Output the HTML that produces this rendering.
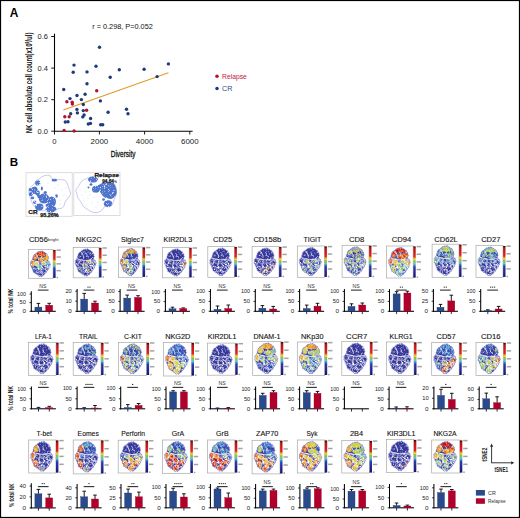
<!DOCTYPE html>
<html><head><meta charset="utf-8"><style>
html,body{margin:0;padding:0;background:#fff;}
svg{display:block;font-family:"Liberation Sans", sans-serif;}
</style></head><body>
<svg width="520" height="518" viewBox="0 0 520 518">
<rect x="0" y="0" width="520" height="518" fill="#fff"/>
<text x="9.7" y="16.7" font-size="11.9" text-anchor="start" fill="#000" font-weight="bold" >A</text>
<text x="92.2" y="29.1" font-size="7.4" text-anchor="start" fill="#111" font-weight="normal" textLength="60.6" lengthAdjust="spacingAndGlyphs" >r = 0.298, P=0.052</text>
<line x1="54.5" y1="33.7" x2="54.5" y2="131.8" stroke="#000" stroke-width="1.1"/>
<line x1="54.0" y1="131.3" x2="192.6" y2="131.3" stroke="#000" stroke-width="1.1"/>
<line x1="51.2" y1="131.2" x2="54.5" y2="131.2" stroke="#000" stroke-width="0.9"/>
<text x="48" y="133.79999999999998" font-size="7.3" text-anchor="end" fill="#222" font-weight="normal" textLength="10.4" lengthAdjust="spacingAndGlyphs" >0.0</text>
<line x1="51.2" y1="99.7" x2="54.5" y2="99.7" stroke="#000" stroke-width="0.9"/>
<text x="48" y="102.3" font-size="7.3" text-anchor="end" fill="#222" font-weight="normal" textLength="10.4" lengthAdjust="spacingAndGlyphs" >0.2</text>
<line x1="51.2" y1="68.1" x2="54.5" y2="68.1" stroke="#000" stroke-width="0.9"/>
<text x="48" y="70.69999999999999" font-size="7.3" text-anchor="end" fill="#222" font-weight="normal" textLength="10.4" lengthAdjust="spacingAndGlyphs" >0.4</text>
<line x1="51.2" y1="36.5" x2="54.5" y2="36.5" stroke="#000" stroke-width="0.9"/>
<text x="48" y="39.1" font-size="7.3" text-anchor="end" fill="#222" font-weight="normal" textLength="10.4" lengthAdjust="spacingAndGlyphs" >0.6</text>
<line x1="54.5" y1="131.3" x2="54.5" y2="134.5" stroke="#000" stroke-width="0.9"/>
<text x="54.5" y="143.8" font-size="6.4" text-anchor="middle" fill="#222" font-weight="normal" textLength="4.3" lengthAdjust="spacingAndGlyphs" >0</text>
<line x1="99.4" y1="131.3" x2="99.4" y2="134.5" stroke="#000" stroke-width="0.9"/>
<text x="99.4" y="143.8" font-size="6.4" text-anchor="middle" fill="#222" font-weight="normal" textLength="17.6" lengthAdjust="spacingAndGlyphs" >2000</text>
<line x1="144.6" y1="131.3" x2="144.6" y2="134.5" stroke="#000" stroke-width="0.9"/>
<text x="144.6" y="143.8" font-size="6.4" text-anchor="middle" fill="#222" font-weight="normal" textLength="17.6" lengthAdjust="spacingAndGlyphs" >4000</text>
<line x1="189.8" y1="131.3" x2="189.8" y2="134.5" stroke="#000" stroke-width="0.9"/>
<text x="189.8" y="143.8" font-size="6.4" text-anchor="middle" fill="#222" font-weight="normal" textLength="17.6" lengthAdjust="spacingAndGlyphs" >6000</text>
<text x="123.1" y="157.0" font-size="8.8" text-anchor="middle" fill="#111" font-weight="normal" textLength="24.6" lengthAdjust="spacingAndGlyphs" stroke="#111" stroke-width="0.3">Diversity</text>
<g transform="translate(31.8,133.3) rotate(-90)">
<text x="0" y="0" font-size="8.6" font-weight="bold" fill="#111" textLength="100.8" lengthAdjust="spacingAndGlyphs">NK cell absolute cell count(x10<tspan font-size="4.5" dy="-2.6">9</tspan><tspan dy="2.6">/ul)</tspan></text>
</g>
<line x1="63.4" y1="110.0" x2="168.4" y2="72.7" stroke="#e39a25" stroke-width="1.05"/>
<circle cx="99.5" cy="47.3" r="1.7" fill="#1d3b7c"/>
<circle cx="74.0" cy="65.1" r="1.7" fill="#1d3b7c"/>
<circle cx="73.2" cy="72.3" r="1.7" fill="#1d3b7c"/>
<circle cx="87.0" cy="71.9" r="1.7" fill="#1d3b7c"/>
<circle cx="96.0" cy="66.2" r="1.7" fill="#1d3b7c"/>
<circle cx="119.3" cy="69.7" r="1.7" fill="#1d3b7c"/>
<circle cx="110.2" cy="77.3" r="1.7" fill="#1d3b7c"/>
<circle cx="87.0" cy="83.8" r="1.7" fill="#1d3b7c"/>
<circle cx="63.7" cy="89.5" r="1.7" fill="#1d3b7c"/>
<circle cx="85.1" cy="94.3" r="1.7" fill="#1d3b7c"/>
<circle cx="77.0" cy="95.5" r="1.7" fill="#1d3b7c"/>
<circle cx="70.0" cy="98.6" r="1.7" fill="#1d3b7c"/>
<circle cx="81.4" cy="99.6" r="1.7" fill="#1d3b7c"/>
<circle cx="100.4" cy="100.9" r="1.7" fill="#1d3b7c"/>
<circle cx="83.3" cy="104.5" r="1.7" fill="#1d3b7c"/>
<circle cx="76.9" cy="109.4" r="1.7" fill="#1d3b7c"/>
<circle cx="83.3" cy="110.6" r="1.7" fill="#1d3b7c"/>
<circle cx="70.7" cy="113.7" r="1.7" fill="#1d3b7c"/>
<circle cx="77.4" cy="112.9" r="1.7" fill="#1d3b7c"/>
<circle cx="108.1" cy="112.3" r="1.7" fill="#1d3b7c"/>
<circle cx="84.1" cy="115.0" r="1.7" fill="#1d3b7c"/>
<circle cx="82.8" cy="116.9" r="1.7" fill="#1d3b7c"/>
<circle cx="90.6" cy="118.5" r="1.7" fill="#1d3b7c"/>
<circle cx="65.3" cy="122.0" r="1.7" fill="#1d3b7c"/>
<circle cx="68.0" cy="121.7" r="1.7" fill="#1d3b7c"/>
<circle cx="88.3" cy="124.0" r="1.7" fill="#1d3b7c"/>
<circle cx="90.5" cy="123.4" r="1.7" fill="#1d3b7c"/>
<circle cx="100.7" cy="124.8" r="1.7" fill="#1d3b7c"/>
<circle cx="102.7" cy="124.7" r="1.7" fill="#1d3b7c"/>
<circle cx="144.1" cy="69.3" r="1.7" fill="#1d3b7c"/>
<circle cx="168.4" cy="63.9" r="1.7" fill="#1d3b7c"/>
<circle cx="157.1" cy="76.6" r="1.7" fill="#1d3b7c"/>
<circle cx="126.5" cy="109.2" r="1.7" fill="#1d3b7c"/>
<circle cx="128.0" cy="113.7" r="1.7" fill="#1d3b7c"/>
<circle cx="96.7" cy="90.7" r="1.7" fill="#b3112e"/>
<circle cx="66.9" cy="101.7" r="1.7" fill="#b3112e"/>
<circle cx="72.2" cy="102.2" r="1.7" fill="#b3112e"/>
<circle cx="72.4" cy="104.1" r="1.7" fill="#b3112e"/>
<circle cx="86.6" cy="110.2" r="1.7" fill="#b3112e"/>
<circle cx="64.8" cy="116.8" r="1.7" fill="#b3112e"/>
<circle cx="69.2" cy="116.8" r="1.7" fill="#b3112e"/>
<circle cx="64.1" cy="130.4" r="1.7" fill="#b3112e"/>
<circle cx="74.1" cy="131.0" r="1.7" fill="#b3112e"/>
<circle cx="217" cy="76.3" r="1.75" fill="#b3112e"/>
<text x="222.1" y="78.6" font-size="7.3" text-anchor="start" fill="#b8203f" font-weight="normal" textLength="24.7" lengthAdjust="spacingAndGlyphs" >Relapse</text>
<circle cx="217" cy="88.4" r="1.75" fill="#1d3b7c"/>
<text x="222.1" y="90.9" font-size="7.3" text-anchor="start" fill="#2f4a86" font-weight="normal" textLength="10.3" lengthAdjust="spacingAndGlyphs" >CR</text>
<defs>
<path id="blob" d="M47.3,3.3 C48.8,3.0 50.3,4.5 51.8,4.3 C53.4,4.2 55.1,1.9 56.6,2.2 C58.1,2.5 59.2,5.4 60.8,6.2 C62.3,7.1 64.4,6.3 65.9,7.2 C67.4,8.0 68.2,10.4 69.7,11.3 C71.2,12.2 73.9,11.6 75.1,12.7 C76.3,13.8 76.1,16.6 77.1,18.0 C78.2,19.4 80.7,19.6 81.4,21.0 C82.0,22.3 80.7,24.6 81.0,26.0 C81.3,27.4 83.4,28.0 83.3,29.2 C83.2,30.5 80.9,32.3 80.4,33.6 C79.9,34.8 80.1,35.6 80.4,36.7 C80.8,37.8 81.3,39.2 82.5,40.2 C83.7,41.3 86.8,41.9 87.7,43.1 C88.6,44.3 87.4,45.9 88.0,47.3 C88.6,48.7 91.4,50.2 91.5,51.5 C91.6,52.8 88.9,54.0 88.4,55.3 C87.9,56.7 89.0,58.5 88.5,59.8 C87.9,61.1 85.6,61.9 84.9,63.3 C84.2,64.7 85.0,67.0 84.3,68.1 C83.5,69.2 81.3,69.0 80.5,70.0 C79.7,70.9 80.3,72.5 79.4,73.6 C78.5,74.8 76.2,75.2 75.1,76.6 C74.1,78.0 74.3,80.6 73.1,81.9 C71.8,83.2 69.2,83.2 67.7,84.6 C66.1,86.0 65.2,88.9 63.7,90.1 C62.2,91.3 60.3,90.7 58.7,91.8 C57.2,92.9 56.0,96.1 54.4,96.6 C52.8,97.1 51.0,94.8 49.2,94.8 C47.5,94.7 45.6,96.6 44.1,96.1 C42.6,95.6 41.7,92.5 40.3,91.6 C38.9,90.6 37.3,91.0 35.9,90.2 C34.5,89.3 33.4,87.2 31.9,86.4 C30.3,85.7 28.0,86.5 26.6,85.7 C25.2,84.9 24.8,82.5 23.4,81.6 C22.0,80.7 19.3,81.3 18.3,80.1 C17.3,78.9 18.1,76.0 17.5,74.5 C16.8,72.9 14.8,72.3 14.2,70.9 C13.5,69.4 14.2,67.4 13.6,66.0 C12.9,64.6 10.9,63.9 10.2,62.6 C9.5,61.2 10.1,59.4 9.3,58.0 C8.5,56.6 5.8,55.8 5.4,54.3 C5.0,52.7 7.0,50.5 7.0,48.6 C7.0,46.8 4.8,44.5 5.4,43.1 C6.0,41.7 9.2,41.3 10.3,40.2 C11.5,39.1 11.4,37.8 12.1,36.7 C12.9,35.6 14.5,34.8 15.0,33.6 C15.5,32.3 14.5,30.5 14.9,29.2 C15.3,28.0 17.1,27.4 17.5,26.0 C17.9,24.6 16.9,22.1 17.4,21.0 C18.0,19.8 20.2,20.2 21.0,19.3 C21.8,18.4 21.2,16.3 22.4,15.4 C23.5,14.5 26.3,14.9 27.9,14.0 C29.4,13.1 30.4,10.7 31.7,9.9 C32.9,9.1 34.3,9.9 35.3,9.2 C36.4,8.5 36.7,6.1 38.0,5.5 C39.2,5.0 41.3,6.4 42.8,6.0 C44.4,5.6 45.8,3.6 47.3,3.3Z"/>
<clipPath id="bc" clipPathUnits="userSpaceOnUse"><use href="#blob"/></clipPath>
<filter id="bl" x="-50%" y="-50%" width="200%" height="200%"><feGaussianBlur stdDeviation="1.2"/></filter>
<filter id="sp" x="0" y="0" width="100%" height="100%" color-interpolation-filters="sRGB"><feTurbulence type="fractalNoise" baseFrequency="0.14 0.12" numOctaves="3" seed="7" result="n"/><feColorMatrix in="n" type="matrix" values="0 0 0 0 0.85  0 0 0 0 0.85  0 0 0 0 0.97  3.0 0 0 0 -1.5"/></filter>
<filter id="gb" x="-10%" y="-10%" width="120%" height="120%"><feGaussianBlur stdDeviation="1.4"/></filter>
<g id="gaps" fill="none" stroke="#fff" stroke-opacity="0.78" filter="url(#gb)">
<path d="M8,36 C20,38 32,41 46,43 C58,44 72,41 86,40" stroke-width="3.2"/>
<path d="M31,14 C35,20 38,26 42,32" stroke-width="3.2"/>
<ellipse cx="14" cy="47" rx="8" ry="10.5" stroke-width="2.4"/>
<ellipse cx="33" cy="48" rx="10" ry="7" stroke-width="2.4"/>
<ellipse cx="46" cy="61" rx="10" ry="7.5" stroke-width="2.4"/>
<ellipse cx="80" cy="54" rx="11" ry="9.5" stroke-width="2.4"/>
<ellipse cx="61" cy="48" rx="8.5" ry="7" stroke-width="2.4"/>
<ellipse cx="24" cy="74" rx="10.5" ry="9.5" stroke-width="2.4"/>
<ellipse cx="48" cy="85" rx="10.5" ry="9" stroke-width="2.4"/>
<ellipse cx="62" cy="75" rx="11" ry="8.5" stroke-width="2.4"/>
<ellipse cx="78" cy="69" rx="6.5" ry="6.5" stroke-width="2.4"/>
</g>
<filter id="sb" x="0" y="0" width="100%" height="100%" color-interpolation-filters="sRGB"><feTurbulence type="fractalNoise" baseFrequency="0.3 0.26" numOctaves="2" seed="21" result="n"/><feColorMatrix in="n" type="matrix" values="0 0 0 0 0.16  0 0 0 0 0.16  0 0 0 0 0.5  4.0 0 0 0 -2.75"/></filter>
<filter id="sp2" x="0" y="0" width="100%" height="100%" color-interpolation-filters="sRGB"><feTurbulence type="fractalNoise" baseFrequency="0.16 0.14" numOctaves="2" seed="11" result="n"/><feColorMatrix in="n" type="matrix" values="0 0 0 0 1  0 0 0 0 1  0 0 0 0 1  6 0 0 0 -3.6"/></filter>
<linearGradient id="jet" x1="0" y1="1" x2="0" y2="0">
<stop offset="0" stop-color="#0e0e48"/>
<stop offset="0.05" stop-color="#1c1c82"/>
<stop offset="0.33" stop-color="#2a3aa2"/>
<stop offset="0.39" stop-color="#3f7fcc"/>
<stop offset="0.43" stop-color="#5cc0e2"/>
<stop offset="0.48" stop-color="#7cc070"/>
<stop offset="0.54" stop-color="#92c23c"/>
<stop offset="0.58" stop-color="#e6dc2c"/>
<stop offset="0.62" stop-color="#f19a22"/>
<stop offset="0.67" stop-color="#dc2420"/>
<stop offset="0.93" stop-color="#bc1212"/>
<stop offset="1" stop-color="#1e0404"/>
</linearGradient>
</defs>
<text x="9.7" y="166.2" font-size="11.6" text-anchor="start" fill="#000" font-weight="bold" >B</text>
<rect x="28.5" y="249.6" width="24.6" height="28.700000000000017" fill="#fff" stroke="#a8a8a8" stroke-width="0.7"/>
<g transform="translate(29.00,250.10) scale(0.2360,0.2770)">
<g clip-path="url(#bc)">
<rect width="100" height="100" fill="#373c9d"/>
<g filter="url(#bl)">
<ellipse cx="52" cy="13" rx="22" ry="8" fill="#f07b22"/>
<circle cx="47.9" cy="15.6" r="2.2" fill="#b10c15"/>
<circle cx="57.1" cy="11.5" r="2.2" fill="#ef7222"/>
<circle cx="49.7" cy="16.9" r="2.4" fill="#ae0b14"/>
<circle cx="68.6" cy="9.7" r="2.9" fill="#c51519"/>
<circle cx="58.8" cy="14.4" r="2.8" fill="#d51d1c"/>
<circle cx="64.3" cy="17.8" r="2.3" fill="#eb5720"/>
<circle cx="64.3" cy="15.2" r="2.1" fill="#e8401e"/>
<circle cx="51.3" cy="6.9" r="3.1" fill="#bb1117"/>
<circle cx="51.0" cy="6.5" r="2.5" fill="#ed6020"/>
<circle cx="34.7" cy="14.0" r="2.3" fill="#de2d1d"/>
<circle cx="63.7" cy="10.6" r="3.2" fill="#d31c1c"/>
<circle cx="62.8" cy="16.6" r="2.8" fill="#e1311d"/>
<circle cx="71.0" cy="11.7" r="2.8" fill="#e73c1e"/>
<circle cx="71.8" cy="11.2" r="2.1" fill="#f28423"/>
<circle cx="69.6" cy="12.1" r="2.7" fill="#ca181a"/>
<circle cx="44.2" cy="15.2" r="3.0" fill="#e63b1e"/>
<circle cx="51.9" cy="6.5" r="2.5" fill="#b30d15"/>
<circle cx="41.5" cy="12.1" r="2.5" fill="#d9241c"/>
<circle cx="32.1" cy="13.4" r="2.9" fill="#ee6721"/>
<circle cx="63.3" cy="16.1" r="2.4" fill="#f07922"/>
<circle cx="36.5" cy="9.0" r="2.7" fill="#e73c1e"/>
<circle cx="56.2" cy="18.4" r="2.0" fill="#e0301d"/>
<circle cx="36.0" cy="15.1" r="2.7" fill="#b50e15"/>
<circle cx="54.5" cy="6.3" r="3.1" fill="#f07a22"/>
<circle cx="56.3" cy="7.5" r="3.2" fill="#b00c14"/>
<circle cx="51.9" cy="17.6" r="2.3" fill="#ee6821"/>
<circle cx="37.3" cy="10.0" r="2.3" fill="#dc2a1d"/>
<circle cx="60.7" cy="18.1" r="2.3" fill="#f18023"/>
<circle cx="35.2" cy="12.1" r="2.2" fill="#d9241c"/>
<circle cx="51.3" cy="15.6" r="2.4" fill="#ec5a20"/>
<circle cx="62.4" cy="12.6" r="2.7" fill="#e9451e"/>
<circle cx="37.9" cy="16.9" r="2.9" fill="#da261d"/>
<circle cx="61.8" cy="7.8" r="2.1" fill="#df2f1d"/>
<circle cx="51.6" cy="14.3" r="2.7" fill="#f17e22"/>
<circle cx="43.1" cy="16.7" r="2.2" fill="#f18223"/>
<ellipse cx="60" cy="33" rx="20" ry="8" fill="#f5b42c"/>
<circle cx="51.5" cy="28.3" r="2.3" fill="#f4ad2b"/>
<circle cx="57.8" cy="27.1" r="2.6" fill="#f17d22"/>
<circle cx="73.2" cy="28.8" r="2.2" fill="#f4a529"/>
<circle cx="72.8" cy="27.3" r="3.0" fill="#f4ae2b"/>
<circle cx="66.7" cy="31.1" r="2.4" fill="#e5391e"/>
<circle cx="60.4" cy="33.9" r="3.1" fill="#f28c24"/>
<circle cx="56.9" cy="25.1" r="2.9" fill="#f39726"/>
<circle cx="61.4" cy="36.7" r="2.1" fill="#f28923"/>
<circle cx="63.4" cy="30.2" r="2.3" fill="#f39c27"/>
<circle cx="71.7" cy="38.0" r="3.0" fill="#f39826"/>
<circle cx="60.2" cy="38.6" r="3.2" fill="#e8401e"/>
<circle cx="69.0" cy="29.9" r="2.0" fill="#f4b02b"/>
<circle cx="43.1" cy="36.6" r="2.9" fill="#f07622"/>
<circle cx="68.8" cy="35.1" r="2.6" fill="#f39125"/>
<circle cx="44.0" cy="29.2" r="2.1" fill="#e73d1e"/>
<circle cx="45.2" cy="31.6" r="2.4" fill="#f28d24"/>
<circle cx="62.6" cy="30.4" r="2.8" fill="#ea4a1f"/>
<circle cx="55.3" cy="32.3" r="2.4" fill="#ea4a1f"/>
<circle cx="54.2" cy="29.2" r="2.3" fill="#ef7021"/>
<circle cx="56.9" cy="33.3" r="2.3" fill="#f28c24"/>
<circle cx="52.9" cy="35.5" r="2.4" fill="#f4a329"/>
<circle cx="62.9" cy="27.0" r="3.1" fill="#f39826"/>
<circle cx="68.1" cy="30.9" r="2.1" fill="#f4aa2a"/>
<circle cx="56.6" cy="25.9" r="2.4" fill="#ee6d21"/>
<circle cx="48.1" cy="31.8" r="3.0" fill="#f4b02b"/>
<circle cx="54.8" cy="36.8" r="2.3" fill="#f5b62c"/>
<circle cx="57.2" cy="34.8" r="2.3" fill="#f07b22"/>
<circle cx="43.2" cy="36.4" r="2.6" fill="#ee6721"/>
<circle cx="71.7" cy="33.1" r="2.8" fill="#e63a1e"/>
<circle cx="57.0" cy="36.6" r="2.7" fill="#f39c27"/>
<circle cx="52.5" cy="29.8" r="2.9" fill="#f5b62c"/>
<circle cx="69.2" cy="36.8" r="2.4" fill="#f39626"/>
<ellipse cx="78" cy="24" rx="8" ry="10" fill="#e7d338"/>
<circle cx="74.8" cy="21.0" r="3.2" fill="#f4b12b"/>
<circle cx="78.6" cy="26.1" r="2.5" fill="#e8d036"/>
<circle cx="80.7" cy="21.0" r="2.8" fill="#e9d036"/>
<circle cx="74.7" cy="21.6" r="2.3" fill="#eec532"/>
<circle cx="74.9" cy="22.2" r="2.2" fill="#f0c331"/>
<circle cx="78.5" cy="22.0" r="3.0" fill="#f39e28"/>
<circle cx="75.3" cy="23.0" r="3.1" fill="#f3bc2e"/>
<circle cx="78.7" cy="19.1" r="2.1" fill="#f4ab2a"/>
<circle cx="72.8" cy="25.0" r="2.3" fill="#f4a128"/>
<circle cx="81.1" cy="28.4" r="2.7" fill="#edc933"/>
<circle cx="79.8" cy="26.8" r="2.2" fill="#f39626"/>
<circle cx="82.8" cy="18.8" r="2.0" fill="#f5b62c"/>
<circle cx="77.8" cy="15.8" r="2.6" fill="#edc833"/>
<circle cx="77.8" cy="21.1" r="2.9" fill="#efc431"/>
<circle cx="83.5" cy="23.7" r="2.6" fill="#e8d137"/>
<circle cx="83.3" cy="27.5" r="2.5" fill="#f4ab2a"/>
<ellipse cx="26" cy="25" rx="9" ry="10" fill="#f4aa2a"/>
<circle cx="22.6" cy="32.1" r="2.4" fill="#f39526"/>
<circle cx="30.6" cy="24.6" r="2.9" fill="#f4ae2b"/>
<circle cx="23.5" cy="33.1" r="3.0" fill="#e9431e"/>
<circle cx="34.0" cy="23.6" r="2.2" fill="#f4ae2b"/>
<circle cx="26.6" cy="20.2" r="3.0" fill="#f39726"/>
<circle cx="19.5" cy="22.5" r="3.1" fill="#f5b22c"/>
<circle cx="25.5" cy="28.8" r="2.8" fill="#f28d24"/>
<circle cx="25.5" cy="23.1" r="2.2" fill="#eb5820"/>
<circle cx="23.0" cy="21.8" r="2.5" fill="#ed6521"/>
<circle cx="25.9" cy="18.1" r="2.6" fill="#ed6621"/>
<circle cx="18.9" cy="26.1" r="2.5" fill="#f4a529"/>
<circle cx="18.6" cy="27.9" r="2.1" fill="#e0301d"/>
<circle cx="19.7" cy="24.2" r="3.2" fill="#f28623"/>
<circle cx="18.5" cy="26.3" r="2.5" fill="#eb511f"/>
<circle cx="34.9" cy="25.5" r="2.9" fill="#eb5720"/>
<circle cx="29.6" cy="21.2" r="3.2" fill="#e0301d"/>
<circle cx="27.4" cy="34.1" r="2.0" fill="#ec5820"/>
<circle cx="25.5" cy="33.1" r="2.1" fill="#f28f25"/>
<ellipse cx="14" cy="47" rx="9" ry="11" fill="#f4aa2a"/>
<circle cx="16.2" cy="43.0" r="2.2" fill="#f4a128"/>
<circle cx="12.8" cy="47.2" r="2.5" fill="#e9481f"/>
<circle cx="16.8" cy="47.1" r="2.6" fill="#f4a629"/>
<circle cx="13.7" cy="46.3" r="2.4" fill="#f28423"/>
<circle cx="11.6" cy="40.7" r="2.9" fill="#e4371e"/>
<circle cx="10.6" cy="44.7" r="2.7" fill="#f4ad2b"/>
<circle cx="12.0" cy="53.3" r="2.1" fill="#f07822"/>
<circle cx="18.0" cy="43.2" r="2.5" fill="#f28923"/>
<circle cx="14.0" cy="56.3" r="2.9" fill="#e3351d"/>
<circle cx="13.7" cy="50.7" r="2.7" fill="#e9451e"/>
<circle cx="19.1" cy="39.7" r="2.6" fill="#e4371e"/>
<circle cx="17.7" cy="53.2" r="2.1" fill="#f39d27"/>
<circle cx="11.7" cy="47.7" r="2.1" fill="#e73d1e"/>
<circle cx="14.5" cy="53.8" r="2.9" fill="#ed6321"/>
<circle cx="15.3" cy="50.7" r="3.1" fill="#f3a028"/>
<circle cx="16.1" cy="48.8" r="2.7" fill="#f4a729"/>
<circle cx="16.8" cy="41.1" r="2.3" fill="#ef7121"/>
<circle cx="13.0" cy="42.2" r="3.0" fill="#e83e1e"/>
<circle cx="8.4" cy="46.6" r="2.3" fill="#f5b22c"/>
<circle cx="11.2" cy="39.5" r="2.3" fill="#f28f25"/>
<ellipse cx="32" cy="50" rx="9" ry="9" fill="#bcd64d"/>
<circle cx="34.4" cy="44.9" r="3.0" fill="#e7d237"/>
<circle cx="37.4" cy="43.7" r="2.0" fill="#e9ce36"/>
<circle cx="32.8" cy="55.0" r="2.9" fill="#d6dc41"/>
<circle cx="37.7" cy="50.8" r="2.8" fill="#e2db3b"/>
<circle cx="29.8" cy="41.3" r="3.0" fill="#edc833"/>
<circle cx="39.7" cy="47.5" r="2.7" fill="#e1de3c"/>
<circle cx="30.8" cy="45.1" r="2.6" fill="#edc833"/>
<circle cx="35.5" cy="43.3" r="3.0" fill="#e6d538"/>
<circle cx="24.7" cy="54.4" r="2.3" fill="#efc431"/>
<circle cx="26.2" cy="46.0" r="2.4" fill="#d3db42"/>
<circle cx="36.6" cy="50.6" r="3.2" fill="#ceda45"/>
<circle cx="32.5" cy="54.5" r="2.2" fill="#b1d352"/>
<circle cx="27.5" cy="51.5" r="2.8" fill="#d6db41"/>
<circle cx="33.2" cy="45.0" r="3.2" fill="#e3db3b"/>
<circle cx="32.3" cy="56.9" r="2.8" fill="#eacd35"/>
<circle cx="23.8" cy="53.8" r="2.1" fill="#bed64c"/>
<ellipse cx="46" cy="60" rx="9" ry="8" fill="#5fb9e1"/>
<circle cx="45.2" cy="66.4" r="2.8" fill="#65bbd3"/>
<circle cx="40.7" cy="54.2" r="2.1" fill="#67bccd"/>
<circle cx="40.3" cy="60.0" r="2.2" fill="#76c1ab"/>
<circle cx="51.5" cy="63.4" r="2.1" fill="#9cce5c"/>
<circle cx="46.6" cy="62.4" r="2.8" fill="#98cd5e"/>
<circle cx="38.6" cy="64.2" r="2.2" fill="#89c87d"/>
<circle cx="46.1" cy="64.9" r="3.0" fill="#91cb6b"/>
<circle cx="51.1" cy="63.8" r="2.1" fill="#68bccd"/>
<circle cx="41.3" cy="60.2" r="2.8" fill="#5eb6e1"/>
<circle cx="54.2" cy="57.2" r="2.9" fill="#7bc39f"/>
<circle cx="38.5" cy="57.4" r="2.6" fill="#8cc978"/>
<circle cx="42.1" cy="64.0" r="2.9" fill="#76c1ab"/>
<circle cx="41.2" cy="57.0" r="2.4" fill="#66bbd1"/>
<circle cx="53.3" cy="60.7" r="3.0" fill="#66bcd0"/>
<ellipse cx="64" cy="48" rx="10" ry="6" fill="#84c68a"/>
<circle cx="55.2" cy="50.3" r="3.0" fill="#e1dd3c"/>
<circle cx="64.3" cy="52.7" r="2.4" fill="#89c87d"/>
<circle cx="63.4" cy="53.6" r="2.1" fill="#96cd5f"/>
<circle cx="71.5" cy="46.9" r="2.7" fill="#9fcf5b"/>
<circle cx="58.4" cy="49.2" r="2.7" fill="#e2dd3b"/>
<circle cx="57.1" cy="47.3" r="2.8" fill="#8bc978"/>
<circle cx="62.7" cy="43.8" r="2.5" fill="#c4d74a"/>
<circle cx="57.0" cy="50.5" r="2.2" fill="#add254"/>
<circle cx="57.2" cy="44.1" r="3.1" fill="#e3da3b"/>
<circle cx="56.7" cy="50.1" r="2.7" fill="#d0da44"/>
<circle cx="68.0" cy="50.9" r="2.3" fill="#80c592"/>
<circle cx="65.6" cy="45.5" r="2.9" fill="#91cb6b"/>
<ellipse cx="83" cy="54" rx="10" ry="9" fill="#4e8cda"/>
<circle cx="78.9" cy="60.9" r="3.1" fill="#5fb8e1"/>
<circle cx="77.5" cy="58.3" r="3.0" fill="#71c0b6"/>
<circle cx="79.3" cy="49.8" r="3.2" fill="#6cbec3"/>
<circle cx="82.4" cy="54.7" r="2.1" fill="#4c88d9"/>
<circle cx="84.7" cy="48.2" r="3.1" fill="#4e8cda"/>
<circle cx="91.1" cy="55.7" r="2.5" fill="#56a2de"/>
<circle cx="82.6" cy="47.5" r="2.0" fill="#4a83d9"/>
<circle cx="79.0" cy="59.7" r="2.1" fill="#72c0b5"/>
<circle cx="74.5" cy="51.5" r="2.3" fill="#7cc39d"/>
<circle cx="80.0" cy="50.0" r="2.1" fill="#7ec498"/>
<circle cx="86.5" cy="57.2" r="2.1" fill="#5eb6e0"/>
<circle cx="76.3" cy="59.5" r="2.9" fill="#6abdc8"/>
<circle cx="82.7" cy="47.9" r="2.9" fill="#71bfb7"/>
<circle cx="90.6" cy="58.5" r="2.9" fill="#72c0b4"/>
<circle cx="82.0" cy="61.2" r="3.2" fill="#5fb8e1"/>
<circle cx="91.9" cy="56.0" r="2.0" fill="#7ec498"/>
<circle cx="92.1" cy="54.7" r="2.6" fill="#5194db"/>
<circle cx="84.2" cy="45.5" r="2.6" fill="#5093db"/>
<ellipse cx="88" cy="46" rx="4" ry="5" fill="#7cc49c"/>
<circle cx="89.2" cy="41.7" r="3.0" fill="#b2d352"/>
<circle cx="86.9" cy="45.3" r="3.2" fill="#8eca73"/>
<circle cx="91.4" cy="48.0" r="3.0" fill="#91cb6b"/>
<circle cx="91.4" cy="44.1" r="3.1" fill="#d6dc41"/>
<ellipse cx="23" cy="71" rx="10" ry="11" fill="#3a47a8"/>
<circle cx="19.4" cy="74.7" r="2.4" fill="#4a82d8"/>
<circle cx="29.9" cy="67.2" r="2.9" fill="#4572d1"/>
<circle cx="27.8" cy="75.3" r="2.5" fill="#4575d4"/>
<circle cx="19.4" cy="67.5" r="2.7" fill="#4f91db"/>
<circle cx="26.3" cy="68.7" r="2.4" fill="#5db3e0"/>
<circle cx="28.9" cy="75.9" r="2.0" fill="#487ed8"/>
<circle cx="16.7" cy="75.9" r="3.1" fill="#436aca"/>
<ellipse cx="53" cy="76" rx="9" ry="9" fill="#3941a3"/>
<circle cx="44.7" cy="79.2" r="2.1" fill="#539adc"/>
<circle cx="58.4" cy="71.3" r="2.3" fill="#5fb9e1"/>
<circle cx="61.0" cy="78.1" r="2.1" fill="#4c88d9"/>
</g>
<rect width="100" height="100" filter="url(#sb)"/>
<use href="#gaps"/>
<rect width="100" height="100" filter="url(#sp)"/>
<rect y="50" width="100" height="50" filter="url(#sp2)"/>
</g>
<use href="#blob" fill="none" stroke="#9090dd" stroke-width="2.4" stroke-opacity="0.85"/>
</g>
<rect x="53.20" y="250.00" width="2.4" height="27.90" fill="url(#jet)"/>
<rect x="56.50" y="249.45" width="4.4" height="1.5" fill="#a4a4a4"/>
<rect x="56.50" y="256.27" width="4.4" height="1.5" fill="#a4a4a4"/>
<rect x="56.50" y="263.10" width="4.4" height="1.5" fill="#a4a4a4"/>
<rect x="56.50" y="269.93" width="4.4" height="1.5" fill="#a4a4a4"/>
<rect x="56.50" y="276.75" width="1.6" height="1.5" fill="#a4a4a4"/>
<text x="29" y="242.3" font-size="7.9" text-anchor="start" fill="#111" font-weight="normal" textLength="18.799999999999997" lengthAdjust="spacingAndGlyphs" stroke="#111" stroke-width="0.12">CD56</text>
<text x="48.099999999999994" y="240.8" font-size="4.0" text-anchor="start" fill="#222" font-weight="normal" textLength="10.4" lengthAdjust="spacingAndGlyphs" >bright</text>
<line x1="31.3" y1="291.3" x2="31.3" y2="311.8" stroke="#000" stroke-width="1.05"/>
<line x1="30.8" y1="311.3" x2="55.8" y2="311.3" stroke="#000" stroke-width="1.05"/>
<line x1="29.5" y1="294" x2="31.3" y2="294" stroke="#000" stroke-width="0.8"/>
<text x="26.0" y="295.8" font-size="5.2" text-anchor="end" fill="#222" font-weight="normal" textLength="8.9" lengthAdjust="spacingAndGlyphs" >100</text>
<line x1="29.5" y1="302.6" x2="31.3" y2="302.6" stroke="#000" stroke-width="0.8"/>
<text x="26.0" y="304.40000000000003" font-size="5.2" text-anchor="end" fill="#222" font-weight="normal" textLength="6.4" lengthAdjust="spacingAndGlyphs" >50</text>
<line x1="29.5" y1="311.3" x2="31.3" y2="311.3" stroke="#000" stroke-width="0.8"/>
<text x="26.0" y="313.1" font-size="5.2" text-anchor="end" fill="#222" font-weight="normal" textLength="3.5" lengthAdjust="spacingAndGlyphs" >0</text>
<line x1="38.4" y1="311.3" x2="38.4" y2="314.1" stroke="#000" stroke-width="0.8"/>
<line x1="49.2" y1="311.3" x2="49.2" y2="314.1" stroke="#000" stroke-width="0.8"/>
<line x1="38.4" y1="303.4" x2="38.4" y2="307.1" stroke="#000" stroke-width="0.9"/>
<line x1="36.6" y1="303.4" x2="40.199999999999996" y2="303.4" stroke="#000" stroke-width="0.9"/>
<rect x="34.90" y="307.10" width="7.00" height="4.20" fill="#2b4a8b" stroke="#1a3570" stroke-width="0.35"/>
<line x1="49.2" y1="303.3" x2="49.2" y2="305.2" stroke="#000" stroke-width="0.9"/>
<line x1="47.400000000000006" y1="303.3" x2="51.0" y2="303.3" stroke="#000" stroke-width="0.9"/>
<rect x="45.70" y="305.20" width="7.00" height="6.10" fill="#b0002c" stroke="#9a0026" stroke-width="0.35"/>
<line x1="37.85" y1="290.1" x2="48.550000000000004" y2="290.1" stroke="#3a3a3a" stroke-width="1.15"/>
<text x="42.900000000000006" y="287.90000000000003" font-size="4.8" text-anchor="middle" fill="#333" font-weight="normal" textLength="7.2" lengthAdjust="spacingAndGlyphs" >NS</text>
<rect x="73.2" y="247.4" width="25.799999999999997" height="30.400000000000006" fill="#fff" stroke="#a8a8a8" stroke-width="0.7"/>
<g transform="translate(73.70,247.90) scale(0.2480,0.2940)">
<g clip-path="url(#bc)">
<rect width="100" height="100" fill="#36399a"/>
<g filter="url(#bl)">
<ellipse cx="52" cy="13" rx="22" ry="8" fill="#383d9f"/>
<circle cx="46.7" cy="16.1" r="2.4" fill="#56a1dd"/>
<circle cx="66.9" cy="18.4" r="3.2" fill="#7cc49c"/>
<circle cx="50.0" cy="19.2" r="2.2" fill="#85c788"/>
<circle cx="46.3" cy="18.8" r="2.0" fill="#64bbd6"/>
<circle cx="38.4" cy="14.1" r="2.8" fill="#8fca70"/>
<ellipse cx="46" cy="60" rx="9" ry="8" fill="#4a84d9"/>
<circle cx="50.1" cy="65.1" r="2.7" fill="#f4a429"/>
<circle cx="53.4" cy="60.7" r="2.3" fill="#e5d739"/>
<circle cx="49.4" cy="66.4" r="3.1" fill="#f3a028"/>
<circle cx="47.9" cy="57.3" r="2.6" fill="#f39626"/>
<circle cx="47.4" cy="58.8" r="2.2" fill="#ebcc35"/>
<circle cx="37.5" cy="57.9" r="2.9" fill="#e6d538"/>
<circle cx="46.6" cy="55.8" r="2.9" fill="#f39826"/>
<ellipse cx="64" cy="48" rx="10" ry="6" fill="#4679d7"/>
<circle cx="65.6" cy="52.5" r="2.8" fill="#f5b62c"/>
<circle cx="58.4" cy="46.6" r="3.2" fill="#f1c130"/>
<circle cx="63.9" cy="42.0" r="2.2" fill="#e2db3b"/>
<circle cx="57.3" cy="45.9" r="2.9" fill="#eec632"/>
<circle cx="67.4" cy="45.3" r="3.2" fill="#e7d338"/>
<circle cx="65.7" cy="47.8" r="2.3" fill="#f3bd2f"/>
<ellipse cx="83" cy="54" rx="10" ry="9" fill="#3e57b8"/>
<circle cx="82.9" cy="49.3" r="2.4" fill="#c0d64c"/>
<circle cx="91.3" cy="54.4" r="2.9" fill="#e9d036"/>
<circle cx="88.2" cy="50.5" r="2.6" fill="#e8d036"/>
<circle cx="77.5" cy="53.7" r="2.0" fill="#e7d338"/>
<circle cx="83.2" cy="61.6" r="3.0" fill="#c6d849"/>
<ellipse cx="88" cy="46" rx="4" ry="5" fill="#5092db"/>
<circle cx="87.6" cy="43.4" r="2.4" fill="#efc432"/>
<circle cx="86.9" cy="46.4" r="2.5" fill="#cbd946"/>
<ellipse cx="23" cy="71" rx="10" ry="11" fill="#3a45a6"/>
<circle cx="27.3" cy="74.7" r="2.6" fill="#82c68e"/>
<circle cx="16.9" cy="71.1" r="2.9" fill="#cfda45"/>
<circle cx="26.5" cy="68.9" r="2.4" fill="#7dc49b"/>
<circle cx="24.1" cy="73.1" r="2.5" fill="#98cd5e"/>
<ellipse cx="53" cy="76" rx="9" ry="9" fill="#3e57b8"/>
<circle cx="60.0" cy="76.2" r="2.7" fill="#a7d157"/>
<circle cx="61.1" cy="74.4" r="3.1" fill="#efc532"/>
<circle cx="52.2" cy="74.2" r="3.2" fill="#9ecf5b"/>
<circle cx="51.2" cy="75.9" r="2.8" fill="#a1d05a"/>
<circle cx="57.8" cy="76.5" r="2.1" fill="#e9ce36"/>
<circle cx="52" cy="44" r="3.5" fill="#ef6f21"/>
<circle cx="44" cy="55" r="2.5" fill="#db271d"/>
<circle cx="66" cy="40" r="2.5" fill="#ebcb34"/>
<circle cx="88" cy="50" r="2.5" fill="#e5d739"/>
<circle cx="75" cy="74" r="2.5" fill="#e5d739"/>
<circle cx="30" cy="56" r="2" fill="#96cd5f"/>
</g>
<rect width="100" height="100" filter="url(#sb)"/>
<use href="#gaps"/>
<rect width="100" height="100" filter="url(#sp)"/>
<rect y="50" width="100" height="50" filter="url(#sp2)"/>
</g>
<use href="#blob" fill="none" stroke="#9090dd" stroke-width="2.4" stroke-opacity="0.85"/>
</g>
<rect x="99.10" y="247.80" width="2.4" height="29.60" fill="url(#jet)"/>
<rect x="102.40" y="247.25" width="4.4" height="1.5" fill="#a4a4a4"/>
<rect x="102.40" y="254.50" width="4.4" height="1.5" fill="#a4a4a4"/>
<rect x="102.40" y="261.75" width="4.4" height="1.5" fill="#a4a4a4"/>
<rect x="102.40" y="269.00" width="4.4" height="1.5" fill="#a4a4a4"/>
<rect x="102.40" y="276.25" width="1.6" height="1.5" fill="#a4a4a4"/>
<text x="75.8" y="242.3" font-size="7.9" text-anchor="start" fill="#111" font-weight="normal" textLength="25.799999999999997" lengthAdjust="spacingAndGlyphs" stroke="#111" stroke-width="0.12">NKG2C</text>
<line x1="77.1" y1="289.1" x2="77.1" y2="311.8" stroke="#000" stroke-width="1.05"/>
<line x1="76.6" y1="311.3" x2="101.6" y2="311.3" stroke="#000" stroke-width="1.05"/>
<line x1="75.3" y1="291.2" x2="77.1" y2="291.2" stroke="#000" stroke-width="0.8"/>
<text x="71.8" y="293.0" font-size="5.2" text-anchor="end" fill="#222" font-weight="normal" textLength="6.4" lengthAdjust="spacingAndGlyphs" >20</text>
<line x1="75.3" y1="301.2" x2="77.1" y2="301.2" stroke="#000" stroke-width="0.8"/>
<text x="71.8" y="303.0" font-size="5.2" text-anchor="end" fill="#222" font-weight="normal" textLength="6.4" lengthAdjust="spacingAndGlyphs" >10</text>
<line x1="75.3" y1="311.3" x2="77.1" y2="311.3" stroke="#000" stroke-width="0.8"/>
<text x="71.8" y="313.1" font-size="5.2" text-anchor="end" fill="#222" font-weight="normal" textLength="3.5" lengthAdjust="spacingAndGlyphs" >0</text>
<line x1="84.19999999999999" y1="311.3" x2="84.19999999999999" y2="314.1" stroke="#000" stroke-width="0.8"/>
<line x1="95.0" y1="311.3" x2="95.0" y2="314.1" stroke="#000" stroke-width="0.8"/>
<line x1="84.19999999999999" y1="293.4" x2="84.19999999999999" y2="299.1" stroke="#000" stroke-width="0.9"/>
<line x1="82.39999999999999" y1="293.4" x2="85.99999999999999" y2="293.4" stroke="#000" stroke-width="0.9"/>
<rect x="80.70" y="299.10" width="7.00" height="12.20" fill="#2b4a8b" stroke="#1a3570" stroke-width="0.35"/>
<line x1="95.0" y1="301.2" x2="95.0" y2="303.0" stroke="#000" stroke-width="0.9"/>
<line x1="93.2" y1="301.2" x2="96.8" y2="301.2" stroke="#000" stroke-width="0.9"/>
<rect x="91.50" y="303.00" width="7.00" height="8.30" fill="#b0002c" stroke="#9a0026" stroke-width="0.35"/>
<line x1="83.65" y1="290.1" x2="94.35" y2="290.1" stroke="#3a3a3a" stroke-width="1.15"/>
<circle cx="88.00" cy="287.10" r="0.72" fill="#2a2a2a"/>
<circle cx="90.00" cy="287.10" r="0.72" fill="#2a2a2a"/>
<rect x="118.4" y="247.0" width="24.19999999999999" height="30.30000000000001" fill="#fff" stroke="#a8a8a8" stroke-width="0.7"/>
<g transform="translate(118.90,247.50) scale(0.2320,0.2930)">
<g clip-path="url(#bc)">
<rect width="100" height="100" fill="#373c9d"/>
<g filter="url(#bl)">
<ellipse cx="52" cy="13" rx="22" ry="8" fill="#92cc68"/>
<circle cx="42.6" cy="6.4" r="2.5" fill="#f39526"/>
<circle cx="65.5" cy="13.9" r="3.1" fill="#ef7422"/>
<circle cx="51.9" cy="19.4" r="2.3" fill="#f39325"/>
<circle cx="62.2" cy="9.2" r="2.2" fill="#f4ae2b"/>
<circle cx="53.0" cy="14.5" r="2.7" fill="#f4a329"/>
<circle cx="69.3" cy="9.1" r="3.1" fill="#f4a82a"/>
<circle cx="59.8" cy="15.8" r="2.7" fill="#f4aa2a"/>
<circle cx="44.7" cy="6.9" r="2.8" fill="#f39f28"/>
<circle cx="61.6" cy="13.2" r="2.6" fill="#e9441e"/>
<circle cx="63.9" cy="6.7" r="2.1" fill="#f4ae2b"/>
<circle cx="60.3" cy="6.1" r="2.5" fill="#f5b42c"/>
<circle cx="41.0" cy="11.6" r="2.2" fill="#f4a529"/>
<circle cx="41.3" cy="10.2" r="2.5" fill="#e63b1e"/>
<circle cx="39.3" cy="8.6" r="2.4" fill="#f4a329"/>
<circle cx="59.2" cy="12.6" r="3.0" fill="#f4ad2b"/>
<circle cx="63.1" cy="17.2" r="3.1" fill="#f4bb2e"/>
<circle cx="70.1" cy="14.2" r="2.8" fill="#f39c27"/>
<circle cx="52.9" cy="15.5" r="2.6" fill="#f5b42c"/>
<circle cx="48.3" cy="13.1" r="2.4" fill="#f28f25"/>
<circle cx="47.6" cy="7.7" r="2.5" fill="#f28923"/>
<circle cx="59.1" cy="5.7" r="2.3" fill="#ea4e1f"/>
<circle cx="69.6" cy="13.1" r="3.0" fill="#f28e24"/>
<circle cx="40.3" cy="15.9" r="2.4" fill="#f4ac2a"/>
<circle cx="66.5" cy="15.8" r="3.2" fill="#f39025"/>
<circle cx="33.6" cy="10.7" r="3.0" fill="#e73d1e"/>
<circle cx="66.6" cy="18.3" r="3.0" fill="#e73d1e"/>
<circle cx="30.5" cy="14.2" r="2.1" fill="#f17e22"/>
<circle cx="36.6" cy="17.2" r="2.5" fill="#f28423"/>
<circle cx="35.0" cy="14.3" r="2.1" fill="#e5391e"/>
<circle cx="68.6" cy="9.9" r="3.0" fill="#f39025"/>
<circle cx="50.9" cy="8.9" r="2.2" fill="#f39a27"/>
<circle cx="53.5" cy="14.9" r="2.8" fill="#f4a629"/>
<ellipse cx="60" cy="33" rx="20" ry="8" fill="#383fa1"/>
<circle cx="63.3" cy="38.2" r="2.7" fill="#4678d7"/>
<circle cx="76.0" cy="37.3" r="2.6" fill="#4471d0"/>
<circle cx="60.5" cy="39.4" r="2.3" fill="#405dbe"/>
<circle cx="59.9" cy="36.6" r="2.5" fill="#4c87d9"/>
<circle cx="61.0" cy="39.1" r="3.0" fill="#4165c5"/>
<circle cx="76.1" cy="36.2" r="2.5" fill="#4573d2"/>
<circle cx="53.8" cy="32.2" r="2.7" fill="#4b86d9"/>
<circle cx="65.8" cy="38.2" r="2.3" fill="#3c50b1"/>
<circle cx="64.4" cy="27.9" r="2.1" fill="#3d54b5"/>
<circle cx="77.3" cy="32.4" r="2.5" fill="#3e58b8"/>
<ellipse cx="26" cy="25" rx="9" ry="10" fill="#7cc39d"/>
<circle cx="29.0" cy="24.0" r="2.8" fill="#f5ba2d"/>
<circle cx="26.2" cy="26.9" r="3.2" fill="#f39e28"/>
<circle cx="33.5" cy="26.7" r="2.8" fill="#f39526"/>
<circle cx="27.4" cy="31.4" r="3.2" fill="#f17f22"/>
<circle cx="25.8" cy="21.2" r="3.0" fill="#ed6621"/>
<circle cx="28.9" cy="28.6" r="2.3" fill="#f39225"/>
<circle cx="18.5" cy="28.5" r="2.4" fill="#f07622"/>
<circle cx="26.2" cy="16.7" r="2.1" fill="#ef7121"/>
<circle cx="18.5" cy="28.3" r="2.2" fill="#f39826"/>
<circle cx="21.8" cy="22.1" r="2.0" fill="#f39426"/>
<circle cx="21.6" cy="32.7" r="2.8" fill="#f5b72d"/>
<circle cx="18.0" cy="21.5" r="2.8" fill="#f28c24"/>
<circle cx="19.1" cy="28.0" r="3.1" fill="#f5b92d"/>
<circle cx="25.2" cy="23.8" r="2.3" fill="#ec5f20"/>
<ellipse cx="14" cy="47" rx="9" ry="11" fill="#a8d156"/>
<circle cx="12.0" cy="38.8" r="2.3" fill="#f28e24"/>
<circle cx="15.5" cy="46.2" r="2.1" fill="#d7211c"/>
<circle cx="9.5" cy="52.7" r="2.5" fill="#f39025"/>
<circle cx="13.2" cy="44.6" r="2.2" fill="#e9451e"/>
<circle cx="9.5" cy="51.3" r="2.1" fill="#f07c22"/>
<circle cx="20.2" cy="47.1" r="2.9" fill="#f39f28"/>
<circle cx="15.7" cy="52.5" r="2.9" fill="#e83e1e"/>
<circle cx="14.3" cy="49.6" r="2.9" fill="#f39f28"/>
<circle cx="11.2" cy="49.0" r="2.0" fill="#ed6321"/>
<circle cx="19.3" cy="52.8" r="2.5" fill="#f07722"/>
<circle cx="17.5" cy="52.1" r="3.0" fill="#d7211c"/>
<circle cx="12.0" cy="51.2" r="2.0" fill="#dc291d"/>
<circle cx="13.7" cy="44.8" r="2.9" fill="#df2f1d"/>
<circle cx="6.2" cy="46.6" r="2.8" fill="#e83e1e"/>
<circle cx="16.1" cy="46.3" r="2.2" fill="#f3a028"/>
<circle cx="18.0" cy="54.4" r="3.2" fill="#f28e24"/>
<circle cx="16.7" cy="39.7" r="3.1" fill="#e63b1e"/>
<circle cx="10.3" cy="43.6" r="2.1" fill="#e83e1e"/>
<ellipse cx="32" cy="50" rx="9" ry="9" fill="#69bdca"/>
<circle cx="25.6" cy="50.6" r="3.0" fill="#e9ce36"/>
<circle cx="27.7" cy="54.5" r="2.6" fill="#f2bf2f"/>
<circle cx="34.1" cy="43.5" r="2.5" fill="#f3bd2e"/>
<circle cx="26.6" cy="46.9" r="3.1" fill="#dfde3d"/>
<circle cx="32.6" cy="50.7" r="3.0" fill="#f4bb2e"/>
<circle cx="37.9" cy="53.9" r="3.0" fill="#f4a529"/>
<circle cx="36.9" cy="50.6" r="3.1" fill="#f5b12b"/>
<circle cx="37.8" cy="43.9" r="2.7" fill="#cdd945"/>
<circle cx="25.9" cy="55.8" r="2.2" fill="#f4a629"/>
<circle cx="35.6" cy="45.6" r="3.2" fill="#e2dd3c"/>
<circle cx="38.2" cy="54.8" r="2.7" fill="#cdda45"/>
<circle cx="33.7" cy="43.0" r="2.1" fill="#d2db43"/>
<circle cx="25.6" cy="55.5" r="2.2" fill="#f5b62c"/>
<ellipse cx="46" cy="60" rx="9" ry="8" fill="#4981d8"/>
<circle cx="52.3" cy="62.7" r="2.9" fill="#a2d05a"/>
<circle cx="38.9" cy="57.5" r="2.8" fill="#a7d157"/>
<circle cx="40.2" cy="63.8" r="2.7" fill="#8eca71"/>
<circle cx="50.5" cy="60.9" r="3.1" fill="#e2dd3c"/>
<circle cx="45.7" cy="59.2" r="3.0" fill="#b4d451"/>
<circle cx="51.8" cy="61.0" r="2.1" fill="#b0d353"/>
<circle cx="39.1" cy="61.0" r="3.1" fill="#d0da44"/>
<circle cx="44.6" cy="63.7" r="2.9" fill="#ccd946"/>
<circle cx="38.5" cy="61.4" r="2.1" fill="#96cd60"/>
<ellipse cx="64" cy="48" rx="10" ry="6" fill="#3941a3"/>
<circle cx="71.4" cy="50.8" r="2.1" fill="#65bbd2"/>
<circle cx="60.6" cy="45.8" r="2.8" fill="#5fb9e0"/>
<ellipse cx="83" cy="54" rx="10" ry="9" fill="#3941a3"/>
<circle cx="90.7" cy="49.9" r="2.6" fill="#5eb5e0"/>
<circle cx="88.0" cy="61.1" r="2.0" fill="#4f90db"/>
<circle cx="84.4" cy="59.9" r="2.2" fill="#4471d0"/>
<circle cx="91.3" cy="54.4" r="3.1" fill="#5baedf"/>
<ellipse cx="88" cy="46" rx="4" ry="5" fill="#f4aa2a"/>
<circle cx="87.5" cy="43.7" r="2.5" fill="#f17d22"/>
<circle cx="89.6" cy="49.4" r="2.7" fill="#f07922"/>
<circle cx="87.5" cy="50.0" r="2.5" fill="#ec5c20"/>
<circle cx="85.8" cy="46.9" r="2.8" fill="#f28723"/>
<ellipse cx="23" cy="71" rx="10" ry="11" fill="#74c1af"/>
<circle cx="28.4" cy="68.7" r="2.8" fill="#f39a27"/>
<circle cx="24.6" cy="68.8" r="2.2" fill="#df2f1d"/>
<circle cx="23.2" cy="66.1" r="3.2" fill="#e4371e"/>
<circle cx="18.3" cy="75.7" r="2.3" fill="#f28523"/>
<circle cx="21.2" cy="68.5" r="2.3" fill="#f4ac2a"/>
<circle cx="24.5" cy="65.9" r="2.6" fill="#f28723"/>
<circle cx="31.1" cy="70.9" r="2.5" fill="#e1321d"/>
<circle cx="23.4" cy="68.2" r="2.6" fill="#f17d22"/>
<circle cx="18.4" cy="71.4" r="3.0" fill="#f39927"/>
<circle cx="22.1" cy="75.1" r="2.3" fill="#e9431e"/>
<circle cx="26.1" cy="62.4" r="2.6" fill="#f39927"/>
<circle cx="18.3" cy="65.6" r="2.3" fill="#ed6220"/>
<circle cx="17.2" cy="77.0" r="2.9" fill="#e9481f"/>
<circle cx="16.2" cy="73.4" r="2.7" fill="#de2e1d"/>
<circle cx="23.8" cy="65.2" r="2.2" fill="#f4a82a"/>
<ellipse cx="53" cy="76" rx="9" ry="9" fill="#436bcb"/>
<circle cx="46.1" cy="76.8" r="3.0" fill="#91cb6c"/>
<circle cx="58.5" cy="69.1" r="2.4" fill="#8fcb6f"/>
<circle cx="55.3" cy="72.9" r="2.7" fill="#bed64c"/>
<circle cx="57.2" cy="77.1" r="2.7" fill="#bed64d"/>
<circle cx="49.4" cy="70.9" r="3.1" fill="#cdda45"/>
<circle cx="60.7" cy="77.2" r="2.6" fill="#95cd62"/>
<circle cx="48.8" cy="78.8" r="3.2" fill="#bed64c"/>
<circle cx="61.9" cy="76.0" r="2.1" fill="#8fca70"/>
<ellipse cx="70" cy="66" rx="9" ry="9" fill="#3a47a8"/>
<circle cx="73.6" cy="62.3" r="2.9" fill="#5399dc"/>
<circle cx="67.2" cy="57.9" r="2.3" fill="#497fd8"/>
<circle cx="73.7" cy="72.0" r="2.4" fill="#5bb0e0"/>
<circle cx="78.6" cy="63.4" r="2.7" fill="#477cd8"/>
<circle cx="68.0" cy="61.8" r="2.6" fill="#477ad7"/>
<ellipse cx="44" cy="88" rx="10" ry="7" fill="#4981d8"/>
<circle cx="45.9" cy="83.1" r="3.2" fill="#dcdd3e"/>
<circle cx="40.3" cy="85.6" r="2.7" fill="#dadc3f"/>
<circle cx="46.7" cy="91.8" r="3.0" fill="#96cd5f"/>
<circle cx="45.7" cy="94.7" r="2.0" fill="#c0d64c"/>
<circle cx="43.1" cy="94.8" r="2.5" fill="#add254"/>
<circle cx="39.4" cy="88.7" r="3.0" fill="#90cb6e"/>
<circle cx="38.0" cy="83.8" r="3.1" fill="#d1da44"/>
<circle cx="40.8" cy="85.4" r="3.0" fill="#cbd946"/>
</g>
<rect width="100" height="100" filter="url(#sb)"/>
<use href="#gaps"/>
<rect width="100" height="100" filter="url(#sp)"/>
<rect y="50" width="100" height="50" filter="url(#sp2)"/>
</g>
<use href="#blob" fill="none" stroke="#9090dd" stroke-width="2.4" stroke-opacity="0.85"/>
</g>
<rect x="142.70" y="247.40" width="2.4" height="29.50" fill="url(#jet)"/>
<rect x="146.00" y="246.85" width="4.4" height="1.5" fill="#a4a4a4"/>
<rect x="146.00" y="254.07" width="4.4" height="1.5" fill="#a4a4a4"/>
<rect x="146.00" y="261.30" width="4.4" height="1.5" fill="#a4a4a4"/>
<rect x="146.00" y="268.52" width="4.4" height="1.5" fill="#a4a4a4"/>
<rect x="146.00" y="275.75" width="1.6" height="1.5" fill="#a4a4a4"/>
<text x="121" y="242.3" font-size="7.9" text-anchor="start" fill="#111" font-weight="normal" textLength="23" lengthAdjust="spacingAndGlyphs" stroke="#111" stroke-width="0.12">Siglec7</text>
<line x1="120.1" y1="289.1" x2="120.1" y2="311.8" stroke="#000" stroke-width="1.05"/>
<line x1="119.6" y1="311.3" x2="144.6" y2="311.3" stroke="#000" stroke-width="1.05"/>
<line x1="118.3" y1="291.5" x2="120.1" y2="291.5" stroke="#000" stroke-width="0.8"/>
<text x="114.8" y="293.3" font-size="5.2" text-anchor="end" fill="#222" font-weight="normal" textLength="8.9" lengthAdjust="spacingAndGlyphs" >100</text>
<line x1="118.3" y1="301.4" x2="120.1" y2="301.4" stroke="#000" stroke-width="0.8"/>
<text x="114.8" y="303.2" font-size="5.2" text-anchor="end" fill="#222" font-weight="normal" textLength="6.4" lengthAdjust="spacingAndGlyphs" >50</text>
<line x1="118.3" y1="311.3" x2="120.1" y2="311.3" stroke="#000" stroke-width="0.8"/>
<text x="114.8" y="313.1" font-size="5.2" text-anchor="end" fill="#222" font-weight="normal" textLength="3.5" lengthAdjust="spacingAndGlyphs" >0</text>
<line x1="127.19999999999999" y1="311.3" x2="127.19999999999999" y2="314.1" stroke="#000" stroke-width="0.8"/>
<line x1="138.0" y1="311.3" x2="138.0" y2="314.1" stroke="#000" stroke-width="0.8"/>
<line x1="127.19999999999999" y1="295.1" x2="127.19999999999999" y2="298.1" stroke="#000" stroke-width="0.9"/>
<line x1="125.39999999999999" y1="295.1" x2="129.0" y2="295.1" stroke="#000" stroke-width="0.9"/>
<rect x="123.70" y="298.10" width="7.00" height="13.20" fill="#2b4a8b" stroke="#1a3570" stroke-width="0.35"/>
<line x1="138.0" y1="295.7" x2="138.0" y2="297.4" stroke="#000" stroke-width="0.9"/>
<line x1="136.2" y1="295.7" x2="139.8" y2="295.7" stroke="#000" stroke-width="0.9"/>
<rect x="134.50" y="297.40" width="7.00" height="13.90" fill="#b0002c" stroke="#9a0026" stroke-width="0.35"/>
<line x1="126.65" y1="290.1" x2="137.35" y2="290.1" stroke="#3a3a3a" stroke-width="1.15"/>
<text x="131.7" y="287.90000000000003" font-size="4.8" text-anchor="middle" fill="#333" font-weight="normal" textLength="7.2" lengthAdjust="spacingAndGlyphs" >NS</text>
<rect x="162.6" y="247.4" width="26.599999999999994" height="30.400000000000006" fill="#fff" stroke="#a8a8a8" stroke-width="0.7"/>
<g transform="translate(163.10,247.90) scale(0.2560,0.2940)">
<g clip-path="url(#bc)">
<rect width="100" height="100" fill="#353898"/>
<g filter="url(#bl)">
<ellipse cx="83" cy="54" rx="10" ry="9" fill="#4268c8"/>
<circle cx="87.7" cy="54.8" r="2.5" fill="#f28823"/>
<circle cx="77.6" cy="51.5" r="2.2" fill="#f5b72d"/>
<circle cx="81.9" cy="50.4" r="2.6" fill="#f07622"/>
<circle cx="75.6" cy="53.1" r="3.0" fill="#f39726"/>
<circle cx="84.8" cy="59.1" r="2.2" fill="#ef7121"/>
<circle cx="86.1" cy="54.5" r="3.1" fill="#edc733"/>
<ellipse cx="88" cy="46" rx="4" ry="5" fill="#84c68a"/>
<circle cx="91.5" cy="47.1" r="2.2" fill="#ee6c21"/>
<circle cx="86.7" cy="42.3" r="2.6" fill="#e83e1e"/>
<circle cx="89.9" cy="45.6" r="2.9" fill="#f39927"/>
<ellipse cx="70" cy="66" rx="9" ry="9" fill="#3a46a8"/>
<circle cx="72.2" cy="71.0" r="2.7" fill="#e5d639"/>
<circle cx="70.8" cy="69.5" r="3.1" fill="#cdda45"/>
<circle cx="76.4" cy="70.4" r="2.5" fill="#e4d83a"/>
<circle cx="86" cy="52" r="3.5" fill="#e1331d"/>
<circle cx="80" cy="60" r="2.5" fill="#f39125"/>
<circle cx="84" cy="44" r="2" fill="#f5b92d"/>
</g>
<rect width="100" height="100" filter="url(#sb)"/>
<use href="#gaps"/>
<rect width="100" height="100" filter="url(#sp)"/>
<rect y="50" width="100" height="50" filter="url(#sp2)"/>
</g>
<use href="#blob" fill="none" stroke="#9090dd" stroke-width="2.4" stroke-opacity="0.85"/>
</g>
<rect x="189.30" y="247.80" width="2.4" height="29.60" fill="url(#jet)"/>
<rect x="192.60" y="247.25" width="4.4" height="1.5" fill="#a4a4a4"/>
<rect x="192.60" y="254.50" width="4.4" height="1.5" fill="#a4a4a4"/>
<rect x="192.60" y="261.75" width="4.4" height="1.5" fill="#a4a4a4"/>
<rect x="192.60" y="269.00" width="4.4" height="1.5" fill="#a4a4a4"/>
<rect x="192.60" y="276.25" width="1.6" height="1.5" fill="#a4a4a4"/>
<text x="163.5" y="242.3" font-size="7.9" text-anchor="start" fill="#111" font-weight="normal" textLength="28.599999999999994" lengthAdjust="spacingAndGlyphs" stroke="#111" stroke-width="0.12">KIR2DL3</text>
<line x1="165.4" y1="289.1" x2="165.4" y2="311.8" stroke="#000" stroke-width="1.05"/>
<line x1="164.9" y1="311.3" x2="189.9" y2="311.3" stroke="#000" stroke-width="1.05"/>
<line x1="163.6" y1="291.7" x2="165.4" y2="291.7" stroke="#000" stroke-width="0.8"/>
<text x="160.1" y="293.5" font-size="5.2" text-anchor="end" fill="#222" font-weight="normal" textLength="8.9" lengthAdjust="spacingAndGlyphs" >100</text>
<line x1="163.6" y1="301.6" x2="165.4" y2="301.6" stroke="#000" stroke-width="0.8"/>
<text x="160.1" y="303.40000000000003" font-size="5.2" text-anchor="end" fill="#222" font-weight="normal" textLength="6.4" lengthAdjust="spacingAndGlyphs" >50</text>
<line x1="163.6" y1="311.3" x2="165.4" y2="311.3" stroke="#000" stroke-width="0.8"/>
<text x="160.1" y="313.1" font-size="5.2" text-anchor="end" fill="#222" font-weight="normal" textLength="3.5" lengthAdjust="spacingAndGlyphs" >0</text>
<line x1="172.5" y1="311.3" x2="172.5" y2="314.1" stroke="#000" stroke-width="0.8"/>
<line x1="183.3" y1="311.3" x2="183.3" y2="314.1" stroke="#000" stroke-width="0.8"/>
<line x1="172.5" y1="307.2" x2="172.5" y2="308.8" stroke="#000" stroke-width="0.9"/>
<line x1="170.7" y1="307.2" x2="174.3" y2="307.2" stroke="#000" stroke-width="0.9"/>
<rect x="169.00" y="308.80" width="7.00" height="2.50" fill="#2b4a8b" stroke="#1a3570" stroke-width="0.35"/>
<line x1="183.3" y1="307.9" x2="183.3" y2="308.5" stroke="#000" stroke-width="0.9"/>
<line x1="181.5" y1="307.9" x2="185.10000000000002" y2="307.9" stroke="#000" stroke-width="0.9"/>
<rect x="179.80" y="308.50" width="7.00" height="2.80" fill="#b0002c" stroke="#9a0026" stroke-width="0.35"/>
<line x1="171.95000000000002" y1="290.1" x2="182.65" y2="290.1" stroke="#3a3a3a" stroke-width="1.15"/>
<text x="177.0" y="287.90000000000003" font-size="4.8" text-anchor="middle" fill="#333" font-weight="normal" textLength="7.2" lengthAdjust="spacingAndGlyphs" >NS</text>
<rect x="207.8" y="246.5" width="26.599999999999994" height="30.80000000000001" fill="#fff" stroke="#a8a8a8" stroke-width="0.7"/>
<g transform="translate(208.30,247.00) scale(0.2560,0.2980)">
<g clip-path="url(#bc)">
<rect width="100" height="100" fill="#353898"/>
<g filter="url(#bl)">
<ellipse cx="83" cy="54" rx="10" ry="9" fill="#363a9b"/>
<circle cx="80.3" cy="57.1" r="3.2" fill="#59aadf"/>
<circle cx="75.4" cy="51.5" r="2.2" fill="#539adc"/>
</g>
<rect width="100" height="100" filter="url(#sb)"/>
<use href="#gaps"/>
<rect width="100" height="100" filter="url(#sp)"/>
<rect y="50" width="100" height="50" filter="url(#sp2)"/>
</g>
<use href="#blob" fill="none" stroke="#9090dd" stroke-width="2.4" stroke-opacity="0.85"/>
</g>
<rect x="234.50" y="246.90" width="2.4" height="30.00" fill="url(#jet)"/>
<rect x="237.80" y="246.35" width="4.4" height="1.5" fill="#a4a4a4"/>
<rect x="237.80" y="253.70" width="4.4" height="1.5" fill="#a4a4a4"/>
<rect x="237.80" y="261.05" width="4.4" height="1.5" fill="#a4a4a4"/>
<rect x="237.80" y="268.40" width="4.4" height="1.5" fill="#a4a4a4"/>
<rect x="237.80" y="275.75" width="1.6" height="1.5" fill="#a4a4a4"/>
<text x="213" y="242.3" font-size="7.9" text-anchor="start" fill="#111" font-weight="normal" textLength="19.19999999999999" lengthAdjust="spacingAndGlyphs" stroke="#111" stroke-width="0.12">CD25</text>
<line x1="210.4" y1="289.1" x2="210.4" y2="311.8" stroke="#000" stroke-width="1.05"/>
<line x1="209.9" y1="311.3" x2="234.9" y2="311.3" stroke="#000" stroke-width="1.05"/>
<line x1="208.6" y1="291.5" x2="210.4" y2="291.5" stroke="#000" stroke-width="0.8"/>
<text x="205.1" y="293.3" font-size="5.2" text-anchor="end" fill="#222" font-weight="normal" textLength="8.9" lengthAdjust="spacingAndGlyphs" >100</text>
<line x1="208.6" y1="301.4" x2="210.4" y2="301.4" stroke="#000" stroke-width="0.8"/>
<text x="205.1" y="303.2" font-size="5.2" text-anchor="end" fill="#222" font-weight="normal" textLength="6.4" lengthAdjust="spacingAndGlyphs" >50</text>
<line x1="208.6" y1="311.3" x2="210.4" y2="311.3" stroke="#000" stroke-width="0.8"/>
<text x="205.1" y="313.1" font-size="5.2" text-anchor="end" fill="#222" font-weight="normal" textLength="3.5" lengthAdjust="spacingAndGlyphs" >0</text>
<line x1="217.5" y1="311.3" x2="217.5" y2="314.1" stroke="#000" stroke-width="0.8"/>
<line x1="228.3" y1="311.3" x2="228.3" y2="314.1" stroke="#000" stroke-width="0.8"/>
<line x1="217.5" y1="306.0" x2="217.5" y2="309.3" stroke="#000" stroke-width="0.9"/>
<line x1="215.7" y1="306.0" x2="219.3" y2="306.0" stroke="#000" stroke-width="0.9"/>
<rect x="214.00" y="309.30" width="7.00" height="2.00" fill="#2b4a8b" stroke="#1a3570" stroke-width="0.35"/>
<line x1="228.3" y1="305.0" x2="228.3" y2="308.5" stroke="#000" stroke-width="0.9"/>
<line x1="226.5" y1="305.0" x2="230.10000000000002" y2="305.0" stroke="#000" stroke-width="0.9"/>
<rect x="224.80" y="308.50" width="7.00" height="2.80" fill="#b0002c" stroke="#9a0026" stroke-width="0.35"/>
<line x1="216.95000000000002" y1="290.1" x2="227.65" y2="290.1" stroke="#3a3a3a" stroke-width="1.15"/>
<text x="222.0" y="287.90000000000003" font-size="4.8" text-anchor="middle" fill="#333" font-weight="normal" textLength="7.2" lengthAdjust="spacingAndGlyphs" >NS</text>
<rect x="252.1" y="246.5" width="26.900000000000006" height="30.80000000000001" fill="#fff" stroke="#a8a8a8" stroke-width="0.7"/>
<g transform="translate(252.60,247.00) scale(0.2590,0.2980)">
<g clip-path="url(#bc)">
<rect width="100" height="100" fill="#36399a"/>
<g filter="url(#bl)">
<circle cx="44" cy="84" r="4" fill="#edc833"/>
<circle cx="52" cy="78" r="4" fill="#f4a529"/>
<circle cx="60" cy="74" r="4" fill="#f39125"/>
<circle cx="68" cy="69" r="4" fill="#ef6f21"/>
<circle cx="76" cy="63" r="3.5" fill="#e83e1e"/>
<circle cx="84" cy="56" r="3.5" fill="#e1331d"/>
<circle cx="38" cy="88" r="3" fill="#e1de3c"/>
</g>
<rect width="100" height="100" filter="url(#sb)"/>
<use href="#gaps"/>
<rect width="100" height="100" filter="url(#sp)"/>
<rect y="50" width="100" height="50" filter="url(#sp2)"/>
</g>
<use href="#blob" fill="none" stroke="#9090dd" stroke-width="2.4" stroke-opacity="0.85"/>
</g>
<rect x="279.10" y="246.90" width="2.4" height="30.00" fill="url(#jet)"/>
<rect x="282.40" y="246.35" width="4.4" height="1.5" fill="#a4a4a4"/>
<rect x="282.40" y="253.70" width="4.4" height="1.5" fill="#a4a4a4"/>
<rect x="282.40" y="261.05" width="4.4" height="1.5" fill="#a4a4a4"/>
<rect x="282.40" y="268.40" width="4.4" height="1.5" fill="#a4a4a4"/>
<rect x="282.40" y="275.75" width="1.6" height="1.5" fill="#a4a4a4"/>
<text x="253.4" y="242.3" font-size="7.9" text-anchor="start" fill="#111" font-weight="normal" textLength="27.799999999999983" lengthAdjust="spacingAndGlyphs" stroke="#111" stroke-width="0.12">CD158b</text>
<line x1="255.3" y1="289.1" x2="255.3" y2="311.8" stroke="#000" stroke-width="1.05"/>
<line x1="254.8" y1="311.3" x2="279.8" y2="311.3" stroke="#000" stroke-width="1.05"/>
<line x1="253.5" y1="291.5" x2="255.3" y2="291.5" stroke="#000" stroke-width="0.8"/>
<text x="250.0" y="293.3" font-size="5.2" text-anchor="end" fill="#222" font-weight="normal" textLength="8.9" lengthAdjust="spacingAndGlyphs" >100</text>
<line x1="253.5" y1="301.4" x2="255.3" y2="301.4" stroke="#000" stroke-width="0.8"/>
<text x="250.0" y="303.2" font-size="5.2" text-anchor="end" fill="#222" font-weight="normal" textLength="6.4" lengthAdjust="spacingAndGlyphs" >50</text>
<line x1="253.5" y1="311.3" x2="255.3" y2="311.3" stroke="#000" stroke-width="0.8"/>
<text x="250.0" y="313.1" font-size="5.2" text-anchor="end" fill="#222" font-weight="normal" textLength="3.5" lengthAdjust="spacingAndGlyphs" >0</text>
<line x1="262.40000000000003" y1="311.3" x2="262.40000000000003" y2="314.1" stroke="#000" stroke-width="0.8"/>
<line x1="273.2" y1="311.3" x2="273.2" y2="314.1" stroke="#000" stroke-width="0.8"/>
<line x1="262.40000000000003" y1="305.6" x2="262.40000000000003" y2="308.2" stroke="#000" stroke-width="0.9"/>
<line x1="260.6" y1="305.6" x2="264.20000000000005" y2="305.6" stroke="#000" stroke-width="0.9"/>
<rect x="258.90" y="308.20" width="7.00" height="3.10" fill="#2b4a8b" stroke="#1a3570" stroke-width="0.35"/>
<line x1="273.2" y1="306.4" x2="273.2" y2="309.0" stroke="#000" stroke-width="0.9"/>
<line x1="271.4" y1="306.4" x2="275.0" y2="306.4" stroke="#000" stroke-width="0.9"/>
<rect x="269.70" y="309.00" width="7.00" height="2.30" fill="#b0002c" stroke="#9a0026" stroke-width="0.35"/>
<line x1="261.84999999999997" y1="290.1" x2="272.55" y2="290.1" stroke="#3a3a3a" stroke-width="1.15"/>
<text x="266.9" y="287.90000000000003" font-size="4.8" text-anchor="middle" fill="#333" font-weight="normal" textLength="7.2" lengthAdjust="spacingAndGlyphs" >NS</text>
<rect x="297.3" y="246.0" width="27.099999999999966" height="31.30000000000001" fill="#fff" stroke="#a8a8a8" stroke-width="0.7"/>
<g transform="translate(297.80,246.50) scale(0.2610,0.3030)">
<g clip-path="url(#bc)">
<rect width="100" height="100" fill="#36399a"/>
<g filter="url(#bl)">
<ellipse cx="32" cy="50" rx="9" ry="9" fill="#436ccb"/>
<circle cx="37.2" cy="48.5" r="3.1" fill="#c6d849"/>
<circle cx="38.8" cy="52.5" r="3.2" fill="#a6d158"/>
<circle cx="25.7" cy="53.9" r="3.2" fill="#c1d74b"/>
<circle cx="32.0" cy="47.9" r="2.7" fill="#f0c231"/>
<circle cx="39.8" cy="48.7" r="2.4" fill="#edc833"/>
<circle cx="31.9" cy="53.8" r="2.4" fill="#f0c231"/>
<circle cx="33.7" cy="47.4" r="2.5" fill="#d2db43"/>
<ellipse cx="46" cy="60" rx="9" ry="8" fill="#4572d2"/>
<circle cx="49.3" cy="60.5" r="2.7" fill="#c7d848"/>
<circle cx="47.5" cy="61.4" r="2.8" fill="#cdda45"/>
<circle cx="45.2" cy="53.3" r="3.0" fill="#dadc3f"/>
<circle cx="50.6" cy="57.6" r="2.3" fill="#e9d036"/>
<circle cx="42.5" cy="65.7" r="3.0" fill="#f2bf2f"/>
<circle cx="45.3" cy="67.9" r="2.8" fill="#eace35"/>
<circle cx="44.2" cy="66.8" r="2.2" fill="#f0c231"/>
<ellipse cx="64" cy="48" rx="10" ry="6" fill="#4266c6"/>
<circle cx="58.6" cy="44.5" r="2.4" fill="#ccd946"/>
<circle cx="72.2" cy="45.4" r="3.1" fill="#e5d639"/>
<circle cx="70.2" cy="47.4" r="2.9" fill="#8eca71"/>
<circle cx="54.9" cy="47.5" r="2.5" fill="#e5d739"/>
<circle cx="67.0" cy="48.6" r="2.8" fill="#b4d451"/>
<ellipse cx="83" cy="54" rx="10" ry="9" fill="#3e55b6"/>
<circle cx="79.5" cy="48.7" r="2.8" fill="#7fc596"/>
<circle cx="80.1" cy="46.0" r="2.3" fill="#85c786"/>
<circle cx="90.6" cy="53.0" r="2.5" fill="#93cc65"/>
<circle cx="89.7" cy="55.4" r="2.1" fill="#87c882"/>
<circle cx="87.3" cy="53.6" r="2.5" fill="#b8d54f"/>
<circle cx="91.6" cy="53.1" r="2.4" fill="#b4d451"/>
<ellipse cx="23" cy="71" rx="10" ry="11" fill="#4266c6"/>
<circle cx="21.2" cy="68.7" r="2.8" fill="#92cc67"/>
<circle cx="21.7" cy="70.1" r="2.9" fill="#8eca73"/>
<circle cx="26.1" cy="81.5" r="2.8" fill="#8bc979"/>
<circle cx="31.1" cy="75.4" r="2.4" fill="#d1da44"/>
<circle cx="17.6" cy="72.4" r="2.8" fill="#9bce5d"/>
<circle cx="14.1" cy="73.9" r="2.4" fill="#dfde3d"/>
<circle cx="26.9" cy="80.5" r="2.0" fill="#8bc978"/>
<circle cx="21.1" cy="79.3" r="2.2" fill="#d5db42"/>
<circle cx="18.0" cy="78.0" r="2.8" fill="#98cd5e"/>
<circle cx="24.0" cy="80.7" r="2.4" fill="#a9d156"/>
<ellipse cx="53" cy="76" rx="9" ry="9" fill="#3f5bbb"/>
<circle cx="54.3" cy="73.1" r="2.6" fill="#7ec499"/>
<circle cx="50.4" cy="83.1" r="3.0" fill="#94cc64"/>
<circle cx="57.0" cy="81.3" r="2.2" fill="#79c2a4"/>
<circle cx="54.3" cy="83.4" r="2.2" fill="#76c1ab"/>
<circle cx="48.3" cy="74.2" r="3.0" fill="#89c87e"/>
<circle cx="57.3" cy="76.7" r="2.6" fill="#cad947"/>
<ellipse cx="70" cy="66" rx="9" ry="9" fill="#3b4cad"/>
<circle cx="70.1" cy="63.3" r="2.1" fill="#a2d05a"/>
<circle cx="76.2" cy="66.6" r="3.2" fill="#7fc595"/>
<circle cx="75.3" cy="71.7" r="2.2" fill="#b3d451"/>
<circle cx="66.8" cy="65.4" r="3.1" fill="#9dcf5c"/>
<circle cx="66.3" cy="73.2" r="2.7" fill="#6fbfbc"/>
<ellipse cx="44" cy="88" rx="10" ry="7" fill="#3b4cad"/>
<circle cx="36.2" cy="87.2" r="2.8" fill="#a6d158"/>
<circle cx="37.4" cy="87.8" r="2.9" fill="#aed254"/>
<circle cx="38.8" cy="89.7" r="2.1" fill="#94cc64"/>
<circle cx="37.9" cy="90.9" r="2.6" fill="#82c68f"/>
</g>
<rect width="100" height="100" filter="url(#sb)"/>
<use href="#gaps"/>
<rect width="100" height="100" filter="url(#sp)"/>
<rect y="50" width="100" height="50" filter="url(#sp2)"/>
</g>
<use href="#blob" fill="none" stroke="#9090dd" stroke-width="2.4" stroke-opacity="0.85"/>
</g>
<rect x="324.50" y="246.40" width="2.4" height="30.50" fill="url(#jet)"/>
<rect x="327.80" y="245.85" width="4.4" height="1.5" fill="#a4a4a4"/>
<rect x="327.80" y="253.32" width="4.4" height="1.5" fill="#a4a4a4"/>
<rect x="327.80" y="260.80" width="4.4" height="1.5" fill="#a4a4a4"/>
<rect x="327.80" y="268.27" width="4.4" height="1.5" fill="#a4a4a4"/>
<rect x="327.80" y="275.75" width="1.6" height="1.5" fill="#a4a4a4"/>
<text x="303.5" y="242.3" font-size="7.9" text-anchor="start" fill="#111" font-weight="normal" textLength="17.80000000000001" lengthAdjust="spacingAndGlyphs" stroke="#111" stroke-width="0.12">TIGIT</text>
<line x1="299.6" y1="289.1" x2="299.6" y2="311.8" stroke="#000" stroke-width="1.05"/>
<line x1="299.1" y1="311.3" x2="324.1" y2="311.3" stroke="#000" stroke-width="1.05"/>
<line x1="297.8" y1="291.5" x2="299.6" y2="291.5" stroke="#000" stroke-width="0.8"/>
<text x="294.3" y="293.3" font-size="5.2" text-anchor="end" fill="#222" font-weight="normal" textLength="8.9" lengthAdjust="spacingAndGlyphs" >100</text>
<line x1="297.8" y1="301.4" x2="299.6" y2="301.4" stroke="#000" stroke-width="0.8"/>
<text x="294.3" y="303.2" font-size="5.2" text-anchor="end" fill="#222" font-weight="normal" textLength="6.4" lengthAdjust="spacingAndGlyphs" >50</text>
<line x1="297.8" y1="311.3" x2="299.6" y2="311.3" stroke="#000" stroke-width="0.8"/>
<text x="294.3" y="313.1" font-size="5.2" text-anchor="end" fill="#222" font-weight="normal" textLength="3.5" lengthAdjust="spacingAndGlyphs" >0</text>
<line x1="306.70000000000005" y1="311.3" x2="306.70000000000005" y2="314.1" stroke="#000" stroke-width="0.8"/>
<line x1="317.5" y1="311.3" x2="317.5" y2="314.1" stroke="#000" stroke-width="0.8"/>
<line x1="306.70000000000005" y1="305.1" x2="306.70000000000005" y2="308.5" stroke="#000" stroke-width="0.9"/>
<line x1="304.90000000000003" y1="305.1" x2="308.50000000000006" y2="305.1" stroke="#000" stroke-width="0.9"/>
<rect x="303.20" y="308.50" width="7.00" height="2.80" fill="#2b4a8b" stroke="#1a3570" stroke-width="0.35"/>
<line x1="317.5" y1="303.3" x2="317.5" y2="306.1" stroke="#000" stroke-width="0.9"/>
<line x1="315.7" y1="303.3" x2="319.3" y2="303.3" stroke="#000" stroke-width="0.9"/>
<rect x="314.00" y="306.10" width="7.00" height="5.20" fill="#b0002c" stroke="#9a0026" stroke-width="0.35"/>
<line x1="306.15" y1="290.1" x2="316.85" y2="290.1" stroke="#3a3a3a" stroke-width="1.15"/>
<text x="311.2" y="287.90000000000003" font-size="4.8" text-anchor="middle" fill="#333" font-weight="normal" textLength="7.2" lengthAdjust="spacingAndGlyphs" >NS</text>
<rect x="342.1" y="245.3" width="26.899999999999977" height="32.0" fill="#fff" stroke="#a8a8a8" stroke-width="0.7"/>
<g transform="translate(342.60,245.80) scale(0.2590,0.3100)">
<g clip-path="url(#bc)">
<rect width="100" height="100" fill="#373c9d"/>
<g filter="url(#bl)">
<ellipse cx="52" cy="13" rx="22" ry="8" fill="#5aacdf"/>
<circle cx="57.2" cy="14.1" r="2.5" fill="#eec532"/>
<circle cx="46.8" cy="16.2" r="3.0" fill="#ebcc35"/>
<circle cx="48.8" cy="7.6" r="2.9" fill="#f4a529"/>
<circle cx="62.9" cy="7.2" r="2.4" fill="#f5b42c"/>
<circle cx="70.6" cy="15.3" r="2.3" fill="#f5b92d"/>
<circle cx="66.0" cy="8.1" r="2.6" fill="#f4a629"/>
<circle cx="48.4" cy="19.7" r="2.7" fill="#f5b72d"/>
<circle cx="61.6" cy="7.3" r="2.9" fill="#f28c24"/>
<circle cx="62.1" cy="15.2" r="2.1" fill="#f28c24"/>
<circle cx="48.2" cy="20.5" r="2.1" fill="#f28c24"/>
<circle cx="37.5" cy="18.0" r="2.7" fill="#e8d137"/>
<circle cx="56.0" cy="6.1" r="2.6" fill="#f4a429"/>
<circle cx="59.2" cy="14.9" r="3.1" fill="#f3bd2f"/>
<circle cx="56.3" cy="20.1" r="2.6" fill="#f5b52c"/>
<circle cx="51.8" cy="17.4" r="2.2" fill="#f39726"/>
<circle cx="66.5" cy="9.9" r="2.9" fill="#f4a629"/>
<circle cx="43.1" cy="16.6" r="2.5" fill="#f5b42c"/>
<circle cx="33.2" cy="16.8" r="3.0" fill="#f28e24"/>
<circle cx="53.0" cy="19.7" r="2.0" fill="#f4a329"/>
<circle cx="70.1" cy="12.6" r="2.4" fill="#e9cf36"/>
<circle cx="39.2" cy="13.5" r="2.6" fill="#f28723"/>
<ellipse cx="60" cy="33" rx="20" ry="8" fill="#436bca"/>
<circle cx="66.4" cy="35.9" r="2.3" fill="#add254"/>
<circle cx="51.6" cy="38.6" r="2.7" fill="#e9cf36"/>
<circle cx="69.7" cy="31.0" r="2.6" fill="#c8d848"/>
<circle cx="40.9" cy="31.8" r="3.0" fill="#bdd64d"/>
<circle cx="62.5" cy="38.8" r="3.1" fill="#a7d157"/>
<circle cx="53.4" cy="34.7" r="3.1" fill="#d7dc41"/>
<circle cx="59.0" cy="25.9" r="2.8" fill="#efc431"/>
<circle cx="61.4" cy="40.3" r="2.6" fill="#edc833"/>
<circle cx="74.1" cy="31.9" r="3.1" fill="#aad256"/>
<circle cx="78.2" cy="34.9" r="3.2" fill="#e4d83a"/>
<circle cx="70.7" cy="26.9" r="3.1" fill="#edc833"/>
<circle cx="42.1" cy="36.3" r="2.5" fill="#d6dc41"/>
<circle cx="65.2" cy="29.0" r="2.7" fill="#e8d036"/>
<ellipse cx="78" cy="24" rx="8" ry="10" fill="#436bca"/>
<circle cx="79.9" cy="17.0" r="3.2" fill="#b8d54f"/>
<circle cx="79.5" cy="14.3" r="3.2" fill="#efc431"/>
<circle cx="83.2" cy="17.2" r="2.9" fill="#e1dd3c"/>
<circle cx="79.2" cy="16.4" r="2.9" fill="#cfda44"/>
<circle cx="84.0" cy="29.6" r="2.4" fill="#e2dc3b"/>
<circle cx="76.2" cy="24.9" r="2.4" fill="#c7d848"/>
<ellipse cx="26" cy="25" rx="9" ry="10" fill="#4a82d9"/>
<circle cx="29.6" cy="18.4" r="2.3" fill="#dfde3d"/>
<circle cx="18.5" cy="19.8" r="2.9" fill="#f4a729"/>
<circle cx="32.9" cy="24.0" r="3.1" fill="#ebcc35"/>
<circle cx="23.5" cy="27.6" r="2.4" fill="#f4a529"/>
<circle cx="22.7" cy="25.6" r="3.2" fill="#e4d83a"/>
<circle cx="26.3" cy="21.1" r="2.1" fill="#edc833"/>
<circle cx="32.8" cy="20.7" r="2.6" fill="#ebcb34"/>
<circle cx="27.6" cy="18.1" r="2.2" fill="#e4d93a"/>
<circle cx="24.4" cy="21.6" r="2.3" fill="#e0de3d"/>
<ellipse cx="14" cy="47" rx="9" ry="11" fill="#5195db"/>
<circle cx="9.8" cy="48.7" r="2.9" fill="#f4a82a"/>
<circle cx="21.6" cy="47.1" r="2.1" fill="#e3da3a"/>
<circle cx="13.0" cy="45.4" r="2.4" fill="#f1c030"/>
<circle cx="13.9" cy="46.0" r="2.2" fill="#f4bb2e"/>
<circle cx="6.8" cy="42.3" r="2.8" fill="#f4af2b"/>
<circle cx="12.2" cy="37.6" r="2.4" fill="#f5b52c"/>
<circle cx="11.7" cy="57.3" r="2.8" fill="#f1c130"/>
<circle cx="12.1" cy="38.1" r="3.2" fill="#f39826"/>
<circle cx="14.2" cy="50.1" r="2.8" fill="#eec632"/>
<circle cx="12.1" cy="47.9" r="2.4" fill="#e6d438"/>
<circle cx="13.4" cy="48.4" r="2.5" fill="#e3da3a"/>
<ellipse cx="32" cy="50" rx="9" ry="9" fill="#436bcb"/>
<circle cx="28.9" cy="56.8" r="2.9" fill="#afd353"/>
<circle cx="29.8" cy="48.5" r="3.0" fill="#d1da44"/>
<circle cx="30.6" cy="54.2" r="3.0" fill="#d6dc41"/>
<circle cx="33.0" cy="45.2" r="2.3" fill="#9ecf5b"/>
<circle cx="26.9" cy="56.3" r="2.6" fill="#bfd64c"/>
<circle cx="26.3" cy="55.6" r="3.1" fill="#92cb69"/>
<circle cx="26.0" cy="55.9" r="2.5" fill="#a4d058"/>
<ellipse cx="46" cy="60" rx="9" ry="8" fill="#4471d0"/>
<circle cx="48.0" cy="57.8" r="2.9" fill="#acd255"/>
<circle cx="41.9" cy="65.3" r="3.0" fill="#a7d157"/>
<circle cx="43.9" cy="55.5" r="2.7" fill="#f1c030"/>
<circle cx="44.0" cy="58.0" r="2.9" fill="#d8dc40"/>
<circle cx="41.2" cy="64.5" r="2.4" fill="#edc833"/>
<circle cx="51.9" cy="62.2" r="2.2" fill="#a0cf5a"/>
<ellipse cx="64" cy="48" rx="10" ry="6" fill="#436bca"/>
<circle cx="62.1" cy="48.9" r="2.7" fill="#e2dd3c"/>
<circle cx="56.9" cy="48.9" r="3.0" fill="#a9d156"/>
<circle cx="65.8" cy="43.2" r="2.6" fill="#edc833"/>
<circle cx="60.7" cy="43.9" r="2.8" fill="#e5d739"/>
<circle cx="54.3" cy="48.9" r="2.6" fill="#f0c231"/>
<ellipse cx="83" cy="54" rx="10" ry="9" fill="#477cd8"/>
<circle cx="85.6" cy="61.2" r="2.6" fill="#eec532"/>
<circle cx="85.4" cy="61.9" r="2.1" fill="#e6d438"/>
<circle cx="90.1" cy="58.1" r="2.1" fill="#dadc3f"/>
<circle cx="82.2" cy="57.6" r="2.8" fill="#edc733"/>
<circle cx="86.2" cy="56.9" r="2.9" fill="#c8d848"/>
<circle cx="84.6" cy="45.1" r="2.7" fill="#e7d338"/>
<circle cx="75.1" cy="58.7" r="2.6" fill="#b6d450"/>
<circle cx="83.9" cy="55.9" r="3.0" fill="#dadc3f"/>
<circle cx="85.2" cy="49.5" r="2.2" fill="#e6d539"/>
<ellipse cx="23" cy="71" rx="10" ry="11" fill="#4060c0"/>
<circle cx="18.2" cy="61.3" r="2.8" fill="#d0da44"/>
<circle cx="31.7" cy="76.4" r="2.2" fill="#e2db3b"/>
<circle cx="29.3" cy="65.4" r="2.9" fill="#b3d451"/>
<circle cx="17.5" cy="68.4" r="2.3" fill="#c0d64c"/>
<circle cx="31.2" cy="67.3" r="2.5" fill="#e6d538"/>
<circle cx="31.5" cy="73.5" r="3.1" fill="#e4d83a"/>
<circle cx="22.8" cy="67.2" r="2.4" fill="#e5d639"/>
<circle cx="21.9" cy="67.7" r="2.4" fill="#e5d639"/>
<ellipse cx="53" cy="76" rx="9" ry="9" fill="#3e56b7"/>
<circle cx="45.2" cy="72.4" r="3.1" fill="#8cc977"/>
<circle cx="52.7" cy="82.6" r="2.0" fill="#82c68e"/>
<circle cx="56.5" cy="74.6" r="2.9" fill="#7bc39f"/>
<circle cx="52.3" cy="68.6" r="2.4" fill="#9ecf5b"/>
<circle cx="46.5" cy="72.7" r="2.7" fill="#a2d059"/>
<ellipse cx="70" cy="66" rx="9" ry="9" fill="#4060c0"/>
<circle cx="78.3" cy="62.8" r="2.7" fill="#d3db42"/>
<circle cx="71.2" cy="65.0" r="2.5" fill="#c6d849"/>
<circle cx="64.1" cy="67.3" r="3.2" fill="#e3da3a"/>
<circle cx="64.7" cy="63.1" r="2.0" fill="#d9dc40"/>
<circle cx="74.8" cy="65.4" r="3.0" fill="#c7d848"/>
<circle cx="66.9" cy="65.4" r="2.7" fill="#b0d353"/>
<ellipse cx="44" cy="88" rx="10" ry="7" fill="#3e56b7"/>
<circle cx="48.0" cy="88.5" r="2.6" fill="#88c880"/>
<circle cx="52.9" cy="85.9" r="2.5" fill="#9ace5d"/>
<circle cx="45.3" cy="90.1" r="2.9" fill="#a7d157"/>
<circle cx="43.4" cy="82.4" r="2.4" fill="#93cc65"/>
</g>
<rect width="100" height="100" filter="url(#sb)"/>
<use href="#gaps"/>
<rect width="100" height="100" filter="url(#sp)"/>
<rect y="50" width="100" height="50" filter="url(#sp2)"/>
</g>
<use href="#blob" fill="none" stroke="#9090dd" stroke-width="2.4" stroke-opacity="0.85"/>
</g>
<rect x="369.10" y="245.70" width="2.4" height="31.20" fill="url(#jet)"/>
<rect x="372.40" y="245.15" width="4.4" height="1.5" fill="#a4a4a4"/>
<rect x="372.40" y="252.80" width="4.4" height="1.5" fill="#a4a4a4"/>
<rect x="372.40" y="260.45" width="4.4" height="1.5" fill="#a4a4a4"/>
<rect x="372.40" y="268.10" width="4.4" height="1.5" fill="#a4a4a4"/>
<rect x="372.40" y="275.75" width="1.6" height="1.5" fill="#a4a4a4"/>
<text x="349" y="242.3" font-size="7.9" text-anchor="start" fill="#111" font-weight="normal" textLength="15.399999999999977" lengthAdjust="spacingAndGlyphs" stroke="#111" stroke-width="0.12">CD8</text>
<line x1="344.4" y1="289.1" x2="344.4" y2="311.8" stroke="#000" stroke-width="1.05"/>
<line x1="343.9" y1="311.3" x2="368.9" y2="311.3" stroke="#000" stroke-width="1.05"/>
<line x1="342.59999999999997" y1="291.5" x2="344.4" y2="291.5" stroke="#000" stroke-width="0.8"/>
<text x="339.09999999999997" y="293.3" font-size="5.2" text-anchor="end" fill="#222" font-weight="normal" textLength="8.9" lengthAdjust="spacingAndGlyphs" >100</text>
<line x1="342.59999999999997" y1="301.4" x2="344.4" y2="301.4" stroke="#000" stroke-width="0.8"/>
<text x="339.09999999999997" y="303.2" font-size="5.2" text-anchor="end" fill="#222" font-weight="normal" textLength="6.4" lengthAdjust="spacingAndGlyphs" >50</text>
<line x1="342.59999999999997" y1="311.3" x2="344.4" y2="311.3" stroke="#000" stroke-width="0.8"/>
<text x="339.09999999999997" y="313.1" font-size="5.2" text-anchor="end" fill="#222" font-weight="normal" textLength="3.5" lengthAdjust="spacingAndGlyphs" >0</text>
<line x1="351.5" y1="311.3" x2="351.5" y2="314.1" stroke="#000" stroke-width="0.8"/>
<line x1="362.29999999999995" y1="311.3" x2="362.29999999999995" y2="314.1" stroke="#000" stroke-width="0.8"/>
<line x1="351.5" y1="303.8" x2="351.5" y2="306.4" stroke="#000" stroke-width="0.9"/>
<line x1="349.7" y1="303.8" x2="353.3" y2="303.8" stroke="#000" stroke-width="0.9"/>
<rect x="348.00" y="306.40" width="7.00" height="4.90" fill="#2b4a8b" stroke="#1a3570" stroke-width="0.35"/>
<line x1="362.29999999999995" y1="303.0" x2="362.29999999999995" y2="305.0" stroke="#000" stroke-width="0.9"/>
<line x1="360.49999999999994" y1="303.0" x2="364.09999999999997" y2="303.0" stroke="#000" stroke-width="0.9"/>
<rect x="358.80" y="305.00" width="7.00" height="6.30" fill="#b0002c" stroke="#9a0026" stroke-width="0.35"/>
<line x1="350.94999999999993" y1="290.1" x2="361.65" y2="290.1" stroke="#3a3a3a" stroke-width="1.15"/>
<text x="355.99999999999994" y="287.90000000000003" font-size="4.8" text-anchor="middle" fill="#333" font-weight="normal" textLength="7.2" lengthAdjust="spacingAndGlyphs" >NS</text>
<rect x="386.6" y="246.0" width="26.599999999999966" height="32.0" fill="#fff" stroke="#a8a8a8" stroke-width="0.7"/>
<g transform="translate(387.10,246.50) scale(0.2560,0.3100)">
<g clip-path="url(#bc)">
<rect width="100" height="100" fill="#4165c5"/>
<g filter="url(#bl)">
<ellipse cx="52" cy="13" rx="22" ry="8" fill="#ea4a1f"/>
<circle cx="70.3" cy="16.8" r="2.3" fill="#e2331d"/>
<circle cx="35.4" cy="14.5" r="2.7" fill="#d21b1c"/>
<circle cx="43.6" cy="14.9" r="2.3" fill="#96000f"/>
<circle cx="51.1" cy="10.9" r="2.4" fill="#e83e1e"/>
<circle cx="42.3" cy="18.8" r="3.1" fill="#d8231c"/>
<circle cx="52.7" cy="6.0" r="2.4" fill="#b20d15"/>
<circle cx="47.2" cy="7.6" r="2.4" fill="#a10511"/>
<circle cx="44.6" cy="16.2" r="2.8" fill="#ec5c20"/>
<circle cx="45.4" cy="6.5" r="2.9" fill="#e2331d"/>
<circle cx="51.3" cy="7.8" r="2.8" fill="#c9171a"/>
<circle cx="34.5" cy="17.3" r="2.9" fill="#bc1117"/>
<circle cx="33.0" cy="13.2" r="2.7" fill="#e0311d"/>
<circle cx="37.6" cy="18.5" r="2.8" fill="#a40712"/>
<circle cx="44.1" cy="5.9" r="2.0" fill="#de2d1d"/>
<circle cx="61.0" cy="19.9" r="2.4" fill="#a50712"/>
<circle cx="40.5" cy="16.1" r="3.0" fill="#e9421e"/>
<circle cx="44.0" cy="10.8" r="2.0" fill="#e83e1e"/>
<circle cx="71.2" cy="9.6" r="2.9" fill="#a40612"/>
<circle cx="56.7" cy="10.9" r="3.0" fill="#96000f"/>
<circle cx="50.8" cy="7.9" r="2.8" fill="#d9241c"/>
<circle cx="69.1" cy="12.8" r="2.9" fill="#e2341d"/>
<circle cx="41.6" cy="13.7" r="3.1" fill="#ae0b14"/>
<circle cx="67.6" cy="9.1" r="2.5" fill="#e2351d"/>
<circle cx="51.3" cy="11.1" r="3.1" fill="#da271d"/>
<circle cx="38.7" cy="16.1" r="2.5" fill="#96000f"/>
<circle cx="48.0" cy="8.6" r="3.0" fill="#d41c1c"/>
<circle cx="34.2" cy="11.9" r="2.6" fill="#9f0411"/>
<circle cx="54.9" cy="14.5" r="2.9" fill="#ed5f20"/>
<circle cx="63.2" cy="11.3" r="2.4" fill="#b80f16"/>
<circle cx="60.1" cy="11.3" r="2.6" fill="#eb511f"/>
<circle cx="49.6" cy="16.4" r="2.5" fill="#ed6020"/>
<circle cx="42.9" cy="6.6" r="2.3" fill="#cd191a"/>
<circle cx="43.8" cy="10.1" r="2.2" fill="#d01a1b"/>
<circle cx="43.3" cy="5.8" r="2.6" fill="#d6201c"/>
<circle cx="53.3" cy="5.3" r="2.5" fill="#eb5720"/>
<ellipse cx="60" cy="33" rx="20" ry="8" fill="#f28c24"/>
<circle cx="70.9" cy="29.0" r="2.2" fill="#d41c1c"/>
<circle cx="67.3" cy="28.3" r="2.2" fill="#e83f1e"/>
<circle cx="62.4" cy="36.2" r="2.6" fill="#ec5a20"/>
<circle cx="64.5" cy="36.8" r="3.0" fill="#db291d"/>
<circle cx="59.2" cy="27.8" r="2.8" fill="#e9471f"/>
<circle cx="64.6" cy="38.1" r="3.1" fill="#e83e1e"/>
<circle cx="69.6" cy="33.3" r="2.6" fill="#d11b1b"/>
<circle cx="64.2" cy="35.3" r="2.5" fill="#c51519"/>
<circle cx="48.6" cy="35.9" r="3.0" fill="#e4371e"/>
<circle cx="75.0" cy="28.0" r="3.1" fill="#d8221c"/>
<circle cx="60.3" cy="37.1" r="2.1" fill="#d51e1c"/>
<circle cx="59.0" cy="35.6" r="2.3" fill="#f39626"/>
<circle cx="65.8" cy="36.1" r="2.3" fill="#f07722"/>
<circle cx="63.5" cy="27.0" r="2.9" fill="#f28823"/>
<circle cx="50.9" cy="27.2" r="2.3" fill="#f07a22"/>
<circle cx="64.3" cy="35.8" r="3.1" fill="#f39526"/>
<circle cx="67.3" cy="27.7" r="2.9" fill="#f28b24"/>
<circle cx="60.4" cy="28.2" r="2.4" fill="#ea4e1f"/>
<circle cx="42.8" cy="33.5" r="2.7" fill="#f28b24"/>
<circle cx="65.9" cy="29.5" r="3.0" fill="#db281d"/>
<circle cx="48.8" cy="28.6" r="3.1" fill="#ec5f20"/>
<circle cx="52.1" cy="37.3" r="2.9" fill="#d51e1c"/>
<circle cx="49.8" cy="34.9" r="2.1" fill="#d9251d"/>
<circle cx="79.6" cy="33.1" r="2.5" fill="#f17d22"/>
<circle cx="59.7" cy="40.0" r="2.4" fill="#d41c1c"/>
<circle cx="42.0" cy="32.0" r="2.7" fill="#d9241c"/>
<circle cx="77.2" cy="35.2" r="2.2" fill="#de2d1d"/>
<circle cx="71.9" cy="34.8" r="2.7" fill="#ce191b"/>
<circle cx="69.0" cy="39.9" r="3.0" fill="#eb541f"/>
<circle cx="51.5" cy="29.7" r="2.2" fill="#ea4f1f"/>
<circle cx="60.2" cy="25.3" r="3.1" fill="#f18223"/>
<circle cx="70.0" cy="39.1" r="2.4" fill="#ed6220"/>
<ellipse cx="78" cy="24" rx="8" ry="10" fill="#f28c24"/>
<circle cx="73.9" cy="25.1" r="2.7" fill="#d7221c"/>
<circle cx="76.8" cy="32.5" r="2.6" fill="#f28e24"/>
<circle cx="81.5" cy="24.7" r="2.4" fill="#dd2b1d"/>
<circle cx="84.6" cy="29.5" r="2.1" fill="#de2d1d"/>
<circle cx="81.8" cy="16.7" r="2.5" fill="#f39125"/>
<circle cx="83.3" cy="21.5" r="2.4" fill="#ed6521"/>
<circle cx="79.2" cy="24.7" r="3.0" fill="#e8401e"/>
<circle cx="70.9" cy="27.9" r="2.9" fill="#db281d"/>
<circle cx="74.2" cy="15.2" r="2.3" fill="#f39325"/>
<circle cx="74.2" cy="19.2" r="2.4" fill="#eb5420"/>
<circle cx="77.9" cy="16.3" r="2.1" fill="#d31b1c"/>
<circle cx="72.6" cy="23.0" r="2.3" fill="#d9251d"/>
<circle cx="78.8" cy="16.3" r="2.0" fill="#db281d"/>
<circle cx="71.1" cy="28.8" r="3.0" fill="#f28d24"/>
<circle cx="80.9" cy="19.1" r="2.4" fill="#f28f25"/>
<circle cx="83.5" cy="22.5" r="2.9" fill="#c11318"/>
<ellipse cx="26" cy="25" rx="9" ry="10" fill="#f28c24"/>
<circle cx="24.8" cy="24.8" r="3.0" fill="#eb5620"/>
<circle cx="23.4" cy="28.1" r="2.6" fill="#d01a1b"/>
<circle cx="30.6" cy="26.5" r="2.5" fill="#e83d1e"/>
<circle cx="18.0" cy="20.7" r="2.4" fill="#d01a1b"/>
<circle cx="19.3" cy="21.6" r="2.9" fill="#f17f22"/>
<circle cx="25.0" cy="32.4" r="2.7" fill="#f07822"/>
<circle cx="19.2" cy="25.0" r="2.7" fill="#e9461f"/>
<circle cx="28.0" cy="23.3" r="3.2" fill="#e9481f"/>
<circle cx="24.4" cy="25.2" r="3.1" fill="#f28823"/>
<circle cx="24.3" cy="19.6" r="2.8" fill="#d9241c"/>
<circle cx="27.9" cy="23.3" r="3.0" fill="#e4381e"/>
<circle cx="32.5" cy="30.4" r="2.3" fill="#e0301d"/>
<circle cx="25.8" cy="22.0" r="2.7" fill="#cb181a"/>
<circle cx="26.2" cy="22.0" r="3.2" fill="#cd191a"/>
<circle cx="30.3" cy="29.7" r="2.2" fill="#ec5d20"/>
<circle cx="22.9" cy="24.5" r="2.7" fill="#ed6120"/>
<circle cx="33.2" cy="23.9" r="2.3" fill="#d41c1c"/>
<circle cx="21.9" cy="25.1" r="3.0" fill="#e73c1e"/>
<ellipse cx="14" cy="47" rx="9" ry="11" fill="#f28c24"/>
<circle cx="16.1" cy="43.0" r="3.1" fill="#e8401e"/>
<circle cx="14.6" cy="45.9" r="2.4" fill="#ea4a1f"/>
<circle cx="10.9" cy="55.8" r="3.1" fill="#e2341d"/>
<circle cx="16.5" cy="50.5" r="2.4" fill="#e8401e"/>
<circle cx="21.4" cy="45.2" r="3.0" fill="#f28f25"/>
<circle cx="22.0" cy="47.3" r="2.4" fill="#d11b1b"/>
<circle cx="16.6" cy="49.2" r="2.8" fill="#ee6821"/>
<circle cx="8.2" cy="40.5" r="2.1" fill="#f39526"/>
<circle cx="14.0" cy="52.4" r="2.7" fill="#df2f1d"/>
<circle cx="19.9" cy="39.1" r="2.0" fill="#d8231c"/>
<circle cx="13.2" cy="36.3" r="2.4" fill="#d31c1c"/>
<circle cx="5.2" cy="46.2" r="2.4" fill="#da261d"/>
<circle cx="18.0" cy="53.4" r="2.4" fill="#e5381e"/>
<circle cx="15.7" cy="55.2" r="3.2" fill="#e2341d"/>
<circle cx="12.5" cy="39.0" r="2.8" fill="#c71619"/>
<circle cx="21.5" cy="41.8" r="2.4" fill="#e9421e"/>
<circle cx="15.3" cy="47.8" r="2.4" fill="#f17d22"/>
<circle cx="16.2" cy="44.9" r="3.0" fill="#f28c24"/>
<circle cx="18.6" cy="44.9" r="2.5" fill="#dd2b1d"/>
<circle cx="15.5" cy="54.9" r="2.7" fill="#ef7422"/>
<ellipse cx="32" cy="50" rx="9" ry="9" fill="#ebcc35"/>
<circle cx="25.8" cy="48.0" r="3.1" fill="#eace35"/>
<circle cx="33.9" cy="58.4" r="3.2" fill="#f39526"/>
<circle cx="31.6" cy="52.2" r="2.0" fill="#eec632"/>
<circle cx="25.5" cy="50.9" r="2.5" fill="#f5b82d"/>
<circle cx="24.4" cy="45.3" r="2.4" fill="#f4ae2b"/>
<circle cx="32.6" cy="42.2" r="2.9" fill="#f4ab2a"/>
<circle cx="38.6" cy="50.5" r="2.4" fill="#f5b72d"/>
<circle cx="23.5" cy="49.4" r="2.9" fill="#f28923"/>
<circle cx="27.7" cy="48.4" r="3.0" fill="#f4bc2e"/>
<circle cx="30.5" cy="44.2" r="2.1" fill="#f39125"/>
<circle cx="29.8" cy="58.2" r="3.2" fill="#eacd35"/>
<circle cx="29.1" cy="51.9" r="2.7" fill="#f4aa2a"/>
<circle cx="31.9" cy="55.8" r="2.3" fill="#f39426"/>
<circle cx="37.1" cy="45.6" r="2.9" fill="#f5b22c"/>
<circle cx="33.6" cy="58.4" r="2.8" fill="#f5b72d"/>
<circle cx="40.2" cy="51.6" r="2.4" fill="#f4b02b"/>
<ellipse cx="46" cy="60" rx="9" ry="8" fill="#74c1af"/>
<circle cx="48.1" cy="64.7" r="2.7" fill="#cad947"/>
<circle cx="51.1" cy="54.5" r="2.2" fill="#f3bd2f"/>
<circle cx="43.6" cy="59.2" r="2.7" fill="#e6d538"/>
<circle cx="51.9" cy="54.2" r="2.7" fill="#e8d137"/>
<circle cx="49.5" cy="54.2" r="2.9" fill="#e3d93a"/>
<circle cx="44.6" cy="65.8" r="2.5" fill="#efc532"/>
<circle cx="40.7" cy="63.5" r="2.7" fill="#9fcf5b"/>
<circle cx="42.7" cy="54.0" r="2.1" fill="#ebcb34"/>
<circle cx="39.9" cy="54.3" r="2.5" fill="#e2dc3b"/>
<circle cx="43.3" cy="53.9" r="2.2" fill="#e2dc3b"/>
<circle cx="54.2" cy="61.1" r="2.2" fill="#c2d74b"/>
<circle cx="42.8" cy="65.4" r="2.7" fill="#f2bf30"/>
<ellipse cx="64" cy="48" rx="10" ry="6" fill="#add254"/>
<circle cx="71.4" cy="48.8" r="2.5" fill="#e4d83a"/>
<circle cx="63.0" cy="45.5" r="3.1" fill="#dddd3e"/>
<circle cx="59.1" cy="45.0" r="3.2" fill="#bfd64c"/>
<circle cx="65.6" cy="42.1" r="3.1" fill="#f0c130"/>
<circle cx="64.7" cy="50.8" r="2.5" fill="#f0c331"/>
<circle cx="61.0" cy="43.2" r="2.8" fill="#e9ce36"/>
<circle cx="72.0" cy="51.0" r="2.7" fill="#acd255"/>
<circle cx="59.5" cy="44.6" r="3.1" fill="#e6d639"/>
<circle cx="57.4" cy="46.2" r="2.1" fill="#add254"/>
<circle cx="71.5" cy="47.6" r="3.0" fill="#b7d450"/>
<circle cx="57.1" cy="44.6" r="2.8" fill="#a5d058"/>
<circle cx="64.1" cy="52.7" r="2.2" fill="#e2dd3c"/>
<ellipse cx="83" cy="54" rx="10" ry="9" fill="#e3da3a"/>
<circle cx="84.6" cy="45.3" r="3.1" fill="#e7d337"/>
<circle cx="75.9" cy="58.9" r="3.2" fill="#e1de3c"/>
<circle cx="79.0" cy="50.5" r="2.5" fill="#f39a27"/>
<circle cx="85.8" cy="59.6" r="2.9" fill="#e2dc3b"/>
<circle cx="83.6" cy="55.6" r="3.0" fill="#f4a028"/>
<circle cx="89.9" cy="52.1" r="2.3" fill="#f1c030"/>
<circle cx="88.9" cy="48.9" r="2.6" fill="#f4a329"/>
<circle cx="78.8" cy="46.0" r="2.2" fill="#e6d538"/>
<circle cx="73.5" cy="55.1" r="2.4" fill="#f4ae2b"/>
<circle cx="87.3" cy="47.0" r="3.0" fill="#f1c130"/>
<circle cx="79.2" cy="49.8" r="2.2" fill="#ebcb34"/>
<circle cx="77.1" cy="53.5" r="2.6" fill="#e9d036"/>
<circle cx="76.8" cy="58.6" r="2.9" fill="#eec632"/>
<circle cx="89.7" cy="57.1" r="3.1" fill="#e1dd3c"/>
<circle cx="80.7" cy="46.6" r="2.8" fill="#f2bf2f"/>
<circle cx="79.3" cy="61.5" r="2.5" fill="#ebcb34"/>
<circle cx="85.7" cy="62.3" r="2.2" fill="#f2bf30"/>
<circle cx="87.3" cy="59.0" r="2.1" fill="#f5b62c"/>
<ellipse cx="88" cy="46" rx="4" ry="5" fill="#f39125"/>
<circle cx="87.0" cy="46.0" r="2.5" fill="#c9171a"/>
<circle cx="85.5" cy="44.9" r="3.0" fill="#c9171a"/>
<circle cx="89.2" cy="50.6" r="2.3" fill="#e63a1e"/>
<circle cx="85.2" cy="48.0" r="2.0" fill="#eb5720"/>
<ellipse cx="23" cy="71" rx="10" ry="11" fill="#78c2a6"/>
<circle cx="32.5" cy="72.2" r="2.9" fill="#e3db3b"/>
<circle cx="23.8" cy="79.3" r="3.0" fill="#f5b72d"/>
<circle cx="22.7" cy="72.4" r="2.4" fill="#e5d639"/>
<circle cx="23.7" cy="68.8" r="3.1" fill="#e4d83a"/>
<circle cx="22.1" cy="79.0" r="3.0" fill="#ebcc35"/>
<circle cx="26.1" cy="70.1" r="2.1" fill="#f5b52c"/>
<circle cx="25.2" cy="66.9" r="2.1" fill="#eacc35"/>
<circle cx="28.3" cy="76.1" r="2.2" fill="#bcd64d"/>
<circle cx="17.7" cy="80.0" r="3.1" fill="#eec632"/>
<circle cx="19.9" cy="66.3" r="2.8" fill="#e9cf36"/>
<circle cx="18.7" cy="66.4" r="3.0" fill="#afd353"/>
<circle cx="27.4" cy="61.7" r="2.6" fill="#add254"/>
<circle cx="22.7" cy="78.7" r="2.0" fill="#e8d036"/>
<circle cx="27.9" cy="66.4" r="2.2" fill="#e5d739"/>
<circle cx="25.7" cy="81.1" r="2.5" fill="#d5db42"/>
<circle cx="26.0" cy="62.0" r="2.9" fill="#ebcc35"/>
<circle cx="26.2" cy="64.3" r="2.1" fill="#e2dc3b"/>
<circle cx="24.4" cy="76.2" r="2.9" fill="#cfda44"/>
<ellipse cx="53" cy="76" rx="9" ry="9" fill="#62bad9"/>
<circle cx="51.9" cy="73.1" r="2.3" fill="#bed64c"/>
<circle cx="50.9" cy="79.5" r="2.4" fill="#e2db3b"/>
<circle cx="54.1" cy="77.2" r="2.8" fill="#9dcf5c"/>
<circle cx="59.1" cy="78.9" r="2.3" fill="#d5db41"/>
<circle cx="50.2" cy="77.5" r="2.3" fill="#9cce5c"/>
<circle cx="52.0" cy="70.7" r="2.5" fill="#e8d137"/>
<circle cx="47.0" cy="70.6" r="3.0" fill="#92cc68"/>
<circle cx="57.5" cy="74.5" r="3.1" fill="#e1de3c"/>
<circle cx="54.2" cy="84.3" r="2.2" fill="#e8d137"/>
<circle cx="47.4" cy="82.0" r="2.4" fill="#abd255"/>
<circle cx="57.7" cy="74.2" r="2.2" fill="#8bc97a"/>
<ellipse cx="70" cy="66" rx="9" ry="9" fill="#5cb0e0"/>
<circle cx="62.2" cy="69.7" r="2.4" fill="#afd353"/>
<circle cx="71.2" cy="70.7" r="2.5" fill="#d7dc41"/>
<circle cx="72.3" cy="73.0" r="2.3" fill="#cbd946"/>
<circle cx="65.2" cy="68.7" r="3.0" fill="#91cb6b"/>
<circle cx="63.9" cy="67.5" r="3.1" fill="#e3da3a"/>
<circle cx="70.6" cy="69.3" r="2.8" fill="#89c87e"/>
<circle cx="67.7" cy="63.3" r="2.2" fill="#dddd3e"/>
<circle cx="78.1" cy="69.5" r="2.0" fill="#a9d156"/>
<circle cx="64.6" cy="63.2" r="2.4" fill="#c3d74a"/>
<circle cx="71.4" cy="60.4" r="3.1" fill="#92cc69"/>
<ellipse cx="44" cy="88" rx="10" ry="7" fill="#5cb0e0"/>
<circle cx="40.4" cy="87.8" r="2.7" fill="#d9dc40"/>
<circle cx="40.0" cy="94.2" r="2.9" fill="#e6d538"/>
<circle cx="40.2" cy="93.5" r="2.8" fill="#e1dd3c"/>
<circle cx="42.0" cy="90.8" r="2.9" fill="#9ecf5b"/>
<circle cx="38.7" cy="93.7" r="3.1" fill="#c9d947"/>
<circle cx="35.9" cy="86.0" r="3.1" fill="#92cc68"/>
<circle cx="36.7" cy="86.9" r="2.1" fill="#b9d54e"/>
<circle cx="39.9" cy="84.1" r="3.1" fill="#e5d739"/>
</g>
<rect width="100" height="100" filter="url(#sb)"/>
<use href="#gaps"/>
<rect width="100" height="100" filter="url(#sp)"/>
<rect y="50" width="100" height="50" filter="url(#sp2)"/>
</g>
<use href="#blob" fill="none" stroke="#9090dd" stroke-width="2.4" stroke-opacity="0.85"/>
</g>
<rect x="413.30" y="246.40" width="2.4" height="31.20" fill="url(#jet)"/>
<rect x="416.60" y="245.85" width="4.4" height="1.5" fill="#a4a4a4"/>
<rect x="416.60" y="253.50" width="4.4" height="1.5" fill="#a4a4a4"/>
<rect x="416.60" y="261.15" width="4.4" height="1.5" fill="#a4a4a4"/>
<rect x="416.60" y="268.80" width="4.4" height="1.5" fill="#a4a4a4"/>
<rect x="416.60" y="276.45" width="1.6" height="1.5" fill="#a4a4a4"/>
<text x="391.7" y="242.3" font-size="7.9" text-anchor="start" fill="#111" font-weight="normal" textLength="19.5" lengthAdjust="spacingAndGlyphs" stroke="#111" stroke-width="0.12">CD94</text>
<line x1="389.5" y1="289.1" x2="389.5" y2="311.8" stroke="#000" stroke-width="1.05"/>
<line x1="389.0" y1="311.3" x2="414.0" y2="311.3" stroke="#000" stroke-width="1.05"/>
<line x1="387.7" y1="291.5" x2="389.5" y2="291.5" stroke="#000" stroke-width="0.8"/>
<text x="384.2" y="293.3" font-size="5.2" text-anchor="end" fill="#222" font-weight="normal" textLength="8.9" lengthAdjust="spacingAndGlyphs" >100</text>
<line x1="387.7" y1="301.4" x2="389.5" y2="301.4" stroke="#000" stroke-width="0.8"/>
<text x="384.2" y="303.2" font-size="5.2" text-anchor="end" fill="#222" font-weight="normal" textLength="6.4" lengthAdjust="spacingAndGlyphs" >50</text>
<line x1="387.7" y1="311.3" x2="389.5" y2="311.3" stroke="#000" stroke-width="0.8"/>
<text x="384.2" y="313.1" font-size="5.2" text-anchor="end" fill="#222" font-weight="normal" textLength="3.5" lengthAdjust="spacingAndGlyphs" >0</text>
<line x1="396.6" y1="311.3" x2="396.6" y2="314.1" stroke="#000" stroke-width="0.8"/>
<line x1="407.4" y1="311.3" x2="407.4" y2="314.1" stroke="#000" stroke-width="0.8"/>
<line x1="396.6" y1="291.7" x2="396.6" y2="293.9" stroke="#000" stroke-width="0.9"/>
<line x1="394.8" y1="291.7" x2="398.40000000000003" y2="291.7" stroke="#000" stroke-width="0.9"/>
<rect x="393.10" y="293.90" width="7.00" height="17.40" fill="#2b4a8b" stroke="#1a3570" stroke-width="0.35"/>
<line x1="407.4" y1="291.2" x2="407.4" y2="293.0" stroke="#000" stroke-width="0.9"/>
<line x1="405.59999999999997" y1="291.2" x2="409.2" y2="291.2" stroke="#000" stroke-width="0.9"/>
<rect x="403.90" y="293.00" width="7.00" height="18.30" fill="#b0002c" stroke="#9a0026" stroke-width="0.35"/>
<line x1="396.04999999999995" y1="290.1" x2="406.75" y2="290.1" stroke="#3a3a3a" stroke-width="1.15"/>
<circle cx="400.40" cy="287.10" r="0.72" fill="#2a2a2a"/>
<circle cx="402.40" cy="287.10" r="0.72" fill="#2a2a2a"/>
<rect x="432.1" y="244.2" width="26.899999999999977" height="33.10000000000002" fill="#fff" stroke="#a8a8a8" stroke-width="0.7"/>
<g transform="translate(432.60,244.70) scale(0.2590,0.3210)">
<g clip-path="url(#bc)">
<rect width="100" height="100" fill="#36399a"/>
<g filter="url(#bl)">
<ellipse cx="52" cy="13" rx="22" ry="8" fill="#64bbd5"/>
<circle cx="56.0" cy="5.7" r="2.8" fill="#eacd35"/>
<circle cx="58.7" cy="15.8" r="2.9" fill="#cfda44"/>
<circle cx="47.6" cy="15.6" r="2.2" fill="#c4d74a"/>
<circle cx="53.0" cy="17.0" r="2.5" fill="#a1cf5a"/>
<circle cx="36.1" cy="17.9" r="2.3" fill="#e8d137"/>
<circle cx="58.6" cy="12.9" r="2.5" fill="#eccb34"/>
<circle cx="37.4" cy="16.7" r="2.4" fill="#bad54e"/>
<circle cx="43.8" cy="17.5" r="2.6" fill="#aed254"/>
<circle cx="46.7" cy="8.8" r="2.9" fill="#d3db42"/>
<circle cx="40.4" cy="18.6" r="3.1" fill="#d5db42"/>
<circle cx="66.0" cy="18.9" r="2.9" fill="#d6dc41"/>
<circle cx="45.1" cy="10.4" r="2.6" fill="#e9d036"/>
<circle cx="48.8" cy="20.1" r="2.1" fill="#d1da43"/>
<circle cx="50.3" cy="17.5" r="2.4" fill="#d4db42"/>
<circle cx="49.8" cy="12.8" r="2.5" fill="#9ace5d"/>
<circle cx="69.5" cy="8.1" r="2.5" fill="#b1d352"/>
<circle cx="68.2" cy="14.1" r="2.5" fill="#b1d353"/>
<circle cx="57.5" cy="10.8" r="3.2" fill="#c7d848"/>
<circle cx="38.7" cy="10.2" r="2.2" fill="#9fcf5b"/>
<circle cx="62.6" cy="19.8" r="2.0" fill="#e7d338"/>
<circle cx="40.3" cy="7.5" r="3.0" fill="#edc733"/>
<circle cx="53.6" cy="18.3" r="2.8" fill="#e7d237"/>
<circle cx="58.3" cy="18.4" r="3.1" fill="#eec532"/>
<circle cx="59.8" cy="10.7" r="3.0" fill="#b1d353"/>
<circle cx="30.3" cy="12.1" r="2.9" fill="#99ce5e"/>
<circle cx="44.7" cy="18.2" r="2.9" fill="#e7d338"/>
<circle cx="54.8" cy="15.8" r="3.1" fill="#93cc67"/>
<circle cx="52.7" cy="14.2" r="2.8" fill="#e6d538"/>
<circle cx="52.5" cy="9.6" r="2.9" fill="#d2db43"/>
<circle cx="62.6" cy="18.1" r="3.0" fill="#d1da44"/>
<circle cx="55.6" cy="19.7" r="2.9" fill="#cdd946"/>
<circle cx="59.0" cy="20.1" r="2.1" fill="#d5db42"/>
<ellipse cx="60" cy="33" rx="20" ry="8" fill="#4679d7"/>
<circle cx="76.9" cy="35.2" r="3.1" fill="#c1d74b"/>
<circle cx="50.3" cy="29.4" r="2.1" fill="#93cc67"/>
<circle cx="50.2" cy="28.9" r="2.7" fill="#aed254"/>
<circle cx="79.4" cy="34.1" r="2.7" fill="#bbd54e"/>
<circle cx="49.1" cy="38.4" r="2.1" fill="#b8d54f"/>
<circle cx="69.1" cy="32.8" r="2.5" fill="#7ac3a2"/>
<circle cx="51.8" cy="36.6" r="3.1" fill="#abd255"/>
<circle cx="79.5" cy="33.8" r="2.8" fill="#6ebfbd"/>
<circle cx="66.3" cy="34.9" r="3.0" fill="#75c1ad"/>
<circle cx="60.8" cy="37.0" r="2.2" fill="#8bc97a"/>
<circle cx="51.6" cy="39.3" r="2.6" fill="#acd255"/>
<circle cx="70.4" cy="32.3" r="2.5" fill="#bed64c"/>
<circle cx="64.9" cy="32.4" r="3.1" fill="#9fcf5b"/>
<circle cx="63.7" cy="27.3" r="2.8" fill="#7cc39d"/>
<circle cx="61.8" cy="34.4" r="2.8" fill="#74c1af"/>
<circle cx="48.7" cy="28.2" r="3.2" fill="#85c787"/>
<circle cx="74.3" cy="28.5" r="2.6" fill="#c7d848"/>
<circle cx="59.4" cy="29.9" r="2.3" fill="#8dca75"/>
<circle cx="79.5" cy="32.7" r="2.2" fill="#9fcf5b"/>
<circle cx="69.9" cy="31.1" r="3.1" fill="#c4d74a"/>
<circle cx="79.2" cy="35.0" r="2.5" fill="#70bfb9"/>
<circle cx="71.6" cy="34.4" r="3.0" fill="#89c87d"/>
<ellipse cx="78" cy="24" rx="8" ry="10" fill="#4269c9"/>
<circle cx="73.8" cy="18.4" r="2.7" fill="#66bcd1"/>
<circle cx="82.2" cy="30.7" r="2.8" fill="#8fcb6f"/>
<circle cx="74.7" cy="24.1" r="2.5" fill="#70bfb8"/>
<circle cx="75.0" cy="15.9" r="2.6" fill="#88c881"/>
<circle cx="77.9" cy="17.9" r="3.0" fill="#72c0b5"/>
<circle cx="76.2" cy="22.1" r="2.6" fill="#a8d157"/>
<circle cx="71.9" cy="25.9" r="2.4" fill="#80c592"/>
<circle cx="78.1" cy="18.5" r="2.8" fill="#86c784"/>
<circle cx="75.4" cy="28.7" r="2.7" fill="#96cd60"/>
<circle cx="81.5" cy="29.5" r="2.3" fill="#a3d059"/>
<ellipse cx="26" cy="25" rx="9" ry="10" fill="#4162c2"/>
<circle cx="18.8" cy="24.3" r="2.6" fill="#88c880"/>
<circle cx="28.6" cy="26.9" r="2.8" fill="#59a9de"/>
<circle cx="26.8" cy="34.4" r="2.6" fill="#60b9df"/>
<circle cx="31.7" cy="18.7" r="2.7" fill="#89c87d"/>
<circle cx="26.7" cy="22.6" r="2.9" fill="#67bccf"/>
<circle cx="28.2" cy="18.3" r="3.1" fill="#90cb6d"/>
<circle cx="27.6" cy="32.1" r="2.4" fill="#67bccd"/>
<circle cx="30.5" cy="18.1" r="2.3" fill="#70bfb9"/>
<circle cx="20.9" cy="26.4" r="2.3" fill="#80c593"/>
<circle cx="25.8" cy="28.9" r="2.5" fill="#67bcce"/>
<circle cx="23.4" cy="31.9" r="3.1" fill="#5fb8e1"/>
<ellipse cx="14" cy="47" rx="9" ry="11" fill="#497fd8"/>
<circle cx="12.9" cy="55.0" r="2.3" fill="#acd255"/>
<circle cx="18.8" cy="55.0" r="3.1" fill="#91cb6a"/>
<circle cx="18.1" cy="47.4" r="3.1" fill="#7fc596"/>
<circle cx="10.0" cy="51.6" r="3.0" fill="#8eca71"/>
<circle cx="9.0" cy="46.0" r="2.5" fill="#c8d848"/>
<circle cx="12.2" cy="50.7" r="2.4" fill="#83c68b"/>
<circle cx="7.6" cy="47.5" r="2.4" fill="#97cd5f"/>
<circle cx="9.2" cy="42.5" r="2.6" fill="#78c2a5"/>
<circle cx="14.4" cy="39.9" r="2.8" fill="#84c68a"/>
<circle cx="6.9" cy="51.5" r="2.9" fill="#bcd64d"/>
<circle cx="9.6" cy="40.4" r="2.6" fill="#75c1ad"/>
<circle cx="17.3" cy="42.0" r="2.1" fill="#80c594"/>
<circle cx="18.4" cy="51.3" r="2.7" fill="#9ace5d"/>
<circle cx="9.7" cy="55.9" r="2.5" fill="#c1d74b"/>
<ellipse cx="32" cy="50" rx="9" ry="9" fill="#3e57b7"/>
<circle cx="25.1" cy="49.3" r="3.1" fill="#5baddf"/>
<circle cx="37.4" cy="49.6" r="3.0" fill="#83c68d"/>
<circle cx="33.5" cy="52.2" r="2.5" fill="#7cc49c"/>
<circle cx="31.3" cy="58.3" r="3.1" fill="#5cb2e0"/>
<circle cx="33.9" cy="58.1" r="2.2" fill="#79c2a4"/>
<circle cx="38.2" cy="53.5" r="2.4" fill="#7cc49c"/>
<circle cx="28.6" cy="57.0" r="2.6" fill="#5196dc"/>
<circle cx="26.0" cy="46.5" r="3.0" fill="#68bccb"/>
<ellipse cx="46" cy="60" rx="9" ry="8" fill="#3941a2"/>
<circle cx="39.7" cy="62.5" r="2.1" fill="#5298dc"/>
<circle cx="50.8" cy="55.7" r="2.5" fill="#436dcd"/>
<circle cx="49.7" cy="58.7" r="2.9" fill="#56a2dd"/>
<circle cx="49.2" cy="55.2" r="3.1" fill="#539bdc"/>
<ellipse cx="64" cy="48" rx="10" ry="6" fill="#3f59ba"/>
<circle cx="58.8" cy="47.1" r="2.7" fill="#60b9e0"/>
<circle cx="61.2" cy="42.4" r="2.5" fill="#71bfb7"/>
<circle cx="62.1" cy="46.3" r="2.6" fill="#7bc39f"/>
<circle cx="64.2" cy="48.6" r="2.2" fill="#78c2a7"/>
<circle cx="64.0" cy="51.7" r="2.6" fill="#83c68b"/>
<circle cx="65.4" cy="47.0" r="2.4" fill="#83c68c"/>
<ellipse cx="83" cy="54" rx="10" ry="9" fill="#3f59ba"/>
<circle cx="88.3" cy="49.5" r="2.4" fill="#5cb1e0"/>
<circle cx="89.1" cy="60.7" r="2.8" fill="#7bc39e"/>
<circle cx="78.6" cy="57.2" r="2.1" fill="#60b9df"/>
<circle cx="82.7" cy="49.1" r="2.0" fill="#6dbebf"/>
<circle cx="75.3" cy="53.9" r="3.0" fill="#84c68a"/>
<circle cx="73.6" cy="51.1" r="3.0" fill="#61badd"/>
<circle cx="87.5" cy="47.2" r="2.1" fill="#91cb6c"/>
<circle cx="80.0" cy="60.9" r="2.4" fill="#6dbec0"/>
<circle cx="73.2" cy="54.3" r="2.9" fill="#5cb1e0"/>
</g>
<rect width="100" height="100" filter="url(#sb)"/>
<use href="#gaps"/>
<rect width="100" height="100" filter="url(#sp)"/>
<rect y="50" width="100" height="50" filter="url(#sp2)"/>
</g>
<use href="#blob" fill="none" stroke="#9090dd" stroke-width="2.4" stroke-opacity="0.85"/>
</g>
<rect x="459.10" y="244.60" width="2.4" height="32.30" fill="url(#jet)"/>
<rect x="462.40" y="244.05" width="4.4" height="1.5" fill="#a4a4a4"/>
<rect x="462.40" y="251.97" width="4.4" height="1.5" fill="#a4a4a4"/>
<rect x="462.40" y="259.90" width="4.4" height="1.5" fill="#a4a4a4"/>
<rect x="462.40" y="267.82" width="4.4" height="1.5" fill="#a4a4a4"/>
<rect x="462.40" y="275.75" width="1.6" height="1.5" fill="#a4a4a4"/>
<text x="434.3" y="242.3" font-size="7.9" text-anchor="start" fill="#111" font-weight="normal" textLength="23.5" lengthAdjust="spacingAndGlyphs" stroke="#111" stroke-width="0.12">CD62L</text>
<line x1="433.4" y1="289.1" x2="433.4" y2="311.8" stroke="#000" stroke-width="1.05"/>
<line x1="432.9" y1="311.3" x2="457.9" y2="311.3" stroke="#000" stroke-width="1.05"/>
<line x1="431.59999999999997" y1="291.2" x2="433.4" y2="291.2" stroke="#000" stroke-width="0.8"/>
<text x="428.09999999999997" y="293.0" font-size="5.2" text-anchor="end" fill="#222" font-weight="normal" textLength="6.4" lengthAdjust="spacingAndGlyphs" >50</text>
<line x1="431.59999999999997" y1="301.2" x2="433.4" y2="301.2" stroke="#000" stroke-width="0.8"/>
<text x="428.09999999999997" y="303.0" font-size="5.2" text-anchor="end" fill="#222" font-weight="normal" textLength="6.4" lengthAdjust="spacingAndGlyphs" >25</text>
<line x1="431.59999999999997" y1="311.3" x2="433.4" y2="311.3" stroke="#000" stroke-width="0.8"/>
<text x="428.09999999999997" y="313.1" font-size="5.2" text-anchor="end" fill="#222" font-weight="normal" textLength="3.5" lengthAdjust="spacingAndGlyphs" >0</text>
<line x1="440.5" y1="311.3" x2="440.5" y2="314.1" stroke="#000" stroke-width="0.8"/>
<line x1="451.29999999999995" y1="311.3" x2="451.29999999999995" y2="314.1" stroke="#000" stroke-width="0.8"/>
<line x1="440.5" y1="304.4" x2="440.5" y2="307.3" stroke="#000" stroke-width="0.9"/>
<line x1="438.7" y1="304.4" x2="442.3" y2="304.4" stroke="#000" stroke-width="0.9"/>
<rect x="437.00" y="307.30" width="7.00" height="4.00" fill="#2b4a8b" stroke="#1a3570" stroke-width="0.35"/>
<line x1="451.29999999999995" y1="295.2" x2="451.29999999999995" y2="300.9" stroke="#000" stroke-width="0.9"/>
<line x1="449.49999999999994" y1="295.2" x2="453.09999999999997" y2="295.2" stroke="#000" stroke-width="0.9"/>
<rect x="447.80" y="300.90" width="7.00" height="10.40" fill="#b0002c" stroke="#9a0026" stroke-width="0.35"/>
<line x1="439.94999999999993" y1="290.1" x2="450.65" y2="290.1" stroke="#3a3a3a" stroke-width="1.15"/>
<circle cx="444.30" cy="287.10" r="0.72" fill="#2a2a2a"/>
<circle cx="446.30" cy="287.10" r="0.72" fill="#2a2a2a"/>
<rect x="476.0" y="245.6" width="27.0" height="31.700000000000017" fill="#fff" stroke="#a8a8a8" stroke-width="0.7"/>
<g transform="translate(476.50,246.10) scale(0.2600,0.3070)">
<g clip-path="url(#bc)">
<rect width="100" height="100" fill="#36399a"/>
<g filter="url(#bl)">
<ellipse cx="52" cy="13" rx="22" ry="8" fill="#5aacdf"/>
<circle cx="56.0" cy="19.6" r="3.0" fill="#b9d54f"/>
<circle cx="61.1" cy="14.6" r="2.6" fill="#c8d848"/>
<circle cx="42.9" cy="17.0" r="2.2" fill="#a5d058"/>
<circle cx="73.0" cy="13.9" r="2.3" fill="#9dcf5c"/>
<circle cx="59.9" cy="18.8" r="2.9" fill="#a5d058"/>
<circle cx="58.5" cy="16.8" r="2.4" fill="#e1de3c"/>
<circle cx="57.4" cy="20.0" r="2.5" fill="#8dca74"/>
<circle cx="59.7" cy="19.6" r="2.5" fill="#a0cf5a"/>
<circle cx="39.9" cy="15.2" r="2.9" fill="#bfd64c"/>
<circle cx="57.3" cy="12.3" r="3.1" fill="#e6d538"/>
<circle cx="56.6" cy="15.5" r="3.2" fill="#e6d538"/>
<circle cx="39.9" cy="14.7" r="3.0" fill="#95cd61"/>
<circle cx="68.5" cy="17.8" r="2.5" fill="#e7d438"/>
<circle cx="65.6" cy="9.5" r="2.6" fill="#90cb6d"/>
<circle cx="66.6" cy="10.0" r="2.6" fill="#e5d639"/>
<circle cx="41.7" cy="10.8" r="2.8" fill="#b4d451"/>
<circle cx="65.8" cy="13.5" r="3.0" fill="#8fca70"/>
<circle cx="40.1" cy="13.1" r="2.8" fill="#ceda45"/>
<circle cx="68.9" cy="11.0" r="3.2" fill="#e4d839"/>
<circle cx="46.3" cy="16.6" r="2.6" fill="#b3d451"/>
<circle cx="58.5" cy="10.2" r="3.1" fill="#d4db42"/>
<circle cx="37.5" cy="18.4" r="2.5" fill="#92cc68"/>
<circle cx="49.0" cy="13.4" r="3.1" fill="#dcdd3e"/>
<circle cx="39.8" cy="15.2" r="2.2" fill="#8eca71"/>
<circle cx="65.8" cy="15.8" r="2.8" fill="#8ac97c"/>
<circle cx="57.8" cy="16.0" r="2.4" fill="#b6d450"/>
<circle cx="55.1" cy="13.3" r="2.2" fill="#8cc977"/>
<circle cx="53.8" cy="18.4" r="2.3" fill="#9dcf5c"/>
<circle cx="38.1" cy="15.9" r="2.0" fill="#e4d839"/>
<circle cx="50.7" cy="16.1" r="2.3" fill="#e2db3b"/>
<ellipse cx="60" cy="33" rx="20" ry="8" fill="#4269c9"/>
<circle cx="78.3" cy="32.4" r="2.5" fill="#aad255"/>
<circle cx="72.5" cy="29.0" r="3.0" fill="#8fca70"/>
<circle cx="63.9" cy="36.9" r="3.0" fill="#82c68f"/>
<circle cx="65.8" cy="30.1" r="2.1" fill="#7cc49c"/>
<circle cx="58.8" cy="32.2" r="2.4" fill="#a1d05a"/>
<circle cx="47.1" cy="29.6" r="2.2" fill="#8ac97a"/>
<circle cx="54.4" cy="37.8" r="2.5" fill="#7bc39f"/>
<circle cx="49.4" cy="36.0" r="2.6" fill="#69bdca"/>
<circle cx="55.7" cy="30.9" r="2.9" fill="#83c68c"/>
<circle cx="40.3" cy="32.0" r="2.2" fill="#a3d059"/>
<circle cx="49.1" cy="36.6" r="2.2" fill="#7ec497"/>
<circle cx="58.1" cy="37.0" r="3.0" fill="#a3d059"/>
<circle cx="55.1" cy="35.1" r="2.7" fill="#7fc596"/>
<circle cx="61.2" cy="31.2" r="2.4" fill="#6dbec0"/>
<circle cx="56.7" cy="33.6" r="2.9" fill="#71c0b5"/>
<circle cx="60.2" cy="26.7" r="2.8" fill="#a6d158"/>
<circle cx="49.2" cy="27.2" r="3.0" fill="#81c590"/>
<circle cx="57.0" cy="38.8" r="2.6" fill="#85c787"/>
<circle cx="58.2" cy="28.1" r="2.1" fill="#77c2a9"/>
<ellipse cx="78" cy="24" rx="8" ry="10" fill="#3f59ba"/>
<circle cx="72.3" cy="28.4" r="2.8" fill="#5cb2e0"/>
<circle cx="74.5" cy="32.4" r="2.0" fill="#59a9df"/>
<circle cx="75.3" cy="20.5" r="3.0" fill="#55a0dd"/>
<circle cx="76.5" cy="15.9" r="2.1" fill="#7ac3a1"/>
<circle cx="81.5" cy="22.4" r="2.6" fill="#65bbd2"/>
<circle cx="72.4" cy="27.9" r="2.6" fill="#57a3de"/>
<circle cx="78.0" cy="21.6" r="3.0" fill="#89c87d"/>
<circle cx="80.4" cy="16.0" r="3.0" fill="#76c1ab"/>
<ellipse cx="26" cy="25" rx="9" ry="10" fill="#4269c9"/>
<circle cx="23.0" cy="20.0" r="3.2" fill="#8fca70"/>
<circle cx="29.4" cy="33.7" r="3.2" fill="#8eca72"/>
<circle cx="31.3" cy="22.3" r="2.9" fill="#a1cf5a"/>
<circle cx="32.9" cy="29.0" r="2.7" fill="#79c3a3"/>
<circle cx="34.2" cy="26.8" r="2.6" fill="#80c592"/>
<circle cx="33.3" cy="20.0" r="2.9" fill="#7bc3a0"/>
<circle cx="25.6" cy="33.5" r="2.9" fill="#82c68e"/>
<circle cx="34.5" cy="26.4" r="2.4" fill="#71c0b7"/>
<circle cx="28.1" cy="30.0" r="2.8" fill="#78c2a6"/>
<circle cx="28.3" cy="30.0" r="2.3" fill="#93cc66"/>
<circle cx="23.2" cy="32.4" r="2.3" fill="#98cd5e"/>
<ellipse cx="14" cy="47" rx="9" ry="11" fill="#4269c9"/>
<circle cx="8.8" cy="40.4" r="2.8" fill="#b1d352"/>
<circle cx="8.2" cy="42.4" r="2.1" fill="#abd255"/>
<circle cx="13.0" cy="54.6" r="2.5" fill="#7ec498"/>
<circle cx="15.1" cy="45.0" r="2.7" fill="#88c881"/>
<circle cx="16.8" cy="57.3" r="2.8" fill="#92cc69"/>
<circle cx="7.8" cy="46.5" r="2.7" fill="#8cc977"/>
<circle cx="8.2" cy="41.3" r="2.8" fill="#86c784"/>
<circle cx="16.3" cy="52.8" r="2.7" fill="#6bbec3"/>
<circle cx="7.1" cy="48.3" r="2.4" fill="#86c785"/>
<circle cx="16.1" cy="37.0" r="2.3" fill="#89c87e"/>
<circle cx="11.2" cy="51.9" r="2.9" fill="#95cd60"/>
<circle cx="7.5" cy="49.6" r="2.1" fill="#8eca72"/>
<ellipse cx="32" cy="50" rx="9" ry="9" fill="#3b4cad"/>
<circle cx="35.2" cy="56.2" r="2.7" fill="#77c2a9"/>
<circle cx="32.6" cy="42.6" r="2.2" fill="#5399dc"/>
<circle cx="35.6" cy="42.0" r="3.0" fill="#55a0dd"/>
<circle cx="25.1" cy="54.0" r="2.5" fill="#7ec498"/>
<circle cx="23.7" cy="51.2" r="2.4" fill="#4e8dda"/>
<circle cx="27.2" cy="54.4" r="2.4" fill="#79c2a5"/>
<ellipse cx="46" cy="60" rx="9" ry="8" fill="#3941a2"/>
<circle cx="51.0" cy="61.8" r="2.8" fill="#5bb0e0"/>
<circle cx="43.9" cy="56.4" r="2.2" fill="#5194db"/>
<circle cx="39.6" cy="56.8" r="2.9" fill="#4679d7"/>
<circle cx="48.4" cy="63.8" r="2.4" fill="#5194db"/>
<ellipse cx="64" cy="48" rx="10" ry="6" fill="#3b4cad"/>
<circle cx="58.9" cy="46.0" r="2.3" fill="#7fc596"/>
<circle cx="73.4" cy="49.9" r="3.0" fill="#72c0b5"/>
<circle cx="62.9" cy="42.9" r="2.3" fill="#5eb7e1"/>
<circle cx="70.4" cy="51.7" r="2.4" fill="#6bbdc6"/>
<circle cx="67.2" cy="51.5" r="2.9" fill="#4b86d9"/>
<ellipse cx="83" cy="54" rx="10" ry="9" fill="#3a47a8"/>
<circle cx="90.7" cy="58.0" r="2.1" fill="#4d8bda"/>
<circle cx="87.1" cy="60.3" r="2.5" fill="#4677d6"/>
<circle cx="90.8" cy="50.2" r="2.7" fill="#6bbdc5"/>
<circle cx="82.1" cy="57.3" r="2.3" fill="#4676d5"/>
<circle cx="85.8" cy="51.9" r="3.2" fill="#446ece"/>
<circle cx="83.1" cy="58.6" r="2.1" fill="#58a6de"/>
<circle cx="73.5" cy="51.6" r="2.9" fill="#59a8de"/>
</g>
<rect width="100" height="100" filter="url(#sb)"/>
<use href="#gaps"/>
<rect width="100" height="100" filter="url(#sp)"/>
<rect y="50" width="100" height="50" filter="url(#sp2)"/>
</g>
<use href="#blob" fill="none" stroke="#9090dd" stroke-width="2.4" stroke-opacity="0.85"/>
</g>
<rect x="503.10" y="246.00" width="2.4" height="30.90" fill="url(#jet)"/>
<rect x="506.40" y="245.45" width="4.4" height="1.5" fill="#a4a4a4"/>
<rect x="506.40" y="253.03" width="4.4" height="1.5" fill="#a4a4a4"/>
<rect x="506.40" y="260.60" width="4.4" height="1.5" fill="#a4a4a4"/>
<rect x="506.40" y="268.18" width="4.4" height="1.5" fill="#a4a4a4"/>
<rect x="506.40" y="275.75" width="1.6" height="1.5" fill="#a4a4a4"/>
<text x="481.2" y="242.3" font-size="7.9" text-anchor="start" fill="#111" font-weight="normal" textLength="19.19999999999999" lengthAdjust="spacingAndGlyphs" stroke="#111" stroke-width="0.12">CD27</text>
<line x1="480.7" y1="289.1" x2="480.7" y2="311.8" stroke="#000" stroke-width="1.05"/>
<line x1="480.2" y1="311.3" x2="505.2" y2="311.3" stroke="#000" stroke-width="1.05"/>
<line x1="478.9" y1="291.5" x2="480.7" y2="291.5" stroke="#000" stroke-width="0.8"/>
<text x="475.4" y="293.3" font-size="5.2" text-anchor="end" fill="#222" font-weight="normal" textLength="8.9" lengthAdjust="spacingAndGlyphs" >100</text>
<line x1="478.9" y1="301.4" x2="480.7" y2="301.4" stroke="#000" stroke-width="0.8"/>
<text x="475.4" y="303.2" font-size="5.2" text-anchor="end" fill="#222" font-weight="normal" textLength="6.4" lengthAdjust="spacingAndGlyphs" >50</text>
<line x1="478.9" y1="311.3" x2="480.7" y2="311.3" stroke="#000" stroke-width="0.8"/>
<text x="475.4" y="313.1" font-size="5.2" text-anchor="end" fill="#222" font-weight="normal" textLength="3.5" lengthAdjust="spacingAndGlyphs" >0</text>
<line x1="487.8" y1="311.3" x2="487.8" y2="314.1" stroke="#000" stroke-width="0.8"/>
<line x1="498.59999999999997" y1="311.3" x2="498.59999999999997" y2="314.1" stroke="#000" stroke-width="0.8"/>
<line x1="487.8" y1="309.8" x2="487.8" y2="310.6" stroke="#000" stroke-width="0.9"/>
<line x1="486.0" y1="309.8" x2="489.6" y2="309.8" stroke="#000" stroke-width="0.9"/>
<rect x="484.30" y="310.60" width="7.00" height="0.70" fill="#2b4a8b" stroke="#1a3570" stroke-width="0.35"/>
<line x1="498.59999999999997" y1="306.4" x2="498.59999999999997" y2="309.0" stroke="#000" stroke-width="0.9"/>
<line x1="496.79999999999995" y1="306.4" x2="500.4" y2="306.4" stroke="#000" stroke-width="0.9"/>
<rect x="495.10" y="309.00" width="7.00" height="2.30" fill="#b0002c" stroke="#9a0026" stroke-width="0.35"/>
<line x1="487.24999999999994" y1="290.1" x2="497.95" y2="290.1" stroke="#3a3a3a" stroke-width="1.15"/>
<circle cx="490.60" cy="287.10" r="0.72" fill="#2a2a2a"/>
<circle cx="492.60" cy="287.10" r="0.72" fill="#2a2a2a"/>
<circle cx="494.60" cy="287.10" r="0.72" fill="#2a2a2a"/>
<rect x="28.5" y="342.3" width="27.6" height="33.099999999999966" fill="#fff" stroke="#a8a8a8" stroke-width="0.7"/>
<g transform="translate(29.00,342.80) scale(0.2660,0.3210)">
<g clip-path="url(#bc)">
<rect width="100" height="100" fill="#353898"/>
<g filter="url(#bl)">
<circle cx="88" cy="42" r="2.5" fill="#f39125"/>
<circle cx="55" cy="60" r="2" fill="#ea4a1f"/>
</g>
<rect width="100" height="100" filter="url(#sb)"/>
<use href="#gaps"/>
<rect width="100" height="100" filter="url(#sp)"/>
<rect y="50" width="100" height="50" filter="url(#sp2)"/>
</g>
<use href="#blob" fill="none" stroke="#9090dd" stroke-width="2.4" stroke-opacity="0.85"/>
</g>
<rect x="56.20" y="342.70" width="2.4" height="32.30" fill="url(#jet)"/>
<rect x="59.50" y="342.15" width="4.4" height="1.5" fill="#a4a4a4"/>
<rect x="59.50" y="350.08" width="4.4" height="1.5" fill="#a4a4a4"/>
<rect x="59.50" y="358.00" width="4.4" height="1.5" fill="#a4a4a4"/>
<rect x="59.50" y="365.93" width="4.4" height="1.5" fill="#a4a4a4"/>
<rect x="59.50" y="373.85" width="1.6" height="1.5" fill="#a4a4a4"/>
<text x="34.9" y="338.8" font-size="7.9" text-anchor="start" fill="#111" font-weight="normal" textLength="16.9" lengthAdjust="spacingAndGlyphs" stroke="#111" stroke-width="0.12">LFA-1</text>
<line x1="31.4" y1="386.5" x2="31.4" y2="409.3" stroke="#000" stroke-width="1.05"/>
<line x1="30.9" y1="408.8" x2="55.9" y2="408.8" stroke="#000" stroke-width="1.05"/>
<line x1="29.599999999999998" y1="388.7" x2="31.4" y2="388.7" stroke="#000" stroke-width="0.8"/>
<text x="26.099999999999998" y="390.5" font-size="5.2" text-anchor="end" fill="#222" font-weight="normal" textLength="8.9" lengthAdjust="spacingAndGlyphs" >100</text>
<line x1="29.599999999999998" y1="398.8" x2="31.4" y2="398.8" stroke="#000" stroke-width="0.8"/>
<text x="26.099999999999998" y="400.6" font-size="5.2" text-anchor="end" fill="#222" font-weight="normal" textLength="6.4" lengthAdjust="spacingAndGlyphs" >50</text>
<line x1="29.599999999999998" y1="408.8" x2="31.4" y2="408.8" stroke="#000" stroke-width="0.8"/>
<text x="26.099999999999998" y="410.6" font-size="5.2" text-anchor="end" fill="#222" font-weight="normal" textLength="3.5" lengthAdjust="spacingAndGlyphs" >0</text>
<line x1="38.5" y1="408.8" x2="38.5" y2="411.6" stroke="#000" stroke-width="0.8"/>
<line x1="49.3" y1="408.8" x2="49.3" y2="411.6" stroke="#000" stroke-width="0.8"/>
<line x1="38.5" y1="407.4" x2="38.5" y2="408.2" stroke="#000" stroke-width="0.9"/>
<line x1="36.7" y1="407.4" x2="40.3" y2="407.4" stroke="#000" stroke-width="0.9"/>
<rect x="35.00" y="408.20" width="7.00" height="0.60" fill="#2b4a8b" stroke="#1a3570" stroke-width="0.35"/>
<line x1="49.3" y1="406.3" x2="49.3" y2="407.6" stroke="#000" stroke-width="0.9"/>
<line x1="47.5" y1="406.3" x2="51.099999999999994" y2="406.3" stroke="#000" stroke-width="0.9"/>
<rect x="45.80" y="407.60" width="7.00" height="1.20" fill="#b0002c" stroke="#9a0026" stroke-width="0.35"/>
<line x1="37.949999999999996" y1="387.4" x2="48.65" y2="387.4" stroke="#3a3a3a" stroke-width="1.15"/>
<text x="43.0" y="385.2" font-size="4.8" text-anchor="middle" fill="#333" font-weight="normal" textLength="7.2" lengthAdjust="spacingAndGlyphs" >NS</text>
<rect x="73.2" y="342.4" width="27.799999999999997" height="33.0" fill="#fff" stroke="#a8a8a8" stroke-width="0.7"/>
<g transform="translate(73.70,342.90) scale(0.2680,0.3200)">
<g clip-path="url(#bc)">
<rect width="100" height="100" fill="#36399a"/>
<g filter="url(#bl)">
<ellipse cx="52" cy="13" rx="22" ry="8" fill="#3f59ba"/>
<circle cx="60.5" cy="9.4" r="2.6" fill="#7ac3a1"/>
<circle cx="33.7" cy="8.9" r="2.8" fill="#7bc39f"/>
<circle cx="43.1" cy="15.0" r="3.1" fill="#69bdc9"/>
<circle cx="54.3" cy="17.2" r="2.7" fill="#8fcb6f"/>
<circle cx="43.7" cy="17.7" r="2.4" fill="#6ebfbd"/>
<circle cx="63.0" cy="19.4" r="2.6" fill="#81c592"/>
<circle cx="45.6" cy="15.3" r="2.3" fill="#55a0dd"/>
<circle cx="62.5" cy="13.1" r="2.6" fill="#55a0dd"/>
<circle cx="32.7" cy="13.1" r="2.7" fill="#83c68c"/>
<circle cx="44.9" cy="19.8" r="2.7" fill="#79c2a4"/>
<circle cx="70.2" cy="14.7" r="2.5" fill="#5cb1e0"/>
<circle cx="61.7" cy="17.0" r="2.7" fill="#63bad8"/>
<circle cx="58.6" cy="15.2" r="2.3" fill="#56a0dd"/>
<circle cx="61.1" cy="8.5" r="2.1" fill="#72c0b5"/>
<circle cx="44.6" cy="16.2" r="2.5" fill="#86c784"/>
<circle cx="43.0" cy="13.9" r="2.9" fill="#6fbfbb"/>
<circle cx="61.3" cy="11.5" r="2.1" fill="#5fb8e1"/>
<circle cx="53.7" cy="15.6" r="2.8" fill="#62bada"/>
<ellipse cx="60" cy="33" rx="20" ry="8" fill="#3a44a6"/>
<circle cx="69.4" cy="31.6" r="2.4" fill="#6ebfbd"/>
<circle cx="67.8" cy="25.9" r="2.9" fill="#6cbec1"/>
<circle cx="71.6" cy="34.7" r="3.2" fill="#57a5de"/>
<circle cx="54.5" cy="30.2" r="2.1" fill="#58a7de"/>
<circle cx="68.4" cy="33.4" r="2.3" fill="#6bbdc6"/>
<circle cx="60.7" cy="30.3" r="3.1" fill="#76c1ab"/>
<circle cx="73.6" cy="38.9" r="3.0" fill="#4b84d9"/>
<circle cx="61.4" cy="41.0" r="2.4" fill="#57a5de"/>
<circle cx="78.3" cy="33.4" r="2.2" fill="#72c0b5"/>
<circle cx="56.4" cy="39.3" r="2.8" fill="#55a0dd"/>
<ellipse cx="78" cy="24" rx="8" ry="10" fill="#3a48aa"/>
<circle cx="84.4" cy="18.4" r="2.2" fill="#7cc49c"/>
<circle cx="78.4" cy="32.7" r="2.4" fill="#559fdd"/>
<circle cx="71.4" cy="27.9" r="3.2" fill="#77c2a9"/>
<circle cx="77.8" cy="32.8" r="2.7" fill="#7fc594"/>
<circle cx="76.6" cy="29.8" r="3.1" fill="#8cca76"/>
<ellipse cx="26" cy="25" rx="9" ry="10" fill="#3a44a6"/>
<circle cx="32.7" cy="23.2" r="2.5" fill="#4980d8"/>
<circle cx="23.8" cy="28.6" r="2.0" fill="#6bbec4"/>
<circle cx="28.1" cy="31.5" r="3.1" fill="#4f8eda"/>
<circle cx="22.0" cy="27.4" r="2.9" fill="#5399dc"/>
<circle cx="27.9" cy="21.5" r="2.8" fill="#57a5de"/>
</g>
<rect width="100" height="100" filter="url(#sb)"/>
<use href="#gaps"/>
<rect width="100" height="100" filter="url(#sp)"/>
<rect y="50" width="100" height="50" filter="url(#sp2)"/>
</g>
<use href="#blob" fill="none" stroke="#9090dd" stroke-width="2.4" stroke-opacity="0.85"/>
</g>
<rect x="101.10" y="342.80" width="2.4" height="32.20" fill="url(#jet)"/>
<rect x="104.40" y="342.25" width="4.4" height="1.5" fill="#a4a4a4"/>
<rect x="104.40" y="350.15" width="4.4" height="1.5" fill="#a4a4a4"/>
<rect x="104.40" y="358.05" width="4.4" height="1.5" fill="#a4a4a4"/>
<rect x="104.40" y="365.95" width="4.4" height="1.5" fill="#a4a4a4"/>
<rect x="104.40" y="373.85" width="1.6" height="1.5" fill="#a4a4a4"/>
<text x="79" y="338.8" font-size="7.9" text-anchor="start" fill="#111" font-weight="normal" textLength="18.599999999999994" lengthAdjust="spacingAndGlyphs" stroke="#111" stroke-width="0.12">TRAIL</text>
<line x1="77.1" y1="386.5" x2="77.1" y2="409.3" stroke="#000" stroke-width="1.05"/>
<line x1="76.6" y1="408.8" x2="101.6" y2="408.8" stroke="#000" stroke-width="1.05"/>
<line x1="75.3" y1="388.6" x2="77.1" y2="388.6" stroke="#000" stroke-width="0.8"/>
<text x="71.8" y="390.40000000000003" font-size="5.2" text-anchor="end" fill="#222" font-weight="normal" textLength="8.9" lengthAdjust="spacingAndGlyphs" >100</text>
<line x1="75.3" y1="398.8" x2="77.1" y2="398.8" stroke="#000" stroke-width="0.8"/>
<text x="71.8" y="400.6" font-size="5.2" text-anchor="end" fill="#222" font-weight="normal" textLength="6.4" lengthAdjust="spacingAndGlyphs" >50</text>
<line x1="75.3" y1="408.8" x2="77.1" y2="408.8" stroke="#000" stroke-width="0.8"/>
<text x="71.8" y="410.6" font-size="5.2" text-anchor="end" fill="#222" font-weight="normal" textLength="3.5" lengthAdjust="spacingAndGlyphs" >0</text>
<line x1="84.19999999999999" y1="408.8" x2="84.19999999999999" y2="411.6" stroke="#000" stroke-width="0.8"/>
<line x1="95.0" y1="408.8" x2="95.0" y2="411.6" stroke="#000" stroke-width="0.8"/>
<line x1="84.19999999999999" y1="407.7" x2="84.19999999999999" y2="408.3" stroke="#000" stroke-width="0.9"/>
<line x1="82.39999999999999" y1="407.7" x2="85.99999999999999" y2="407.7" stroke="#000" stroke-width="0.9"/>
<rect x="80.70" y="408.30" width="7.00" height="0.50" fill="#2b4a8b" stroke="#1a3570" stroke-width="0.35"/>
<line x1="95.0" y1="405.5" x2="95.0" y2="408.0" stroke="#000" stroke-width="0.9"/>
<line x1="93.2" y1="405.5" x2="96.8" y2="405.5" stroke="#000" stroke-width="0.9"/>
<rect x="91.50" y="408.00" width="7.00" height="0.80" fill="#b0002c" stroke="#9a0026" stroke-width="0.35"/>
<line x1="83.65" y1="387.4" x2="94.35" y2="387.4" stroke="#3a3a3a" stroke-width="1.15"/>
<circle cx="86.00" cy="384.40" r="0.72" fill="#2a2a2a"/>
<circle cx="88.00" cy="384.40" r="0.72" fill="#2a2a2a"/>
<circle cx="90.00" cy="384.40" r="0.72" fill="#2a2a2a"/>
<circle cx="92.00" cy="384.40" r="0.72" fill="#2a2a2a"/>
<rect x="118.4" y="342.4" width="28.19999999999999" height="33.0" fill="#fff" stroke="#a8a8a8" stroke-width="0.7"/>
<g transform="translate(118.90,342.90) scale(0.2720,0.3200)">
<g clip-path="url(#bc)">
<rect width="100" height="100" fill="#373c9d"/>
<g filter="url(#bl)">
<ellipse cx="52" cy="13" rx="22" ry="8" fill="#4678d7"/>
<circle cx="57.3" cy="19.6" r="2.7" fill="#c8d848"/>
<circle cx="57.2" cy="5.4" r="2.8" fill="#e9cf36"/>
<circle cx="51.8" cy="10.8" r="2.2" fill="#c8d848"/>
<circle cx="67.4" cy="18.5" r="3.1" fill="#a3d059"/>
<circle cx="43.8" cy="7.1" r="2.9" fill="#a5d058"/>
<circle cx="32.1" cy="15.7" r="2.2" fill="#d6db41"/>
<circle cx="72.9" cy="11.0" r="2.6" fill="#e5d639"/>
<circle cx="63.4" cy="11.9" r="2.2" fill="#e3d93a"/>
<circle cx="54.2" cy="6.1" r="3.0" fill="#c3d74a"/>
<circle cx="61.9" cy="12.6" r="2.3" fill="#eec733"/>
<circle cx="54.3" cy="8.4" r="2.6" fill="#dfde3d"/>
<circle cx="71.3" cy="16.3" r="2.8" fill="#e2dd3b"/>
<circle cx="47.6" cy="8.4" r="2.0" fill="#e1dd3c"/>
<circle cx="43.5" cy="8.1" r="2.3" fill="#e8d237"/>
<circle cx="41.5" cy="11.0" r="3.1" fill="#d8dc40"/>
<circle cx="34.3" cy="14.7" r="2.4" fill="#c6d849"/>
<circle cx="62.7" cy="14.5" r="2.1" fill="#d7dc41"/>
<circle cx="68.6" cy="13.5" r="2.3" fill="#f0c231"/>
<ellipse cx="60" cy="33" rx="20" ry="8" fill="#3d52b3"/>
<circle cx="52.6" cy="28.2" r="2.1" fill="#76c1aa"/>
<circle cx="57.2" cy="36.5" r="2.8" fill="#82c68f"/>
<circle cx="59.0" cy="40.6" r="2.3" fill="#90cb6d"/>
<circle cx="79.1" cy="35.3" r="2.9" fill="#72c0b5"/>
<circle cx="46.7" cy="38.1" r="3.0" fill="#8ac97a"/>
<circle cx="49.7" cy="34.2" r="2.3" fill="#72c0b4"/>
<circle cx="54.8" cy="32.6" r="2.4" fill="#78c2a5"/>
<circle cx="78.3" cy="31.7" r="3.0" fill="#87c882"/>
<circle cx="73.3" cy="35.8" r="2.4" fill="#74c1b0"/>
<circle cx="54.3" cy="28.9" r="2.8" fill="#66bcd0"/>
<ellipse cx="78" cy="24" rx="8" ry="10" fill="#3e56b7"/>
<circle cx="74.2" cy="29.9" r="3.1" fill="#d6db41"/>
<circle cx="73.1" cy="29.0" r="2.6" fill="#76c1ac"/>
<circle cx="79.5" cy="21.8" r="2.6" fill="#7dc499"/>
<circle cx="85.0" cy="20.0" r="2.8" fill="#c4d849"/>
<circle cx="73.3" cy="26.3" r="2.4" fill="#d3db42"/>
<ellipse cx="26" cy="25" rx="9" ry="10" fill="#4266c5"/>
<circle cx="25.9" cy="15.4" r="2.6" fill="#d1da44"/>
<circle cx="27.8" cy="34.2" r="3.1" fill="#8cc976"/>
<circle cx="22.6" cy="23.6" r="2.7" fill="#97cd5f"/>
<circle cx="26.1" cy="28.8" r="2.2" fill="#8dca73"/>
<circle cx="20.7" cy="21.3" r="2.6" fill="#e6d538"/>
<circle cx="22.5" cy="27.6" r="2.2" fill="#d8dc40"/>
<circle cx="29.4" cy="25.8" r="2.3" fill="#cfda44"/>
<ellipse cx="14" cy="47" rx="9" ry="11" fill="#a8d156"/>
<circle cx="22.4" cy="46.8" r="2.4" fill="#e9481f"/>
<circle cx="12.2" cy="51.3" r="2.8" fill="#f39626"/>
<circle cx="5.6" cy="47.0" r="2.3" fill="#f17f22"/>
<circle cx="8.1" cy="52.1" r="2.8" fill="#f28823"/>
<circle cx="8.6" cy="47.4" r="2.6" fill="#f39f28"/>
<circle cx="11.2" cy="47.0" r="2.9" fill="#d31c1c"/>
<circle cx="10.1" cy="43.7" r="3.1" fill="#d7211c"/>
<circle cx="6.7" cy="42.5" r="2.4" fill="#db281d"/>
<circle cx="19.3" cy="48.5" r="2.9" fill="#de2d1d"/>
<circle cx="10.1" cy="52.3" r="3.1" fill="#dc2a1d"/>
<circle cx="16.3" cy="52.6" r="2.4" fill="#e73d1e"/>
<circle cx="5.2" cy="48.3" r="3.0" fill="#d21b1c"/>
<circle cx="9.6" cy="55.7" r="2.6" fill="#d8231c"/>
<circle cx="14.0" cy="51.9" r="2.8" fill="#f39526"/>
<circle cx="12.5" cy="52.1" r="2.9" fill="#e5381e"/>
<circle cx="11.0" cy="51.7" r="2.3" fill="#f28723"/>
<circle cx="17.3" cy="47.3" r="2.8" fill="#f39225"/>
<circle cx="16.3" cy="49.8" r="2.5" fill="#e73c1e"/>
<ellipse cx="32" cy="50" rx="9" ry="9" fill="#5092db"/>
<circle cx="38.2" cy="54.6" r="2.9" fill="#e5d739"/>
<circle cx="28.9" cy="45.7" r="2.1" fill="#d7dc40"/>
<circle cx="35.5" cy="53.3" r="2.4" fill="#c3d74a"/>
<circle cx="39.0" cy="51.4" r="2.7" fill="#d5db41"/>
<circle cx="38.0" cy="46.2" r="2.2" fill="#eccb34"/>
<circle cx="30.0" cy="51.5" r="2.3" fill="#d5db42"/>
<circle cx="29.9" cy="41.5" r="2.9" fill="#e1de3c"/>
<circle cx="32.7" cy="49.1" r="3.0" fill="#e2dc3b"/>
<circle cx="38.1" cy="55.9" r="2.6" fill="#c5d849"/>
<circle cx="25.6" cy="55.3" r="2.3" fill="#c3d74a"/>
<ellipse cx="46" cy="60" rx="9" ry="8" fill="#4471d1"/>
<circle cx="41.4" cy="65.4" r="3.1" fill="#abd255"/>
<circle cx="52.0" cy="55.5" r="2.3" fill="#8dca75"/>
<circle cx="39.2" cy="55.5" r="3.0" fill="#b7d550"/>
<circle cx="40.7" cy="58.9" r="3.1" fill="#88c880"/>
<circle cx="51.2" cy="61.0" r="2.8" fill="#e6d538"/>
<circle cx="44.6" cy="63.0" r="2.0" fill="#8fca70"/>
<circle cx="39.1" cy="57.9" r="2.0" fill="#e2dc3b"/>
<ellipse cx="64" cy="48" rx="10" ry="6" fill="#4060c1"/>
<circle cx="58.1" cy="50.0" r="2.5" fill="#a8d156"/>
<circle cx="72.6" cy="49.2" r="2.2" fill="#8fcb6f"/>
<circle cx="69.9" cy="50.4" r="2.2" fill="#8cca76"/>
<circle cx="59.0" cy="51.6" r="2.8" fill="#cfda44"/>
<circle cx="73.3" cy="46.9" r="2.1" fill="#b9d54f"/>
<ellipse cx="83" cy="54" rx="10" ry="9" fill="#4471d1"/>
<circle cx="83.8" cy="46.0" r="2.6" fill="#e4d93a"/>
<circle cx="88.6" cy="59.7" r="2.4" fill="#ccd946"/>
<circle cx="92.4" cy="55.1" r="2.6" fill="#e7d338"/>
<circle cx="88.5" cy="51.1" r="2.4" fill="#8dca73"/>
<circle cx="81.2" cy="62.1" r="3.0" fill="#aed254"/>
<circle cx="73.9" cy="50.4" r="2.9" fill="#bfd64c"/>
<circle cx="85.5" cy="46.3" r="2.6" fill="#c3d74a"/>
<circle cx="76.4" cy="60.3" r="2.8" fill="#e0de3d"/>
<circle cx="83.2" cy="47.2" r="2.9" fill="#b7d54f"/>
<ellipse cx="23" cy="71" rx="10" ry="11" fill="#5092db"/>
<circle cx="22.9" cy="61.0" r="3.0" fill="#c6d849"/>
<circle cx="26.7" cy="69.4" r="3.0" fill="#c6d849"/>
<circle cx="27.3" cy="69.5" r="2.6" fill="#e3da3a"/>
<circle cx="27.2" cy="65.5" r="2.9" fill="#ecc934"/>
<circle cx="22.7" cy="72.4" r="3.2" fill="#e8d237"/>
<circle cx="20.7" cy="62.4" r="3.2" fill="#c6d849"/>
<circle cx="25.6" cy="78.1" r="2.8" fill="#eec733"/>
<circle cx="17.8" cy="78.5" r="3.0" fill="#eacd35"/>
<circle cx="18.5" cy="80.2" r="2.7" fill="#efc431"/>
<circle cx="18.1" cy="61.5" r="3.1" fill="#e8d137"/>
<circle cx="26.4" cy="76.7" r="2.7" fill="#f3bc2e"/>
<circle cx="31.4" cy="65.7" r="2.6" fill="#e2dc3b"/>
<circle cx="29.6" cy="76.4" r="2.4" fill="#b7d54f"/>
<ellipse cx="53" cy="76" rx="9" ry="9" fill="#539adc"/>
<circle cx="46.7" cy="77.0" r="2.9" fill="#ecc933"/>
<circle cx="56.2" cy="78.5" r="3.1" fill="#e2dc3b"/>
<circle cx="51.5" cy="71.1" r="2.0" fill="#e7d237"/>
<circle cx="52.4" cy="84.1" r="2.3" fill="#e4d93a"/>
<circle cx="49.3" cy="69.7" r="2.9" fill="#e5d639"/>
<circle cx="50.7" cy="83.1" r="3.1" fill="#efc532"/>
<circle cx="46.3" cy="80.2" r="3.1" fill="#eec632"/>
<circle cx="61.5" cy="78.5" r="2.6" fill="#cbd946"/>
<circle cx="48.1" cy="77.4" r="2.5" fill="#f5b42c"/>
<circle cx="54.6" cy="68.5" r="2.2" fill="#f4a92a"/>
<ellipse cx="70" cy="66" rx="9" ry="9" fill="#4678d7"/>
<circle cx="77.0" cy="65.7" r="2.4" fill="#e2dc3b"/>
<circle cx="76.1" cy="62.1" r="2.6" fill="#e2dc3b"/>
<circle cx="67.2" cy="69.0" r="2.5" fill="#dcdd3f"/>
<circle cx="70.1" cy="64.7" r="2.8" fill="#e8d137"/>
<circle cx="64.4" cy="59.8" r="2.4" fill="#e4d83a"/>
<circle cx="69.9" cy="68.6" r="2.2" fill="#f1c130"/>
<circle cx="67.5" cy="70.2" r="2.0" fill="#b9d54e"/>
<circle cx="64.8" cy="65.8" r="2.4" fill="#e3da3a"/>
<ellipse cx="44" cy="88" rx="10" ry="7" fill="#5092db"/>
<circle cx="44.6" cy="87.0" r="2.7" fill="#d5db42"/>
<circle cx="48.4" cy="88.1" r="2.3" fill="#edc833"/>
<circle cx="51.1" cy="86.7" r="2.8" fill="#b8d54f"/>
<circle cx="39.1" cy="93.0" r="2.0" fill="#afd353"/>
<circle cx="36.4" cy="84.6" r="3.0" fill="#f3bd2f"/>
<circle cx="43.4" cy="88.4" r="2.9" fill="#e5d639"/>
<circle cx="35.0" cy="88.2" r="2.1" fill="#e8d137"/>
<circle cx="46.5" cy="87.2" r="2.0" fill="#f4ba2e"/>
</g>
<rect width="100" height="100" filter="url(#sb)"/>
<use href="#gaps"/>
<rect width="100" height="100" filter="url(#sp)"/>
<rect y="50" width="100" height="50" filter="url(#sp2)"/>
</g>
<use href="#blob" fill="none" stroke="#9090dd" stroke-width="2.4" stroke-opacity="0.85"/>
</g>
<rect x="146.70" y="342.80" width="2.4" height="32.20" fill="url(#jet)"/>
<rect x="150.00" y="342.25" width="4.4" height="1.5" fill="#a4a4a4"/>
<rect x="150.00" y="350.15" width="4.4" height="1.5" fill="#a4a4a4"/>
<rect x="150.00" y="358.05" width="4.4" height="1.5" fill="#a4a4a4"/>
<rect x="150.00" y="365.95" width="4.4" height="1.5" fill="#a4a4a4"/>
<rect x="150.00" y="373.85" width="1.6" height="1.5" fill="#a4a4a4"/>
<text x="124.1" y="338.8" font-size="7.9" text-anchor="start" fill="#111" font-weight="normal" textLength="17.80000000000001" lengthAdjust="spacingAndGlyphs" stroke="#111" stroke-width="0.12">C-KIT</text>
<line x1="120.7" y1="386.5" x2="120.7" y2="409.3" stroke="#000" stroke-width="1.05"/>
<line x1="120.2" y1="408.8" x2="145.2" y2="408.8" stroke="#000" stroke-width="1.05"/>
<line x1="118.9" y1="388.6" x2="120.7" y2="388.6" stroke="#000" stroke-width="0.8"/>
<text x="115.4" y="390.40000000000003" font-size="5.2" text-anchor="end" fill="#222" font-weight="normal" textLength="8.9" lengthAdjust="spacingAndGlyphs" >100</text>
<line x1="118.9" y1="398.8" x2="120.7" y2="398.8" stroke="#000" stroke-width="0.8"/>
<text x="115.4" y="400.6" font-size="5.2" text-anchor="end" fill="#222" font-weight="normal" textLength="6.4" lengthAdjust="spacingAndGlyphs" >50</text>
<line x1="118.9" y1="408.8" x2="120.7" y2="408.8" stroke="#000" stroke-width="0.8"/>
<text x="115.4" y="410.6" font-size="5.2" text-anchor="end" fill="#222" font-weight="normal" textLength="3.5" lengthAdjust="spacingAndGlyphs" >0</text>
<line x1="127.8" y1="408.8" x2="127.8" y2="411.6" stroke="#000" stroke-width="0.8"/>
<line x1="138.6" y1="408.8" x2="138.6" y2="411.6" stroke="#000" stroke-width="0.8"/>
<line x1="127.80000000000001" y1="404.6" x2="127.80000000000001" y2="407.5" stroke="#000" stroke-width="0.9"/>
<line x1="126.00000000000001" y1="404.6" x2="129.60000000000002" y2="404.6" stroke="#000" stroke-width="0.9"/>
<rect x="124.30" y="407.50" width="7.00" height="1.30" fill="#2b4a8b" stroke="#1a3570" stroke-width="0.35"/>
<line x1="138.6" y1="403.5" x2="138.6" y2="405.4" stroke="#000" stroke-width="0.9"/>
<line x1="136.79999999999998" y1="403.5" x2="140.4" y2="403.5" stroke="#000" stroke-width="0.9"/>
<rect x="135.10" y="405.40" width="7.00" height="3.40" fill="#b0002c" stroke="#9a0026" stroke-width="0.35"/>
<line x1="127.25" y1="387.4" x2="137.95" y2="387.4" stroke="#3a3a3a" stroke-width="1.15"/>
<circle cx="132.60" cy="384.40" r="0.72" fill="#2a2a2a"/>
<rect x="163.5" y="342.4" width="28.0" height="33.60000000000002" fill="#fff" stroke="#a8a8a8" stroke-width="0.7"/>
<g transform="translate(164.00,342.90) scale(0.2700,0.3260)">
<g clip-path="url(#bc)">
<rect width="100" height="100" fill="#383ea0"/>
<g filter="url(#bl)">
<ellipse cx="52" cy="13" rx="22" ry="8" fill="#3f5cbd"/>
<circle cx="45.7" cy="19.7" r="3.1" fill="#4f90db"/>
<circle cx="68.5" cy="18.1" r="2.1" fill="#4470cf"/>
<circle cx="44.5" cy="9.5" r="2.4" fill="#436ccc"/>
<circle cx="55.3" cy="6.5" r="2.0" fill="#57a5de"/>
<circle cx="39.3" cy="16.6" r="3.1" fill="#4470cf"/>
<circle cx="51.5" cy="16.5" r="2.7" fill="#487ed8"/>
<circle cx="36.1" cy="17.6" r="3.2" fill="#4470cf"/>
<circle cx="61.3" cy="17.9" r="2.8" fill="#436aca"/>
<circle cx="65.9" cy="18.3" r="2.4" fill="#436dcc"/>
<circle cx="52.5" cy="20.9" r="2.8" fill="#5399dc"/>
<circle cx="56.8" cy="16.6" r="3.0" fill="#62bada"/>
<circle cx="38.6" cy="19.3" r="2.2" fill="#559fdd"/>
<circle cx="47.8" cy="14.6" r="2.7" fill="#4679d7"/>
<circle cx="51.4" cy="6.2" r="3.2" fill="#4f90db"/>
<circle cx="60.1" cy="14.7" r="2.2" fill="#549bdc"/>
<circle cx="56.2" cy="11.5" r="2.3" fill="#436ccb"/>
<circle cx="72.6" cy="11.9" r="2.1" fill="#4676d5"/>
<circle cx="51.1" cy="13.5" r="2.2" fill="#67bcce"/>
<circle cx="45.8" cy="13.3" r="2.8" fill="#60b9de"/>
<circle cx="58.3" cy="7.0" r="2.4" fill="#68bccc"/>
<circle cx="33.7" cy="8.9" r="3.2" fill="#64bbd6"/>
<ellipse cx="60" cy="33" rx="20" ry="8" fill="#3d55b5"/>
<circle cx="64.0" cy="34.7" r="2.0" fill="#559edd"/>
<circle cx="62.3" cy="30.9" r="2.5" fill="#57a4de"/>
<circle cx="45.7" cy="28.5" r="2.7" fill="#4678d7"/>
<circle cx="74.6" cy="29.7" r="2.3" fill="#5cb1e0"/>
<circle cx="55.5" cy="37.8" r="3.2" fill="#5093db"/>
<circle cx="60.4" cy="40.5" r="2.7" fill="#4d8ada"/>
<circle cx="68.1" cy="39.3" r="2.1" fill="#5db4e0"/>
<circle cx="52.9" cy="33.2" r="2.2" fill="#56a0dd"/>
<circle cx="42.8" cy="32.4" r="2.4" fill="#4470cf"/>
<circle cx="53.5" cy="40.3" r="2.8" fill="#4c87d9"/>
<circle cx="68.5" cy="37.0" r="2.3" fill="#5cb0e0"/>
<circle cx="64.5" cy="38.4" r="2.7" fill="#4164c4"/>
<circle cx="72.0" cy="26.8" r="3.2" fill="#4573d3"/>
<circle cx="62.0" cy="40.5" r="2.5" fill="#4e8eda"/>
<circle cx="42.2" cy="36.3" r="2.4" fill="#436bcb"/>
<circle cx="50.6" cy="39.1" r="2.4" fill="#65bbd3"/>
<ellipse cx="26" cy="25" rx="9" ry="10" fill="#4164c4"/>
<circle cx="27.0" cy="23.0" r="3.1" fill="#5195db"/>
<circle cx="30.5" cy="30.8" r="2.7" fill="#65bbd4"/>
<circle cx="31.4" cy="23.0" r="2.5" fill="#559fdd"/>
<circle cx="21.8" cy="26.0" r="2.7" fill="#71c0b6"/>
<circle cx="24.3" cy="16.8" r="2.6" fill="#5fb9e1"/>
<circle cx="28.2" cy="34.5" r="2.8" fill="#549ddd"/>
<circle cx="20.8" cy="33.1" r="2.6" fill="#7ac3a1"/>
<circle cx="24.8" cy="22.3" r="2.8" fill="#5eb6e1"/>
<circle cx="19.8" cy="24.2" r="2.3" fill="#6fbfba"/>
<circle cx="22.0" cy="20.1" r="2.4" fill="#7fc496"/>
<circle cx="30.2" cy="30.7" r="3.1" fill="#4b86d9"/>
<ellipse cx="14" cy="47" rx="9" ry="11" fill="#f4aa2a"/>
<circle cx="11.2" cy="51.5" r="2.6" fill="#de2e1d"/>
<circle cx="20.9" cy="43.5" r="3.1" fill="#e73c1e"/>
<circle cx="14.2" cy="53.0" r="2.8" fill="#e9471f"/>
<circle cx="9.6" cy="38.4" r="2.9" fill="#ed6521"/>
<circle cx="16.9" cy="52.3" r="2.4" fill="#f4a429"/>
<circle cx="15.5" cy="53.9" r="2.8" fill="#ee6c21"/>
<circle cx="10.7" cy="54.4" r="2.0" fill="#ef7522"/>
<circle cx="13.7" cy="50.5" r="3.0" fill="#f39526"/>
<circle cx="9.9" cy="39.5" r="3.0" fill="#e9481f"/>
<circle cx="11.4" cy="37.7" r="2.2" fill="#f28723"/>
<circle cx="5.1" cy="47.2" r="2.5" fill="#e9471f"/>
<circle cx="6.1" cy="49.4" r="2.4" fill="#f28e24"/>
<circle cx="10.5" cy="54.2" r="2.7" fill="#f39a27"/>
<circle cx="15.2" cy="43.8" r="2.3" fill="#e0311d"/>
<circle cx="6.8" cy="50.4" r="2.7" fill="#f17e22"/>
<circle cx="13.1" cy="51.8" r="2.9" fill="#e73d1e"/>
<circle cx="14.6" cy="43.6" r="2.7" fill="#e5391e"/>
<circle cx="8.3" cy="54.5" r="2.5" fill="#ed6120"/>
<circle cx="9.5" cy="37.7" r="2.9" fill="#e73c1e"/>
<circle cx="19.5" cy="43.0" r="2.3" fill="#ea491f"/>
<ellipse cx="32" cy="50" rx="9" ry="9" fill="#e7d338"/>
<circle cx="39.0" cy="47.6" r="2.3" fill="#f5b12b"/>
<circle cx="33.2" cy="58.2" r="2.3" fill="#e5d739"/>
<circle cx="23.8" cy="50.8" r="3.0" fill="#f3bd2f"/>
<circle cx="31.4" cy="45.9" r="2.6" fill="#f4ac2a"/>
<circle cx="36.7" cy="52.2" r="2.6" fill="#e4d93a"/>
<circle cx="25.4" cy="50.0" r="2.2" fill="#e9cf36"/>
<circle cx="34.9" cy="44.2" r="2.2" fill="#eec632"/>
<circle cx="30.1" cy="43.7" r="2.0" fill="#efc532"/>
<circle cx="33.9" cy="44.9" r="3.1" fill="#f4a329"/>
<circle cx="31.5" cy="51.6" r="2.2" fill="#f39526"/>
<circle cx="24.6" cy="53.6" r="2.4" fill="#e6d538"/>
<circle cx="35.5" cy="46.9" r="3.0" fill="#ecc934"/>
<circle cx="38.4" cy="51.2" r="2.3" fill="#f39f28"/>
<circle cx="24.0" cy="50.0" r="2.0" fill="#f39927"/>
<circle cx="35.9" cy="54.2" r="3.2" fill="#eec632"/>
<circle cx="32.3" cy="55.2" r="2.1" fill="#f0c331"/>
<ellipse cx="46" cy="60" rx="9" ry="8" fill="#bcd64d"/>
<circle cx="46.9" cy="62.1" r="3.2" fill="#e6d538"/>
<circle cx="54.5" cy="62.0" r="2.7" fill="#d7dc40"/>
<circle cx="38.4" cy="63.8" r="3.2" fill="#ccd946"/>
<circle cx="53.5" cy="57.6" r="2.8" fill="#ebcc35"/>
<circle cx="37.2" cy="58.6" r="3.2" fill="#c9d947"/>
<circle cx="40.9" cy="59.9" r="2.8" fill="#edc733"/>
<circle cx="38.0" cy="63.5" r="2.7" fill="#ebcb34"/>
<circle cx="39.6" cy="61.8" r="2.7" fill="#f4ba2d"/>
<circle cx="51.4" cy="62.0" r="2.3" fill="#d2db43"/>
<circle cx="51.3" cy="58.7" r="2.7" fill="#cdda45"/>
<circle cx="50.7" cy="60.4" r="3.1" fill="#f1c030"/>
<circle cx="46.9" cy="58.9" r="3.1" fill="#e3d93a"/>
<circle cx="42.9" cy="60.9" r="2.3" fill="#efc532"/>
<circle cx="45.2" cy="52.8" r="2.5" fill="#c7d848"/>
<ellipse cx="64" cy="48" rx="10" ry="6" fill="#3e57b8"/>
<circle cx="57.8" cy="51.2" r="3.1" fill="#67bcce"/>
<circle cx="65.9" cy="50.5" r="3.2" fill="#4471d0"/>
<circle cx="66.4" cy="43.7" r="2.1" fill="#4572d1"/>
<circle cx="56.7" cy="44.9" r="2.1" fill="#4575d4"/>
<circle cx="58.7" cy="43.5" r="3.1" fill="#4980d8"/>
<circle cx="69.3" cy="51.2" r="3.0" fill="#60bade"/>
<ellipse cx="83" cy="54" rx="10" ry="9" fill="#3d52b3"/>
<circle cx="82.6" cy="48.1" r="2.2" fill="#62bada"/>
<circle cx="88.2" cy="49.8" r="2.7" fill="#446fce"/>
<circle cx="88.3" cy="53.6" r="2.3" fill="#5195db"/>
<circle cx="78.2" cy="46.5" r="2.0" fill="#68bccc"/>
<circle cx="88.0" cy="51.1" r="2.5" fill="#55a0dd"/>
<circle cx="84.8" cy="62.7" r="2.7" fill="#4679d7"/>
<circle cx="87.7" cy="59.0" r="2.7" fill="#4c87d9"/>
<ellipse cx="23" cy="71" rx="10" ry="11" fill="#e7d338"/>
<circle cx="31.0" cy="70.3" r="3.2" fill="#f4aa2a"/>
<circle cx="21.5" cy="63.8" r="2.8" fill="#f28e24"/>
<circle cx="32.8" cy="71.7" r="3.2" fill="#edc833"/>
<circle cx="21.6" cy="67.2" r="2.5" fill="#ecc933"/>
<circle cx="30.8" cy="69.4" r="2.0" fill="#f39e28"/>
<circle cx="17.1" cy="63.3" r="2.5" fill="#f4b02b"/>
<circle cx="19.0" cy="66.9" r="3.0" fill="#f4a82a"/>
<circle cx="30.0" cy="77.7" r="2.5" fill="#ebcc35"/>
<circle cx="28.9" cy="79.9" r="2.7" fill="#f4a329"/>
<circle cx="27.3" cy="69.0" r="2.1" fill="#ebcc35"/>
<circle cx="24.1" cy="65.1" r="2.8" fill="#e9d036"/>
<circle cx="23.0" cy="64.2" r="3.2" fill="#f39125"/>
<circle cx="23.7" cy="72.8" r="3.2" fill="#f39125"/>
<circle cx="26.8" cy="75.5" r="2.9" fill="#e9cf36"/>
<circle cx="25.9" cy="64.7" r="2.9" fill="#f39025"/>
<circle cx="24.5" cy="74.5" r="3.1" fill="#f4a429"/>
<circle cx="19.5" cy="76.6" r="3.1" fill="#f5b82d"/>
<circle cx="22.4" cy="81.5" r="2.8" fill="#f4a028"/>
<circle cx="32.2" cy="67.2" r="2.1" fill="#f4ba2e"/>
<circle cx="18.9" cy="72.1" r="2.1" fill="#f39c27"/>
<circle cx="21.7" cy="60.9" r="2.5" fill="#f39b27"/>
<circle cx="26.5" cy="62.7" r="3.0" fill="#f39125"/>
<ellipse cx="53" cy="76" rx="9" ry="9" fill="#c3d74a"/>
<circle cx="45.4" cy="74.1" r="3.0" fill="#eec632"/>
<circle cx="61.1" cy="77.8" r="2.9" fill="#edc733"/>
<circle cx="59.2" cy="72.3" r="2.0" fill="#bbd54e"/>
<circle cx="54.0" cy="71.3" r="2.8" fill="#b8d54f"/>
<circle cx="54.1" cy="79.7" r="2.2" fill="#e8d137"/>
<circle cx="46.2" cy="70.6" r="2.7" fill="#f5b82d"/>
<circle cx="44.4" cy="73.6" r="2.9" fill="#c3d74a"/>
<circle cx="46.7" cy="81.9" r="2.2" fill="#e8d237"/>
<circle cx="59.0" cy="78.9" r="2.1" fill="#c1d74b"/>
<circle cx="54.4" cy="78.0" r="2.7" fill="#c0d64b"/>
<circle cx="58.1" cy="69.7" r="2.4" fill="#eec532"/>
<circle cx="56.6" cy="77.8" r="2.8" fill="#f4bb2e"/>
<circle cx="60.8" cy="73.8" r="2.9" fill="#edc733"/>
<circle cx="54.2" cy="83.9" r="2.1" fill="#e3db3b"/>
<circle cx="51.1" cy="81.8" r="2.9" fill="#f3bd2e"/>
<circle cx="48.1" cy="78.3" r="2.6" fill="#dadc3f"/>
<ellipse cx="70" cy="66" rx="9" ry="9" fill="#5bafdf"/>
<circle cx="72.0" cy="64.4" r="2.1" fill="#a9d156"/>
<circle cx="71.8" cy="69.7" r="3.2" fill="#b1d353"/>
<circle cx="72.8" cy="69.4" r="2.5" fill="#acd255"/>
<circle cx="63.3" cy="60.8" r="2.8" fill="#b9d54e"/>
<circle cx="70.0" cy="74.9" r="2.1" fill="#bcd64d"/>
<circle cx="64.0" cy="67.0" r="3.0" fill="#d2db43"/>
<circle cx="67.7" cy="72.6" r="2.7" fill="#acd255"/>
<circle cx="69.1" cy="71.0" r="2.9" fill="#e5d639"/>
<circle cx="71.0" cy="57.3" r="2.5" fill="#8fca70"/>
<circle cx="77.2" cy="61.3" r="3.2" fill="#e5d739"/>
<circle cx="62.3" cy="67.9" r="2.1" fill="#a0cf5a"/>
<circle cx="75.9" cy="60.1" r="2.8" fill="#8eca72"/>
<circle cx="73.9" cy="60.8" r="3.0" fill="#bcd64d"/>
<ellipse cx="44" cy="88" rx="10" ry="7" fill="#d2db43"/>
<circle cx="43.1" cy="81.7" r="2.1" fill="#efc431"/>
<circle cx="46.7" cy="87.5" r="3.0" fill="#efc331"/>
<circle cx="45.0" cy="91.2" r="3.1" fill="#eec532"/>
<circle cx="36.6" cy="92.5" r="2.8" fill="#e1de3c"/>
<circle cx="35.2" cy="87.0" r="3.1" fill="#f1c030"/>
<circle cx="40.7" cy="87.8" r="2.8" fill="#f5b72d"/>
<circle cx="38.3" cy="90.7" r="2.4" fill="#c7d848"/>
<circle cx="41.7" cy="82.0" r="2.2" fill="#f5ba2d"/>
<circle cx="49.2" cy="91.0" r="2.1" fill="#dfdd3d"/>
<circle cx="48.7" cy="86.2" r="2.3" fill="#e4d93a"/>
<circle cx="50.2" cy="83.7" r="2.5" fill="#f4ab2a"/>
<circle cx="52.2" cy="91.7" r="3.0" fill="#dadc3f"/>
<circle cx="42.7" cy="85.9" r="3.1" fill="#ceda45"/>
<circle cx="48.7" cy="91.5" r="2.3" fill="#f1c130"/>
</g>
<rect width="100" height="100" filter="url(#sb)"/>
<use href="#gaps"/>
<rect width="100" height="100" filter="url(#sp)"/>
<rect y="50" width="100" height="50" filter="url(#sp2)"/>
</g>
<use href="#blob" fill="none" stroke="#9090dd" stroke-width="2.4" stroke-opacity="0.85"/>
</g>
<rect x="191.60" y="342.80" width="2.4" height="32.80" fill="url(#jet)"/>
<rect x="194.90" y="342.25" width="4.4" height="1.5" fill="#a4a4a4"/>
<rect x="194.90" y="350.30" width="4.4" height="1.5" fill="#a4a4a4"/>
<rect x="194.90" y="358.35" width="4.4" height="1.5" fill="#a4a4a4"/>
<rect x="194.90" y="366.40" width="4.4" height="1.5" fill="#a4a4a4"/>
<rect x="194.90" y="374.45" width="1.6" height="1.5" fill="#a4a4a4"/>
<text x="165.2" y="338.8" font-size="7.9" text-anchor="start" fill="#111" font-weight="normal" textLength="25.200000000000017" lengthAdjust="spacingAndGlyphs" stroke="#111" stroke-width="0.12">NKG2D</text>
<line x1="166.0" y1="386.5" x2="166.0" y2="409.3" stroke="#000" stroke-width="1.05"/>
<line x1="165.5" y1="408.8" x2="190.5" y2="408.8" stroke="#000" stroke-width="1.05"/>
<line x1="164.2" y1="389.6" x2="166.0" y2="389.6" stroke="#000" stroke-width="0.8"/>
<text x="160.7" y="391.40000000000003" font-size="5.2" text-anchor="end" fill="#222" font-weight="normal" textLength="8.9" lengthAdjust="spacingAndGlyphs" >100</text>
<line x1="164.2" y1="399.4" x2="166.0" y2="399.4" stroke="#000" stroke-width="0.8"/>
<text x="160.7" y="401.2" font-size="5.2" text-anchor="end" fill="#222" font-weight="normal" textLength="6.4" lengthAdjust="spacingAndGlyphs" >50</text>
<line x1="164.2" y1="408.8" x2="166.0" y2="408.8" stroke="#000" stroke-width="0.8"/>
<text x="160.7" y="410.6" font-size="5.2" text-anchor="end" fill="#222" font-weight="normal" textLength="3.5" lengthAdjust="spacingAndGlyphs" >0</text>
<line x1="173.1" y1="408.8" x2="173.1" y2="411.6" stroke="#000" stroke-width="0.8"/>
<line x1="183.9" y1="408.8" x2="183.9" y2="411.6" stroke="#000" stroke-width="0.8"/>
<line x1="173.1" y1="390.7" x2="173.1" y2="391.9" stroke="#000" stroke-width="0.9"/>
<line x1="171.29999999999998" y1="390.7" x2="174.9" y2="390.7" stroke="#000" stroke-width="0.9"/>
<rect x="169.60" y="391.90" width="7.00" height="16.90" fill="#2b4a8b" stroke="#1a3570" stroke-width="0.35"/>
<line x1="183.9" y1="390.7" x2="183.9" y2="391.9" stroke="#000" stroke-width="0.9"/>
<line x1="182.1" y1="390.7" x2="185.70000000000002" y2="390.7" stroke="#000" stroke-width="0.9"/>
<rect x="180.40" y="391.90" width="7.00" height="16.90" fill="#b0002c" stroke="#9a0026" stroke-width="0.35"/>
<line x1="172.55" y1="387.4" x2="183.25" y2="387.4" stroke="#3a3a3a" stroke-width="1.15"/>
<text x="177.6" y="385.2" font-size="4.8" text-anchor="middle" fill="#333" font-weight="normal" textLength="7.2" lengthAdjust="spacingAndGlyphs" >NS</text>
<rect x="207.5" y="343.1" width="27.69999999999999" height="32.099999999999966" fill="#fff" stroke="#a8a8a8" stroke-width="0.7"/>
<g transform="translate(208.00,343.60) scale(0.2670,0.3110)">
<g clip-path="url(#bc)">
<rect width="100" height="100" fill="#353898"/>
<g filter="url(#bl)">
<circle cx="80" cy="62" r="2.2" fill="#96cd5f"/>
<circle cx="75" cy="66" r="2" fill="#f5b92d"/>
</g>
<rect width="100" height="100" filter="url(#sb)"/>
<use href="#gaps"/>
<rect width="100" height="100" filter="url(#sp)"/>
<rect y="50" width="100" height="50" filter="url(#sp2)"/>
</g>
<use href="#blob" fill="none" stroke="#9090dd" stroke-width="2.4" stroke-opacity="0.85"/>
</g>
<rect x="235.30" y="343.50" width="2.4" height="31.30" fill="url(#jet)"/>
<rect x="238.60" y="342.95" width="4.4" height="1.5" fill="#a4a4a4"/>
<rect x="238.60" y="350.63" width="4.4" height="1.5" fill="#a4a4a4"/>
<rect x="238.60" y="358.30" width="4.4" height="1.5" fill="#a4a4a4"/>
<rect x="238.60" y="365.98" width="4.4" height="1.5" fill="#a4a4a4"/>
<rect x="238.60" y="373.65" width="1.6" height="1.5" fill="#a4a4a4"/>
<text x="207.8" y="338.8" font-size="7.9" text-anchor="start" fill="#111" font-weight="normal" textLength="28.69999999999999" lengthAdjust="spacingAndGlyphs" stroke="#111" stroke-width="0.12">KIR2DL1</text>
<line x1="210.4" y1="386.5" x2="210.4" y2="409.3" stroke="#000" stroke-width="1.05"/>
<line x1="209.9" y1="408.8" x2="234.9" y2="408.8" stroke="#000" stroke-width="1.05"/>
<line x1="208.6" y1="389.0" x2="210.4" y2="389.0" stroke="#000" stroke-width="0.8"/>
<text x="205.1" y="390.8" font-size="5.2" text-anchor="end" fill="#222" font-weight="normal" textLength="8.9" lengthAdjust="spacingAndGlyphs" >100</text>
<line x1="208.6" y1="399.0" x2="210.4" y2="399.0" stroke="#000" stroke-width="0.8"/>
<text x="205.1" y="400.8" font-size="5.2" text-anchor="end" fill="#222" font-weight="normal" textLength="6.4" lengthAdjust="spacingAndGlyphs" >50</text>
<line x1="208.6" y1="408.8" x2="210.4" y2="408.8" stroke="#000" stroke-width="0.8"/>
<text x="205.1" y="410.6" font-size="5.2" text-anchor="end" fill="#222" font-weight="normal" textLength="3.5" lengthAdjust="spacingAndGlyphs" >0</text>
<line x1="217.5" y1="408.8" x2="217.5" y2="411.6" stroke="#000" stroke-width="0.8"/>
<line x1="228.3" y1="408.8" x2="228.3" y2="411.6" stroke="#000" stroke-width="0.8"/>
<line x1="217.5" y1="408.0" x2="217.5" y2="408.4" stroke="#000" stroke-width="0.9"/>
<line x1="215.7" y1="408.0" x2="219.3" y2="408.0" stroke="#000" stroke-width="0.9"/>
<rect x="214.00" y="408.40" width="7.00" height="0.40" fill="#2b4a8b" stroke="#1a3570" stroke-width="0.35"/>
<line x1="228.3" y1="407.6" x2="228.3" y2="408.3" stroke="#000" stroke-width="0.9"/>
<line x1="226.5" y1="407.6" x2="230.10000000000002" y2="407.6" stroke="#000" stroke-width="0.9"/>
<rect x="224.80" y="408.30" width="7.00" height="0.50" fill="#b0002c" stroke="#9a0026" stroke-width="0.35"/>
<line x1="216.95000000000002" y1="387.4" x2="227.65" y2="387.4" stroke="#3a3a3a" stroke-width="1.15"/>
<text x="222.0" y="385.2" font-size="4.8" text-anchor="middle" fill="#333" font-weight="normal" textLength="7.2" lengthAdjust="spacingAndGlyphs" >NS</text>
<rect x="252.7" y="341.5" width="28.100000000000023" height="33.89999999999998" fill="#fff" stroke="#a8a8a8" stroke-width="0.7"/>
<g transform="translate(253.20,342.00) scale(0.2710,0.3290)">
<g clip-path="url(#bc)">
<rect width="100" height="100" fill="#373c9d"/>
<g filter="url(#bl)">
<ellipse cx="52" cy="13" rx="22" ry="8" fill="#f3bd2e"/>
<circle cx="37.6" cy="13.1" r="2.4" fill="#f1c030"/>
<circle cx="51.9" cy="6.3" r="3.0" fill="#f4a429"/>
<circle cx="45.7" cy="19.5" r="2.2" fill="#f3bc2e"/>
<circle cx="63.0" cy="11.6" r="2.7" fill="#f5b82d"/>
<circle cx="52.8" cy="14.6" r="2.9" fill="#f39626"/>
<circle cx="54.1" cy="12.3" r="2.1" fill="#f28c24"/>
<circle cx="47.6" cy="13.6" r="2.2" fill="#ef7121"/>
<circle cx="70.6" cy="9.6" r="2.9" fill="#f39826"/>
<circle cx="63.0" cy="6.9" r="2.3" fill="#f5b32c"/>
<circle cx="54.3" cy="7.6" r="2.2" fill="#f4ae2b"/>
<circle cx="56.2" cy="19.4" r="3.0" fill="#f39626"/>
<circle cx="54.3" cy="9.6" r="2.8" fill="#eb531f"/>
<circle cx="54.0" cy="10.7" r="3.1" fill="#f0c130"/>
<circle cx="39.5" cy="9.5" r="2.2" fill="#f39125"/>
<circle cx="44.4" cy="7.5" r="3.2" fill="#f39a27"/>
<circle cx="65.5" cy="16.9" r="2.9" fill="#f1c030"/>
<circle cx="55.7" cy="19.7" r="2.2" fill="#f4ae2b"/>
<circle cx="60.2" cy="8.3" r="2.9" fill="#f28b24"/>
<circle cx="65.3" cy="12.0" r="2.6" fill="#f0c331"/>
<circle cx="68.7" cy="9.2" r="2.5" fill="#f1c030"/>
<circle cx="71.4" cy="11.9" r="2.9" fill="#ef7322"/>
<circle cx="39.0" cy="9.0" r="3.2" fill="#f1c130"/>
<circle cx="63.3" cy="11.1" r="3.0" fill="#f4a228"/>
<circle cx="67.0" cy="10.8" r="2.7" fill="#f39726"/>
<circle cx="65.3" cy="12.5" r="2.5" fill="#efc431"/>
<circle cx="59.2" cy="14.2" r="2.5" fill="#f2bf30"/>
<circle cx="36.6" cy="8.4" r="2.3" fill="#efc331"/>
<circle cx="48.2" cy="17.9" r="3.0" fill="#f4bc2e"/>
<circle cx="64.8" cy="17.0" r="3.1" fill="#ed5f20"/>
<circle cx="43.1" cy="6.0" r="2.0" fill="#f3bd2f"/>
<circle cx="44.7" cy="10.9" r="2.4" fill="#ef6f21"/>
<circle cx="44.1" cy="18.0" r="2.6" fill="#f07722"/>
<circle cx="32.8" cy="11.1" r="2.1" fill="#f1c130"/>
<circle cx="61.8" cy="16.7" r="2.1" fill="#f4a729"/>
<circle cx="55.2" cy="12.9" r="2.0" fill="#f4ae2b"/>
<ellipse cx="60" cy="33" rx="20" ry="8" fill="#63bad8"/>
<circle cx="66.4" cy="39.8" r="3.1" fill="#bed64c"/>
<circle cx="68.2" cy="39.2" r="2.2" fill="#edc833"/>
<circle cx="51.3" cy="36.5" r="3.0" fill="#f1c030"/>
<circle cx="46.4" cy="29.8" r="2.8" fill="#d2db43"/>
<circle cx="78.7" cy="32.2" r="3.1" fill="#d7dc40"/>
<circle cx="54.8" cy="27.4" r="2.1" fill="#f0c231"/>
<circle cx="54.5" cy="33.9" r="2.2" fill="#d2db43"/>
<circle cx="56.3" cy="30.7" r="2.5" fill="#add254"/>
<circle cx="47.3" cy="31.0" r="2.4" fill="#d4db42"/>
<circle cx="62.7" cy="30.9" r="2.7" fill="#eacd35"/>
<circle cx="61.3" cy="29.1" r="3.2" fill="#e9cf36"/>
<circle cx="60.5" cy="32.9" r="2.6" fill="#f1c130"/>
<circle cx="67.6" cy="33.9" r="3.1" fill="#bed64c"/>
<circle cx="79.2" cy="32.4" r="2.2" fill="#eccb34"/>
<circle cx="47.9" cy="33.1" r="2.1" fill="#e4d93a"/>
<circle cx="54.6" cy="33.1" r="3.0" fill="#f5b92d"/>
<circle cx="56.9" cy="25.8" r="2.4" fill="#b1d352"/>
<circle cx="59.1" cy="35.6" r="2.5" fill="#f5b52c"/>
<circle cx="78.1" cy="32.9" r="3.0" fill="#dfde3d"/>
<circle cx="53.3" cy="32.5" r="2.9" fill="#e6d538"/>
<circle cx="66.2" cy="25.6" r="2.2" fill="#e2db3b"/>
<circle cx="53.5" cy="28.6" r="2.5" fill="#dddd3e"/>
<circle cx="47.7" cy="29.0" r="2.9" fill="#c3d74a"/>
<circle cx="78.5" cy="34.9" r="2.5" fill="#c6d849"/>
<circle cx="52.6" cy="36.5" r="2.1" fill="#f0c231"/>
<circle cx="51.0" cy="35.5" r="2.6" fill="#c4d74a"/>
<ellipse cx="78" cy="24" rx="8" ry="10" fill="#5cb2e0"/>
<circle cx="72.6" cy="27.8" r="2.3" fill="#d2db43"/>
<circle cx="81.4" cy="20.0" r="2.1" fill="#dadd3f"/>
<circle cx="82.7" cy="23.9" r="2.0" fill="#eace35"/>
<circle cx="78.6" cy="33.9" r="2.3" fill="#e7d337"/>
<circle cx="79.0" cy="31.5" r="2.2" fill="#f4a82a"/>
<circle cx="82.5" cy="20.9" r="2.5" fill="#e9d036"/>
<circle cx="84.1" cy="28.7" r="2.3" fill="#ceda45"/>
<circle cx="74.3" cy="21.4" r="3.0" fill="#dcdd3e"/>
<circle cx="80.1" cy="31.8" r="2.1" fill="#e8d036"/>
<circle cx="85.0" cy="27.3" r="3.0" fill="#c9d947"/>
<circle cx="77.0" cy="18.9" r="2.8" fill="#f5b22c"/>
<ellipse cx="26" cy="25" rx="9" ry="10" fill="#e3da3a"/>
<circle cx="25.4" cy="30.4" r="2.3" fill="#e2db3b"/>
<circle cx="23.2" cy="28.9" r="2.6" fill="#f4a629"/>
<circle cx="29.4" cy="24.8" r="2.1" fill="#f4a629"/>
<circle cx="30.5" cy="24.2" r="2.4" fill="#f5ba2d"/>
<circle cx="31.4" cy="19.9" r="2.3" fill="#e9d036"/>
<circle cx="25.3" cy="19.2" r="2.2" fill="#f4a429"/>
<circle cx="29.5" cy="20.1" r="2.7" fill="#f2be2f"/>
<circle cx="25.3" cy="22.4" r="2.6" fill="#f1c130"/>
<circle cx="26.0" cy="23.2" r="2.6" fill="#e7d337"/>
<circle cx="33.4" cy="28.3" r="2.4" fill="#f5b42c"/>
<circle cx="30.9" cy="22.7" r="3.2" fill="#f5b12b"/>
<circle cx="23.6" cy="26.8" r="2.3" fill="#f3bd2e"/>
<circle cx="25.0" cy="28.2" r="3.2" fill="#f4bc2e"/>
<circle cx="24.4" cy="26.6" r="2.1" fill="#f4a92a"/>
<circle cx="28.3" cy="32.1" r="2.8" fill="#ecca34"/>
<circle cx="20.2" cy="27.5" r="3.1" fill="#f3a028"/>
<circle cx="24.6" cy="27.3" r="2.8" fill="#e8d137"/>
<circle cx="18.1" cy="28.8" r="2.1" fill="#eacd35"/>
<ellipse cx="14" cy="47" rx="9" ry="11" fill="#e3da3a"/>
<circle cx="6.0" cy="44.4" r="3.1" fill="#f39f28"/>
<circle cx="21.2" cy="47.4" r="2.6" fill="#f4af2b"/>
<circle cx="11.5" cy="48.0" r="2.5" fill="#f3bc2e"/>
<circle cx="14.4" cy="47.8" r="2.2" fill="#e9cf36"/>
<circle cx="11.1" cy="52.3" r="2.9" fill="#e2dd3c"/>
<circle cx="17.2" cy="42.1" r="2.6" fill="#e4d83a"/>
<circle cx="15.8" cy="47.5" r="2.1" fill="#f3bd2f"/>
<circle cx="11.1" cy="54.3" r="2.9" fill="#efc431"/>
<circle cx="14.4" cy="38.2" r="2.3" fill="#f4b02b"/>
<circle cx="14.5" cy="37.7" r="2.5" fill="#f4a529"/>
<circle cx="15.8" cy="56.1" r="2.3" fill="#f39c27"/>
<circle cx="20.2" cy="51.0" r="2.9" fill="#efc432"/>
<circle cx="7.6" cy="46.4" r="2.5" fill="#e6d538"/>
<circle cx="12.8" cy="49.5" r="2.1" fill="#f4b02b"/>
<circle cx="18.4" cy="55.4" r="2.6" fill="#f4af2b"/>
<circle cx="19.8" cy="51.3" r="2.1" fill="#f4a329"/>
<circle cx="16.1" cy="55.6" r="3.1" fill="#f5b72d"/>
<circle cx="18.2" cy="54.0" r="2.9" fill="#f39826"/>
<circle cx="21.4" cy="46.4" r="2.9" fill="#dcdd3f"/>
<circle cx="14.3" cy="43.7" r="2.2" fill="#f5b92d"/>
<ellipse cx="32" cy="50" rx="9" ry="9" fill="#5195db"/>
<circle cx="27.6" cy="46.3" r="2.0" fill="#c4d74a"/>
<circle cx="26.5" cy="55.7" r="2.2" fill="#abd255"/>
<circle cx="29.7" cy="45.9" r="2.0" fill="#b5d450"/>
<circle cx="37.1" cy="50.8" r="3.0" fill="#e3da3a"/>
<circle cx="36.4" cy="57.7" r="2.7" fill="#95cd60"/>
<circle cx="33.9" cy="55.3" r="3.0" fill="#ceda45"/>
<circle cx="24.0" cy="53.1" r="2.2" fill="#bbd54e"/>
<circle cx="39.5" cy="54.0" r="3.1" fill="#ccd946"/>
<circle cx="31.7" cy="43.0" r="2.0" fill="#bfd64c"/>
<circle cx="37.9" cy="45.9" r="2.1" fill="#add254"/>
<circle cx="31.5" cy="57.7" r="3.2" fill="#cbd946"/>
<ellipse cx="46" cy="60" rx="9" ry="8" fill="#4165c5"/>
<circle cx="39.6" cy="59.3" r="3.2" fill="#add254"/>
<circle cx="48.3" cy="56.5" r="2.4" fill="#7ec497"/>
<circle cx="51.6" cy="64.7" r="3.1" fill="#9ecf5b"/>
<circle cx="49.6" cy="64.7" r="2.4" fill="#80c593"/>
<circle cx="37.5" cy="60.9" r="2.6" fill="#70bfb8"/>
<circle cx="41.9" cy="65.5" r="2.2" fill="#8ac87c"/>
<circle cx="47.4" cy="66.9" r="2.3" fill="#7fc596"/>
<ellipse cx="64" cy="48" rx="10" ry="6" fill="#57a3de"/>
<circle cx="60.6" cy="48.3" r="2.7" fill="#cad947"/>
<circle cx="59.6" cy="52.4" r="2.9" fill="#d0da44"/>
<circle cx="70.1" cy="51.7" r="3.0" fill="#edc833"/>
<circle cx="56.7" cy="50.4" r="2.8" fill="#b8d54f"/>
<circle cx="63.8" cy="49.9" r="3.1" fill="#ccd946"/>
<circle cx="57.4" cy="52.1" r="2.3" fill="#e2db3b"/>
<circle cx="64.8" cy="50.9" r="2.1" fill="#abd255"/>
<circle cx="56.4" cy="51.2" r="3.2" fill="#b5d450"/>
<ellipse cx="83" cy="54" rx="10" ry="9" fill="#5cb2e0"/>
<circle cx="91.6" cy="49.9" r="2.3" fill="#ceda45"/>
<circle cx="83.0" cy="62.8" r="2.8" fill="#e2dd3c"/>
<circle cx="82.8" cy="55.6" r="2.4" fill="#cbd946"/>
<circle cx="75.6" cy="54.1" r="2.8" fill="#e3db3b"/>
<circle cx="88.8" cy="60.2" r="2.4" fill="#f4ac2a"/>
<circle cx="82.4" cy="60.8" r="2.3" fill="#e4d93a"/>
<circle cx="75.0" cy="49.4" r="2.9" fill="#c8d848"/>
<circle cx="80.1" cy="47.1" r="2.7" fill="#e4d93a"/>
<circle cx="91.9" cy="51.0" r="2.4" fill="#e6d438"/>
<circle cx="84.5" cy="57.9" r="2.4" fill="#f4a729"/>
<circle cx="88.1" cy="53.6" r="2.5" fill="#e3da3a"/>
<circle cx="83.5" cy="61.7" r="2.6" fill="#e5d639"/>
<circle cx="77.9" cy="55.1" r="2.5" fill="#f1c030"/>
<ellipse cx="88" cy="46" rx="4" ry="5" fill="#e7d338"/>
<circle cx="85.5" cy="43.0" r="2.2" fill="#f39325"/>
<circle cx="90.1" cy="48.0" r="2.2" fill="#f4af2b"/>
<circle cx="84.6" cy="48.3" r="2.6" fill="#e6d538"/>
<circle cx="89.0" cy="44.2" r="2.8" fill="#e8d137"/>
<ellipse cx="23" cy="71" rx="10" ry="11" fill="#383fa1"/>
<circle cx="24.4" cy="73.6" r="2.0" fill="#436aca"/>
<circle cx="18.9" cy="75.2" r="2.8" fill="#4676d5"/>
<circle cx="21.7" cy="69.8" r="3.0" fill="#4f8fda"/>
<circle cx="22.7" cy="76.4" r="2.2" fill="#4472d1"/>
<circle cx="25.7" cy="62.6" r="2.4" fill="#4572d1"/>
<circle cx="30.8" cy="72.1" r="2.4" fill="#405fbf"/>
<circle cx="23.6" cy="71.6" r="2.9" fill="#3944a6"/>
<ellipse cx="53" cy="76" rx="9" ry="9" fill="#3943a5"/>
<circle cx="55.8" cy="79.0" r="2.7" fill="#57a5de"/>
<circle cx="60.6" cy="75.8" r="2.3" fill="#4573d3"/>
<circle cx="50.4" cy="79.8" r="3.1" fill="#487ed8"/>
<circle cx="57.4" cy="82.0" r="2.8" fill="#4c87d9"/>
<circle cx="57.7" cy="74.8" r="2.3" fill="#436bca"/>
<ellipse cx="70" cy="66" rx="9" ry="9" fill="#3a47a8"/>
<circle cx="72.2" cy="68.5" r="2.6" fill="#4f90db"/>
<circle cx="76.3" cy="68.5" r="2.1" fill="#5195db"/>
<circle cx="67.5" cy="58.4" r="2.8" fill="#487dd8"/>
<circle cx="75.9" cy="70.3" r="2.2" fill="#5aacdf"/>
<circle cx="67.6" cy="57.7" r="2.7" fill="#5cb2e0"/>
</g>
<rect width="100" height="100" filter="url(#sb)"/>
<use href="#gaps"/>
<rect width="100" height="100" filter="url(#sp)"/>
<rect y="50" width="100" height="50" filter="url(#sp2)"/>
</g>
<use href="#blob" fill="none" stroke="#9090dd" stroke-width="2.4" stroke-opacity="0.85"/>
</g>
<rect x="280.90" y="341.90" width="2.4" height="33.10" fill="url(#jet)"/>
<rect x="284.20" y="341.35" width="4.4" height="1.5" fill="#a4a4a4"/>
<rect x="284.20" y="349.48" width="4.4" height="1.5" fill="#a4a4a4"/>
<rect x="284.20" y="357.60" width="4.4" height="1.5" fill="#a4a4a4"/>
<rect x="284.20" y="365.73" width="4.4" height="1.5" fill="#a4a4a4"/>
<rect x="284.20" y="373.85" width="1.6" height="1.5" fill="#a4a4a4"/>
<text x="253.5" y="338.8" font-size="7.9" text-anchor="start" fill="#111" font-weight="normal" textLength="27.0" lengthAdjust="spacingAndGlyphs" stroke="#111" stroke-width="0.12">DNAM-1</text>
<line x1="255.6" y1="386.5" x2="255.6" y2="409.3" stroke="#000" stroke-width="1.05"/>
<line x1="255.1" y1="408.8" x2="280.1" y2="408.8" stroke="#000" stroke-width="1.05"/>
<line x1="253.79999999999998" y1="389.3" x2="255.6" y2="389.3" stroke="#000" stroke-width="0.8"/>
<text x="250.29999999999998" y="391.1" font-size="5.2" text-anchor="end" fill="#222" font-weight="normal" textLength="8.9" lengthAdjust="spacingAndGlyphs" >100</text>
<line x1="253.79999999999998" y1="399.1" x2="255.6" y2="399.1" stroke="#000" stroke-width="0.8"/>
<text x="250.29999999999998" y="400.90000000000003" font-size="5.2" text-anchor="end" fill="#222" font-weight="normal" textLength="6.4" lengthAdjust="spacingAndGlyphs" >50</text>
<line x1="253.79999999999998" y1="408.8" x2="255.6" y2="408.8" stroke="#000" stroke-width="0.8"/>
<text x="250.29999999999998" y="410.6" font-size="5.2" text-anchor="end" fill="#222" font-weight="normal" textLength="3.5" lengthAdjust="spacingAndGlyphs" >0</text>
<line x1="262.7" y1="408.8" x2="262.7" y2="411.6" stroke="#000" stroke-width="0.8"/>
<line x1="273.5" y1="408.8" x2="273.5" y2="411.6" stroke="#000" stroke-width="0.8"/>
<line x1="262.7" y1="393.3" x2="262.7" y2="395.4" stroke="#000" stroke-width="0.9"/>
<line x1="260.9" y1="393.3" x2="264.5" y2="393.3" stroke="#000" stroke-width="0.9"/>
<rect x="259.20" y="395.40" width="7.00" height="13.40" fill="#2b4a8b" stroke="#1a3570" stroke-width="0.35"/>
<line x1="273.5" y1="390.7" x2="273.5" y2="392.4" stroke="#000" stroke-width="0.9"/>
<line x1="271.7" y1="390.7" x2="275.3" y2="390.7" stroke="#000" stroke-width="0.9"/>
<rect x="270.00" y="392.40" width="7.00" height="16.40" fill="#b0002c" stroke="#9a0026" stroke-width="0.35"/>
<line x1="262.15" y1="387.4" x2="272.85" y2="387.4" stroke="#3a3a3a" stroke-width="1.15"/>
<text x="267.2" y="385.2" font-size="4.8" text-anchor="middle" fill="#333" font-weight="normal" textLength="7.2" lengthAdjust="spacingAndGlyphs" >NS</text>
<rect x="297.3" y="342.0" width="27.399999999999977" height="33.39999999999998" fill="#fff" stroke="#a8a8a8" stroke-width="0.7"/>
<g transform="translate(297.80,342.50) scale(0.2640,0.3240)">
<g clip-path="url(#bc)">
<rect width="100" height="100" fill="#3a46a7"/>
<g filter="url(#bl)">
<ellipse cx="52" cy="13" rx="22" ry="8" fill="#f3bd2e"/>
<circle cx="66.6" cy="16.0" r="2.1" fill="#eb531f"/>
<circle cx="46.9" cy="14.1" r="2.2" fill="#f39125"/>
<circle cx="67.6" cy="10.0" r="3.0" fill="#ea4c1f"/>
<circle cx="54.5" cy="14.8" r="2.0" fill="#f4a028"/>
<circle cx="47.6" cy="11.7" r="2.8" fill="#f28a24"/>
<circle cx="36.5" cy="12.8" r="2.6" fill="#ec5e20"/>
<circle cx="69.0" cy="10.9" r="2.2" fill="#f4ae2b"/>
<circle cx="37.6" cy="18.5" r="2.1" fill="#f39b27"/>
<circle cx="35.6" cy="15.8" r="2.9" fill="#f3bd2f"/>
<circle cx="55.5" cy="7.6" r="2.3" fill="#efc431"/>
<circle cx="68.2" cy="17.1" r="2.9" fill="#f2bf30"/>
<circle cx="60.2" cy="8.4" r="2.9" fill="#f4a729"/>
<circle cx="55.3" cy="14.4" r="2.5" fill="#f28623"/>
<circle cx="45.4" cy="16.5" r="2.3" fill="#f4a82a"/>
<circle cx="68.2" cy="10.4" r="2.2" fill="#ea4e1f"/>
<circle cx="39.9" cy="6.8" r="2.5" fill="#f5b52c"/>
<circle cx="59.0" cy="10.5" r="3.2" fill="#f39e28"/>
<circle cx="69.7" cy="9.6" r="2.2" fill="#ee6621"/>
<circle cx="62.4" cy="9.9" r="2.1" fill="#ea4b1f"/>
<circle cx="69.4" cy="8.9" r="2.4" fill="#f17c22"/>
<circle cx="73.9" cy="13.4" r="2.3" fill="#f28423"/>
<circle cx="32.7" cy="16.6" r="3.0" fill="#f39626"/>
<circle cx="67.7" cy="17.2" r="3.0" fill="#f39325"/>
<circle cx="58.8" cy="14.6" r="2.4" fill="#ee6921"/>
<circle cx="37.8" cy="8.3" r="2.6" fill="#ed6120"/>
<circle cx="62.8" cy="12.9" r="2.2" fill="#f5b92d"/>
<circle cx="65.3" cy="9.9" r="3.0" fill="#f39d27"/>
<circle cx="42.1" cy="10.0" r="2.9" fill="#f4a629"/>
<circle cx="54.2" cy="17.0" r="2.1" fill="#ee6b21"/>
<circle cx="61.9" cy="15.8" r="2.7" fill="#ed6120"/>
<circle cx="67.1" cy="12.9" r="2.1" fill="#ea4d1f"/>
<circle cx="66.0" cy="9.8" r="2.4" fill="#f4a92a"/>
<circle cx="31.8" cy="10.1" r="2.0" fill="#f4ae2b"/>
<circle cx="45.4" cy="14.2" r="2.9" fill="#f4a92a"/>
<circle cx="48.0" cy="18.2" r="2.8" fill="#f4bb2e"/>
<ellipse cx="60" cy="33" rx="20" ry="8" fill="#6abdc7"/>
<circle cx="67.6" cy="32.1" r="2.2" fill="#e7d338"/>
<circle cx="44.9" cy="30.1" r="2.7" fill="#cad947"/>
<circle cx="49.5" cy="32.9" r="2.4" fill="#b1d352"/>
<circle cx="61.8" cy="37.6" r="2.3" fill="#f5b52c"/>
<circle cx="58.0" cy="37.9" r="3.1" fill="#e6d538"/>
<circle cx="70.4" cy="35.1" r="2.4" fill="#b1d352"/>
<circle cx="59.2" cy="38.7" r="2.8" fill="#e2db3b"/>
<circle cx="75.9" cy="37.0" r="2.2" fill="#f5ba2d"/>
<circle cx="60.5" cy="33.8" r="3.0" fill="#e1de3c"/>
<circle cx="60.1" cy="30.0" r="2.6" fill="#dcdd3f"/>
<circle cx="45.1" cy="31.4" r="3.2" fill="#e9d036"/>
<circle cx="67.5" cy="26.8" r="2.6" fill="#c1d74b"/>
<circle cx="60.2" cy="26.2" r="2.0" fill="#d6dc41"/>
<circle cx="70.8" cy="26.4" r="3.1" fill="#dfdd3d"/>
<circle cx="58.8" cy="27.1" r="2.5" fill="#c9d947"/>
<circle cx="62.0" cy="32.9" r="3.2" fill="#d8dc40"/>
<circle cx="49.1" cy="27.0" r="2.6" fill="#f4bb2e"/>
<circle cx="53.1" cy="31.0" r="2.7" fill="#f3bc2e"/>
<circle cx="44.2" cy="31.0" r="2.3" fill="#c0d64c"/>
<circle cx="77.9" cy="31.2" r="2.5" fill="#c6d849"/>
<circle cx="58.9" cy="39.0" r="3.1" fill="#f1c030"/>
<circle cx="63.8" cy="34.6" r="2.4" fill="#e8d137"/>
<circle cx="78.9" cy="34.0" r="2.5" fill="#e2db3b"/>
<circle cx="77.4" cy="36.5" r="3.0" fill="#c3d74a"/>
<circle cx="65.0" cy="26.5" r="2.5" fill="#b6d450"/>
<circle cx="59.9" cy="28.0" r="2.8" fill="#f1c030"/>
<ellipse cx="78" cy="24" rx="8" ry="10" fill="#70bfb9"/>
<circle cx="78.3" cy="26.7" r="2.0" fill="#f4ae2b"/>
<circle cx="76.7" cy="28.7" r="2.7" fill="#f5b22c"/>
<circle cx="74.8" cy="22.3" r="2.6" fill="#e3db3b"/>
<circle cx="80.4" cy="27.6" r="2.8" fill="#e7d338"/>
<circle cx="76.7" cy="20.7" r="3.1" fill="#f3be2f"/>
<circle cx="78.9" cy="29.2" r="2.1" fill="#e4d93a"/>
<circle cx="75.1" cy="23.2" r="2.2" fill="#e4d93a"/>
<circle cx="75.2" cy="16.8" r="2.5" fill="#f0c331"/>
<circle cx="81.1" cy="16.5" r="2.0" fill="#c6d849"/>
<circle cx="73.9" cy="23.7" r="2.2" fill="#cbd946"/>
<circle cx="77.7" cy="26.6" r="2.8" fill="#d4db42"/>
<circle cx="81.6" cy="28.4" r="2.6" fill="#f2bf2f"/>
<circle cx="79.1" cy="32.1" r="2.8" fill="#d4db42"/>
<ellipse cx="26" cy="25" rx="9" ry="10" fill="#d2db43"/>
<circle cx="29.8" cy="30.8" r="2.1" fill="#f3bd2f"/>
<circle cx="28.3" cy="30.5" r="2.8" fill="#c4d74a"/>
<circle cx="22.1" cy="29.7" r="2.5" fill="#f5b12b"/>
<circle cx="24.7" cy="22.7" r="2.3" fill="#d5db41"/>
<circle cx="31.2" cy="19.3" r="2.8" fill="#dadd3f"/>
<circle cx="32.6" cy="20.0" r="3.0" fill="#eacd35"/>
<circle cx="23.2" cy="33.6" r="2.1" fill="#f4aa2a"/>
<circle cx="26.8" cy="22.6" r="2.9" fill="#e6d538"/>
<circle cx="26.7" cy="21.8" r="2.9" fill="#e1dd3c"/>
<circle cx="24.1" cy="16.2" r="3.1" fill="#e7d237"/>
<circle cx="30.4" cy="28.1" r="2.3" fill="#f5b32c"/>
<circle cx="27.4" cy="34.5" r="2.1" fill="#f4ab2a"/>
<circle cx="33.1" cy="20.6" r="2.4" fill="#eec532"/>
<circle cx="31.4" cy="32.1" r="2.7" fill="#e0de3d"/>
<circle cx="23.9" cy="23.2" r="2.0" fill="#f4ba2d"/>
<circle cx="33.3" cy="19.8" r="2.0" fill="#eec632"/>
<circle cx="21.3" cy="19.3" r="2.2" fill="#efc432"/>
<circle cx="21.3" cy="17.0" r="2.1" fill="#f2bf2f"/>
<ellipse cx="14" cy="47" rx="9" ry="11" fill="#e3da3a"/>
<circle cx="17.6" cy="55.8" r="2.6" fill="#dadc3f"/>
<circle cx="11.9" cy="53.4" r="2.3" fill="#f39e28"/>
<circle cx="21.5" cy="41.4" r="2.4" fill="#f4ad2b"/>
<circle cx="11.8" cy="40.0" r="3.1" fill="#f39a27"/>
<circle cx="17.3" cy="47.0" r="2.9" fill="#f3a028"/>
<circle cx="11.2" cy="51.8" r="3.0" fill="#dbdd3f"/>
<circle cx="12.2" cy="49.1" r="3.1" fill="#f4a92a"/>
<circle cx="9.5" cy="45.7" r="2.7" fill="#f39b27"/>
<circle cx="10.5" cy="53.2" r="2.5" fill="#f4a82a"/>
<circle cx="10.8" cy="45.7" r="2.4" fill="#eec532"/>
<circle cx="17.0" cy="41.2" r="2.2" fill="#e2db3b"/>
<circle cx="8.2" cy="50.8" r="2.1" fill="#e8d137"/>
<circle cx="14.7" cy="56.8" r="2.7" fill="#edc733"/>
<circle cx="17.2" cy="42.6" r="2.3" fill="#f1c130"/>
<circle cx="11.7" cy="51.5" r="2.7" fill="#f2bf30"/>
<circle cx="11.9" cy="49.1" r="2.9" fill="#f4a729"/>
<circle cx="17.6" cy="54.7" r="2.7" fill="#f4ad2b"/>
<circle cx="14.7" cy="40.6" r="2.0" fill="#f4a629"/>
<circle cx="21.4" cy="42.8" r="3.0" fill="#f4ab2a"/>
<circle cx="16.0" cy="41.8" r="3.2" fill="#f4a329"/>
<ellipse cx="32" cy="50" rx="9" ry="9" fill="#6abdc7"/>
<circle cx="33.4" cy="53.8" r="2.5" fill="#f5b62c"/>
<circle cx="24.4" cy="49.9" r="2.9" fill="#bad54e"/>
<circle cx="33.4" cy="52.3" r="2.8" fill="#efc331"/>
<circle cx="38.1" cy="52.5" r="2.1" fill="#f5b92d"/>
<circle cx="26.7" cy="44.0" r="2.1" fill="#e9cf36"/>
<circle cx="34.3" cy="44.2" r="2.7" fill="#e7d338"/>
<circle cx="28.8" cy="52.6" r="2.3" fill="#eacd35"/>
<circle cx="27.9" cy="46.5" r="2.8" fill="#bed64c"/>
<circle cx="28.4" cy="42.5" r="2.7" fill="#e4d93a"/>
<circle cx="26.9" cy="55.2" r="2.3" fill="#e7d338"/>
<circle cx="26.6" cy="48.6" r="2.8" fill="#f4ba2e"/>
<circle cx="37.5" cy="50.3" r="2.6" fill="#f5b52c"/>
<circle cx="28.5" cy="44.8" r="3.2" fill="#e7d338"/>
<ellipse cx="46" cy="60" rx="9" ry="8" fill="#56a3de"/>
<circle cx="44.7" cy="67.4" r="2.8" fill="#b4d451"/>
<circle cx="39.0" cy="56.1" r="3.0" fill="#9cce5c"/>
<circle cx="42.2" cy="60.9" r="2.8" fill="#b5d451"/>
<circle cx="43.1" cy="58.6" r="2.2" fill="#dcdd3e"/>
<circle cx="46.7" cy="65.3" r="2.3" fill="#89c87f"/>
<circle cx="38.0" cy="58.3" r="2.2" fill="#b4d451"/>
<circle cx="42.4" cy="60.0" r="2.5" fill="#a8d156"/>
<circle cx="43.5" cy="60.9" r="2.6" fill="#90cb6d"/>
<circle cx="44.7" cy="52.1" r="2.7" fill="#8eca71"/>
<circle cx="38.5" cy="57.4" r="2.1" fill="#dddd3e"/>
<ellipse cx="64" cy="48" rx="10" ry="6" fill="#4b84d9"/>
<circle cx="60.8" cy="44.9" r="2.6" fill="#9dcf5c"/>
<circle cx="67.0" cy="49.1" r="3.2" fill="#a7d157"/>
<circle cx="69.0" cy="51.4" r="2.5" fill="#8eca73"/>
<circle cx="56.6" cy="51.2" r="2.0" fill="#7cc49d"/>
<circle cx="60.4" cy="42.7" r="2.9" fill="#bad54e"/>
<circle cx="65.9" cy="46.7" r="2.3" fill="#82c68f"/>
<circle cx="60.9" cy="44.0" r="2.6" fill="#a5d058"/>
<ellipse cx="83" cy="54" rx="10" ry="9" fill="#5aacdf"/>
<circle cx="76.7" cy="53.7" r="3.0" fill="#cfda45"/>
<circle cx="76.9" cy="55.7" r="2.6" fill="#e5d639"/>
<circle cx="90.9" cy="56.0" r="2.8" fill="#dedd3d"/>
<circle cx="92.8" cy="54.1" r="2.6" fill="#c2d74a"/>
<circle cx="77.2" cy="56.8" r="2.4" fill="#e0de3c"/>
<circle cx="84.2" cy="45.8" r="2.1" fill="#a7d157"/>
<circle cx="78.0" cy="50.3" r="2.8" fill="#d2db43"/>
<circle cx="82.0" cy="61.0" r="2.7" fill="#a9d156"/>
<circle cx="78.8" cy="56.3" r="2.5" fill="#cdd946"/>
<circle cx="77.5" cy="57.5" r="3.2" fill="#c2d74a"/>
<circle cx="89.4" cy="50.7" r="2.3" fill="#9ace5d"/>
<circle cx="80.9" cy="56.4" r="3.0" fill="#ceda45"/>
<circle cx="82.3" cy="55.7" r="2.4" fill="#edc933"/>
<ellipse cx="23" cy="71" rx="10" ry="11" fill="#4f91db"/>
<circle cx="27.1" cy="65.3" r="2.5" fill="#b2d352"/>
<circle cx="25.4" cy="60.5" r="2.0" fill="#a3d059"/>
<circle cx="26.4" cy="70.2" r="3.0" fill="#a4d058"/>
<circle cx="18.0" cy="74.3" r="3.2" fill="#a0cf5b"/>
<circle cx="15.7" cy="72.7" r="2.9" fill="#e5d739"/>
<circle cx="28.1" cy="68.7" r="2.6" fill="#e4d93a"/>
<circle cx="24.1" cy="76.8" r="2.9" fill="#cdd945"/>
<circle cx="27.0" cy="68.5" r="2.7" fill="#d7dc41"/>
<circle cx="22.8" cy="67.7" r="2.1" fill="#e0de3c"/>
<circle cx="29.8" cy="76.5" r="3.0" fill="#90cb6e"/>
<circle cx="27.0" cy="68.6" r="2.4" fill="#93cc67"/>
<circle cx="21.6" cy="74.6" r="2.8" fill="#9ecf5b"/>
<circle cx="27.0" cy="66.9" r="3.0" fill="#d7dc41"/>
<ellipse cx="53" cy="76" rx="9" ry="9" fill="#4575d5"/>
<circle cx="50.1" cy="82.7" r="2.3" fill="#84c789"/>
<circle cx="54.8" cy="79.1" r="3.2" fill="#99ce5e"/>
<circle cx="61.3" cy="78.2" r="3.1" fill="#b2d352"/>
<circle cx="57.7" cy="76.8" r="3.0" fill="#d8dc40"/>
<circle cx="52.1" cy="78.1" r="2.6" fill="#bad54e"/>
<circle cx="50.1" cy="68.1" r="2.8" fill="#81c591"/>
<circle cx="46.3" cy="72.3" r="2.5" fill="#cdda45"/>
<circle cx="55.7" cy="81.8" r="2.1" fill="#c9d847"/>
<ellipse cx="70" cy="66" rx="9" ry="9" fill="#446fcf"/>
<circle cx="67.3" cy="67.6" r="2.0" fill="#6abdc8"/>
<circle cx="64.1" cy="71.0" r="2.6" fill="#63bad8"/>
<circle cx="73.8" cy="73.6" r="2.4" fill="#85c787"/>
<circle cx="72.4" cy="67.2" r="2.1" fill="#84c789"/>
<circle cx="71.9" cy="72.7" r="2.1" fill="#64bbd5"/>
<circle cx="61.3" cy="64.8" r="2.9" fill="#64bbd5"/>
<circle cx="65.7" cy="69.9" r="2.0" fill="#74c1af"/>
<circle cx="75.7" cy="71.8" r="2.9" fill="#9ace5d"/>
<ellipse cx="44" cy="88" rx="10" ry="7" fill="#446fcf"/>
<circle cx="45.7" cy="94.0" r="2.6" fill="#67bccf"/>
<circle cx="38.4" cy="82.5" r="3.2" fill="#6bbec3"/>
<circle cx="51.1" cy="91.3" r="2.7" fill="#78c2a7"/>
<circle cx="39.2" cy="89.5" r="2.4" fill="#8ac97a"/>
<circle cx="44.0" cy="86.5" r="2.7" fill="#63bbd7"/>
<circle cx="42.2" cy="85.1" r="2.6" fill="#89c87d"/>
<circle cx="39.4" cy="84.4" r="2.3" fill="#98cd5e"/>
</g>
<rect width="100" height="100" filter="url(#sb)"/>
<use href="#gaps"/>
<rect width="100" height="100" filter="url(#sp)"/>
<rect y="50" width="100" height="50" filter="url(#sp2)"/>
</g>
<use href="#blob" fill="none" stroke="#9090dd" stroke-width="2.4" stroke-opacity="0.85"/>
</g>
<rect x="324.80" y="342.40" width="2.4" height="32.60" fill="url(#jet)"/>
<rect x="328.10" y="341.85" width="4.4" height="1.5" fill="#a4a4a4"/>
<rect x="328.10" y="349.85" width="4.4" height="1.5" fill="#a4a4a4"/>
<rect x="328.10" y="357.85" width="4.4" height="1.5" fill="#a4a4a4"/>
<rect x="328.10" y="365.85" width="4.4" height="1.5" fill="#a4a4a4"/>
<rect x="328.10" y="373.85" width="1.6" height="1.5" fill="#a4a4a4"/>
<text x="301" y="338.8" font-size="7.9" text-anchor="start" fill="#111" font-weight="normal" textLength="22.5" lengthAdjust="spacingAndGlyphs" stroke="#111" stroke-width="0.12">NKp30</text>
<line x1="299.6" y1="386.5" x2="299.6" y2="409.3" stroke="#000" stroke-width="1.05"/>
<line x1="299.1" y1="408.8" x2="324.1" y2="408.8" stroke="#000" stroke-width="1.05"/>
<line x1="297.8" y1="389.3" x2="299.6" y2="389.3" stroke="#000" stroke-width="0.8"/>
<text x="294.3" y="391.1" font-size="5.2" text-anchor="end" fill="#222" font-weight="normal" textLength="8.9" lengthAdjust="spacingAndGlyphs" >100</text>
<line x1="297.8" y1="399.1" x2="299.6" y2="399.1" stroke="#000" stroke-width="0.8"/>
<text x="294.3" y="400.90000000000003" font-size="5.2" text-anchor="end" fill="#222" font-weight="normal" textLength="6.4" lengthAdjust="spacingAndGlyphs" >50</text>
<line x1="297.8" y1="408.8" x2="299.6" y2="408.8" stroke="#000" stroke-width="0.8"/>
<text x="294.3" y="410.6" font-size="5.2" text-anchor="end" fill="#222" font-weight="normal" textLength="3.5" lengthAdjust="spacingAndGlyphs" >0</text>
<line x1="306.70000000000005" y1="408.8" x2="306.70000000000005" y2="411.6" stroke="#000" stroke-width="0.8"/>
<line x1="317.5" y1="408.8" x2="317.5" y2="411.6" stroke="#000" stroke-width="0.8"/>
<line x1="306.70000000000005" y1="390.7" x2="306.70000000000005" y2="392.8" stroke="#000" stroke-width="0.9"/>
<line x1="304.90000000000003" y1="390.7" x2="308.50000000000006" y2="390.7" stroke="#000" stroke-width="0.9"/>
<rect x="303.20" y="392.80" width="7.00" height="16.00" fill="#2b4a8b" stroke="#1a3570" stroke-width="0.35"/>
<line x1="317.5" y1="391.4" x2="317.5" y2="393.3" stroke="#000" stroke-width="0.9"/>
<line x1="315.7" y1="391.4" x2="319.3" y2="391.4" stroke="#000" stroke-width="0.9"/>
<rect x="314.00" y="393.30" width="7.00" height="15.50" fill="#b0002c" stroke="#9a0026" stroke-width="0.35"/>
<line x1="306.15" y1="387.4" x2="316.85" y2="387.4" stroke="#3a3a3a" stroke-width="1.15"/>
<text x="311.2" y="385.2" font-size="4.8" text-anchor="middle" fill="#333" font-weight="normal" textLength="7.2" lengthAdjust="spacingAndGlyphs" >NS</text>
<rect x="341.8" y="341.5" width="28.19999999999999" height="33.89999999999998" fill="#fff" stroke="#a8a8a8" stroke-width="0.7"/>
<g transform="translate(342.30,342.00) scale(0.2720,0.3290)">
<g clip-path="url(#bc)">
<rect width="100" height="100" fill="#353898"/>
<g filter="url(#bl)">
</g>
<rect width="100" height="100" filter="url(#sb)"/>
<use href="#gaps"/>
<rect width="100" height="100" filter="url(#sp)"/>
<rect y="50" width="100" height="50" filter="url(#sp2)"/>
</g>
<use href="#blob" fill="none" stroke="#9090dd" stroke-width="2.4" stroke-opacity="0.85"/>
</g>
<rect x="370.10" y="341.90" width="2.4" height="33.10" fill="url(#jet)"/>
<rect x="373.40" y="341.35" width="4.4" height="1.5" fill="#a4a4a4"/>
<rect x="373.40" y="349.48" width="4.4" height="1.5" fill="#a4a4a4"/>
<rect x="373.40" y="357.60" width="4.4" height="1.5" fill="#a4a4a4"/>
<rect x="373.40" y="365.73" width="4.4" height="1.5" fill="#a4a4a4"/>
<rect x="373.40" y="373.85" width="1.6" height="1.5" fill="#a4a4a4"/>
<text x="346.1" y="338.8" font-size="7.9" text-anchor="start" fill="#111" font-weight="normal" textLength="21.19999999999999" lengthAdjust="spacingAndGlyphs" stroke="#111" stroke-width="0.12">CCR7</text>
<line x1="344.4" y1="386.5" x2="344.4" y2="409.3" stroke="#000" stroke-width="1.05"/>
<line x1="343.9" y1="408.8" x2="368.9" y2="408.8" stroke="#000" stroke-width="1.05"/>
<line x1="342.59999999999997" y1="389.3" x2="344.4" y2="389.3" stroke="#000" stroke-width="0.8"/>
<text x="339.09999999999997" y="391.1" font-size="5.2" text-anchor="end" fill="#222" font-weight="normal" textLength="8.9" lengthAdjust="spacingAndGlyphs" >100</text>
<line x1="342.59999999999997" y1="399.1" x2="344.4" y2="399.1" stroke="#000" stroke-width="0.8"/>
<text x="339.09999999999997" y="400.90000000000003" font-size="5.2" text-anchor="end" fill="#222" font-weight="normal" textLength="6.4" lengthAdjust="spacingAndGlyphs" >50</text>
<line x1="342.59999999999997" y1="408.8" x2="344.4" y2="408.8" stroke="#000" stroke-width="0.8"/>
<text x="339.09999999999997" y="410.6" font-size="5.2" text-anchor="end" fill="#222" font-weight="normal" textLength="3.5" lengthAdjust="spacingAndGlyphs" >0</text>
<line x1="351.5" y1="408.8" x2="351.5" y2="411.6" stroke="#000" stroke-width="0.8"/>
<line x1="362.29999999999995" y1="408.8" x2="362.29999999999995" y2="411.6" stroke="#000" stroke-width="0.8"/>
<line x1="350.94999999999993" y1="387.4" x2="361.65" y2="387.4" stroke="#3a3a3a" stroke-width="1.15"/>
<text x="355.99999999999994" y="385.2" font-size="4.8" text-anchor="middle" fill="#333" font-weight="normal" textLength="7.2" lengthAdjust="spacingAndGlyphs" >NS</text>
<rect x="386.5" y="342.0" width="27.5" height="33.39999999999998" fill="#fff" stroke="#a8a8a8" stroke-width="0.7"/>
<g transform="translate(387.00,342.50) scale(0.2650,0.3240)">
<g clip-path="url(#bc)">
<rect width="100" height="100" fill="#353898"/>
<g filter="url(#bl)">
<circle cx="45" cy="55" r="2.2" fill="#f28723"/>
</g>
<rect width="100" height="100" filter="url(#sb)"/>
<use href="#gaps"/>
<rect width="100" height="100" filter="url(#sp)"/>
<rect y="50" width="100" height="50" filter="url(#sp2)"/>
</g>
<use href="#blob" fill="none" stroke="#9090dd" stroke-width="2.4" stroke-opacity="0.85"/>
</g>
<rect x="414.10" y="342.40" width="2.4" height="32.60" fill="url(#jet)"/>
<rect x="417.40" y="341.85" width="4.4" height="1.5" fill="#a4a4a4"/>
<rect x="417.40" y="349.85" width="4.4" height="1.5" fill="#a4a4a4"/>
<rect x="417.40" y="357.85" width="4.4" height="1.5" fill="#a4a4a4"/>
<rect x="417.40" y="365.85" width="4.4" height="1.5" fill="#a4a4a4"/>
<rect x="417.40" y="373.85" width="1.6" height="1.5" fill="#a4a4a4"/>
<text x="389.6" y="338.8" font-size="7.9" text-anchor="start" fill="#111" font-weight="normal" textLength="23.0" lengthAdjust="spacingAndGlyphs" stroke="#111" stroke-width="0.12">KLRG1</text>
<line x1="389.1" y1="386.5" x2="389.1" y2="409.3" stroke="#000" stroke-width="1.05"/>
<line x1="388.6" y1="408.8" x2="413.6" y2="408.8" stroke="#000" stroke-width="1.05"/>
<line x1="387.3" y1="389.3" x2="389.1" y2="389.3" stroke="#000" stroke-width="0.8"/>
<text x="383.8" y="391.1" font-size="5.2" text-anchor="end" fill="#222" font-weight="normal" textLength="8.9" lengthAdjust="spacingAndGlyphs" >100</text>
<line x1="387.3" y1="399.1" x2="389.1" y2="399.1" stroke="#000" stroke-width="0.8"/>
<text x="383.8" y="400.90000000000003" font-size="5.2" text-anchor="end" fill="#222" font-weight="normal" textLength="6.4" lengthAdjust="spacingAndGlyphs" >50</text>
<line x1="387.3" y1="408.8" x2="389.1" y2="408.8" stroke="#000" stroke-width="0.8"/>
<text x="383.8" y="410.6" font-size="5.2" text-anchor="end" fill="#222" font-weight="normal" textLength="3.5" lengthAdjust="spacingAndGlyphs" >0</text>
<line x1="396.20000000000005" y1="408.8" x2="396.20000000000005" y2="411.6" stroke="#000" stroke-width="0.8"/>
<line x1="407.0" y1="408.8" x2="407.0" y2="411.6" stroke="#000" stroke-width="0.8"/>
<line x1="396.20000000000005" y1="407.0" x2="396.20000000000005" y2="408.3" stroke="#000" stroke-width="0.9"/>
<line x1="394.40000000000003" y1="407.0" x2="398.00000000000006" y2="407.0" stroke="#000" stroke-width="0.9"/>
<rect x="392.70" y="408.30" width="7.00" height="0.50" fill="#2b4a8b" stroke="#1a3570" stroke-width="0.35"/>
<line x1="407.0" y1="406.8" x2="407.0" y2="408.2" stroke="#000" stroke-width="0.9"/>
<line x1="405.2" y1="406.8" x2="408.8" y2="406.8" stroke="#000" stroke-width="0.9"/>
<rect x="403.50" y="408.20" width="7.00" height="0.60" fill="#b0002c" stroke="#9a0026" stroke-width="0.35"/>
<line x1="395.65" y1="387.4" x2="406.35" y2="387.4" stroke="#3a3a3a" stroke-width="1.15"/>
<text x="400.7" y="385.2" font-size="4.8" text-anchor="middle" fill="#333" font-weight="normal" textLength="7.2" lengthAdjust="spacingAndGlyphs" >NS</text>
<rect x="431.7" y="342.4" width="27.5" height="33.0" fill="#fff" stroke="#a8a8a8" stroke-width="0.7"/>
<g transform="translate(432.20,342.90) scale(0.2650,0.3200)">
<g clip-path="url(#bc)">
<rect width="100" height="100" fill="#36399a"/>
<g filter="url(#bl)">
<ellipse cx="52" cy="13" rx="22" ry="8" fill="#405fbf"/>
<circle cx="55.3" cy="13.4" r="2.3" fill="#436aca"/>
<circle cx="65.8" cy="14.2" r="3.1" fill="#5db4e0"/>
<circle cx="70.7" cy="13.2" r="2.8" fill="#436ac9"/>
<circle cx="34.9" cy="9.8" r="2.1" fill="#68bccc"/>
<circle cx="43.6" cy="11.9" r="2.6" fill="#63bad8"/>
<circle cx="47.9" cy="6.6" r="2.8" fill="#497fd8"/>
<circle cx="45.6" cy="6.1" r="2.8" fill="#63bad8"/>
<circle cx="43.8" cy="16.6" r="2.7" fill="#64bbd4"/>
<circle cx="66.7" cy="16.2" r="3.0" fill="#436bcb"/>
<circle cx="41.3" cy="12.2" r="3.0" fill="#6abdc6"/>
<circle cx="66.1" cy="14.8" r="2.7" fill="#57a4de"/>
<circle cx="60.0" cy="7.1" r="2.3" fill="#5eb7e1"/>
<circle cx="61.6" cy="19.0" r="2.3" fill="#5db3e0"/>
<circle cx="51.7" cy="18.2" r="3.2" fill="#4269c9"/>
<circle cx="52.0" cy="19.1" r="2.7" fill="#559fdd"/>
<circle cx="55.9" cy="14.2" r="2.4" fill="#5fb9e0"/>
<circle cx="42.1" cy="7.3" r="2.5" fill="#539adc"/>
<circle cx="61.1" cy="9.9" r="2.6" fill="#56a2dd"/>
<circle cx="56.4" cy="14.7" r="2.8" fill="#58a7de"/>
<circle cx="59.7" cy="12.9" r="3.0" fill="#5aaddf"/>
<circle cx="66.3" cy="12.2" r="2.0" fill="#539bdc"/>
<circle cx="57.2" cy="16.9" r="2.3" fill="#4676d5"/>
<circle cx="52.8" cy="20.9" r="2.5" fill="#65bbd3"/>
<circle cx="47.4" cy="7.6" r="2.0" fill="#549cdd"/>
<circle cx="44.4" cy="7.0" r="2.0" fill="#436dcd"/>
<circle cx="57.2" cy="20.8" r="3.0" fill="#66bbd1"/>
<circle cx="47.7" cy="17.6" r="2.7" fill="#4269c9"/>
<circle cx="54.6" cy="11.7" r="2.2" fill="#6bbdc6"/>
<ellipse cx="60" cy="33" rx="20" ry="8" fill="#3d53b4"/>
<circle cx="59.0" cy="39.8" r="2.6" fill="#4470d0"/>
<circle cx="60.8" cy="34.9" r="2.8" fill="#5296dc"/>
<circle cx="54.4" cy="27.7" r="3.1" fill="#4c88da"/>
<circle cx="42.4" cy="30.8" r="3.2" fill="#539adc"/>
<circle cx="64.9" cy="32.0" r="3.2" fill="#6bbec3"/>
<circle cx="53.6" cy="25.5" r="3.2" fill="#69bdca"/>
<circle cx="55.4" cy="40.8" r="2.3" fill="#58a7de"/>
<circle cx="73.8" cy="33.5" r="2.8" fill="#446ece"/>
<circle cx="48.3" cy="33.2" r="3.2" fill="#6dbec0"/>
<circle cx="62.1" cy="33.2" r="2.0" fill="#5195db"/>
<circle cx="68.0" cy="40.0" r="2.4" fill="#4e8cda"/>
<circle cx="61.0" cy="32.9" r="2.6" fill="#5195db"/>
<circle cx="72.9" cy="37.3" r="2.4" fill="#6abdc7"/>
<circle cx="53.1" cy="28.2" r="3.2" fill="#6abdc7"/>
<circle cx="50.1" cy="30.1" r="2.4" fill="#68bccb"/>
<circle cx="56.4" cy="39.9" r="3.1" fill="#68bccc"/>
<circle cx="47.1" cy="26.9" r="3.0" fill="#5399dc"/>
<circle cx="65.1" cy="39.2" r="2.4" fill="#436dcd"/>
<circle cx="60.7" cy="29.8" r="2.4" fill="#436ccc"/>
<ellipse cx="78" cy="24" rx="8" ry="10" fill="#3d53b4"/>
<circle cx="74.9" cy="23.5" r="2.6" fill="#59a9de"/>
<circle cx="73.6" cy="25.0" r="2.1" fill="#66bbd1"/>
<circle cx="78.7" cy="21.0" r="2.8" fill="#5db4e0"/>
<circle cx="79.0" cy="29.9" r="3.0" fill="#446fce"/>
<circle cx="76.0" cy="16.7" r="3.1" fill="#5cb0e0"/>
<circle cx="71.3" cy="25.4" r="2.1" fill="#5eb8e1"/>
<circle cx="81.6" cy="27.9" r="3.2" fill="#6abdc8"/>
<circle cx="72.7" cy="28.5" r="2.2" fill="#4573d2"/>
<circle cx="85.9" cy="24.7" r="2.5" fill="#65bbd4"/>
<circle cx="74.9" cy="30.3" r="2.6" fill="#4f90db"/>
<ellipse cx="26" cy="25" rx="9" ry="10" fill="#3c4dae"/>
<circle cx="23.5" cy="19.6" r="2.8" fill="#5eb7e1"/>
<circle cx="25.1" cy="20.0" r="3.1" fill="#5195db"/>
<circle cx="30.2" cy="26.8" r="2.7" fill="#58a7de"/>
<circle cx="27.3" cy="20.4" r="2.0" fill="#4e8cda"/>
<circle cx="32.6" cy="23.3" r="2.0" fill="#5399dc"/>
<circle cx="30.9" cy="17.6" r="2.8" fill="#4576d5"/>
<circle cx="22.6" cy="21.4" r="2.4" fill="#5091db"/>
<circle cx="31.5" cy="22.6" r="2.4" fill="#4470cf"/>
<circle cx="33.6" cy="23.7" r="2.3" fill="#4981d8"/>
<ellipse cx="46" cy="60" rx="9" ry="8" fill="#4a84d9"/>
<circle cx="47.5" cy="65.9" r="2.7" fill="#f4ae2b"/>
<circle cx="50.0" cy="67.1" r="3.1" fill="#ebcc35"/>
<circle cx="52.4" cy="60.2" r="3.1" fill="#f39d27"/>
<circle cx="44.3" cy="64.3" r="2.9" fill="#e5d739"/>
<circle cx="47.4" cy="56.2" r="2.7" fill="#e9cf36"/>
<circle cx="42.3" cy="54.2" r="2.4" fill="#f28c24"/>
<circle cx="40.4" cy="60.7" r="2.4" fill="#f39f28"/>
<ellipse cx="83" cy="54" rx="10" ry="9" fill="#7ac3a1"/>
<circle cx="87.4" cy="54.3" r="3.0" fill="#d21b1b"/>
<circle cx="79.5" cy="62.4" r="2.5" fill="#ef6e21"/>
<circle cx="77.3" cy="55.1" r="2.1" fill="#e73c1e"/>
<circle cx="87.6" cy="46.7" r="3.2" fill="#dc291d"/>
<circle cx="80.1" cy="55.5" r="2.7" fill="#f39526"/>
<circle cx="83.2" cy="60.5" r="2.7" fill="#f28923"/>
<circle cx="89.7" cy="56.7" r="2.2" fill="#cb181a"/>
<circle cx="86.5" cy="57.2" r="2.7" fill="#eb5520"/>
<circle cx="75.8" cy="49.3" r="2.7" fill="#df2f1d"/>
<circle cx="83.7" cy="53.5" r="2.5" fill="#c21418"/>
<circle cx="79.1" cy="50.7" r="2.9" fill="#dc291d"/>
<circle cx="89.1" cy="52.1" r="2.5" fill="#e5381e"/>
<circle cx="86.9" cy="61.2" r="2.5" fill="#ea4b1f"/>
<ellipse cx="23" cy="71" rx="10" ry="11" fill="#3e56b7"/>
<circle cx="22.7" cy="74.6" r="3.0" fill="#67bccf"/>
<circle cx="32.4" cy="72.0" r="2.3" fill="#acd255"/>
<circle cx="16.9" cy="63.8" r="3.0" fill="#95cc62"/>
<circle cx="13.9" cy="73.0" r="2.3" fill="#75c1ad"/>
<circle cx="22.0" cy="64.2" r="2.4" fill="#7ac3a0"/>
<circle cx="28.9" cy="62.6" r="3.0" fill="#99ce5e"/>
<circle cx="15.1" cy="72.0" r="2.0" fill="#68bccc"/>
<circle cx="23.2" cy="63.7" r="3.1" fill="#88c880"/>
<circle cx="21.8" cy="77.9" r="2.0" fill="#80c593"/>
<ellipse cx="53" cy="76" rx="9" ry="9" fill="#b4d451"/>
<circle cx="48.7" cy="71.6" r="2.6" fill="#e73c1e"/>
<circle cx="48.8" cy="83.0" r="2.2" fill="#d8231c"/>
<circle cx="49.5" cy="74.9" r="2.9" fill="#ec5920"/>
<circle cx="58.9" cy="71.0" r="3.1" fill="#ee6921"/>
<circle cx="48.6" cy="80.5" r="2.0" fill="#e5381e"/>
<circle cx="45.0" cy="79.8" r="2.0" fill="#e0301d"/>
<circle cx="46.5" cy="78.5" r="2.5" fill="#d6201c"/>
<circle cx="46.4" cy="72.3" r="2.9" fill="#eb541f"/>
<circle cx="61.3" cy="76.0" r="2.9" fill="#f28823"/>
<circle cx="48.5" cy="75.5" r="2.9" fill="#da261d"/>
<circle cx="48.7" cy="80.9" r="3.2" fill="#af0b14"/>
<circle cx="45.1" cy="72.6" r="2.4" fill="#c71619"/>
<circle cx="51.4" cy="78.4" r="2.9" fill="#f28823"/>
<circle cx="49.7" cy="71.1" r="3.2" fill="#f07a22"/>
<circle cx="59.1" cy="81.1" r="2.1" fill="#f07b22"/>
<ellipse cx="70" cy="66" rx="9" ry="9" fill="#8bc978"/>
<circle cx="70.9" cy="57.6" r="2.4" fill="#e4371e"/>
<circle cx="68.9" cy="73.6" r="2.4" fill="#eb5720"/>
<circle cx="76.5" cy="63.4" r="3.0" fill="#dd2b1d"/>
<circle cx="67.0" cy="63.5" r="2.3" fill="#c9171a"/>
<circle cx="69.5" cy="68.0" r="2.8" fill="#f18223"/>
<circle cx="64.6" cy="64.3" r="2.3" fill="#d8231c"/>
<circle cx="75.5" cy="60.0" r="3.0" fill="#d7221c"/>
<circle cx="62.5" cy="67.2" r="2.2" fill="#ef7422"/>
<circle cx="72.5" cy="63.9" r="2.3" fill="#f39125"/>
<circle cx="75.5" cy="68.0" r="3.0" fill="#f07622"/>
<circle cx="63.6" cy="60.5" r="2.9" fill="#f07922"/>
<circle cx="65.4" cy="64.5" r="2.0" fill="#f07b22"/>
<circle cx="75.5" cy="67.1" r="2.2" fill="#f39426"/>
<ellipse cx="44" cy="88" rx="10" ry="7" fill="#8bc978"/>
<circle cx="45.4" cy="90.8" r="2.2" fill="#f39325"/>
<circle cx="39.5" cy="83.6" r="2.9" fill="#ed6020"/>
<circle cx="38.6" cy="88.1" r="3.1" fill="#e9481f"/>
<circle cx="37.3" cy="89.5" r="3.0" fill="#dd2b1d"/>
<circle cx="46.3" cy="88.2" r="2.4" fill="#e2341d"/>
<circle cx="41.6" cy="81.4" r="2.3" fill="#e83f1e"/>
<circle cx="51.3" cy="85.9" r="2.3" fill="#ee6a21"/>
<circle cx="34.1" cy="88.6" r="2.9" fill="#de2d1d"/>
<circle cx="39.4" cy="91.6" r="2.7" fill="#e63a1e"/>
<circle cx="39.3" cy="90.9" r="3.0" fill="#d61f1c"/>
<circle cx="48.2" cy="90.2" r="3.2" fill="#d11b1b"/>
<circle cx="52" cy="76" r="3" fill="#d41c1c"/>
<circle cx="45" cy="86" r="3" fill="#db271d"/>
<circle cx="66" cy="68" r="3" fill="#ea4a1f"/>
<circle cx="86" cy="54" r="2.5" fill="#db271d"/>
</g>
<rect width="100" height="100" filter="url(#sb)"/>
<use href="#gaps"/>
<rect width="100" height="100" filter="url(#sp)"/>
<rect y="50" width="100" height="50" filter="url(#sp2)"/>
</g>
<use href="#blob" fill="none" stroke="#9090dd" stroke-width="2.4" stroke-opacity="0.85"/>
</g>
<rect x="459.30" y="342.80" width="2.4" height="32.20" fill="url(#jet)"/>
<rect x="462.60" y="342.25" width="4.4" height="1.5" fill="#a4a4a4"/>
<rect x="462.60" y="350.15" width="4.4" height="1.5" fill="#a4a4a4"/>
<rect x="462.60" y="358.05" width="4.4" height="1.5" fill="#a4a4a4"/>
<rect x="462.60" y="365.95" width="4.4" height="1.5" fill="#a4a4a4"/>
<rect x="462.60" y="373.85" width="1.6" height="1.5" fill="#a4a4a4"/>
<text x="436.5" y="338.8" font-size="7.9" text-anchor="start" fill="#111" font-weight="normal" textLength="19.100000000000023" lengthAdjust="spacingAndGlyphs" stroke="#111" stroke-width="0.12">CD57</text>
<line x1="433.9" y1="386.5" x2="433.9" y2="409.3" stroke="#000" stroke-width="1.05"/>
<line x1="433.4" y1="408.8" x2="458.4" y2="408.8" stroke="#000" stroke-width="1.05"/>
<line x1="432.09999999999997" y1="387.9" x2="433.9" y2="387.9" stroke="#000" stroke-width="0.8"/>
<text x="428.59999999999997" y="389.7" font-size="5.2" text-anchor="end" fill="#222" font-weight="normal" textLength="6.4" lengthAdjust="spacingAndGlyphs" >20</text>
<line x1="432.09999999999997" y1="398.3" x2="433.9" y2="398.3" stroke="#000" stroke-width="0.8"/>
<text x="428.59999999999997" y="400.1" font-size="5.2" text-anchor="end" fill="#222" font-weight="normal" textLength="6.4" lengthAdjust="spacingAndGlyphs" >10</text>
<line x1="432.09999999999997" y1="408.8" x2="433.9" y2="408.8" stroke="#000" stroke-width="0.8"/>
<text x="428.59999999999997" y="410.6" font-size="5.2" text-anchor="end" fill="#222" font-weight="normal" textLength="3.5" lengthAdjust="spacingAndGlyphs" >0</text>
<line x1="441.0" y1="408.8" x2="441.0" y2="411.6" stroke="#000" stroke-width="0.8"/>
<line x1="451.79999999999995" y1="408.8" x2="451.79999999999995" y2="411.6" stroke="#000" stroke-width="0.8"/>
<line x1="441.0" y1="389.3" x2="441.0" y2="395.4" stroke="#000" stroke-width="0.9"/>
<line x1="439.2" y1="389.3" x2="442.8" y2="389.3" stroke="#000" stroke-width="0.9"/>
<rect x="437.50" y="395.40" width="7.00" height="13.40" fill="#2b4a8b" stroke="#1a3570" stroke-width="0.35"/>
<line x1="451.79999999999995" y1="393.3" x2="451.79999999999995" y2="399.4" stroke="#000" stroke-width="0.9"/>
<line x1="449.99999999999994" y1="393.3" x2="453.59999999999997" y2="393.3" stroke="#000" stroke-width="0.9"/>
<rect x="448.30" y="399.40" width="7.00" height="9.40" fill="#b0002c" stroke="#9a0026" stroke-width="0.35"/>
<line x1="440.44999999999993" y1="387.4" x2="451.15" y2="387.4" stroke="#3a3a3a" stroke-width="1.15"/>
<circle cx="445.80" cy="384.40" r="0.72" fill="#2a2a2a"/>
<rect x="476.0" y="342.4" width="27.30000000000001" height="33.0" fill="#fff" stroke="#a8a8a8" stroke-width="0.7"/>
<g transform="translate(476.50,342.90) scale(0.2630,0.3200)">
<g clip-path="url(#bc)">
<rect width="100" height="100" fill="#373c9d"/>
<g filter="url(#bl)">
<ellipse cx="52" cy="13" rx="22" ry="8" fill="#3a47a8"/>
<circle cx="39.1" cy="19.1" r="2.1" fill="#4576d5"/>
<circle cx="44.4" cy="15.1" r="2.5" fill="#436bcb"/>
<circle cx="59.9" cy="18.1" r="2.3" fill="#63bad8"/>
<circle cx="34.0" cy="11.6" r="3.1" fill="#63bad8"/>
<circle cx="32.9" cy="11.2" r="2.2" fill="#64bbd4"/>
<circle cx="59.8" cy="8.6" r="3.0" fill="#66bbd2"/>
<circle cx="48.6" cy="9.5" r="3.0" fill="#539bdc"/>
<circle cx="30.5" cy="11.9" r="2.3" fill="#4470d0"/>
<circle cx="55.9" cy="11.1" r="2.6" fill="#5baedf"/>
<circle cx="59.3" cy="14.5" r="2.9" fill="#4269c9"/>
<circle cx="46.4" cy="7.0" r="2.6" fill="#58a7de"/>
<ellipse cx="78" cy="24" rx="8" ry="10" fill="#436bca"/>
<circle cx="76.3" cy="17.8" r="2.0" fill="#d2db43"/>
<circle cx="78.2" cy="23.1" r="2.7" fill="#e3db3b"/>
<circle cx="70.6" cy="24.6" r="2.5" fill="#add254"/>
<circle cx="74.7" cy="32.2" r="2.4" fill="#a6d158"/>
<circle cx="73.5" cy="18.3" r="3.0" fill="#b0d353"/>
<circle cx="73.0" cy="25.4" r="2.4" fill="#ebcb34"/>
<ellipse cx="14" cy="47" rx="9" ry="11" fill="#4165c5"/>
<circle cx="11.3" cy="39.3" r="2.2" fill="#6ebfbd"/>
<circle cx="13.0" cy="48.7" r="2.2" fill="#81c590"/>
<circle cx="17.0" cy="56.5" r="3.0" fill="#9bce5d"/>
<circle cx="13.7" cy="36.5" r="2.2" fill="#7ac3a1"/>
<circle cx="15.1" cy="44.7" r="2.8" fill="#87c783"/>
<circle cx="8.4" cy="45.7" r="2.7" fill="#9dcf5c"/>
<circle cx="12.0" cy="55.6" r="2.3" fill="#90cb6e"/>
<circle cx="21.6" cy="44.7" r="2.3" fill="#81c592"/>
<circle cx="13.2" cy="40.5" r="3.2" fill="#8cc977"/>
<circle cx="14.8" cy="55.3" r="3.0" fill="#a9d156"/>
<ellipse cx="32" cy="50" rx="9" ry="9" fill="#4576d5"/>
<circle cx="34.1" cy="58.6" r="2.2" fill="#c5d849"/>
<circle cx="29.1" cy="44.9" r="2.7" fill="#b3d452"/>
<circle cx="37.9" cy="43.4" r="2.1" fill="#d4db42"/>
<circle cx="31.0" cy="45.1" r="2.6" fill="#94cc64"/>
<circle cx="28.0" cy="57.1" r="2.2" fill="#c2d74a"/>
<circle cx="24.4" cy="53.5" r="2.4" fill="#83c68c"/>
<circle cx="34.3" cy="52.9" r="2.1" fill="#a9d156"/>
<circle cx="38.0" cy="52.7" r="2.3" fill="#98cd5e"/>
<circle cx="27.2" cy="49.9" r="3.1" fill="#bcd64d"/>
<circle cx="38.4" cy="52.8" r="3.1" fill="#78c2a6"/>
<ellipse cx="46" cy="60" rx="9" ry="8" fill="#6cbec3"/>
<circle cx="47.1" cy="53.0" r="2.1" fill="#e7d438"/>
<circle cx="46.1" cy="58.2" r="2.6" fill="#f1c030"/>
<circle cx="50.9" cy="55.6" r="2.3" fill="#e8d036"/>
<circle cx="44.2" cy="62.0" r="2.1" fill="#c2d74a"/>
<circle cx="48.5" cy="58.9" r="3.2" fill="#e9cf36"/>
<circle cx="54.4" cy="57.7" r="2.6" fill="#dadc3f"/>
<circle cx="53.1" cy="63.9" r="2.1" fill="#bed64c"/>
<circle cx="44.8" cy="57.9" r="2.2" fill="#f3be2f"/>
<circle cx="39.7" cy="63.4" r="3.0" fill="#f0c331"/>
<circle cx="49.3" cy="55.7" r="2.3" fill="#d5db41"/>
<circle cx="48.3" cy="60.8" r="2.7" fill="#efc532"/>
<circle cx="45.9" cy="65.0" r="3.2" fill="#a0cf5a"/>
<circle cx="42.5" cy="64.8" r="2.7" fill="#b0d353"/>
<ellipse cx="64" cy="48" rx="10" ry="6" fill="#76c1ab"/>
<circle cx="68.2" cy="43.5" r="2.9" fill="#f39626"/>
<circle cx="59.3" cy="48.1" r="2.5" fill="#f28823"/>
<circle cx="63.7" cy="53.3" r="3.0" fill="#f5b82d"/>
<circle cx="59.2" cy="48.8" r="2.2" fill="#eacd35"/>
<circle cx="63.8" cy="44.0" r="2.8" fill="#f4bb2e"/>
<circle cx="62.4" cy="43.9" r="2.1" fill="#f5b52c"/>
<circle cx="64.8" cy="42.9" r="2.9" fill="#f4ac2a"/>
<circle cx="68.2" cy="42.8" r="2.2" fill="#edc833"/>
<circle cx="60.9" cy="52.2" r="3.1" fill="#f39325"/>
<circle cx="67.0" cy="45.8" r="2.4" fill="#f28b24"/>
<ellipse cx="83" cy="54" rx="10" ry="9" fill="#85c787"/>
<circle cx="75.2" cy="49.5" r="2.8" fill="#f28a24"/>
<circle cx="77.7" cy="47.4" r="2.1" fill="#f39e28"/>
<circle cx="75.1" cy="58.5" r="2.0" fill="#f07522"/>
<circle cx="80.4" cy="57.8" r="3.2" fill="#f39025"/>
<circle cx="76.5" cy="51.7" r="2.1" fill="#f5b32c"/>
<circle cx="90.1" cy="53.8" r="2.3" fill="#f18023"/>
<circle cx="82.7" cy="52.5" r="2.4" fill="#f28a24"/>
<circle cx="87.5" cy="55.8" r="3.0" fill="#e0311d"/>
<circle cx="75.9" cy="56.2" r="2.5" fill="#e2341d"/>
<circle cx="76.6" cy="51.6" r="2.6" fill="#f4a228"/>
<circle cx="86.9" cy="46.4" r="2.4" fill="#f4a729"/>
<circle cx="79.1" cy="50.8" r="3.1" fill="#f4aa2a"/>
<circle cx="82.7" cy="49.0" r="2.4" fill="#ea501f"/>
<circle cx="80.4" cy="60.1" r="2.3" fill="#f4a429"/>
<ellipse cx="88" cy="46" rx="4" ry="5" fill="#f39125"/>
<circle cx="85.4" cy="49.7" r="2.1" fill="#de2d1d"/>
<circle cx="86.2" cy="48.9" r="2.3" fill="#c61619"/>
<circle cx="91.2" cy="48.1" r="2.2" fill="#f39526"/>
<circle cx="89.0" cy="45.9" r="2.2" fill="#e73c1e"/>
<ellipse cx="23" cy="71" rx="10" ry="11" fill="#67bcce"/>
<circle cx="23.7" cy="72.1" r="2.1" fill="#9cce5c"/>
<circle cx="32.1" cy="66.9" r="3.1" fill="#d3db42"/>
<circle cx="22.9" cy="80.3" r="2.5" fill="#e1dd3c"/>
<circle cx="13.2" cy="70.8" r="2.1" fill="#9bce5d"/>
<circle cx="24.0" cy="74.3" r="2.2" fill="#e7d237"/>
<circle cx="18.3" cy="76.6" r="2.3" fill="#b2d352"/>
<circle cx="19.6" cy="66.8" r="2.4" fill="#a2d059"/>
<circle cx="28.3" cy="66.5" r="2.5" fill="#eace35"/>
<circle cx="19.5" cy="61.0" r="2.1" fill="#e3db3b"/>
<circle cx="28.6" cy="67.3" r="3.2" fill="#aed254"/>
<circle cx="28.6" cy="78.2" r="3.0" fill="#ccd946"/>
<circle cx="23.4" cy="78.6" r="2.9" fill="#aad156"/>
<circle cx="28.8" cy="77.9" r="2.8" fill="#b1d352"/>
<circle cx="21.3" cy="64.0" r="2.7" fill="#95cd61"/>
<circle cx="18.6" cy="76.5" r="2.3" fill="#bad54e"/>
<circle cx="18.5" cy="70.6" r="3.1" fill="#dbdd3f"/>
<circle cx="15.7" cy="65.5" r="3.0" fill="#ebcc35"/>
<circle cx="15.9" cy="77.0" r="2.9" fill="#c0d64c"/>
<circle cx="22.7" cy="73.5" r="2.4" fill="#97cd5e"/>
<circle cx="20.2" cy="77.1" r="3.0" fill="#9dcf5c"/>
<ellipse cx="53" cy="76" rx="9" ry="9" fill="#6cbec3"/>
<circle cx="46.4" cy="80.5" r="2.9" fill="#afd353"/>
<circle cx="52.5" cy="77.7" r="2.5" fill="#a5d058"/>
<circle cx="58.6" cy="74.4" r="2.9" fill="#b6d450"/>
<circle cx="57.5" cy="70.8" r="2.6" fill="#e3da3b"/>
<circle cx="53.9" cy="84.1" r="2.0" fill="#eec532"/>
<circle cx="61.0" cy="79.4" r="2.5" fill="#e0de3d"/>
<circle cx="46.5" cy="77.3" r="2.3" fill="#d4db42"/>
<circle cx="53.6" cy="81.1" r="2.7" fill="#e9cf36"/>
<circle cx="51.6" cy="80.7" r="2.9" fill="#b0d353"/>
<circle cx="52.9" cy="82.0" r="2.1" fill="#bed64c"/>
<circle cx="47.5" cy="73.2" r="2.3" fill="#a4d059"/>
<circle cx="56.8" cy="75.0" r="3.0" fill="#e7d337"/>
<circle cx="55.7" cy="75.3" r="2.5" fill="#d1da43"/>
<circle cx="45.1" cy="76.1" r="3.2" fill="#f1c030"/>
<circle cx="60.5" cy="76.9" r="2.9" fill="#e2dd3b"/>
<ellipse cx="70" cy="66" rx="9" ry="9" fill="#70bfb9"/>
<circle cx="73.9" cy="72.2" r="2.7" fill="#d4db42"/>
<circle cx="72.4" cy="69.5" r="2.9" fill="#e0de3d"/>
<circle cx="65.9" cy="58.2" r="2.4" fill="#f5b82d"/>
<circle cx="76.6" cy="63.1" r="2.3" fill="#b4d451"/>
<circle cx="73.6" cy="65.7" r="2.5" fill="#b4d451"/>
<circle cx="67.1" cy="74.5" r="2.8" fill="#edc733"/>
<circle cx="69.2" cy="62.5" r="2.8" fill="#eacd35"/>
<circle cx="63.9" cy="63.6" r="2.8" fill="#e8d137"/>
<circle cx="68.5" cy="61.8" r="2.6" fill="#c0d74b"/>
<circle cx="62.3" cy="66.5" r="2.4" fill="#b5d450"/>
<circle cx="69.5" cy="74.2" r="2.3" fill="#dddd3e"/>
<circle cx="72.6" cy="61.7" r="2.5" fill="#e5d639"/>
<circle cx="76.3" cy="71.7" r="2.8" fill="#ebcc35"/>
<circle cx="65.6" cy="64.7" r="2.8" fill="#f2be2f"/>
<circle cx="68.1" cy="58.8" r="3.1" fill="#f0c231"/>
<ellipse cx="44" cy="88" rx="10" ry="7" fill="#67bcce"/>
<circle cx="48.7" cy="85.2" r="3.0" fill="#eec632"/>
<circle cx="40.8" cy="93.2" r="2.7" fill="#c1d74b"/>
<circle cx="43.2" cy="81.0" r="2.4" fill="#d4db42"/>
<circle cx="39.3" cy="93.1" r="2.2" fill="#b8d54f"/>
<circle cx="38.2" cy="83.5" r="2.4" fill="#c3d74a"/>
<circle cx="42.7" cy="93.6" r="2.3" fill="#bbd54e"/>
<circle cx="48.3" cy="92.9" r="2.9" fill="#e1de3c"/>
<circle cx="46.6" cy="87.2" r="2.9" fill="#c4d849"/>
<circle cx="41.6" cy="88.4" r="2.1" fill="#95cd62"/>
<circle cx="46.1" cy="88.2" r="3.0" fill="#dedd3d"/>
<circle cx="41.9" cy="92.8" r="2.5" fill="#95cd62"/>
<circle cx="53.6" cy="88.3" r="3.0" fill="#9ecf5b"/>
<circle cx="43.4" cy="81.2" r="3.1" fill="#b7d450"/>
</g>
<rect width="100" height="100" filter="url(#sb)"/>
<use href="#gaps"/>
<rect width="100" height="100" filter="url(#sp)"/>
<rect y="50" width="100" height="50" filter="url(#sp2)"/>
</g>
<use href="#blob" fill="none" stroke="#9090dd" stroke-width="2.4" stroke-opacity="0.85"/>
</g>
<rect x="503.40" y="342.80" width="2.4" height="32.20" fill="url(#jet)"/>
<rect x="506.70" y="342.25" width="4.4" height="1.5" fill="#a4a4a4"/>
<rect x="506.70" y="350.15" width="4.4" height="1.5" fill="#a4a4a4"/>
<rect x="506.70" y="358.05" width="4.4" height="1.5" fill="#a4a4a4"/>
<rect x="506.70" y="365.95" width="4.4" height="1.5" fill="#a4a4a4"/>
<rect x="506.70" y="373.85" width="1.6" height="1.5" fill="#a4a4a4"/>
<text x="480.9" y="338.8" font-size="7.9" text-anchor="start" fill="#111" font-weight="normal" textLength="19.5" lengthAdjust="spacingAndGlyphs" stroke="#111" stroke-width="0.12">CD16</text>
<line x1="479.2" y1="386.5" x2="479.2" y2="409.3" stroke="#000" stroke-width="1.05"/>
<line x1="478.7" y1="408.8" x2="503.7" y2="408.8" stroke="#000" stroke-width="1.05"/>
<line x1="477.4" y1="389.3" x2="479.2" y2="389.3" stroke="#000" stroke-width="0.8"/>
<text x="473.9" y="391.1" font-size="5.2" text-anchor="end" fill="#222" font-weight="normal" textLength="6.4" lengthAdjust="spacingAndGlyphs" >60</text>
<line x1="477.4" y1="399.4" x2="479.2" y2="399.4" stroke="#000" stroke-width="0.8"/>
<text x="473.9" y="401.2" font-size="5.2" text-anchor="end" fill="#222" font-weight="normal" textLength="6.4" lengthAdjust="spacingAndGlyphs" >30</text>
<line x1="477.4" y1="408.8" x2="479.2" y2="408.8" stroke="#000" stroke-width="0.8"/>
<text x="473.9" y="410.6" font-size="5.2" text-anchor="end" fill="#222" font-weight="normal" textLength="3.5" lengthAdjust="spacingAndGlyphs" >0</text>
<line x1="486.3" y1="408.8" x2="486.3" y2="411.6" stroke="#000" stroke-width="0.8"/>
<line x1="497.09999999999997" y1="408.8" x2="497.09999999999997" y2="411.6" stroke="#000" stroke-width="0.8"/>
<line x1="486.3" y1="393.1" x2="486.3" y2="398.8" stroke="#000" stroke-width="0.9"/>
<line x1="484.5" y1="393.1" x2="488.1" y2="393.1" stroke="#000" stroke-width="0.9"/>
<rect x="482.80" y="398.80" width="7.00" height="10.00" fill="#2b4a8b" stroke="#1a3570" stroke-width="0.35"/>
<line x1="497.09999999999997" y1="396.8" x2="497.09999999999997" y2="402.7" stroke="#000" stroke-width="0.9"/>
<line x1="495.29999999999995" y1="396.8" x2="498.9" y2="396.8" stroke="#000" stroke-width="0.9"/>
<rect x="493.60" y="402.70" width="7.00" height="6.10" fill="#b0002c" stroke="#9a0026" stroke-width="0.35"/>
<line x1="485.74999999999994" y1="387.4" x2="496.45" y2="387.4" stroke="#3a3a3a" stroke-width="1.15"/>
<circle cx="491.10" cy="384.40" r="0.72" fill="#2a2a2a"/>
<rect x="28.7" y="440.0" width="27.2" height="33.0" fill="#fff" stroke="#a8a8a8" stroke-width="0.7"/>
<g transform="translate(29.20,440.50) scale(0.2620,0.3200)">
<g clip-path="url(#bc)">
<rect width="100" height="100" fill="#36399a"/>
<g filter="url(#bl)">
<ellipse cx="26" cy="25" rx="9" ry="10" fill="#f1c030"/>
<circle cx="25.8" cy="31.4" r="2.9" fill="#f4bb2e"/>
<circle cx="34.2" cy="22.3" r="2.9" fill="#f5b82d"/>
<circle cx="21.2" cy="33.4" r="2.3" fill="#f4bc2e"/>
<circle cx="24.7" cy="29.9" r="2.2" fill="#efc532"/>
<circle cx="32.6" cy="31.5" r="2.6" fill="#f39826"/>
<circle cx="23.0" cy="18.1" r="2.8" fill="#f2be2f"/>
<circle cx="21.3" cy="33.4" r="2.3" fill="#f3bd2f"/>
<circle cx="31.5" cy="31.9" r="2.9" fill="#efc432"/>
<circle cx="26.0" cy="22.1" r="3.1" fill="#f28e24"/>
<circle cx="28.7" cy="16.6" r="2.0" fill="#f28a24"/>
<circle cx="30.5" cy="23.5" r="2.1" fill="#f0c331"/>
<circle cx="23.3" cy="16.8" r="2.5" fill="#f39826"/>
<circle cx="30.9" cy="18.7" r="2.8" fill="#f4bb2e"/>
<circle cx="30.7" cy="20.2" r="2.9" fill="#ef7122"/>
<circle cx="20.5" cy="26.0" r="2.9" fill="#f1c130"/>
<circle cx="21.4" cy="20.8" r="2.0" fill="#ec5920"/>
<circle cx="21.3" cy="30.6" r="2.8" fill="#f4a429"/>
<circle cx="32.7" cy="26.0" r="3.0" fill="#f28923"/>
<ellipse cx="14" cy="47" rx="9" ry="11" fill="#f39626"/>
<circle cx="15.2" cy="37.6" r="3.2" fill="#f07622"/>
<circle cx="10.5" cy="46.0" r="2.0" fill="#f3a028"/>
<circle cx="18.0" cy="48.5" r="2.5" fill="#d51d1c"/>
<circle cx="15.7" cy="43.5" r="2.8" fill="#f28423"/>
<circle cx="21.5" cy="48.2" r="2.9" fill="#f39a27"/>
<circle cx="21.0" cy="47.3" r="2.8" fill="#f07622"/>
<circle cx="7.4" cy="53.3" r="2.6" fill="#db271d"/>
<circle cx="11.2" cy="56.3" r="2.0" fill="#d51e1c"/>
<circle cx="14.6" cy="43.2" r="2.5" fill="#d41d1c"/>
<circle cx="14.4" cy="56.2" r="2.8" fill="#f39426"/>
<circle cx="12.0" cy="57.7" r="2.0" fill="#ee6b21"/>
<circle cx="11.0" cy="44.1" r="3.1" fill="#ce1a1b"/>
<circle cx="13.6" cy="50.4" r="2.1" fill="#db281d"/>
<circle cx="6.7" cy="52.3" r="2.2" fill="#db281d"/>
<circle cx="10.3" cy="52.7" r="3.2" fill="#f39c27"/>
<circle cx="8.5" cy="39.6" r="3.0" fill="#e9421e"/>
<circle cx="14.0" cy="37.2" r="2.6" fill="#e4371e"/>
<circle cx="9.3" cy="41.0" r="2.0" fill="#f28f25"/>
<circle cx="14.9" cy="49.5" r="2.8" fill="#f18323"/>
<circle cx="8.7" cy="53.5" r="3.0" fill="#ea501f"/>
<ellipse cx="23" cy="71" rx="10" ry="11" fill="#f28c24"/>
<circle cx="24.8" cy="71.7" r="2.6" fill="#eb5520"/>
<circle cx="15.2" cy="77.6" r="3.1" fill="#cd191a"/>
<circle cx="24.5" cy="68.4" r="2.7" fill="#f28b24"/>
<circle cx="17.1" cy="74.4" r="2.2" fill="#ea4c1f"/>
<circle cx="27.9" cy="61.5" r="2.4" fill="#f38f25"/>
<circle cx="18.0" cy="63.6" r="3.1" fill="#e63a1e"/>
<circle cx="19.7" cy="76.0" r="2.8" fill="#ec5e20"/>
<circle cx="21.6" cy="80.8" r="3.0" fill="#ec5c20"/>
<circle cx="17.7" cy="63.8" r="2.1" fill="#ef7322"/>
<circle cx="22.2" cy="77.1" r="2.6" fill="#ef7021"/>
<circle cx="16.0" cy="68.7" r="2.3" fill="#ee6b21"/>
<circle cx="30.5" cy="71.8" r="2.4" fill="#e9461f"/>
<circle cx="21.5" cy="67.7" r="2.5" fill="#db281d"/>
<circle cx="17.4" cy="64.4" r="2.3" fill="#f07622"/>
<circle cx="21.7" cy="69.6" r="2.3" fill="#f28c24"/>
<circle cx="15.5" cy="69.4" r="2.7" fill="#e4361e"/>
<circle cx="22.6" cy="77.5" r="2.6" fill="#f28c24"/>
<circle cx="27.6" cy="78.6" r="2.1" fill="#d7211c"/>
<circle cx="13.6" cy="73.8" r="2.9" fill="#f39526"/>
<circle cx="18.8" cy="66.6" r="2.2" fill="#f28623"/>
<circle cx="26.9" cy="79.1" r="2.1" fill="#d51d1c"/>
<circle cx="27.8" cy="63.4" r="2.2" fill="#f28e24"/>
<ellipse cx="44" cy="88" rx="10" ry="7" fill="#57a3de"/>
<circle cx="52.3" cy="90.5" r="2.7" fill="#f18323"/>
<circle cx="38.6" cy="88.2" r="2.4" fill="#e83d1e"/>
<circle cx="40.3" cy="87.6" r="2.4" fill="#f39025"/>
<circle cx="52.0" cy="88.6" r="2.5" fill="#f28d24"/>
<circle cx="36.7" cy="86.5" r="2.8" fill="#eb5620"/>
<circle cx="43.1" cy="92.4" r="2.6" fill="#e8411e"/>
<circle cx="38.0" cy="89.9" r="2.9" fill="#e0301d"/>
<circle cx="35" cy="86" r="3" fill="#e1331d"/>
<circle cx="20" cy="24" r="3" fill="#f5b92d"/>
</g>
<rect width="100" height="100" filter="url(#sb)"/>
<use href="#gaps"/>
<rect width="100" height="100" filter="url(#sp)"/>
<rect y="50" width="100" height="50" filter="url(#sp2)"/>
</g>
<use href="#blob" fill="none" stroke="#9090dd" stroke-width="2.4" stroke-opacity="0.85"/>
</g>
<rect x="56.00" y="440.40" width="2.4" height="32.20" fill="url(#jet)"/>
<rect x="59.30" y="439.85" width="4.4" height="1.5" fill="#a4a4a4"/>
<rect x="59.30" y="447.75" width="4.4" height="1.5" fill="#a4a4a4"/>
<rect x="59.30" y="455.65" width="4.4" height="1.5" fill="#a4a4a4"/>
<rect x="59.30" y="463.55" width="4.4" height="1.5" fill="#a4a4a4"/>
<rect x="59.30" y="471.45" width="1.6" height="1.5" fill="#a4a4a4"/>
<text x="36.5" y="435.9" font-size="7.9" text-anchor="start" fill="#111" font-weight="normal" textLength="15.299999999999997" lengthAdjust="spacingAndGlyphs" stroke="#111" stroke-width="0.12">T-bet</text>
<line x1="31.3" y1="483.2" x2="31.3" y2="508.4" stroke="#000" stroke-width="1.05"/>
<line x1="30.8" y1="507.9" x2="55.8" y2="507.9" stroke="#000" stroke-width="1.05"/>
<line x1="29.5" y1="486.1" x2="31.3" y2="486.1" stroke="#000" stroke-width="0.8"/>
<text x="26.0" y="487.90000000000003" font-size="5.2" text-anchor="end" fill="#222" font-weight="normal" textLength="6.4" lengthAdjust="spacingAndGlyphs" >40</text>
<line x1="29.5" y1="496.9" x2="31.3" y2="496.9" stroke="#000" stroke-width="0.8"/>
<text x="26.0" y="498.7" font-size="5.2" text-anchor="end" fill="#222" font-weight="normal" textLength="6.4" lengthAdjust="spacingAndGlyphs" >20</text>
<line x1="29.5" y1="507.9" x2="31.3" y2="507.9" stroke="#000" stroke-width="0.8"/>
<text x="26.0" y="509.7" font-size="5.2" text-anchor="end" fill="#222" font-weight="normal" textLength="3.5" lengthAdjust="spacingAndGlyphs" >0</text>
<line x1="38.4" y1="507.9" x2="38.4" y2="510.7" stroke="#000" stroke-width="0.8"/>
<line x1="49.2" y1="507.9" x2="49.2" y2="510.7" stroke="#000" stroke-width="0.8"/>
<line x1="38.4" y1="489.4" x2="38.4" y2="493.8" stroke="#000" stroke-width="0.9"/>
<line x1="36.6" y1="489.4" x2="40.199999999999996" y2="489.4" stroke="#000" stroke-width="0.9"/>
<rect x="34.90" y="493.80" width="7.00" height="14.10" fill="#2b4a8b" stroke="#1a3570" stroke-width="0.35"/>
<line x1="49.2" y1="494.2" x2="49.2" y2="497.9" stroke="#000" stroke-width="0.9"/>
<line x1="47.400000000000006" y1="494.2" x2="51.0" y2="494.2" stroke="#000" stroke-width="0.9"/>
<rect x="45.70" y="497.90" width="7.00" height="10.00" fill="#b0002c" stroke="#9a0026" stroke-width="0.35"/>
<line x1="37.85" y1="486.6" x2="48.550000000000004" y2="486.6" stroke="#3a3a3a" stroke-width="1.15"/>
<circle cx="42.20" cy="483.60" r="0.72" fill="#2a2a2a"/>
<circle cx="44.20" cy="483.60" r="0.72" fill="#2a2a2a"/>
<rect x="73.2" y="440.0" width="27.799999999999997" height="33.89999999999998" fill="#fff" stroke="#a8a8a8" stroke-width="0.7"/>
<g transform="translate(73.70,440.50) scale(0.2680,0.3290)">
<g clip-path="url(#bc)">
<rect width="100" height="100" fill="#373c9d"/>
<g filter="url(#bl)">
<ellipse cx="52" cy="13" rx="22" ry="8" fill="#4164c4"/>
<circle cx="63.0" cy="15.9" r="2.6" fill="#57a4de"/>
<circle cx="57.1" cy="6.5" r="2.0" fill="#5baedf"/>
<circle cx="39.0" cy="13.8" r="2.2" fill="#86c784"/>
<circle cx="50.5" cy="18.1" r="3.1" fill="#84c68a"/>
<circle cx="46.2" cy="12.2" r="3.0" fill="#87c882"/>
<circle cx="63.4" cy="15.8" r="2.7" fill="#7bc39f"/>
<circle cx="54.7" cy="11.6" r="2.3" fill="#74c1af"/>
<circle cx="37.5" cy="17.9" r="2.5" fill="#85c788"/>
<circle cx="47.1" cy="18.6" r="2.9" fill="#86c784"/>
<circle cx="52.8" cy="9.6" r="2.8" fill="#5eb6e1"/>
<circle cx="53.7" cy="13.8" r="2.9" fill="#6ebfbd"/>
<circle cx="63.7" cy="13.0" r="2.3" fill="#67bcce"/>
<circle cx="50.8" cy="7.4" r="2.9" fill="#71c0b6"/>
<circle cx="33.9" cy="16.9" r="2.8" fill="#5399dc"/>
<circle cx="64.1" cy="14.1" r="2.4" fill="#81c591"/>
<circle cx="44.9" cy="19.9" r="2.6" fill="#81c590"/>
<circle cx="42.3" cy="12.2" r="3.2" fill="#559fdd"/>
<circle cx="38.2" cy="17.8" r="2.2" fill="#7dc49b"/>
<circle cx="38.5" cy="13.8" r="2.6" fill="#62bada"/>
<circle cx="42.1" cy="13.5" r="2.4" fill="#6fbfbb"/>
<circle cx="64.2" cy="14.6" r="3.1" fill="#65bbd3"/>
<ellipse cx="60" cy="33" rx="20" ry="8" fill="#3c4eb0"/>
<circle cx="52.9" cy="38.7" r="2.3" fill="#5093db"/>
<circle cx="50.0" cy="27.6" r="2.7" fill="#4470d0"/>
<circle cx="60.3" cy="34.0" r="2.7" fill="#5297dc"/>
<circle cx="65.9" cy="29.9" r="2.5" fill="#5091db"/>
<circle cx="58.7" cy="28.8" r="2.1" fill="#5194db"/>
<circle cx="52.4" cy="30.2" r="2.4" fill="#5297dc"/>
<circle cx="56.5" cy="32.8" r="3.2" fill="#4678d7"/>
<circle cx="47.4" cy="37.6" r="2.9" fill="#71bfb7"/>
<circle cx="59.6" cy="30.2" r="2.8" fill="#487ed8"/>
<circle cx="66.7" cy="40.4" r="2.7" fill="#4676d5"/>
<circle cx="48.3" cy="37.1" r="2.3" fill="#4e8eda"/>
<circle cx="41.4" cy="30.4" r="2.7" fill="#58a8de"/>
<circle cx="70.8" cy="30.5" r="2.6" fill="#57a5de"/>
<ellipse cx="78" cy="24" rx="8" ry="10" fill="#3a47a8"/>
<circle cx="80.3" cy="32.8" r="3.1" fill="#4574d3"/>
<circle cx="77.7" cy="31.7" r="3.2" fill="#4575d4"/>
<circle cx="75.2" cy="16.2" r="2.5" fill="#4576d5"/>
<circle cx="72.5" cy="17.7" r="2.1" fill="#64bbd4"/>
<circle cx="74.1" cy="28.2" r="3.0" fill="#477cd8"/>
<ellipse cx="26" cy="25" rx="9" ry="10" fill="#f39125"/>
<circle cx="28.0" cy="20.4" r="2.7" fill="#ea4c1f"/>
<circle cx="20.4" cy="21.2" r="2.9" fill="#ed6421"/>
<circle cx="24.1" cy="33.1" r="2.5" fill="#ee6821"/>
<circle cx="20.1" cy="23.4" r="2.6" fill="#f39726"/>
<circle cx="27.1" cy="17.5" r="2.9" fill="#d8231c"/>
<circle cx="20.5" cy="28.6" r="2.3" fill="#f39225"/>
<circle cx="26.3" cy="29.9" r="3.1" fill="#e4361e"/>
<circle cx="23.8" cy="21.2" r="3.0" fill="#ef7322"/>
<circle cx="21.7" cy="29.7" r="3.1" fill="#e1311d"/>
<circle cx="31.8" cy="25.3" r="2.8" fill="#d9241c"/>
<circle cx="34.2" cy="22.0" r="2.5" fill="#f28b24"/>
<circle cx="19.0" cy="30.4" r="2.4" fill="#eb521f"/>
<circle cx="31.4" cy="28.9" r="3.1" fill="#ee6921"/>
<circle cx="31.8" cy="17.6" r="2.5" fill="#eb5620"/>
<circle cx="19.4" cy="21.5" r="3.0" fill="#e0301d"/>
<circle cx="20.4" cy="22.5" r="3.1" fill="#f28923"/>
<circle cx="23.0" cy="16.3" r="2.4" fill="#f39426"/>
<circle cx="26.0" cy="31.0" r="2.2" fill="#f07b22"/>
<ellipse cx="14" cy="47" rx="9" ry="11" fill="#f28c24"/>
<circle cx="16.5" cy="54.9" r="2.3" fill="#d51e1c"/>
<circle cx="21.6" cy="47.6" r="3.2" fill="#cf1a1b"/>
<circle cx="13.1" cy="49.7" r="2.1" fill="#e1311d"/>
<circle cx="17.2" cy="48.1" r="2.2" fill="#d6201c"/>
<circle cx="12.3" cy="37.4" r="2.2" fill="#d8241c"/>
<circle cx="6.9" cy="41.9" r="2.0" fill="#c81719"/>
<circle cx="6.9" cy="46.9" r="2.5" fill="#f28b24"/>
<circle cx="5.2" cy="46.4" r="3.0" fill="#f28c24"/>
<circle cx="17.3" cy="42.9" r="2.1" fill="#f28823"/>
<circle cx="14.9" cy="56.5" r="3.0" fill="#f28d24"/>
<circle cx="17.1" cy="40.5" r="2.1" fill="#e5391e"/>
<circle cx="18.4" cy="52.8" r="2.9" fill="#f07522"/>
<circle cx="6.7" cy="41.8" r="2.9" fill="#f39225"/>
<circle cx="5.3" cy="44.3" r="2.9" fill="#f39526"/>
<circle cx="6.5" cy="41.4" r="2.5" fill="#f39426"/>
<circle cx="14.3" cy="55.4" r="2.2" fill="#ea4f1f"/>
<circle cx="6.6" cy="49.9" r="3.2" fill="#c41519"/>
<circle cx="15.7" cy="45.3" r="2.8" fill="#de2c1d"/>
<circle cx="6.2" cy="45.6" r="2.6" fill="#db281d"/>
<circle cx="12.5" cy="40.7" r="3.1" fill="#e5391e"/>
<ellipse cx="32" cy="50" rx="9" ry="9" fill="#3b4bac"/>
<circle cx="25.5" cy="53.0" r="2.4" fill="#67bccd"/>
<circle cx="40.1" cy="47.1" r="2.9" fill="#6abdc7"/>
<circle cx="36.6" cy="47.1" r="2.5" fill="#7bc39f"/>
<circle cx="33.8" cy="45.4" r="3.1" fill="#5aabdf"/>
<circle cx="39.5" cy="48.3" r="2.6" fill="#5194db"/>
<ellipse cx="23" cy="71" rx="10" ry="11" fill="#f28c24"/>
<circle cx="23.1" cy="67.6" r="2.2" fill="#c61619"/>
<circle cx="17.8" cy="72.4" r="2.7" fill="#dc291d"/>
<circle cx="20.2" cy="74.0" r="2.7" fill="#ef7021"/>
<circle cx="20.2" cy="74.2" r="2.1" fill="#cd191b"/>
<circle cx="18.9" cy="67.5" r="3.1" fill="#ee6b21"/>
<circle cx="27.3" cy="80.1" r="2.7" fill="#e2331d"/>
<circle cx="30.7" cy="73.6" r="2.5" fill="#ea4c1f"/>
<circle cx="26.1" cy="80.8" r="2.4" fill="#e4371e"/>
<circle cx="29.3" cy="67.8" r="2.2" fill="#f39225"/>
<circle cx="21.9" cy="66.3" r="2.6" fill="#ee6d21"/>
<circle cx="19.9" cy="62.5" r="2.5" fill="#e83e1e"/>
<circle cx="21.6" cy="80.9" r="2.7" fill="#e0311d"/>
<circle cx="29.1" cy="76.3" r="2.3" fill="#d21b1c"/>
<circle cx="16.8" cy="67.4" r="2.9" fill="#f28d24"/>
<circle cx="29.3" cy="74.8" r="2.8" fill="#f28823"/>
<circle cx="29.7" cy="63.4" r="2.1" fill="#eb511f"/>
<circle cx="31.2" cy="73.3" r="2.7" fill="#e73d1e"/>
<circle cx="22.3" cy="80.6" r="2.3" fill="#dc291d"/>
<circle cx="22.9" cy="71.2" r="2.0" fill="#ec5a20"/>
<circle cx="15.1" cy="72.2" r="2.9" fill="#e9431e"/>
<circle cx="30.9" cy="74.5" r="2.3" fill="#ca171a"/>
<circle cx="16.9" cy="77.7" r="3.2" fill="#d41c1c"/>
<ellipse cx="44" cy="88" rx="10" ry="7" fill="#63bad8"/>
<circle cx="36.1" cy="86.8" r="2.8" fill="#f17d22"/>
<circle cx="37.6" cy="92.5" r="2.3" fill="#e0301d"/>
<circle cx="39.4" cy="88.7" r="3.1" fill="#f4a128"/>
<circle cx="48.1" cy="87.8" r="2.1" fill="#e83f1e"/>
<circle cx="47.7" cy="82.3" r="2.9" fill="#ee6c21"/>
<circle cx="38.8" cy="87.0" r="2.4" fill="#f39b27"/>
<circle cx="41.5" cy="94.3" r="3.1" fill="#f28d24"/>
<circle cx="51.9" cy="92.0" r="2.6" fill="#f5b32c"/>
</g>
<rect width="100" height="100" filter="url(#sb)"/>
<use href="#gaps"/>
<rect width="100" height="100" filter="url(#sp)"/>
<rect y="50" width="100" height="50" filter="url(#sp2)"/>
</g>
<use href="#blob" fill="none" stroke="#9090dd" stroke-width="2.4" stroke-opacity="0.85"/>
</g>
<rect x="101.10" y="440.40" width="2.4" height="33.10" fill="url(#jet)"/>
<rect x="104.40" y="439.85" width="4.4" height="1.5" fill="#a4a4a4"/>
<rect x="104.40" y="447.98" width="4.4" height="1.5" fill="#a4a4a4"/>
<rect x="104.40" y="456.10" width="4.4" height="1.5" fill="#a4a4a4"/>
<rect x="104.40" y="464.23" width="4.4" height="1.5" fill="#a4a4a4"/>
<rect x="104.40" y="472.35" width="1.6" height="1.5" fill="#a4a4a4"/>
<text x="77.6" y="435.9" font-size="7.9" text-anchor="start" fill="#111" font-weight="normal" textLength="21.200000000000003" lengthAdjust="spacingAndGlyphs" stroke="#111" stroke-width="0.12">Eomes</text>
<line x1="77.1" y1="484.0" x2="77.1" y2="508.3" stroke="#000" stroke-width="1.05"/>
<line x1="76.6" y1="507.8" x2="101.6" y2="507.8" stroke="#000" stroke-width="1.05"/>
<line x1="75.3" y1="487.8" x2="77.1" y2="487.8" stroke="#000" stroke-width="0.8"/>
<text x="71.8" y="489.6" font-size="5.2" text-anchor="end" fill="#222" font-weight="normal" textLength="6.4" lengthAdjust="spacingAndGlyphs" >40</text>
<line x1="75.3" y1="497.8" x2="77.1" y2="497.8" stroke="#000" stroke-width="0.8"/>
<text x="71.8" y="499.6" font-size="5.2" text-anchor="end" fill="#222" font-weight="normal" textLength="6.4" lengthAdjust="spacingAndGlyphs" >20</text>
<line x1="75.3" y1="507.8" x2="77.1" y2="507.8" stroke="#000" stroke-width="0.8"/>
<text x="71.8" y="509.6" font-size="5.2" text-anchor="end" fill="#222" font-weight="normal" textLength="3.5" lengthAdjust="spacingAndGlyphs" >0</text>
<line x1="84.19999999999999" y1="507.8" x2="84.19999999999999" y2="510.6" stroke="#000" stroke-width="0.8"/>
<line x1="95.0" y1="507.8" x2="95.0" y2="510.6" stroke="#000" stroke-width="0.8"/>
<line x1="84.19999999999999" y1="491.2" x2="84.19999999999999" y2="496.8" stroke="#000" stroke-width="0.9"/>
<line x1="82.39999999999999" y1="491.2" x2="85.99999999999999" y2="491.2" stroke="#000" stroke-width="0.9"/>
<rect x="80.70" y="496.80" width="7.00" height="11.00" fill="#2b4a8b" stroke="#1a3570" stroke-width="0.35"/>
<line x1="95.0" y1="495.1" x2="95.0" y2="499.0" stroke="#000" stroke-width="0.9"/>
<line x1="93.2" y1="495.1" x2="96.8" y2="495.1" stroke="#000" stroke-width="0.9"/>
<rect x="91.50" y="499.00" width="7.00" height="8.80" fill="#b0002c" stroke="#9a0026" stroke-width="0.35"/>
<line x1="83.65" y1="486.6" x2="94.35" y2="486.6" stroke="#3a3a3a" stroke-width="1.15"/>
<circle cx="89.00" cy="483.60" r="0.72" fill="#2a2a2a"/>
<rect x="118.2" y="440.2" width="27.39999999999999" height="32.80000000000001" fill="#fff" stroke="#a8a8a8" stroke-width="0.7"/>
<g transform="translate(118.70,440.70) scale(0.2640,0.3180)">
<g clip-path="url(#bc)">
<rect width="100" height="100" fill="#36399a"/>
<g filter="url(#bl)">
<ellipse cx="14" cy="47" rx="9" ry="11" fill="#3a44a6"/>
<circle cx="8.8" cy="43.0" r="3.0" fill="#5fb9e1"/>
<circle cx="8.5" cy="45.0" r="2.5" fill="#5db5e0"/>
<circle cx="12.7" cy="47.8" r="2.8" fill="#4e8cda"/>
<circle cx="16.2" cy="43.7" r="2.6" fill="#5399dc"/>
<circle cx="13.1" cy="45.7" r="2.6" fill="#5aacdf"/>
<circle cx="20.2" cy="49.3" r="2.0" fill="#6cbec3"/>
<ellipse cx="32" cy="50" rx="9" ry="9" fill="#4b85d9"/>
<circle cx="31.3" cy="52.6" r="2.4" fill="#e8d237"/>
<circle cx="34.5" cy="49.8" r="2.6" fill="#a8d157"/>
<circle cx="36.0" cy="46.2" r="3.0" fill="#e6d538"/>
<circle cx="37.6" cy="45.2" r="2.4" fill="#e3d93a"/>
<circle cx="37.9" cy="52.8" r="2.1" fill="#eec532"/>
<circle cx="36.6" cy="48.5" r="2.3" fill="#e2db3b"/>
<circle cx="32.2" cy="55.4" r="3.0" fill="#c9d847"/>
<circle cx="35.4" cy="52.3" r="2.4" fill="#e8d137"/>
<circle cx="24.3" cy="50.4" r="3.1" fill="#e9cf36"/>
<circle cx="40.6" cy="47.5" r="2.4" fill="#dddd3e"/>
<ellipse cx="46" cy="60" rx="9" ry="8" fill="#efc432"/>
<circle cx="52.6" cy="61.1" r="2.9" fill="#f3a028"/>
<circle cx="49.5" cy="56.0" r="2.1" fill="#f5b32c"/>
<circle cx="54.3" cy="59.5" r="3.0" fill="#f39e28"/>
<circle cx="39.6" cy="64.9" r="2.7" fill="#f39c27"/>
<circle cx="40.2" cy="61.6" r="2.2" fill="#f39025"/>
<circle cx="47.8" cy="62.6" r="2.6" fill="#f5b72d"/>
<circle cx="43.2" cy="53.6" r="2.8" fill="#f39a27"/>
<circle cx="50.2" cy="61.5" r="2.2" fill="#ebcb34"/>
<circle cx="43.3" cy="66.1" r="2.4" fill="#f39e28"/>
<circle cx="39.4" cy="62.2" r="2.6" fill="#f39025"/>
<circle cx="49.9" cy="58.2" r="2.5" fill="#f28923"/>
<circle cx="44.8" cy="61.7" r="2.4" fill="#f39125"/>
<circle cx="46.9" cy="53.8" r="3.0" fill="#f4a729"/>
<circle cx="46.8" cy="64.6" r="2.2" fill="#f39f28"/>
<ellipse cx="64" cy="48" rx="10" ry="6" fill="#436ccc"/>
<circle cx="67.4" cy="51.8" r="2.6" fill="#afd353"/>
<circle cx="59.9" cy="50.0" r="2.4" fill="#afd353"/>
<circle cx="62.6" cy="49.8" r="3.2" fill="#e7d337"/>
<circle cx="68.1" cy="48.2" r="2.3" fill="#c3d74a"/>
<circle cx="71.0" cy="50.1" r="2.5" fill="#e2dc3b"/>
<circle cx="61.3" cy="50.5" r="2.7" fill="#e4d83a"/>
<ellipse cx="83" cy="54" rx="10" ry="9" fill="#539adc"/>
<circle cx="88.8" cy="49.0" r="2.4" fill="#f0c231"/>
<circle cx="84.2" cy="57.1" r="2.5" fill="#efc331"/>
<circle cx="92.6" cy="56.1" r="2.8" fill="#f4a429"/>
<circle cx="83.2" cy="56.3" r="3.2" fill="#f0c331"/>
<circle cx="82.1" cy="61.9" r="2.6" fill="#f4a82a"/>
<circle cx="79.8" cy="46.7" r="2.7" fill="#e9cf36"/>
<circle cx="84.4" cy="60.0" r="3.0" fill="#f3bd2f"/>
<circle cx="83.2" cy="47.1" r="2.5" fill="#f5b22c"/>
<circle cx="78.2" cy="59.5" r="2.8" fill="#f4aa2a"/>
<circle cx="79.0" cy="59.9" r="2.2" fill="#efc431"/>
<circle cx="74.6" cy="55.0" r="3.2" fill="#e9cf36"/>
<ellipse cx="88" cy="46" rx="4" ry="5" fill="#e7d338"/>
<circle cx="85.4" cy="45.2" r="2.7" fill="#e7d237"/>
<circle cx="88.8" cy="47.2" r="2.7" fill="#efc432"/>
<circle cx="88.9" cy="45.1" r="2.1" fill="#f39f28"/>
<circle cx="85.1" cy="44.4" r="2.8" fill="#f4a128"/>
<ellipse cx="23" cy="71" rx="10" ry="11" fill="#f5b42c"/>
<circle cx="18.8" cy="73.1" r="3.1" fill="#ef6e21"/>
<circle cx="18.1" cy="64.4" r="2.9" fill="#f39125"/>
<circle cx="26.2" cy="80.7" r="3.1" fill="#f39c27"/>
<circle cx="29.1" cy="70.3" r="2.8" fill="#f4a028"/>
<circle cx="20.4" cy="63.1" r="2.0" fill="#f28d24"/>
<circle cx="27.2" cy="67.1" r="2.7" fill="#f18123"/>
<circle cx="14.3" cy="72.6" r="2.6" fill="#ee6b21"/>
<circle cx="22.1" cy="80.1" r="2.9" fill="#f4ad2b"/>
<circle cx="18.3" cy="66.4" r="2.2" fill="#f4a028"/>
<circle cx="30.7" cy="70.2" r="2.2" fill="#ed6521"/>
<circle cx="24.5" cy="74.0" r="2.3" fill="#ea501f"/>
<circle cx="20.1" cy="69.3" r="2.6" fill="#ef6f21"/>
<circle cx="29.2" cy="67.3" r="3.1" fill="#f5b22c"/>
<circle cx="24.5" cy="74.0" r="3.1" fill="#f07b22"/>
<circle cx="20.2" cy="67.5" r="2.6" fill="#e8401e"/>
<circle cx="20.2" cy="79.4" r="2.4" fill="#ef7122"/>
<circle cx="26.6" cy="70.5" r="2.6" fill="#e73c1e"/>
<circle cx="20.4" cy="73.5" r="2.3" fill="#eb5520"/>
<circle cx="24.5" cy="66.7" r="2.8" fill="#ea4d1f"/>
<circle cx="19.4" cy="65.8" r="2.7" fill="#f28623"/>
<circle cx="25.3" cy="78.1" r="2.3" fill="#ec5a20"/>
<circle cx="23.2" cy="77.9" r="3.1" fill="#f4ac2a"/>
<ellipse cx="53" cy="76" rx="9" ry="9" fill="#f4a028"/>
<circle cx="50.6" cy="82.4" r="3.1" fill="#d9241c"/>
<circle cx="50.8" cy="73.1" r="2.7" fill="#f39927"/>
<circle cx="48.6" cy="75.5" r="2.5" fill="#f39d27"/>
<circle cx="53.5" cy="81.3" r="3.0" fill="#df2e1d"/>
<circle cx="61.1" cy="74.5" r="2.3" fill="#f07822"/>
<circle cx="59.1" cy="81.9" r="3.0" fill="#f4a429"/>
<circle cx="47.9" cy="69.7" r="2.9" fill="#e2351d"/>
<circle cx="57.8" cy="69.6" r="2.5" fill="#f39025"/>
<circle cx="50.7" cy="73.7" r="3.0" fill="#f18022"/>
<circle cx="60.1" cy="73.8" r="2.1" fill="#dc291d"/>
<circle cx="57.1" cy="68.9" r="2.7" fill="#f17d22"/>
<circle cx="47.6" cy="69.5" r="2.5" fill="#e4371e"/>
<circle cx="58.0" cy="82.2" r="3.1" fill="#f28e24"/>
<circle cx="48.6" cy="75.5" r="2.6" fill="#ec5c20"/>
<circle cx="48.6" cy="83.6" r="2.9" fill="#ea4d1f"/>
<circle cx="61.9" cy="76.7" r="3.2" fill="#ec5c20"/>
<ellipse cx="70" cy="66" rx="9" ry="9" fill="#f3bd2e"/>
<circle cx="63.7" cy="67.3" r="2.1" fill="#f39626"/>
<circle cx="68.8" cy="65.3" r="2.2" fill="#f4ad2b"/>
<circle cx="70.0" cy="67.6" r="2.0" fill="#f39c27"/>
<circle cx="67.1" cy="66.2" r="2.5" fill="#ed6220"/>
<circle cx="67.7" cy="70.2" r="2.6" fill="#ed6321"/>
<circle cx="71.3" cy="71.0" r="2.1" fill="#f4bb2e"/>
<circle cx="65.5" cy="60.2" r="3.1" fill="#ee6c21"/>
<circle cx="66.1" cy="63.9" r="2.5" fill="#f28723"/>
<circle cx="72.2" cy="68.0" r="2.0" fill="#ed6521"/>
<circle cx="65.6" cy="62.0" r="2.6" fill="#f3bc2e"/>
<circle cx="66.1" cy="69.5" r="2.2" fill="#f4a529"/>
<circle cx="74.3" cy="64.6" r="2.8" fill="#f4bb2e"/>
<circle cx="65.2" cy="60.0" r="2.4" fill="#f3bd2e"/>
<circle cx="75.1" cy="69.4" r="2.6" fill="#f39526"/>
<circle cx="64.7" cy="63.4" r="2.8" fill="#efc331"/>
<circle cx="75.6" cy="72.2" r="2.9" fill="#f28f25"/>
<ellipse cx="44" cy="88" rx="10" ry="7" fill="#f5b42c"/>
<circle cx="35.8" cy="89.7" r="2.1" fill="#f28b24"/>
<circle cx="43.7" cy="93.5" r="2.8" fill="#e63a1e"/>
<circle cx="42.5" cy="92.6" r="2.0" fill="#f17f22"/>
<circle cx="51.9" cy="87.7" r="3.1" fill="#f07c22"/>
<circle cx="39.7" cy="85.9" r="3.0" fill="#ee6c21"/>
<circle cx="41.8" cy="82.0" r="2.1" fill="#e9471f"/>
<circle cx="39.6" cy="83.5" r="2.3" fill="#ef6e21"/>
<circle cx="40.6" cy="88.8" r="2.1" fill="#f4a92a"/>
<circle cx="43.1" cy="85.2" r="2.3" fill="#f17f22"/>
<circle cx="47.7" cy="83.2" r="2.4" fill="#f5b92d"/>
<circle cx="47.7" cy="93.2" r="2.5" fill="#f4a329"/>
<circle cx="34.7" cy="88.2" r="2.5" fill="#f5b92d"/>
<circle cx="47.8" cy="90.6" r="3.1" fill="#f07b22"/>
<circle cx="47.9" cy="91.8" r="3.0" fill="#f4ae2b"/>
</g>
<rect width="100" height="100" filter="url(#sb)"/>
<use href="#gaps"/>
<rect width="100" height="100" filter="url(#sp)"/>
<rect y="50" width="100" height="50" filter="url(#sp2)"/>
</g>
<use href="#blob" fill="none" stroke="#9090dd" stroke-width="2.4" stroke-opacity="0.85"/>
</g>
<rect x="145.70" y="440.60" width="2.4" height="32.00" fill="url(#jet)"/>
<rect x="149.00" y="440.05" width="4.4" height="1.5" fill="#a4a4a4"/>
<rect x="149.00" y="447.90" width="4.4" height="1.5" fill="#a4a4a4"/>
<rect x="149.00" y="455.75" width="4.4" height="1.5" fill="#a4a4a4"/>
<rect x="149.00" y="463.60" width="4.4" height="1.5" fill="#a4a4a4"/>
<rect x="149.00" y="471.45" width="1.6" height="1.5" fill="#a4a4a4"/>
<text x="121.3" y="435.9" font-size="7.9" text-anchor="start" fill="#111" font-weight="normal" textLength="23.799999999999997" lengthAdjust="spacingAndGlyphs" stroke="#111" stroke-width="0.12">Perforin</text>
<line x1="121.0" y1="484.0" x2="121.0" y2="508.3" stroke="#000" stroke-width="1.05"/>
<line x1="120.5" y1="507.8" x2="145.5" y2="507.8" stroke="#000" stroke-width="1.05"/>
<line x1="119.2" y1="487.8" x2="121.0" y2="487.8" stroke="#000" stroke-width="0.8"/>
<text x="115.7" y="489.6" font-size="5.2" text-anchor="end" fill="#222" font-weight="normal" textLength="6.4" lengthAdjust="spacingAndGlyphs" >50</text>
<line x1="119.2" y1="497.8" x2="121.0" y2="497.8" stroke="#000" stroke-width="0.8"/>
<text x="115.7" y="499.6" font-size="5.2" text-anchor="end" fill="#222" font-weight="normal" textLength="6.4" lengthAdjust="spacingAndGlyphs" >25</text>
<line x1="119.2" y1="507.8" x2="121.0" y2="507.8" stroke="#000" stroke-width="0.8"/>
<text x="115.7" y="509.6" font-size="5.2" text-anchor="end" fill="#222" font-weight="normal" textLength="3.5" lengthAdjust="spacingAndGlyphs" >0</text>
<line x1="128.1" y1="507.8" x2="128.1" y2="510.6" stroke="#000" stroke-width="0.8"/>
<line x1="138.9" y1="507.8" x2="138.9" y2="510.6" stroke="#000" stroke-width="0.8"/>
<line x1="128.1" y1="489.1" x2="128.1" y2="493.0" stroke="#000" stroke-width="0.9"/>
<line x1="126.3" y1="489.1" x2="129.9" y2="489.1" stroke="#000" stroke-width="0.9"/>
<rect x="124.60" y="493.00" width="7.00" height="14.80" fill="#2b4a8b" stroke="#1a3570" stroke-width="0.35"/>
<line x1="138.9" y1="492.1" x2="138.9" y2="496.8" stroke="#000" stroke-width="0.9"/>
<line x1="137.1" y1="492.1" x2="140.70000000000002" y2="492.1" stroke="#000" stroke-width="0.9"/>
<rect x="135.40" y="496.80" width="7.00" height="11.00" fill="#b0002c" stroke="#9a0026" stroke-width="0.35"/>
<line x1="127.55000000000001" y1="486.6" x2="138.25" y2="486.6" stroke="#3a3a3a" stroke-width="1.15"/>
<circle cx="131.90" cy="483.60" r="0.72" fill="#2a2a2a"/>
<circle cx="133.90" cy="483.60" r="0.72" fill="#2a2a2a"/>
<rect x="162.6" y="440.0" width="27.80000000000001" height="33.30000000000001" fill="#fff" stroke="#a8a8a8" stroke-width="0.7"/>
<g transform="translate(163.10,440.50) scale(0.2680,0.3230)">
<g clip-path="url(#bc)">
<rect width="100" height="100" fill="#373c9d"/>
<g filter="url(#bl)">
<ellipse cx="52" cy="13" rx="22" ry="8" fill="#3b4cae"/>
<circle cx="45.8" cy="13.8" r="2.4" fill="#6abdc6"/>
<circle cx="65.3" cy="15.7" r="2.6" fill="#436dcc"/>
<circle cx="35.1" cy="8.1" r="2.1" fill="#549edd"/>
<circle cx="62.5" cy="18.2" r="2.7" fill="#60b9df"/>
<circle cx="68.7" cy="10.1" r="2.4" fill="#539adc"/>
<circle cx="62.0" cy="7.3" r="3.1" fill="#5baedf"/>
<circle cx="65.7" cy="11.7" r="2.8" fill="#5196dc"/>
<circle cx="49.4" cy="9.2" r="2.3" fill="#59a8de"/>
<circle cx="43.5" cy="17.8" r="2.8" fill="#4677d6"/>
<circle cx="68.7" cy="12.8" r="2.3" fill="#5aacdf"/>
<circle cx="56.0" cy="19.6" r="2.9" fill="#57a3de"/>
<circle cx="56.3" cy="7.3" r="2.8" fill="#4c87d9"/>
<circle cx="50.7" cy="19.2" r="2.7" fill="#4f8fdb"/>
<circle cx="44.9" cy="10.4" r="2.6" fill="#60badd"/>
<ellipse cx="60" cy="33" rx="20" ry="8" fill="#4060c1"/>
<circle cx="58.7" cy="28.0" r="2.7" fill="#b8d54f"/>
<circle cx="56.1" cy="37.8" r="3.0" fill="#90cb6e"/>
<circle cx="63.6" cy="35.6" r="2.3" fill="#9fcf5b"/>
<circle cx="46.9" cy="35.4" r="3.0" fill="#b8d54f"/>
<circle cx="62.9" cy="34.2" r="3.0" fill="#76c1aa"/>
<circle cx="57.0" cy="26.2" r="3.0" fill="#97cd5e"/>
<circle cx="54.2" cy="34.0" r="2.4" fill="#8eca72"/>
<circle cx="71.0" cy="33.7" r="2.6" fill="#9ecf5b"/>
<circle cx="60.1" cy="26.2" r="2.3" fill="#89c87e"/>
<circle cx="64.5" cy="32.1" r="2.3" fill="#81c592"/>
<circle cx="41.2" cy="35.1" r="2.2" fill="#d4db42"/>
<circle cx="77.0" cy="33.0" r="3.0" fill="#92cb6a"/>
<circle cx="63.5" cy="32.6" r="3.0" fill="#92cc68"/>
<ellipse cx="26" cy="25" rx="9" ry="10" fill="#61badd"/>
<circle cx="25.0" cy="34.3" r="3.0" fill="#b9d54f"/>
<circle cx="32.5" cy="24.6" r="2.6" fill="#d7dc41"/>
<circle cx="31.1" cy="23.6" r="2.0" fill="#90cb6c"/>
<circle cx="21.4" cy="28.6" r="2.7" fill="#aed254"/>
<circle cx="19.9" cy="24.7" r="2.2" fill="#a1cf5a"/>
<circle cx="27.4" cy="16.3" r="2.3" fill="#9ace5d"/>
<circle cx="17.6" cy="25.7" r="2.8" fill="#e5d639"/>
<circle cx="29.1" cy="22.8" r="2.2" fill="#97cd5e"/>
<circle cx="25.0" cy="34.2" r="2.8" fill="#b5d451"/>
<circle cx="29.6" cy="27.0" r="2.4" fill="#d0da44"/>
<circle cx="19.0" cy="26.1" r="3.2" fill="#b2d352"/>
<circle cx="18.3" cy="29.9" r="2.3" fill="#c8d848"/>
<circle cx="32.4" cy="18.8" r="3.0" fill="#d5db42"/>
<circle cx="20.5" cy="24.5" r="2.8" fill="#b9d54f"/>
<circle cx="32.7" cy="21.0" r="2.2" fill="#dadc3f"/>
<circle cx="22.6" cy="21.0" r="3.0" fill="#91cb6c"/>
<ellipse cx="14" cy="47" rx="9" ry="11" fill="#f4a028"/>
<circle cx="14.5" cy="49.8" r="2.6" fill="#f4a92a"/>
<circle cx="12.8" cy="50.2" r="2.1" fill="#ea4f1f"/>
<circle cx="14.0" cy="44.4" r="2.4" fill="#f4a228"/>
<circle cx="8.7" cy="42.2" r="2.4" fill="#f17d22"/>
<circle cx="20.7" cy="44.1" r="2.4" fill="#ed6521"/>
<circle cx="16.6" cy="47.6" r="2.7" fill="#f39927"/>
<circle cx="5.8" cy="43.7" r="2.7" fill="#e3361e"/>
<circle cx="12.2" cy="56.4" r="3.1" fill="#f4a529"/>
<circle cx="11.6" cy="42.3" r="2.1" fill="#f39025"/>
<circle cx="7.7" cy="45.5" r="3.1" fill="#f18223"/>
<circle cx="11.9" cy="47.0" r="2.4" fill="#f07a22"/>
<circle cx="16.2" cy="39.5" r="2.2" fill="#d9241c"/>
<circle cx="9.5" cy="48.4" r="3.2" fill="#f39d27"/>
<circle cx="20.7" cy="44.9" r="2.3" fill="#f07b22"/>
<circle cx="19.0" cy="43.6" r="2.9" fill="#f4a82a"/>
<circle cx="21.6" cy="52.6" r="2.0" fill="#f4aa2a"/>
<circle cx="17.8" cy="44.7" r="2.4" fill="#da251d"/>
<circle cx="14.9" cy="39.7" r="2.3" fill="#da261d"/>
<circle cx="12.9" cy="45.5" r="2.0" fill="#e73c1e"/>
<circle cx="8.5" cy="52.0" r="2.6" fill="#f4a329"/>
<ellipse cx="32" cy="50" rx="9" ry="9" fill="#f28c24"/>
<circle cx="38.3" cy="48.7" r="3.0" fill="#f39526"/>
<circle cx="26.6" cy="47.4" r="2.6" fill="#e4371e"/>
<circle cx="29.0" cy="52.0" r="2.6" fill="#ee6c21"/>
<circle cx="26.4" cy="46.5" r="2.4" fill="#cf1a1b"/>
<circle cx="30.6" cy="42.4" r="2.5" fill="#f28e24"/>
<circle cx="34.9" cy="52.1" r="2.3" fill="#f39125"/>
<circle cx="35.4" cy="43.6" r="2.1" fill="#f28e24"/>
<circle cx="28.0" cy="49.0" r="3.1" fill="#ec5d20"/>
<circle cx="36.1" cy="53.0" r="2.3" fill="#e83f1e"/>
<circle cx="39.7" cy="49.7" r="2.7" fill="#ec5d20"/>
<circle cx="27.4" cy="52.7" r="2.4" fill="#f07622"/>
<circle cx="33.3" cy="48.4" r="2.8" fill="#c11318"/>
<circle cx="31.9" cy="49.3" r="2.9" fill="#ce191b"/>
<circle cx="37.1" cy="56.5" r="2.6" fill="#f28f25"/>
<circle cx="31.4" cy="58.6" r="2.2" fill="#de2c1d"/>
<circle cx="34.5" cy="52.7" r="3.0" fill="#cb181a"/>
<ellipse cx="46" cy="60" rx="9" ry="8" fill="#ed6220"/>
<circle cx="46.1" cy="57.0" r="2.8" fill="#b91016"/>
<circle cx="48.5" cy="66.1" r="2.6" fill="#bf1318"/>
<circle cx="46.5" cy="57.4" r="2.3" fill="#e83f1e"/>
<circle cx="45.3" cy="60.6" r="2.5" fill="#e63b1e"/>
<circle cx="41.6" cy="54.8" r="2.0" fill="#d8231c"/>
<circle cx="40.3" cy="57.6" r="3.0" fill="#d31c1c"/>
<circle cx="39.4" cy="58.5" r="2.8" fill="#a00511"/>
<circle cx="44.2" cy="65.9" r="2.9" fill="#e9451e"/>
<circle cx="44.7" cy="64.5" r="2.3" fill="#eb5620"/>
<circle cx="47.7" cy="62.4" r="2.2" fill="#ef7322"/>
<circle cx="50.6" cy="57.3" r="2.5" fill="#b80f16"/>
<circle cx="41.1" cy="64.0" r="3.2" fill="#e9471f"/>
<circle cx="54.9" cy="58.9" r="2.3" fill="#ae0b14"/>
<circle cx="51.2" cy="57.7" r="3.0" fill="#d9241c"/>
<ellipse cx="64" cy="48" rx="10" ry="6" fill="#5fb9e1"/>
<circle cx="68.7" cy="49.4" r="2.3" fill="#e6d438"/>
<circle cx="57.1" cy="44.8" r="2.4" fill="#d8dc40"/>
<circle cx="72.7" cy="46.6" r="2.6" fill="#e7d337"/>
<circle cx="55.6" cy="44.9" r="2.1" fill="#e6d438"/>
<circle cx="66.8" cy="46.0" r="2.1" fill="#d8dc40"/>
<circle cx="68.1" cy="46.9" r="2.5" fill="#e8d237"/>
<circle cx="63.7" cy="48.7" r="3.0" fill="#cfda44"/>
<circle cx="66.9" cy="44.6" r="3.0" fill="#a7d157"/>
<circle cx="60.3" cy="46.1" r="2.1" fill="#eacd35"/>
<circle cx="69.0" cy="51.9" r="2.8" fill="#e4d83a"/>
<ellipse cx="83" cy="54" rx="10" ry="9" fill="#4981d8"/>
<circle cx="78.8" cy="59.1" r="2.3" fill="#afd353"/>
<circle cx="85.4" cy="48.5" r="2.3" fill="#e8d237"/>
<circle cx="78.0" cy="50.3" r="3.0" fill="#b2d352"/>
<circle cx="91.0" cy="58.2" r="2.5" fill="#e1dd3c"/>
<circle cx="81.2" cy="52.2" r="3.2" fill="#94cc64"/>
<circle cx="79.7" cy="55.2" r="2.8" fill="#dcdd3e"/>
<circle cx="81.4" cy="46.5" r="2.6" fill="#c0d64c"/>
<circle cx="80.9" cy="58.3" r="2.7" fill="#e2dc3b"/>
<circle cx="74.3" cy="52.1" r="2.1" fill="#93cc67"/>
<circle cx="88.2" cy="47.3" r="3.1" fill="#9dcf5c"/>
<circle cx="81.1" cy="58.7" r="2.7" fill="#d1da43"/>
<ellipse cx="88" cy="46" rx="4" ry="5" fill="#add254"/>
<circle cx="87.7" cy="48.0" r="2.1" fill="#ecc933"/>
<circle cx="89.2" cy="43.9" r="3.1" fill="#e2dd3b"/>
<circle cx="85.6" cy="45.6" r="2.4" fill="#b3d451"/>
<circle cx="84.9" cy="45.2" r="3.1" fill="#afd353"/>
<ellipse cx="23" cy="71" rx="10" ry="11" fill="#ed6220"/>
<circle cx="31.2" cy="65.6" r="2.6" fill="#e4361e"/>
<circle cx="19.2" cy="63.0" r="2.7" fill="#ea4a1f"/>
<circle cx="24.0" cy="71.8" r="2.7" fill="#d7211c"/>
<circle cx="24.4" cy="67.2" r="2.0" fill="#ef6d21"/>
<circle cx="24.7" cy="80.1" r="2.3" fill="#e83e1e"/>
<circle cx="24.6" cy="77.5" r="2.1" fill="#de2d1d"/>
<circle cx="28.0" cy="64.2" r="3.1" fill="#e1321d"/>
<circle cx="20.3" cy="63.8" r="2.1" fill="#ef7422"/>
<circle cx="19.2" cy="66.3" r="2.1" fill="#a00511"/>
<circle cx="19.6" cy="78.8" r="2.6" fill="#e3361e"/>
<circle cx="15.4" cy="73.2" r="2.7" fill="#da261d"/>
<circle cx="14.9" cy="71.1" r="3.2" fill="#b30d15"/>
<circle cx="25.7" cy="73.2" r="2.8" fill="#bd1217"/>
<circle cx="20.1" cy="78.3" r="2.2" fill="#cb181a"/>
<circle cx="15.5" cy="71.7" r="2.7" fill="#b91016"/>
<circle cx="24.8" cy="73.2" r="2.1" fill="#da261d"/>
<circle cx="16.8" cy="71.9" r="2.1" fill="#c01318"/>
<circle cx="22.6" cy="78.0" r="2.2" fill="#bc1117"/>
<circle cx="20.5" cy="67.1" r="2.8" fill="#de2e1d"/>
<circle cx="21.0" cy="78.1" r="2.7" fill="#eb5520"/>
<circle cx="25.4" cy="61.8" r="2.1" fill="#d41d1c"/>
<circle cx="23.1" cy="64.5" r="3.0" fill="#df2e1d"/>
<ellipse cx="53" cy="76" rx="9" ry="9" fill="#ed6220"/>
<circle cx="47.8" cy="77.4" r="2.1" fill="#ed6120"/>
<circle cx="57.9" cy="74.6" r="2.3" fill="#e0301d"/>
<circle cx="49.3" cy="73.1" r="2.3" fill="#dd2c1d"/>
<circle cx="50.8" cy="67.8" r="2.8" fill="#e9421e"/>
<circle cx="48.6" cy="82.2" r="3.1" fill="#e4371e"/>
<circle cx="52.3" cy="80.4" r="3.0" fill="#d7201c"/>
<circle cx="46.9" cy="74.9" r="2.7" fill="#bd1217"/>
<circle cx="53.1" cy="68.4" r="2.1" fill="#9f0411"/>
<circle cx="55.5" cy="71.2" r="2.5" fill="#df2e1d"/>
<circle cx="54.4" cy="72.1" r="2.5" fill="#b10c15"/>
<circle cx="54.1" cy="80.7" r="3.1" fill="#ec5d20"/>
<circle cx="48.0" cy="68.9" r="2.3" fill="#ee6821"/>
<circle cx="51.7" cy="74.1" r="2.3" fill="#a60712"/>
<circle cx="52.6" cy="77.0" r="2.0" fill="#b81016"/>
<circle cx="48.0" cy="77.9" r="2.6" fill="#ac0a14"/>
<circle cx="58.9" cy="69.9" r="2.1" fill="#c61519"/>
<ellipse cx="70" cy="66" rx="9" ry="9" fill="#f07b22"/>
<circle cx="75.2" cy="59.7" r="2.3" fill="#e83f1e"/>
<circle cx="68.0" cy="65.4" r="2.8" fill="#b60e16"/>
<circle cx="69.0" cy="71.9" r="2.9" fill="#d31b1c"/>
<circle cx="75.7" cy="71.0" r="2.4" fill="#f07722"/>
<circle cx="68.2" cy="68.6" r="2.2" fill="#c61619"/>
<circle cx="72.7" cy="70.6" r="3.0" fill="#bf1218"/>
<circle cx="68.6" cy="62.6" r="2.5" fill="#e2331d"/>
<circle cx="75.8" cy="72.4" r="3.1" fill="#ec5c20"/>
<circle cx="72.2" cy="61.9" r="3.2" fill="#b10c15"/>
<circle cx="71.9" cy="59.6" r="2.5" fill="#ae0b14"/>
<circle cx="71.1" cy="68.6" r="3.2" fill="#c51519"/>
<circle cx="77.8" cy="69.6" r="2.3" fill="#e9461f"/>
<circle cx="68.8" cy="61.6" r="2.9" fill="#dd2c1d"/>
<circle cx="74.9" cy="69.3" r="2.1" fill="#c61619"/>
<circle cx="68.4" cy="60.2" r="2.2" fill="#db281d"/>
<circle cx="68.1" cy="62.7" r="3.1" fill="#ec5d20"/>
<ellipse cx="44" cy="88" rx="10" ry="7" fill="#f07b22"/>
<circle cx="42.6" cy="86.0" r="2.6" fill="#dc291d"/>
<circle cx="38.4" cy="85.3" r="3.0" fill="#ce191b"/>
<circle cx="37.5" cy="89.4" r="2.1" fill="#e9451e"/>
<circle cx="41.4" cy="87.4" r="2.4" fill="#ef6f21"/>
<circle cx="50.7" cy="89.5" r="3.1" fill="#dc2a1d"/>
<circle cx="38.0" cy="87.9" r="2.0" fill="#f28723"/>
<circle cx="34.7" cy="87.2" r="2.5" fill="#c9171a"/>
<circle cx="47.9" cy="93.7" r="2.0" fill="#cd191a"/>
<circle cx="39.8" cy="88.2" r="2.4" fill="#e0311d"/>
<circle cx="46.1" cy="85.2" r="3.0" fill="#d11a1b"/>
<circle cx="38.9" cy="82.6" r="3.2" fill="#e1331d"/>
<circle cx="42.1" cy="88.1" r="2.6" fill="#f28a24"/>
<circle cx="46.1" cy="82.0" r="2.3" fill="#ec5820"/>
<circle cx="44.9" cy="92.4" r="3.2" fill="#de2d1d"/>
</g>
<rect width="100" height="100" filter="url(#sb)"/>
<use href="#gaps"/>
<rect width="100" height="100" filter="url(#sp)"/>
<rect y="50" width="100" height="50" filter="url(#sp2)"/>
</g>
<use href="#blob" fill="none" stroke="#9090dd" stroke-width="2.4" stroke-opacity="0.85"/>
</g>
<rect x="190.50" y="440.40" width="2.4" height="32.50" fill="url(#jet)"/>
<rect x="193.80" y="439.85" width="4.4" height="1.5" fill="#a4a4a4"/>
<rect x="193.80" y="447.83" width="4.4" height="1.5" fill="#a4a4a4"/>
<rect x="193.80" y="455.80" width="4.4" height="1.5" fill="#a4a4a4"/>
<rect x="193.80" y="463.78" width="4.4" height="1.5" fill="#a4a4a4"/>
<rect x="193.80" y="471.75" width="1.6" height="1.5" fill="#a4a4a4"/>
<text x="171.8" y="435.9" font-size="7.9" text-anchor="start" fill="#111" font-weight="normal" textLength="12.5" lengthAdjust="spacingAndGlyphs" stroke="#111" stroke-width="0.12">GrA</text>
<line x1="166.0" y1="484.0" x2="166.0" y2="508.3" stroke="#000" stroke-width="1.05"/>
<line x1="165.5" y1="507.8" x2="190.5" y2="507.8" stroke="#000" stroke-width="1.05"/>
<line x1="164.2" y1="487.4" x2="166.0" y2="487.4" stroke="#000" stroke-width="0.8"/>
<text x="160.7" y="489.2" font-size="5.2" text-anchor="end" fill="#222" font-weight="normal" textLength="8.9" lengthAdjust="spacingAndGlyphs" >100</text>
<line x1="164.2" y1="497.8" x2="166.0" y2="497.8" stroke="#000" stroke-width="0.8"/>
<text x="160.7" y="499.6" font-size="5.2" text-anchor="end" fill="#222" font-weight="normal" textLength="6.4" lengthAdjust="spacingAndGlyphs" >50</text>
<line x1="164.2" y1="507.8" x2="166.0" y2="507.8" stroke="#000" stroke-width="0.8"/>
<text x="160.7" y="509.6" font-size="5.2" text-anchor="end" fill="#222" font-weight="normal" textLength="3.5" lengthAdjust="spacingAndGlyphs" >0</text>
<line x1="173.1" y1="507.8" x2="173.1" y2="510.6" stroke="#000" stroke-width="0.8"/>
<line x1="183.9" y1="507.8" x2="183.9" y2="510.6" stroke="#000" stroke-width="0.8"/>
<line x1="173.1" y1="488.3" x2="173.1" y2="491.2" stroke="#000" stroke-width="0.9"/>
<line x1="171.29999999999998" y1="488.3" x2="174.9" y2="488.3" stroke="#000" stroke-width="0.9"/>
<rect x="169.60" y="491.20" width="7.00" height="16.60" fill="#2b4a8b" stroke="#1a3570" stroke-width="0.35"/>
<line x1="183.9" y1="493.8" x2="183.9" y2="497.0" stroke="#000" stroke-width="0.9"/>
<line x1="182.1" y1="493.8" x2="185.70000000000002" y2="493.8" stroke="#000" stroke-width="0.9"/>
<rect x="180.40" y="497.00" width="7.00" height="10.80" fill="#b0002c" stroke="#9a0026" stroke-width="0.35"/>
<line x1="172.55" y1="486.6" x2="183.25" y2="486.6" stroke="#3a3a3a" stroke-width="1.15"/>
<circle cx="174.90" cy="483.60" r="0.72" fill="#2a2a2a"/>
<circle cx="176.90" cy="483.60" r="0.72" fill="#2a2a2a"/>
<circle cx="178.90" cy="483.60" r="0.72" fill="#2a2a2a"/>
<circle cx="180.90" cy="483.60" r="0.72" fill="#2a2a2a"/>
<rect x="207.4" y="440.0" width="27.400000000000006" height="33.0" fill="#fff" stroke="#a8a8a8" stroke-width="0.7"/>
<g transform="translate(207.90,440.50) scale(0.2640,0.3200)">
<g clip-path="url(#bc)">
<rect width="100" height="100" fill="#383ea0"/>
<g filter="url(#bl)">
<ellipse cx="52" cy="13" rx="22" ry="8" fill="#3f5cbd"/>
<circle cx="35.4" cy="10.7" r="2.7" fill="#65bbd3"/>
<circle cx="60.8" cy="9.8" r="2.5" fill="#559edd"/>
<circle cx="69.3" cy="8.7" r="3.1" fill="#60b9de"/>
<circle cx="31.0" cy="14.0" r="2.1" fill="#5cb1e0"/>
<circle cx="63.9" cy="9.6" r="2.1" fill="#6abdc7"/>
<circle cx="58.9" cy="13.7" r="2.9" fill="#4a83d9"/>
<circle cx="46.1" cy="11.2" r="3.2" fill="#64bbd6"/>
<circle cx="53.7" cy="8.9" r="2.7" fill="#5eb6e1"/>
<circle cx="38.8" cy="7.3" r="2.0" fill="#5194db"/>
<circle cx="55.7" cy="14.2" r="2.7" fill="#4a82d9"/>
<circle cx="45.5" cy="12.6" r="2.9" fill="#60b9e0"/>
<circle cx="70.4" cy="8.8" r="3.0" fill="#4d89da"/>
<circle cx="59.2" cy="16.3" r="3.0" fill="#5093db"/>
<circle cx="65.4" cy="14.2" r="2.5" fill="#4470d0"/>
<circle cx="63.2" cy="10.8" r="2.8" fill="#446fcf"/>
<circle cx="46.0" cy="5.4" r="2.6" fill="#4f8fda"/>
<circle cx="49.7" cy="17.3" r="3.1" fill="#5fb9e1"/>
<circle cx="39.4" cy="8.1" r="2.5" fill="#6cbec2"/>
<circle cx="56.9" cy="15.9" r="2.1" fill="#59aadf"/>
<circle cx="46.5" cy="6.1" r="2.1" fill="#436dcc"/>
<circle cx="45.1" cy="5.5" r="2.5" fill="#5195db"/>
<ellipse cx="60" cy="33" rx="20" ry="8" fill="#405dbe"/>
<circle cx="53.3" cy="30.5" r="3.0" fill="#76c1aa"/>
<circle cx="55.3" cy="27.4" r="3.0" fill="#6bbdc6"/>
<circle cx="54.6" cy="40.4" r="2.5" fill="#5cb1e0"/>
<circle cx="51.5" cy="33.7" r="3.1" fill="#4e8dda"/>
<circle cx="52.5" cy="40.3" r="2.6" fill="#6cbec3"/>
<circle cx="61.7" cy="36.0" r="2.7" fill="#5fb9e1"/>
<circle cx="77.6" cy="33.0" r="2.2" fill="#7bc3a0"/>
<circle cx="47.8" cy="27.7" r="2.6" fill="#6abdc8"/>
<circle cx="69.3" cy="28.6" r="2.8" fill="#7bc3a0"/>
<circle cx="47.6" cy="31.2" r="2.5" fill="#539bdc"/>
<circle cx="54.0" cy="27.7" r="2.6" fill="#7fc596"/>
<circle cx="57.5" cy="25.4" r="2.5" fill="#7ec497"/>
<circle cx="69.7" cy="38.9" r="2.3" fill="#6ebebe"/>
<circle cx="72.2" cy="28.3" r="2.8" fill="#72c0b4"/>
<circle cx="59.9" cy="30.6" r="2.5" fill="#7ec498"/>
<circle cx="44.3" cy="33.9" r="2.1" fill="#5298dc"/>
<ellipse cx="26" cy="25" rx="9" ry="10" fill="#4f90db"/>
<circle cx="22.3" cy="28.4" r="2.1" fill="#83c68b"/>
<circle cx="17.8" cy="21.9" r="2.7" fill="#5fb9e1"/>
<circle cx="22.9" cy="17.8" r="2.2" fill="#75c1ad"/>
<circle cx="32.9" cy="26.9" r="2.8" fill="#88c880"/>
<circle cx="22.6" cy="20.1" r="2.1" fill="#79c2a4"/>
<circle cx="27.4" cy="18.5" r="2.6" fill="#8ac97b"/>
<circle cx="21.3" cy="25.1" r="3.0" fill="#5fb8e1"/>
<circle cx="24.9" cy="32.0" r="2.7" fill="#6fbfbc"/>
<circle cx="23.0" cy="28.6" r="2.1" fill="#69bdc9"/>
<circle cx="27.4" cy="23.3" r="2.6" fill="#8ac97c"/>
<circle cx="23.6" cy="31.7" r="3.1" fill="#6fbfba"/>
<circle cx="26.2" cy="34.1" r="3.0" fill="#87c784"/>
<circle cx="31.9" cy="19.1" r="2.0" fill="#7ec497"/>
<circle cx="27.7" cy="17.4" r="2.3" fill="#86c785"/>
<circle cx="31.4" cy="26.6" r="2.2" fill="#70bfb9"/>
<circle cx="20.9" cy="30.6" r="2.1" fill="#89c87f"/>
<ellipse cx="14" cy="47" rx="9" ry="11" fill="#f28c24"/>
<circle cx="9.8" cy="51.4" r="2.7" fill="#f28723"/>
<circle cx="6.9" cy="50.6" r="2.1" fill="#f28723"/>
<circle cx="20.8" cy="52.2" r="2.7" fill="#ef7021"/>
<circle cx="12.4" cy="57.6" r="2.8" fill="#dc291d"/>
<circle cx="16.0" cy="51.1" r="2.1" fill="#f39225"/>
<circle cx="19.7" cy="39.2" r="2.8" fill="#f17d22"/>
<circle cx="8.9" cy="38.5" r="2.9" fill="#f39225"/>
<circle cx="10.2" cy="43.1" r="2.1" fill="#e73d1e"/>
<circle cx="19.7" cy="53.4" r="2.8" fill="#f39526"/>
<circle cx="13.3" cy="53.3" r="2.1" fill="#e2341d"/>
<circle cx="10.0" cy="47.9" r="2.1" fill="#e5391e"/>
<circle cx="10.5" cy="54.7" r="2.1" fill="#d11b1b"/>
<circle cx="14.1" cy="48.6" r="2.1" fill="#e1331d"/>
<circle cx="17.0" cy="42.2" r="3.1" fill="#ca181a"/>
<circle cx="5.2" cy="48.0" r="2.6" fill="#d21b1c"/>
<circle cx="18.3" cy="52.4" r="3.1" fill="#f28823"/>
<circle cx="16.1" cy="42.7" r="2.9" fill="#d41d1c"/>
<circle cx="14.0" cy="40.5" r="2.6" fill="#f28923"/>
<circle cx="20.0" cy="40.7" r="2.5" fill="#f07c22"/>
<circle cx="19.3" cy="48.4" r="2.0" fill="#e2341d"/>
<ellipse cx="32" cy="50" rx="9" ry="9" fill="#f28c24"/>
<circle cx="24.5" cy="54.6" r="2.5" fill="#e0301d"/>
<circle cx="37.1" cy="45.3" r="2.2" fill="#ee6721"/>
<circle cx="32.8" cy="42.7" r="3.2" fill="#d41c1c"/>
<circle cx="35.4" cy="57.5" r="2.9" fill="#e9421e"/>
<circle cx="26.7" cy="55.4" r="3.1" fill="#e0311d"/>
<circle cx="28.2" cy="47.0" r="2.2" fill="#e9431e"/>
<circle cx="30.9" cy="58.9" r="3.2" fill="#d7211c"/>
<circle cx="28.8" cy="53.0" r="2.2" fill="#e9421e"/>
<circle cx="40.0" cy="49.5" r="2.4" fill="#e4371e"/>
<circle cx="24.2" cy="53.8" r="2.1" fill="#e0301d"/>
<circle cx="25.7" cy="47.2" r="2.0" fill="#ed6321"/>
<circle cx="28.3" cy="52.9" r="2.0" fill="#ef6f21"/>
<circle cx="28.6" cy="58.3" r="3.1" fill="#c21418"/>
<circle cx="32.9" cy="43.9" r="2.1" fill="#d21b1c"/>
<circle cx="37.3" cy="44.0" r="2.2" fill="#ee6b21"/>
<circle cx="25.8" cy="52.3" r="2.7" fill="#f28b24"/>
<ellipse cx="46" cy="60" rx="9" ry="8" fill="#ed6220"/>
<circle cx="47.1" cy="54.3" r="2.3" fill="#db291d"/>
<circle cx="48.5" cy="55.9" r="3.2" fill="#cb181a"/>
<circle cx="44.1" cy="56.2" r="3.1" fill="#dc291d"/>
<circle cx="41.0" cy="61.1" r="2.8" fill="#ad0a14"/>
<circle cx="41.3" cy="63.6" r="3.1" fill="#e63a1e"/>
<circle cx="46.3" cy="62.3" r="2.1" fill="#ef7422"/>
<circle cx="44.8" cy="57.7" r="2.2" fill="#df2f1d"/>
<circle cx="51.7" cy="61.8" r="3.1" fill="#ae0b14"/>
<circle cx="48.2" cy="66.0" r="3.0" fill="#d21b1c"/>
<circle cx="40.9" cy="57.6" r="2.7" fill="#d31c1c"/>
<circle cx="38.8" cy="59.7" r="2.6" fill="#d51d1c"/>
<circle cx="47.6" cy="63.6" r="3.0" fill="#e9441e"/>
<circle cx="48.8" cy="63.7" r="2.7" fill="#e5391e"/>
<circle cx="38.9" cy="59.0" r="3.1" fill="#e1321d"/>
<ellipse cx="64" cy="48" rx="10" ry="6" fill="#5bafdf"/>
<circle cx="68.8" cy="43.2" r="2.8" fill="#92cc68"/>
<circle cx="62.6" cy="44.2" r="2.7" fill="#c3d74a"/>
<circle cx="61.3" cy="42.6" r="2.2" fill="#8eca73"/>
<circle cx="67.5" cy="51.3" r="2.7" fill="#b2d352"/>
<circle cx="66.7" cy="49.5" r="2.0" fill="#aad256"/>
<circle cx="71.2" cy="51.5" r="3.0" fill="#88c87f"/>
<circle cx="60.7" cy="43.7" r="2.5" fill="#8eca71"/>
<circle cx="71.8" cy="50.2" r="3.0" fill="#e6d538"/>
<circle cx="73.5" cy="48.9" r="2.7" fill="#e3da3a"/>
<circle cx="59.7" cy="50.7" r="2.8" fill="#aed254"/>
<ellipse cx="83" cy="54" rx="10" ry="9" fill="#4061c1"/>
<circle cx="74.2" cy="56.5" r="2.1" fill="#59a9df"/>
<circle cx="87.3" cy="51.7" r="2.4" fill="#83c68d"/>
<circle cx="81.9" cy="46.7" r="2.4" fill="#5eb6e1"/>
<circle cx="85.7" cy="58.7" r="2.3" fill="#5aacdf"/>
<circle cx="87.2" cy="59.5" r="3.0" fill="#7bc39e"/>
<circle cx="87.0" cy="50.4" r="2.8" fill="#539bdc"/>
<circle cx="83.6" cy="45.6" r="3.0" fill="#57a5de"/>
<circle cx="86.6" cy="48.4" r="2.3" fill="#77c2a7"/>
<circle cx="82.6" cy="47.3" r="2.2" fill="#5298dc"/>
<ellipse cx="23" cy="71" rx="10" ry="11" fill="#ed6220"/>
<circle cx="17.2" cy="67.6" r="2.3" fill="#ba1016"/>
<circle cx="16.8" cy="78.7" r="2.2" fill="#e73d1e"/>
<circle cx="26.6" cy="80.7" r="2.1" fill="#bb1117"/>
<circle cx="21.4" cy="78.3" r="2.4" fill="#d21b1c"/>
<circle cx="30.0" cy="66.2" r="3.0" fill="#e3361e"/>
<circle cx="23.8" cy="71.8" r="2.6" fill="#d41d1c"/>
<circle cx="23.1" cy="75.0" r="2.8" fill="#d31c1c"/>
<circle cx="32.1" cy="75.4" r="2.6" fill="#e2331d"/>
<circle cx="17.5" cy="66.0" r="2.7" fill="#ea491f"/>
<circle cx="30.6" cy="71.3" r="2.0" fill="#e63b1e"/>
<circle cx="23.5" cy="72.8" r="2.7" fill="#bc1117"/>
<circle cx="22.1" cy="69.2" r="3.0" fill="#de2d1d"/>
<circle cx="24.4" cy="71.8" r="2.3" fill="#e8421e"/>
<circle cx="25.9" cy="66.9" r="2.2" fill="#ae0b14"/>
<circle cx="16.9" cy="76.1" r="2.4" fill="#ae0b14"/>
<circle cx="29.1" cy="64.2" r="2.5" fill="#be1217"/>
<circle cx="15.8" cy="64.2" r="2.9" fill="#b70f16"/>
<circle cx="22.9" cy="66.2" r="2.3" fill="#e8401e"/>
<circle cx="32.1" cy="70.4" r="3.2" fill="#be1217"/>
<circle cx="29.7" cy="63.2" r="3.1" fill="#ab0913"/>
<circle cx="18.6" cy="80.0" r="3.1" fill="#b50e15"/>
<circle cx="19.6" cy="79.8" r="2.6" fill="#d51f1c"/>
<ellipse cx="53" cy="76" rx="9" ry="9" fill="#ed6220"/>
<circle cx="55.3" cy="74.4" r="2.9" fill="#a30612"/>
<circle cx="50.2" cy="79.0" r="2.8" fill="#e9421e"/>
<circle cx="51.1" cy="81.6" r="2.2" fill="#dd2b1d"/>
<circle cx="58.2" cy="79.0" r="2.8" fill="#d9251d"/>
<circle cx="47.5" cy="82.2" r="2.0" fill="#e53a1e"/>
<circle cx="52.7" cy="75.8" r="2.8" fill="#ab0a13"/>
<circle cx="46.0" cy="80.7" r="2.4" fill="#ea501f"/>
<circle cx="49.5" cy="76.6" r="2.2" fill="#e4371e"/>
<circle cx="52.4" cy="70.8" r="3.2" fill="#c41519"/>
<circle cx="58.5" cy="71.1" r="2.5" fill="#e0301d"/>
<circle cx="58.3" cy="69.0" r="2.7" fill="#c71619"/>
<circle cx="49.2" cy="68.6" r="2.1" fill="#e9441e"/>
<circle cx="51.1" cy="71.5" r="3.2" fill="#de2d1d"/>
<circle cx="47.3" cy="69.4" r="2.6" fill="#e9451f"/>
<circle cx="51.0" cy="81.7" r="2.5" fill="#ef7322"/>
<circle cx="55.0" cy="83.1" r="2.6" fill="#d41d1c"/>
<ellipse cx="70" cy="66" rx="9" ry="9" fill="#f07b22"/>
<circle cx="71.7" cy="58.3" r="2.1" fill="#b80f16"/>
<circle cx="74.0" cy="62.5" r="2.0" fill="#f17e22"/>
<circle cx="71.4" cy="58.8" r="3.1" fill="#f07722"/>
<circle cx="65.9" cy="63.3" r="2.1" fill="#df2f1d"/>
<circle cx="67.7" cy="62.7" r="2.6" fill="#da271d"/>
<circle cx="63.1" cy="70.6" r="3.1" fill="#ee6c21"/>
<circle cx="75.0" cy="68.5" r="2.7" fill="#e1331d"/>
<circle cx="69.2" cy="64.3" r="2.5" fill="#df2e1d"/>
<circle cx="72.4" cy="63.8" r="2.6" fill="#b91016"/>
<circle cx="69.7" cy="69.9" r="2.7" fill="#ee6821"/>
<circle cx="72.2" cy="61.5" r="2.8" fill="#e8411e"/>
<circle cx="69.5" cy="66.2" r="2.9" fill="#d8231c"/>
<circle cx="65.7" cy="69.5" r="2.6" fill="#e5391e"/>
<circle cx="72.5" cy="63.1" r="2.7" fill="#af0b14"/>
<circle cx="66.4" cy="68.7" r="2.0" fill="#d9241c"/>
<circle cx="62.3" cy="66.9" r="2.7" fill="#ee6c21"/>
<ellipse cx="44" cy="88" rx="10" ry="7" fill="#f07b22"/>
<circle cx="43.4" cy="91.0" r="2.3" fill="#e73c1e"/>
<circle cx="44.6" cy="84.3" r="3.0" fill="#f28623"/>
<circle cx="50.3" cy="88.8" r="2.5" fill="#de2d1d"/>
<circle cx="40.2" cy="82.7" r="2.3" fill="#ee6721"/>
<circle cx="47.6" cy="92.3" r="2.4" fill="#d01a1b"/>
<circle cx="39.8" cy="84.1" r="2.8" fill="#e8411e"/>
<circle cx="36.0" cy="86.8" r="3.0" fill="#f28423"/>
<circle cx="46.3" cy="89.8" r="2.1" fill="#f18223"/>
<circle cx="41.6" cy="84.0" r="3.2" fill="#cc191a"/>
<circle cx="51.6" cy="92.4" r="3.0" fill="#c51519"/>
<circle cx="45.1" cy="91.9" r="2.3" fill="#b80f16"/>
<circle cx="49.2" cy="84.2" r="3.0" fill="#c01318"/>
<circle cx="40.7" cy="87.4" r="2.9" fill="#e63a1e"/>
<circle cx="43.3" cy="82.9" r="2.7" fill="#d41c1c"/>
</g>
<rect width="100" height="100" filter="url(#sb)"/>
<use href="#gaps"/>
<rect width="100" height="100" filter="url(#sp)"/>
<rect y="50" width="100" height="50" filter="url(#sp2)"/>
</g>
<use href="#blob" fill="none" stroke="#9090dd" stroke-width="2.4" stroke-opacity="0.85"/>
</g>
<rect x="234.90" y="440.40" width="2.4" height="32.20" fill="url(#jet)"/>
<rect x="238.20" y="439.85" width="4.4" height="1.5" fill="#a4a4a4"/>
<rect x="238.20" y="447.75" width="4.4" height="1.5" fill="#a4a4a4"/>
<rect x="238.20" y="455.65" width="4.4" height="1.5" fill="#a4a4a4"/>
<rect x="238.20" y="463.55" width="4.4" height="1.5" fill="#a4a4a4"/>
<rect x="238.20" y="471.45" width="1.6" height="1.5" fill="#a4a4a4"/>
<text x="216.1" y="435.9" font-size="7.9" text-anchor="start" fill="#111" font-weight="normal" textLength="12.5" lengthAdjust="spacingAndGlyphs" stroke="#111" stroke-width="0.12">GrB</text>
<line x1="210.4" y1="484.0" x2="210.4" y2="508.3" stroke="#000" stroke-width="1.05"/>
<line x1="209.9" y1="507.8" x2="234.9" y2="507.8" stroke="#000" stroke-width="1.05"/>
<line x1="208.6" y1="487.4" x2="210.4" y2="487.4" stroke="#000" stroke-width="0.8"/>
<text x="205.1" y="489.2" font-size="5.2" text-anchor="end" fill="#222" font-weight="normal" textLength="8.9" lengthAdjust="spacingAndGlyphs" >100</text>
<line x1="208.6" y1="497.8" x2="210.4" y2="497.8" stroke="#000" stroke-width="0.8"/>
<text x="205.1" y="499.6" font-size="5.2" text-anchor="end" fill="#222" font-weight="normal" textLength="6.4" lengthAdjust="spacingAndGlyphs" >50</text>
<line x1="208.6" y1="507.8" x2="210.4" y2="507.8" stroke="#000" stroke-width="0.8"/>
<text x="205.1" y="509.6" font-size="5.2" text-anchor="end" fill="#222" font-weight="normal" textLength="3.5" lengthAdjust="spacingAndGlyphs" >0</text>
<line x1="217.5" y1="507.8" x2="217.5" y2="510.6" stroke="#000" stroke-width="0.8"/>
<line x1="228.3" y1="507.8" x2="228.3" y2="510.6" stroke="#000" stroke-width="0.8"/>
<line x1="217.5" y1="488.0" x2="217.5" y2="489.0" stroke="#000" stroke-width="0.9"/>
<line x1="215.7" y1="488.0" x2="219.3" y2="488.0" stroke="#000" stroke-width="0.9"/>
<rect x="214.00" y="489.00" width="7.00" height="18.80" fill="#2b4a8b" stroke="#1a3570" stroke-width="0.35"/>
<line x1="228.3" y1="493.0" x2="228.3" y2="497.7" stroke="#000" stroke-width="0.9"/>
<line x1="226.5" y1="493.0" x2="230.10000000000002" y2="493.0" stroke="#000" stroke-width="0.9"/>
<rect x="224.80" y="497.70" width="7.00" height="10.10" fill="#b0002c" stroke="#9a0026" stroke-width="0.35"/>
<line x1="216.95000000000002" y1="486.6" x2="227.65" y2="486.6" stroke="#3a3a3a" stroke-width="1.15"/>
<circle cx="219.30" cy="483.60" r="0.72" fill="#2a2a2a"/>
<circle cx="221.30" cy="483.60" r="0.72" fill="#2a2a2a"/>
<circle cx="223.30" cy="483.60" r="0.72" fill="#2a2a2a"/>
<circle cx="225.30" cy="483.60" r="0.72" fill="#2a2a2a"/>
<rect x="252.1" y="440.3" width="27.900000000000006" height="33.599999999999966" fill="#fff" stroke="#a8a8a8" stroke-width="0.7"/>
<g transform="translate(252.60,440.80) scale(0.2690,0.3260)">
<g clip-path="url(#bc)">
<rect width="100" height="100" fill="#383ea0"/>
<g filter="url(#bl)">
<ellipse cx="52" cy="13" rx="22" ry="8" fill="#4061c1"/>
<circle cx="38.7" cy="16.9" r="2.7" fill="#436dcd"/>
<circle cx="32.7" cy="15.7" r="3.0" fill="#58a6de"/>
<circle cx="43.4" cy="8.3" r="2.7" fill="#4676d5"/>
<circle cx="45.9" cy="20.5" r="3.1" fill="#56a2de"/>
<circle cx="70.6" cy="9.1" r="2.6" fill="#539adc"/>
<circle cx="52.7" cy="13.6" r="3.2" fill="#61badb"/>
<circle cx="45.6" cy="15.1" r="2.4" fill="#5cb0e0"/>
<circle cx="70.1" cy="17.4" r="2.1" fill="#4678d7"/>
<circle cx="45.0" cy="9.2" r="3.2" fill="#5aabdf"/>
<circle cx="49.5" cy="18.5" r="2.3" fill="#5aabdf"/>
<circle cx="70.3" cy="14.2" r="2.4" fill="#5fb9e1"/>
<circle cx="62.1" cy="6.8" r="2.7" fill="#436ccc"/>
<circle cx="44.4" cy="12.0" r="2.7" fill="#6abdc7"/>
<circle cx="36.5" cy="9.4" r="2.7" fill="#436bcb"/>
<circle cx="70.5" cy="12.3" r="3.0" fill="#4575d4"/>
<circle cx="36.9" cy="17.9" r="2.6" fill="#58a6de"/>
<circle cx="65.1" cy="15.0" r="2.9" fill="#56a3de"/>
<circle cx="51.2" cy="13.1" r="2.7" fill="#5196dc"/>
<circle cx="47.1" cy="19.4" r="2.0" fill="#436bcb"/>
<circle cx="59.9" cy="11.3" r="2.5" fill="#4575d4"/>
<circle cx="60.6" cy="6.3" r="3.1" fill="#4c87d9"/>
<circle cx="58.0" cy="10.3" r="2.1" fill="#58a7de"/>
<circle cx="52.3" cy="8.0" r="2.6" fill="#59aadf"/>
<circle cx="51.6" cy="15.5" r="2.4" fill="#436ccc"/>
<circle cx="43.0" cy="20.1" r="2.3" fill="#436dcc"/>
<ellipse cx="60" cy="33" rx="20" ry="8" fill="#405dbe"/>
<circle cx="52.9" cy="32.2" r="2.5" fill="#4f90db"/>
<circle cx="64.9" cy="37.2" r="2.5" fill="#5eb5e0"/>
<circle cx="51.6" cy="29.4" r="2.5" fill="#61badc"/>
<circle cx="53.6" cy="33.5" r="2.8" fill="#7ec499"/>
<circle cx="68.2" cy="38.4" r="2.5" fill="#74c1b0"/>
<circle cx="58.1" cy="33.2" r="2.6" fill="#4c86d9"/>
<circle cx="53.0" cy="30.2" r="2.3" fill="#64bbd4"/>
<circle cx="45.3" cy="27.9" r="2.2" fill="#6fbfba"/>
<circle cx="53.3" cy="25.8" r="2.9" fill="#72c0b4"/>
<circle cx="79.1" cy="34.1" r="2.7" fill="#62badb"/>
<circle cx="52.4" cy="32.3" r="2.5" fill="#61badc"/>
<circle cx="66.6" cy="40.5" r="2.3" fill="#6fbfbb"/>
<circle cx="64.9" cy="29.5" r="2.2" fill="#66bbd1"/>
<circle cx="65.7" cy="38.5" r="3.0" fill="#5baedf"/>
<circle cx="53.6" cy="39.4" r="2.4" fill="#4b85d9"/>
<circle cx="51.2" cy="29.2" r="2.0" fill="#63bad8"/>
<ellipse cx="26" cy="25" rx="9" ry="10" fill="#66bccf"/>
<circle cx="27.6" cy="25.8" r="2.3" fill="#d8dc40"/>
<circle cx="20.4" cy="18.9" r="2.4" fill="#ccd946"/>
<circle cx="29.9" cy="23.3" r="2.7" fill="#b6d450"/>
<circle cx="22.8" cy="32.0" r="3.1" fill="#ecca34"/>
<circle cx="25.2" cy="17.2" r="2.1" fill="#ecc934"/>
<circle cx="23.4" cy="16.9" r="2.8" fill="#b6d450"/>
<circle cx="26.8" cy="19.2" r="2.2" fill="#e3da3a"/>
<circle cx="26.4" cy="21.5" r="2.6" fill="#dedd3d"/>
<circle cx="32.2" cy="19.5" r="2.5" fill="#f1c130"/>
<circle cx="26.9" cy="24.8" r="2.6" fill="#d0da44"/>
<circle cx="26.9" cy="33.6" r="2.0" fill="#f2bf2f"/>
<circle cx="22.3" cy="28.0" r="2.2" fill="#f5b82d"/>
<circle cx="30.8" cy="31.2" r="3.0" fill="#f5b82d"/>
<circle cx="29.2" cy="28.6" r="2.3" fill="#e9cf36"/>
<ellipse cx="14" cy="47" rx="9" ry="11" fill="#f4aa2a"/>
<circle cx="15.5" cy="56.5" r="2.5" fill="#ed6120"/>
<circle cx="15.7" cy="49.6" r="2.1" fill="#f4a329"/>
<circle cx="12.4" cy="49.2" r="2.4" fill="#e9471f"/>
<circle cx="10.7" cy="49.0" r="2.3" fill="#f18323"/>
<circle cx="13.2" cy="39.6" r="2.4" fill="#f5b12b"/>
<circle cx="9.5" cy="40.6" r="2.4" fill="#ec5820"/>
<circle cx="20.7" cy="43.7" r="3.0" fill="#e0301d"/>
<circle cx="17.3" cy="56.5" r="2.3" fill="#f28423"/>
<circle cx="15.9" cy="39.0" r="2.5" fill="#e5391e"/>
<circle cx="10.8" cy="56.6" r="3.2" fill="#f28b24"/>
<circle cx="21.0" cy="49.4" r="3.1" fill="#f5b12b"/>
<circle cx="10.6" cy="46.3" r="2.6" fill="#f39c27"/>
<circle cx="18.0" cy="54.9" r="3.0" fill="#de2d1d"/>
<circle cx="16.9" cy="55.9" r="2.8" fill="#e63b1e"/>
<circle cx="16.2" cy="53.4" r="3.1" fill="#f4ac2a"/>
<circle cx="11.0" cy="43.4" r="3.1" fill="#ed6220"/>
<circle cx="10.2" cy="48.4" r="2.1" fill="#ea4d1f"/>
<circle cx="20.1" cy="51.7" r="2.1" fill="#f17f22"/>
<circle cx="16.9" cy="56.7" r="2.6" fill="#f39025"/>
<circle cx="19.3" cy="38.9" r="2.1" fill="#ed6020"/>
<ellipse cx="32" cy="50" rx="9" ry="9" fill="#ebcc35"/>
<circle cx="27.6" cy="56.0" r="2.1" fill="#f1c030"/>
<circle cx="35.6" cy="46.5" r="2.4" fill="#f0c231"/>
<circle cx="28.3" cy="48.6" r="2.1" fill="#ebcc35"/>
<circle cx="34.0" cy="44.2" r="2.4" fill="#f5b42c"/>
<circle cx="33.8" cy="54.5" r="2.2" fill="#f5b72d"/>
<circle cx="39.4" cy="50.7" r="3.0" fill="#f2bf2f"/>
<circle cx="38.6" cy="52.5" r="3.1" fill="#f39b27"/>
<circle cx="24.4" cy="48.8" r="3.1" fill="#f0c231"/>
<circle cx="31.9" cy="52.7" r="3.1" fill="#f4a228"/>
<circle cx="26.8" cy="47.1" r="3.1" fill="#f39726"/>
<circle cx="31.9" cy="45.9" r="2.6" fill="#f4ab2a"/>
<circle cx="37.4" cy="46.0" r="3.0" fill="#f4ba2e"/>
<circle cx="25.1" cy="53.5" r="2.4" fill="#f4a82a"/>
<circle cx="34.0" cy="43.2" r="2.0" fill="#f5b72d"/>
<circle cx="40.3" cy="46.6" r="2.2" fill="#f17e22"/>
<circle cx="32.2" cy="55.0" r="2.0" fill="#f18023"/>
<ellipse cx="46" cy="60" rx="9" ry="8" fill="#ebcc35"/>
<circle cx="53.6" cy="61.3" r="3.2" fill="#edc733"/>
<circle cx="40.4" cy="60.8" r="2.5" fill="#f4a429"/>
<circle cx="46.0" cy="66.8" r="2.5" fill="#ebcb34"/>
<circle cx="54.2" cy="60.5" r="2.0" fill="#f39927"/>
<circle cx="45.3" cy="59.1" r="2.6" fill="#f28b24"/>
<circle cx="44.6" cy="59.1" r="3.0" fill="#f4ae2b"/>
<circle cx="38.3" cy="57.4" r="2.9" fill="#f28c24"/>
<circle cx="47.8" cy="59.7" r="3.1" fill="#f4af2b"/>
<circle cx="47.1" cy="67.5" r="2.5" fill="#f39f28"/>
<circle cx="42.0" cy="60.8" r="2.1" fill="#f39025"/>
<circle cx="48.1" cy="53.7" r="2.9" fill="#f5b52c"/>
<circle cx="43.9" cy="64.8" r="2.8" fill="#f4ba2e"/>
<circle cx="50.5" cy="53.9" r="2.7" fill="#f3bd2f"/>
<circle cx="47.8" cy="62.9" r="2.1" fill="#ebcb34"/>
<ellipse cx="64" cy="48" rx="10" ry="6" fill="#3f5cbd"/>
<circle cx="66.9" cy="50.1" r="2.2" fill="#88c880"/>
<circle cx="61.1" cy="44.9" r="2.7" fill="#7ec498"/>
<circle cx="65.7" cy="42.4" r="2.3" fill="#8bc979"/>
<circle cx="63.2" cy="51.7" r="2.9" fill="#8bc978"/>
<circle cx="67.8" cy="48.5" r="2.2" fill="#7ac3a2"/>
<ellipse cx="83" cy="54" rx="10" ry="9" fill="#4164c4"/>
<circle cx="75.8" cy="48.5" r="2.6" fill="#62bada"/>
<circle cx="88.2" cy="48.2" r="2.9" fill="#6ebebf"/>
<circle cx="84.2" cy="52.1" r="2.0" fill="#72c0b4"/>
<circle cx="90.6" cy="55.8" r="2.6" fill="#77c2a9"/>
<circle cx="88.7" cy="49.5" r="2.3" fill="#8bc97a"/>
<circle cx="78.1" cy="56.7" r="3.1" fill="#57a3de"/>
<circle cx="75.3" cy="57.5" r="2.9" fill="#64bbd5"/>
<circle cx="82.4" cy="53.0" r="2.1" fill="#5bafdf"/>
<circle cx="91.0" cy="56.8" r="2.5" fill="#91cb6a"/>
<ellipse cx="88" cy="46" rx="4" ry="5" fill="#e7d338"/>
<circle cx="88.1" cy="50.0" r="2.8" fill="#f4ab2a"/>
<circle cx="88.8" cy="41.7" r="2.3" fill="#e8d237"/>
<circle cx="89.0" cy="47.2" r="2.3" fill="#eccb34"/>
<circle cx="88.7" cy="46.2" r="2.2" fill="#f5b52c"/>
<ellipse cx="23" cy="71" rx="10" ry="11" fill="#f4a028"/>
<circle cx="27.9" cy="63.4" r="2.8" fill="#eb5520"/>
<circle cx="32.0" cy="71.6" r="3.0" fill="#f39225"/>
<circle cx="24.2" cy="61.3" r="2.8" fill="#da271d"/>
<circle cx="22.7" cy="74.1" r="2.1" fill="#ed6321"/>
<circle cx="17.6" cy="75.8" r="2.8" fill="#e4371e"/>
<circle cx="19.5" cy="61.7" r="3.0" fill="#e4371e"/>
<circle cx="22.8" cy="66.1" r="3.1" fill="#f39426"/>
<circle cx="20.4" cy="76.9" r="3.2" fill="#dc291d"/>
<circle cx="30.4" cy="77.5" r="2.4" fill="#e5391e"/>
<circle cx="21.4" cy="67.3" r="2.8" fill="#e9481f"/>
<circle cx="25.6" cy="78.5" r="2.2" fill="#e9461f"/>
<circle cx="28.9" cy="72.7" r="2.5" fill="#e9431e"/>
<circle cx="25.0" cy="64.6" r="2.4" fill="#f28923"/>
<circle cx="17.9" cy="70.7" r="3.0" fill="#f39d27"/>
<circle cx="26.6" cy="65.9" r="2.5" fill="#ec5e20"/>
<circle cx="21.5" cy="79.8" r="2.7" fill="#ee6c21"/>
<circle cx="17.4" cy="72.9" r="2.7" fill="#f39d27"/>
<circle cx="19.5" cy="61.9" r="3.0" fill="#db291d"/>
<circle cx="29.0" cy="76.6" r="2.1" fill="#f4a529"/>
<circle cx="25.7" cy="71.4" r="2.7" fill="#f07622"/>
<circle cx="27.1" cy="78.3" r="3.0" fill="#f4a629"/>
<circle cx="26.7" cy="67.4" r="2.0" fill="#f39927"/>
<ellipse cx="53" cy="76" rx="9" ry="9" fill="#f5b42c"/>
<circle cx="47.2" cy="75.2" r="3.1" fill="#f28b24"/>
<circle cx="53.8" cy="80.0" r="2.9" fill="#ec5e20"/>
<circle cx="54.7" cy="74.6" r="2.0" fill="#f39426"/>
<circle cx="52.2" cy="81.2" r="2.1" fill="#ee6b21"/>
<circle cx="51.7" cy="81.9" r="2.8" fill="#f39927"/>
<circle cx="60.6" cy="72.2" r="2.4" fill="#ed6521"/>
<circle cx="47.3" cy="73.2" r="2.6" fill="#e73c1e"/>
<circle cx="61.5" cy="75.3" r="2.7" fill="#ea4e1f"/>
<circle cx="57.3" cy="73.5" r="2.2" fill="#f4a228"/>
<circle cx="51.4" cy="76.1" r="3.2" fill="#f39e28"/>
<circle cx="52.8" cy="76.0" r="2.1" fill="#f39e28"/>
<circle cx="56.4" cy="75.1" r="2.4" fill="#f07722"/>
<circle cx="55.9" cy="74.0" r="3.0" fill="#f4b02b"/>
<circle cx="55.7" cy="68.9" r="2.8" fill="#f4a128"/>
<circle cx="49.9" cy="81.5" r="2.4" fill="#f28423"/>
<circle cx="51.3" cy="80.2" r="3.1" fill="#eb5520"/>
<ellipse cx="70" cy="66" rx="9" ry="9" fill="#f4aa2a"/>
<circle cx="68.0" cy="72.9" r="3.2" fill="#f28c24"/>
<circle cx="66.3" cy="68.8" r="2.2" fill="#f28d24"/>
<circle cx="74.3" cy="66.8" r="2.8" fill="#f39626"/>
<circle cx="66.7" cy="61.1" r="2.5" fill="#f39d27"/>
<circle cx="69.6" cy="62.5" r="3.1" fill="#f4a92a"/>
<circle cx="67.8" cy="73.0" r="2.8" fill="#f07522"/>
<circle cx="75.9" cy="63.0" r="2.1" fill="#f4a529"/>
<circle cx="67.7" cy="60.9" r="3.1" fill="#f07a22"/>
<circle cx="69.5" cy="67.7" r="3.0" fill="#f4ab2a"/>
<circle cx="72.0" cy="73.9" r="2.6" fill="#f4a729"/>
<circle cx="62.5" cy="67.5" r="2.4" fill="#ec5b20"/>
<circle cx="61.8" cy="67.9" r="2.7" fill="#f28c24"/>
<circle cx="69.3" cy="72.2" r="2.2" fill="#e9481f"/>
<circle cx="67.8" cy="71.2" r="2.2" fill="#f4ac2a"/>
<circle cx="70.9" cy="63.9" r="2.7" fill="#ec5920"/>
<circle cx="67.0" cy="63.4" r="2.6" fill="#e1321d"/>
<ellipse cx="44" cy="88" rx="10" ry="7" fill="#f28c24"/>
<circle cx="38.9" cy="92.9" r="2.6" fill="#f07622"/>
<circle cx="51.6" cy="89.3" r="2.0" fill="#f28923"/>
<circle cx="35.0" cy="89.3" r="2.2" fill="#ec5c20"/>
<circle cx="51.4" cy="92.5" r="2.5" fill="#d7211c"/>
<circle cx="34.7" cy="87.4" r="2.6" fill="#d51d1c"/>
<circle cx="51.5" cy="88.8" r="2.5" fill="#da271d"/>
<circle cx="47.9" cy="84.1" r="2.3" fill="#e5391e"/>
<circle cx="46.6" cy="94.2" r="3.1" fill="#c01318"/>
<circle cx="39.0" cy="88.0" r="2.3" fill="#f39325"/>
<circle cx="53.7" cy="86.6" r="2.6" fill="#d51e1c"/>
<circle cx="44.5" cy="85.6" r="2.7" fill="#e2341d"/>
<circle cx="51.0" cy="90.9" r="2.1" fill="#f28723"/>
<circle cx="44.8" cy="94.5" r="2.6" fill="#e4371e"/>
<circle cx="52.1" cy="91.1" r="2.9" fill="#f39125"/>
<path d="M8,36 C24,40 40,46 54,52 C66,58 76,64 88,70" fill="none" stroke="#353898" stroke-width="3.6"/>
</g>
<rect width="100" height="100" filter="url(#sb)"/>
<use href="#gaps"/>
<rect width="100" height="100" filter="url(#sp)"/>
<rect y="50" width="100" height="50" filter="url(#sp2)"/>
</g>
<use href="#blob" fill="none" stroke="#9090dd" stroke-width="2.4" stroke-opacity="0.85"/>
</g>
<rect x="280.10" y="440.70" width="2.4" height="32.80" fill="url(#jet)"/>
<rect x="283.40" y="440.15" width="4.4" height="1.5" fill="#a4a4a4"/>
<rect x="283.40" y="448.20" width="4.4" height="1.5" fill="#a4a4a4"/>
<rect x="283.40" y="456.25" width="4.4" height="1.5" fill="#a4a4a4"/>
<rect x="283.40" y="464.30" width="4.4" height="1.5" fill="#a4a4a4"/>
<rect x="283.40" y="472.35" width="1.6" height="1.5" fill="#a4a4a4"/>
<text x="256.1" y="435.9" font-size="7.9" text-anchor="start" fill="#111" font-weight="normal" textLength="22.099999999999966" lengthAdjust="spacingAndGlyphs" stroke="#111" stroke-width="0.12">ZAP70</text>
<line x1="255.6" y1="484.0" x2="255.6" y2="508.3" stroke="#000" stroke-width="1.05"/>
<line x1="255.1" y1="507.8" x2="280.1" y2="507.8" stroke="#000" stroke-width="1.05"/>
<line x1="253.79999999999998" y1="488.6" x2="255.6" y2="488.6" stroke="#000" stroke-width="0.8"/>
<text x="250.29999999999998" y="490.40000000000003" font-size="5.2" text-anchor="end" fill="#222" font-weight="normal" textLength="8.9" lengthAdjust="spacingAndGlyphs" >100</text>
<line x1="253.79999999999998" y1="498.2" x2="255.6" y2="498.2" stroke="#000" stroke-width="0.8"/>
<text x="250.29999999999998" y="500.0" font-size="5.2" text-anchor="end" fill="#222" font-weight="normal" textLength="6.4" lengthAdjust="spacingAndGlyphs" >50</text>
<line x1="253.79999999999998" y1="507.8" x2="255.6" y2="507.8" stroke="#000" stroke-width="0.8"/>
<text x="250.29999999999998" y="509.6" font-size="5.2" text-anchor="end" fill="#222" font-weight="normal" textLength="3.5" lengthAdjust="spacingAndGlyphs" >0</text>
<line x1="262.7" y1="507.8" x2="262.7" y2="510.6" stroke="#000" stroke-width="0.8"/>
<line x1="273.5" y1="507.8" x2="273.5" y2="510.6" stroke="#000" stroke-width="0.8"/>
<line x1="262.7" y1="489.1" x2="262.7" y2="490.9" stroke="#000" stroke-width="0.9"/>
<line x1="260.9" y1="489.1" x2="264.5" y2="489.1" stroke="#000" stroke-width="0.9"/>
<rect x="259.20" y="490.90" width="7.00" height="16.90" fill="#2b4a8b" stroke="#1a3570" stroke-width="0.35"/>
<line x1="273.5" y1="489.1" x2="273.5" y2="490.4" stroke="#000" stroke-width="0.9"/>
<line x1="271.7" y1="489.1" x2="275.3" y2="489.1" stroke="#000" stroke-width="0.9"/>
<rect x="270.00" y="490.40" width="7.00" height="17.40" fill="#b0002c" stroke="#9a0026" stroke-width="0.35"/>
<line x1="262.15" y1="486.6" x2="272.85" y2="486.6" stroke="#3a3a3a" stroke-width="1.15"/>
<text x="267.2" y="484.40000000000003" font-size="4.8" text-anchor="middle" fill="#333" font-weight="normal" textLength="7.2" lengthAdjust="spacingAndGlyphs" >NS</text>
<rect x="297.3" y="440.0" width="27.399999999999977" height="33.0" fill="#fff" stroke="#a8a8a8" stroke-width="0.7"/>
<g transform="translate(297.80,440.50) scale(0.2640,0.3200)">
<g clip-path="url(#bc)">
<rect width="100" height="100" fill="#3a46a7"/>
<g filter="url(#bl)">
<ellipse cx="52" cy="13" rx="22" ry="8" fill="#dadc3f"/>
<circle cx="59.6" cy="20.0" r="3.1" fill="#ecc934"/>
<circle cx="44.1" cy="13.1" r="2.8" fill="#f4ad2b"/>
<circle cx="49.5" cy="14.9" r="2.2" fill="#f0c130"/>
<circle cx="63.9" cy="7.6" r="2.9" fill="#f5b22c"/>
<circle cx="45.1" cy="11.2" r="2.5" fill="#e5d739"/>
<circle cx="65.9" cy="12.4" r="2.4" fill="#f4af2b"/>
<circle cx="40.0" cy="17.2" r="2.7" fill="#e4d839"/>
<circle cx="44.3" cy="8.2" r="2.3" fill="#f4bb2e"/>
<circle cx="40.2" cy="18.8" r="2.9" fill="#f4ae2b"/>
<circle cx="49.6" cy="10.1" r="2.0" fill="#f4ae2b"/>
<circle cx="67.2" cy="13.8" r="3.0" fill="#f5b62c"/>
<circle cx="67.7" cy="11.5" r="2.8" fill="#dddd3e"/>
<circle cx="48.5" cy="20.2" r="3.0" fill="#e7d338"/>
<circle cx="65.7" cy="12.5" r="3.0" fill="#e8d037"/>
<circle cx="32.5" cy="12.4" r="2.5" fill="#e4d83a"/>
<circle cx="33.9" cy="11.9" r="2.6" fill="#f5b62c"/>
<circle cx="30.9" cy="15.1" r="2.9" fill="#e6d538"/>
<circle cx="64.8" cy="14.5" r="3.1" fill="#d2db43"/>
<circle cx="35.3" cy="11.4" r="3.1" fill="#ebcc35"/>
<circle cx="38.1" cy="18.6" r="2.4" fill="#f4aa2a"/>
<circle cx="63.6" cy="13.5" r="2.4" fill="#e4d83a"/>
<circle cx="66.8" cy="18.4" r="2.1" fill="#f4a82a"/>
<circle cx="55.9" cy="7.1" r="2.4" fill="#ceda45"/>
<circle cx="58.4" cy="13.9" r="3.0" fill="#d1da43"/>
<circle cx="37.9" cy="15.7" r="2.3" fill="#f4ac2a"/>
<circle cx="50.3" cy="17.3" r="2.8" fill="#eace36"/>
<circle cx="53.1" cy="16.6" r="2.0" fill="#f5b32c"/>
<circle cx="46.2" cy="20.4" r="2.7" fill="#f5b82d"/>
<circle cx="51.5" cy="18.3" r="2.9" fill="#d9dc40"/>
<circle cx="44.2" cy="10.6" r="2.7" fill="#f4ac2a"/>
<circle cx="34.4" cy="10.8" r="3.0" fill="#cdda45"/>
<circle cx="66.7" cy="12.4" r="2.9" fill="#f5b92d"/>
<circle cx="62.0" cy="7.8" r="2.7" fill="#dfde3d"/>
<circle cx="51.9" cy="18.9" r="2.7" fill="#f5b92d"/>
<circle cx="72.0" cy="12.9" r="3.0" fill="#f4bb2e"/>
<ellipse cx="60" cy="33" rx="20" ry="8" fill="#bcd64d"/>
<circle cx="48.9" cy="37.3" r="3.2" fill="#cdd945"/>
<circle cx="75.7" cy="37.7" r="3.2" fill="#c5d849"/>
<circle cx="59.4" cy="30.6" r="2.5" fill="#f3be2f"/>
<circle cx="69.7" cy="28.9" r="3.0" fill="#f5b72d"/>
<circle cx="51.1" cy="33.2" r="3.1" fill="#e6d538"/>
<circle cx="44.8" cy="35.6" r="2.7" fill="#c1d74b"/>
<circle cx="59.8" cy="36.4" r="2.7" fill="#e9cf36"/>
<circle cx="52.1" cy="26.4" r="2.2" fill="#ecca34"/>
<circle cx="64.4" cy="31.1" r="2.4" fill="#bad54e"/>
<circle cx="59.1" cy="31.4" r="2.5" fill="#f1c130"/>
<circle cx="52.3" cy="27.0" r="2.4" fill="#eec632"/>
<circle cx="50.3" cy="39.6" r="2.2" fill="#f3bd2f"/>
<circle cx="64.1" cy="40.3" r="2.2" fill="#f5b72d"/>
<circle cx="73.9" cy="29.2" r="2.3" fill="#f5b92d"/>
<circle cx="59.8" cy="33.6" r="2.1" fill="#efc432"/>
<circle cx="65.3" cy="28.0" r="3.0" fill="#e5d639"/>
<circle cx="59.3" cy="31.8" r="2.9" fill="#e5d739"/>
<circle cx="59.8" cy="37.4" r="2.1" fill="#b0d353"/>
<circle cx="61.6" cy="28.4" r="2.6" fill="#ecca34"/>
<circle cx="75.8" cy="37.1" r="2.5" fill="#c1d74b"/>
<circle cx="74.4" cy="28.1" r="2.4" fill="#f1c130"/>
<circle cx="47.7" cy="29.4" r="3.0" fill="#e6d438"/>
<circle cx="50.1" cy="35.9" r="2.0" fill="#b1d352"/>
<circle cx="53.0" cy="37.7" r="2.3" fill="#e4d83a"/>
<circle cx="79.1" cy="31.4" r="3.2" fill="#e5d739"/>
<circle cx="57.0" cy="28.8" r="2.8" fill="#f0c231"/>
<circle cx="66.8" cy="35.9" r="2.4" fill="#f0c231"/>
<circle cx="51.0" cy="31.1" r="3.2" fill="#afd353"/>
<circle cx="59.3" cy="37.5" r="2.6" fill="#b3d452"/>
<circle cx="66.9" cy="27.2" r="2.9" fill="#bfd64c"/>
<circle cx="59.9" cy="34.2" r="2.3" fill="#e4d83a"/>
<circle cx="41.5" cy="33.6" r="2.6" fill="#c8d848"/>
<ellipse cx="78" cy="24" rx="8" ry="10" fill="#3c50b1"/>
<circle cx="78.2" cy="28.4" r="2.8" fill="#3943a5"/>
<circle cx="76.9" cy="21.4" r="2.4" fill="#405fbf"/>
<circle cx="73.6" cy="25.5" r="2.4" fill="#3e58b9"/>
<circle cx="74.2" cy="29.9" r="2.2" fill="#405ebf"/>
<circle cx="70.6" cy="26.8" r="3.2" fill="#4678d7"/>
<circle cx="72.2" cy="17.6" r="2.1" fill="#4060c0"/>
<circle cx="82.3" cy="25.8" r="2.7" fill="#3d54b5"/>
<circle cx="78.1" cy="20.5" r="2.9" fill="#4471d0"/>
<ellipse cx="26" cy="25" rx="9" ry="10" fill="#f39125"/>
<circle cx="26.7" cy="25.0" r="3.2" fill="#f28e24"/>
<circle cx="19.9" cy="32.0" r="2.8" fill="#d7211c"/>
<circle cx="23.8" cy="19.0" r="2.5" fill="#f39025"/>
<circle cx="20.5" cy="20.8" r="2.5" fill="#da271d"/>
<circle cx="26.7" cy="21.1" r="2.1" fill="#c51519"/>
<circle cx="32.7" cy="26.3" r="3.0" fill="#ec5c20"/>
<circle cx="19.0" cy="28.1" r="3.2" fill="#ec5a20"/>
<circle cx="31.6" cy="22.0" r="2.4" fill="#e0311d"/>
<circle cx="32.1" cy="18.5" r="2.5" fill="#ee6721"/>
<circle cx="23.6" cy="16.6" r="2.3" fill="#ea4b1f"/>
<circle cx="30.5" cy="31.7" r="2.8" fill="#ed6321"/>
<circle cx="22.5" cy="27.7" r="2.9" fill="#ea4c1f"/>
<circle cx="20.5" cy="29.5" r="2.2" fill="#e4371e"/>
<circle cx="23.5" cy="17.0" r="2.8" fill="#ea4d1f"/>
<circle cx="27.4" cy="17.9" r="2.6" fill="#f07c22"/>
<circle cx="27.3" cy="34.4" r="3.1" fill="#f39325"/>
<circle cx="30.4" cy="27.0" r="2.9" fill="#f39626"/>
<circle cx="32.5" cy="25.6" r="2.1" fill="#e1331d"/>
<ellipse cx="14" cy="47" rx="9" ry="11" fill="#f4aa2a"/>
<circle cx="9.8" cy="54.2" r="2.6" fill="#f4a82a"/>
<circle cx="16.7" cy="53.3" r="2.9" fill="#f39927"/>
<circle cx="22.5" cy="48.9" r="2.7" fill="#e9471f"/>
<circle cx="10.8" cy="46.5" r="3.0" fill="#f4a729"/>
<circle cx="13.1" cy="56.6" r="2.4" fill="#f39927"/>
<circle cx="9.6" cy="54.8" r="2.1" fill="#f4a629"/>
<circle cx="7.1" cy="48.7" r="3.2" fill="#eb521f"/>
<circle cx="13.1" cy="48.3" r="2.1" fill="#f28d24"/>
<circle cx="12.9" cy="48.1" r="2.6" fill="#e73c1e"/>
<circle cx="8.9" cy="41.9" r="2.6" fill="#f4ac2a"/>
<circle cx="16.2" cy="50.8" r="2.0" fill="#e9441e"/>
<circle cx="9.7" cy="51.4" r="2.3" fill="#f39726"/>
<circle cx="17.9" cy="48.3" r="3.1" fill="#f4a629"/>
<circle cx="13.7" cy="40.4" r="2.4" fill="#f4a92a"/>
<circle cx="5.6" cy="44.7" r="2.9" fill="#f18022"/>
<circle cx="11.0" cy="40.7" r="2.1" fill="#ea4c1f"/>
<circle cx="11.1" cy="48.4" r="2.1" fill="#e1321d"/>
<circle cx="16.7" cy="38.6" r="2.8" fill="#f28923"/>
<circle cx="15.6" cy="51.0" r="2.2" fill="#e0311d"/>
<circle cx="10.6" cy="44.5" r="3.0" fill="#f39626"/>
<ellipse cx="32" cy="50" rx="9" ry="9" fill="#ebcc35"/>
<circle cx="35.8" cy="47.2" r="3.2" fill="#f4ab2a"/>
<circle cx="34.4" cy="55.8" r="2.6" fill="#f4a92a"/>
<circle cx="35.9" cy="46.5" r="2.3" fill="#ecc933"/>
<circle cx="34.6" cy="44.1" r="2.3" fill="#f4a529"/>
<circle cx="39.0" cy="54.1" r="3.1" fill="#f2be2f"/>
<circle cx="36.7" cy="50.6" r="3.2" fill="#ebcc35"/>
<circle cx="38.3" cy="48.9" r="3.2" fill="#f1c130"/>
<circle cx="35.1" cy="41.9" r="2.8" fill="#f2be2f"/>
<circle cx="33.4" cy="58.7" r="2.6" fill="#f5b22c"/>
<circle cx="33.2" cy="42.1" r="2.3" fill="#f4bb2e"/>
<circle cx="33.3" cy="41.5" r="2.6" fill="#f4aa2a"/>
<circle cx="25.5" cy="54.5" r="2.1" fill="#f0c230"/>
<circle cx="26.8" cy="52.8" r="3.1" fill="#f39325"/>
<circle cx="27.7" cy="55.1" r="2.5" fill="#f2be2f"/>
<circle cx="39.5" cy="52.7" r="2.5" fill="#f28c24"/>
<circle cx="33.5" cy="52.9" r="2.6" fill="#f39d27"/>
<ellipse cx="46" cy="60" rx="9" ry="8" fill="#e3da3a"/>
<circle cx="53.1" cy="61.0" r="3.1" fill="#f39e28"/>
<circle cx="44.9" cy="56.9" r="2.7" fill="#e4d839"/>
<circle cx="47.4" cy="63.4" r="2.1" fill="#ecc934"/>
<circle cx="39.4" cy="56.5" r="2.5" fill="#f5b42c"/>
<circle cx="48.5" cy="65.1" r="3.1" fill="#e9d036"/>
<circle cx="39.0" cy="59.5" r="2.6" fill="#ebcb34"/>
<circle cx="45.0" cy="62.4" r="2.2" fill="#f4af2b"/>
<circle cx="52.0" cy="61.6" r="2.8" fill="#e7d338"/>
<circle cx="39.9" cy="57.8" r="2.8" fill="#e5d739"/>
<circle cx="41.1" cy="58.4" r="2.2" fill="#f5b92d"/>
<circle cx="52.2" cy="57.1" r="2.9" fill="#f39726"/>
<circle cx="38.6" cy="63.9" r="2.8" fill="#f4bb2e"/>
<circle cx="43.8" cy="55.8" r="2.6" fill="#e6d438"/>
<circle cx="40.3" cy="55.4" r="2.4" fill="#e7d438"/>
<ellipse cx="64" cy="48" rx="10" ry="6" fill="#add254"/>
<circle cx="65.1" cy="51.9" r="2.4" fill="#ebcc35"/>
<circle cx="68.6" cy="46.7" r="3.1" fill="#efc532"/>
<circle cx="67.2" cy="49.7" r="2.2" fill="#a6d157"/>
<circle cx="68.2" cy="48.0" r="2.9" fill="#c3d74a"/>
<circle cx="58.8" cy="52.1" r="3.0" fill="#c8d847"/>
<circle cx="71.3" cy="45.3" r="2.8" fill="#bed64c"/>
<circle cx="59.5" cy="43.2" r="3.1" fill="#e8d037"/>
<circle cx="62.1" cy="51.3" r="2.4" fill="#e8d237"/>
<circle cx="61.2" cy="44.9" r="3.1" fill="#ebcc35"/>
<circle cx="65.0" cy="46.9" r="3.1" fill="#edc833"/>
<circle cx="70.0" cy="47.9" r="3.2" fill="#eec532"/>
<circle cx="58.6" cy="45.9" r="2.5" fill="#f0c231"/>
<ellipse cx="83" cy="54" rx="10" ry="9" fill="#bcd64d"/>
<circle cx="75.3" cy="56.0" r="2.6" fill="#e9d036"/>
<circle cx="73.3" cy="55.3" r="3.0" fill="#cad947"/>
<circle cx="75.7" cy="55.9" r="2.2" fill="#f1c030"/>
<circle cx="82.4" cy="49.3" r="3.1" fill="#c6d849"/>
<circle cx="80.2" cy="53.7" r="2.1" fill="#e5d739"/>
<circle cx="78.1" cy="50.6" r="3.1" fill="#efc331"/>
<circle cx="81.5" cy="52.1" r="2.6" fill="#bdd64d"/>
<circle cx="87.3" cy="50.3" r="3.1" fill="#e2dd3b"/>
<circle cx="88.1" cy="49.9" r="2.4" fill="#c1d74b"/>
<circle cx="78.7" cy="48.7" r="2.5" fill="#e4d93a"/>
<circle cx="89.0" cy="53.1" r="2.7" fill="#f3bd2f"/>
<circle cx="76.4" cy="51.0" r="2.6" fill="#add254"/>
<circle cx="92.0" cy="55.5" r="2.9" fill="#c9d947"/>
<circle cx="82.3" cy="47.2" r="2.9" fill="#f4bb2e"/>
<circle cx="87.1" cy="50.7" r="2.0" fill="#f3bd2f"/>
<circle cx="77.2" cy="49.0" r="2.3" fill="#eec733"/>
<circle cx="74.6" cy="50.8" r="2.2" fill="#f4ba2e"/>
<circle cx="86.1" cy="48.2" r="2.0" fill="#dadc3f"/>
<ellipse cx="88" cy="46" rx="4" ry="5" fill="#e7d338"/>
<circle cx="87.6" cy="43.5" r="2.1" fill="#f2bf2f"/>
<circle cx="86.3" cy="50.0" r="2.6" fill="#e9cf36"/>
<circle cx="86.6" cy="45.6" r="2.6" fill="#f4a92a"/>
<circle cx="88.1" cy="50.6" r="2.9" fill="#e4d839"/>
<ellipse cx="23" cy="71" rx="10" ry="11" fill="#f4aa2a"/>
<circle cx="28.5" cy="75.2" r="3.0" fill="#ea4f1f"/>
<circle cx="31.5" cy="74.8" r="2.5" fill="#f39a27"/>
<circle cx="21.8" cy="78.2" r="2.5" fill="#f28723"/>
<circle cx="15.3" cy="70.7" r="2.4" fill="#e63a1e"/>
<circle cx="26.8" cy="76.4" r="2.8" fill="#f39d27"/>
<circle cx="16.7" cy="70.6" r="2.8" fill="#f28b24"/>
<circle cx="25.7" cy="63.4" r="2.6" fill="#f39526"/>
<circle cx="13.9" cy="67.0" r="2.9" fill="#f39426"/>
<circle cx="14.1" cy="69.0" r="2.6" fill="#ec5d20"/>
<circle cx="21.9" cy="66.6" r="2.6" fill="#ed6421"/>
<circle cx="25.3" cy="73.8" r="3.2" fill="#eb5520"/>
<circle cx="26.1" cy="68.0" r="2.1" fill="#eb501f"/>
<circle cx="24.4" cy="80.6" r="2.2" fill="#eb5620"/>
<circle cx="24.4" cy="60.3" r="2.1" fill="#f4aa2a"/>
<circle cx="20.8" cy="72.2" r="3.1" fill="#f4af2b"/>
<circle cx="29.5" cy="66.5" r="2.5" fill="#f4ac2a"/>
<circle cx="27.1" cy="64.6" r="2.7" fill="#f39826"/>
<circle cx="22.8" cy="74.8" r="3.0" fill="#e4381e"/>
<circle cx="26.0" cy="77.1" r="2.7" fill="#f39826"/>
<circle cx="15.9" cy="72.7" r="2.1" fill="#ea4b1f"/>
<circle cx="26.9" cy="73.5" r="2.0" fill="#ea4f1f"/>
<circle cx="14.5" cy="69.6" r="2.3" fill="#f4af2b"/>
<ellipse cx="53" cy="76" rx="9" ry="9" fill="#ebcc35"/>
<circle cx="47.6" cy="82.4" r="2.2" fill="#f4a329"/>
<circle cx="52.1" cy="75.6" r="2.3" fill="#f4a82a"/>
<circle cx="49.3" cy="77.8" r="2.9" fill="#f39025"/>
<circle cx="57.8" cy="77.2" r="3.0" fill="#edc833"/>
<circle cx="55.6" cy="77.9" r="3.1" fill="#e8d137"/>
<circle cx="44.9" cy="74.7" r="2.9" fill="#f3bd2f"/>
<circle cx="58.9" cy="79.7" r="2.1" fill="#edc733"/>
<circle cx="49.5" cy="79.6" r="2.4" fill="#f4a228"/>
<circle cx="58.2" cy="73.2" r="2.9" fill="#ecc934"/>
<circle cx="52.8" cy="78.5" r="2.0" fill="#f4bb2e"/>
<circle cx="56.3" cy="77.0" r="2.8" fill="#eec632"/>
<circle cx="59.9" cy="75.7" r="3.1" fill="#e7d337"/>
<circle cx="55.7" cy="77.0" r="2.4" fill="#f5b92d"/>
<circle cx="52.1" cy="71.1" r="3.1" fill="#f18023"/>
<circle cx="51.1" cy="72.1" r="2.7" fill="#f2be2f"/>
<circle cx="60.3" cy="76.7" r="3.2" fill="#f07b22"/>
<ellipse cx="70" cy="66" rx="9" ry="9" fill="#f3bd2e"/>
<circle cx="67.2" cy="67.6" r="2.8" fill="#f39426"/>
<circle cx="64.9" cy="69.3" r="3.1" fill="#f07922"/>
<circle cx="65.6" cy="62.4" r="2.6" fill="#f5b52c"/>
<circle cx="64.6" cy="66.9" r="3.0" fill="#ed6321"/>
<circle cx="71.5" cy="65.0" r="2.9" fill="#f28e24"/>
<circle cx="67.1" cy="60.5" r="3.2" fill="#f2be2f"/>
<circle cx="72.4" cy="57.5" r="2.7" fill="#f4aa2a"/>
<circle cx="68.5" cy="62.3" r="3.1" fill="#f5ba2d"/>
<circle cx="73.6" cy="67.3" r="2.5" fill="#ea4e1f"/>
<circle cx="67.6" cy="57.4" r="3.2" fill="#f3bd2f"/>
<circle cx="66.2" cy="72.3" r="2.1" fill="#f39426"/>
<circle cx="69.9" cy="61.1" r="2.6" fill="#f07522"/>
<circle cx="77.0" cy="60.8" r="2.4" fill="#ed5f20"/>
<circle cx="64.1" cy="63.2" r="2.8" fill="#f4ac2a"/>
<circle cx="75.7" cy="68.2" r="2.6" fill="#ea501f"/>
<circle cx="76.2" cy="70.4" r="2.4" fill="#ed6020"/>
<ellipse cx="44" cy="88" rx="10" ry="7" fill="#f4aa2a"/>
<circle cx="35.5" cy="91.6" r="2.9" fill="#e8401e"/>
<circle cx="53.0" cy="88.5" r="2.4" fill="#ec5e20"/>
<circle cx="47.6" cy="87.7" r="2.7" fill="#e73c1e"/>
<circle cx="44.2" cy="82.0" r="2.6" fill="#f4aa2a"/>
<circle cx="50.4" cy="87.3" r="2.6" fill="#f28b24"/>
<circle cx="44.9" cy="91.7" r="2.2" fill="#f39526"/>
<circle cx="42.6" cy="84.9" r="2.7" fill="#ec5a20"/>
<circle cx="39.9" cy="89.0" r="3.2" fill="#e63b1e"/>
<circle cx="41.6" cy="86.7" r="2.7" fill="#f07622"/>
<circle cx="41.3" cy="86.8" r="3.2" fill="#f4a028"/>
<circle cx="48.9" cy="87.5" r="2.4" fill="#ee6921"/>
<circle cx="45.1" cy="93.6" r="2.1" fill="#f4a629"/>
<circle cx="49.8" cy="85.7" r="2.8" fill="#f4ab2a"/>
<circle cx="45.6" cy="87.6" r="2.3" fill="#f39225"/>
<path d="M8,36 C24,40 40,46 54,52 C66,58 76,64 88,70" fill="none" stroke="#353898" stroke-width="3.6"/>
</g>
<rect width="100" height="100" filter="url(#sb)"/>
<use href="#gaps"/>
<rect width="100" height="100" filter="url(#sp)"/>
<rect y="50" width="100" height="50" filter="url(#sp2)"/>
</g>
<use href="#blob" fill="none" stroke="#9090dd" stroke-width="2.4" stroke-opacity="0.85"/>
</g>
<rect x="324.80" y="440.40" width="2.4" height="32.20" fill="url(#jet)"/>
<rect x="328.10" y="439.85" width="4.4" height="1.5" fill="#a4a4a4"/>
<rect x="328.10" y="447.75" width="4.4" height="1.5" fill="#a4a4a4"/>
<rect x="328.10" y="455.65" width="4.4" height="1.5" fill="#a4a4a4"/>
<rect x="328.10" y="463.55" width="4.4" height="1.5" fill="#a4a4a4"/>
<rect x="328.10" y="471.45" width="1.6" height="1.5" fill="#a4a4a4"/>
<text x="306.5" y="435.9" font-size="7.9" text-anchor="start" fill="#111" font-weight="normal" textLength="10.899999999999977" lengthAdjust="spacingAndGlyphs" stroke="#111" stroke-width="0.12">Syk</text>
<line x1="299.9" y1="484.0" x2="299.9" y2="508.3" stroke="#000" stroke-width="1.05"/>
<line x1="299.4" y1="507.8" x2="324.4" y2="507.8" stroke="#000" stroke-width="1.05"/>
<line x1="298.09999999999997" y1="488.0" x2="299.9" y2="488.0" stroke="#000" stroke-width="0.8"/>
<text x="294.59999999999997" y="489.8" font-size="5.2" text-anchor="end" fill="#222" font-weight="normal" textLength="8.9" lengthAdjust="spacingAndGlyphs" >100</text>
<line x1="298.09999999999997" y1="497.9" x2="299.9" y2="497.9" stroke="#000" stroke-width="0.8"/>
<text x="294.59999999999997" y="499.7" font-size="5.2" text-anchor="end" fill="#222" font-weight="normal" textLength="6.4" lengthAdjust="spacingAndGlyphs" >50</text>
<line x1="298.09999999999997" y1="507.8" x2="299.9" y2="507.8" stroke="#000" stroke-width="0.8"/>
<text x="294.59999999999997" y="509.6" font-size="5.2" text-anchor="end" fill="#222" font-weight="normal" textLength="3.5" lengthAdjust="spacingAndGlyphs" >0</text>
<line x1="307.0" y1="507.8" x2="307.0" y2="510.6" stroke="#000" stroke-width="0.8"/>
<line x1="317.79999999999995" y1="507.8" x2="317.79999999999995" y2="510.6" stroke="#000" stroke-width="0.8"/>
<line x1="307.0" y1="488.0" x2="307.0" y2="489.5" stroke="#000" stroke-width="0.9"/>
<line x1="305.2" y1="488.0" x2="308.8" y2="488.0" stroke="#000" stroke-width="0.9"/>
<rect x="303.50" y="489.50" width="7.00" height="18.30" fill="#2b4a8b" stroke="#1a3570" stroke-width="0.35"/>
<line x1="317.79999999999995" y1="487.8" x2="317.79999999999995" y2="488.8" stroke="#000" stroke-width="0.9"/>
<line x1="315.99999999999994" y1="487.8" x2="319.59999999999997" y2="487.8" stroke="#000" stroke-width="0.9"/>
<rect x="314.30" y="488.80" width="7.00" height="19.00" fill="#b0002c" stroke="#9a0026" stroke-width="0.35"/>
<line x1="306.44999999999993" y1="486.6" x2="317.15" y2="486.6" stroke="#3a3a3a" stroke-width="1.15"/>
<circle cx="310.80" cy="483.60" r="0.72" fill="#2a2a2a"/>
<circle cx="312.80" cy="483.60" r="0.72" fill="#2a2a2a"/>
<rect x="341.8" y="440.5" width="27.69999999999999" height="32.5" fill="#fff" stroke="#a8a8a8" stroke-width="0.7"/>
<g transform="translate(342.30,441.00) scale(0.2670,0.3150)">
<g clip-path="url(#bc)">
<rect width="100" height="100" fill="#3a46a7"/>
<g filter="url(#bl)">
<ellipse cx="52" cy="13" rx="22" ry="8" fill="#bcd64d"/>
<circle cx="54.9" cy="17.8" r="2.1" fill="#e8d137"/>
<circle cx="69.0" cy="13.1" r="2.5" fill="#d9dc40"/>
<circle cx="66.9" cy="14.8" r="2.9" fill="#c3d74a"/>
<circle cx="58.2" cy="7.7" r="2.2" fill="#eec532"/>
<circle cx="57.4" cy="9.3" r="2.8" fill="#dcdd3e"/>
<circle cx="52.1" cy="18.0" r="2.5" fill="#efc432"/>
<circle cx="54.4" cy="11.8" r="2.7" fill="#b4d451"/>
<circle cx="33.5" cy="10.8" r="2.3" fill="#b1d352"/>
<circle cx="35.6" cy="11.7" r="2.6" fill="#e1de3c"/>
<circle cx="63.0" cy="19.9" r="2.2" fill="#e9cf36"/>
<circle cx="41.4" cy="18.9" r="3.2" fill="#e7d438"/>
<circle cx="55.6" cy="20.2" r="2.9" fill="#c1d74b"/>
<circle cx="62.1" cy="9.2" r="2.9" fill="#b3d352"/>
<circle cx="34.0" cy="11.3" r="2.2" fill="#e5d639"/>
<circle cx="73.7" cy="14.2" r="3.0" fill="#d4db42"/>
<circle cx="53.9" cy="15.6" r="3.1" fill="#dfde3d"/>
<circle cx="65.2" cy="14.8" r="2.3" fill="#d1da43"/>
<circle cx="36.5" cy="12.8" r="2.0" fill="#f5b72d"/>
<circle cx="62.4" cy="19.3" r="2.4" fill="#e3db3b"/>
<circle cx="44.7" cy="9.0" r="2.4" fill="#efc432"/>
<circle cx="60.1" cy="9.1" r="2.1" fill="#eec632"/>
<circle cx="73.1" cy="14.9" r="2.2" fill="#ecca34"/>
<circle cx="39.0" cy="10.3" r="3.1" fill="#c8d848"/>
<circle cx="68.1" cy="13.0" r="2.7" fill="#ecc934"/>
<circle cx="46.4" cy="8.3" r="2.9" fill="#c7d848"/>
<circle cx="59.5" cy="9.0" r="2.7" fill="#eec532"/>
<circle cx="43.9" cy="19.4" r="3.1" fill="#c2d74a"/>
<circle cx="45.1" cy="5.4" r="2.7" fill="#e8d137"/>
<circle cx="35.9" cy="7.6" r="2.2" fill="#e6d438"/>
<circle cx="54.5" cy="12.3" r="2.9" fill="#c5d849"/>
<circle cx="59.0" cy="13.4" r="2.4" fill="#f3bd2f"/>
<circle cx="60.4" cy="16.8" r="2.9" fill="#ecca34"/>
<circle cx="40.5" cy="17.2" r="2.6" fill="#ecca34"/>
<circle cx="53.8" cy="7.4" r="2.3" fill="#aed354"/>
<circle cx="38.0" cy="16.6" r="2.5" fill="#e4d93a"/>
<ellipse cx="60" cy="33" rx="20" ry="8" fill="#92cc68"/>
<circle cx="43.6" cy="36.5" r="2.4" fill="#92cc68"/>
<circle cx="50.7" cy="26.2" r="2.3" fill="#aed254"/>
<circle cx="63.3" cy="39.7" r="2.0" fill="#e7d337"/>
<circle cx="56.5" cy="32.4" r="3.2" fill="#d4db42"/>
<circle cx="67.2" cy="32.1" r="2.6" fill="#bed64c"/>
<circle cx="50.5" cy="40.0" r="2.9" fill="#e6d538"/>
<circle cx="49.0" cy="32.0" r="2.6" fill="#e4d93a"/>
<circle cx="69.1" cy="27.6" r="2.0" fill="#bcd64d"/>
<circle cx="44.5" cy="37.6" r="2.6" fill="#a1cf5a"/>
<circle cx="66.5" cy="27.0" r="3.1" fill="#90cb6d"/>
<circle cx="64.2" cy="28.1" r="2.4" fill="#94cc64"/>
<circle cx="66.4" cy="26.1" r="2.9" fill="#97cd5e"/>
<circle cx="77.7" cy="31.8" r="2.8" fill="#d2db43"/>
<circle cx="54.0" cy="31.5" r="2.5" fill="#acd255"/>
<circle cx="67.0" cy="35.1" r="3.2" fill="#e4d83a"/>
<circle cx="60.9" cy="39.4" r="2.9" fill="#a5d058"/>
<circle cx="52.8" cy="38.5" r="2.9" fill="#e0de3d"/>
<circle cx="64.2" cy="27.8" r="2.5" fill="#d8dc40"/>
<circle cx="74.4" cy="32.6" r="2.8" fill="#d8dc40"/>
<circle cx="43.8" cy="33.9" r="2.9" fill="#9bce5d"/>
<circle cx="41.7" cy="31.3" r="2.9" fill="#eacd35"/>
<circle cx="57.1" cy="36.3" r="3.2" fill="#93cc65"/>
<circle cx="49.9" cy="33.1" r="2.8" fill="#e8d137"/>
<circle cx="64.9" cy="27.3" r="2.2" fill="#9dce5c"/>
<circle cx="49.1" cy="32.7" r="3.1" fill="#e3d93a"/>
<circle cx="65.4" cy="36.1" r="2.8" fill="#94cc63"/>
<circle cx="64.0" cy="29.8" r="2.8" fill="#bbd54e"/>
<circle cx="69.8" cy="35.4" r="2.1" fill="#e7d338"/>
<circle cx="67.1" cy="30.6" r="2.2" fill="#92cb6a"/>
<circle cx="67.2" cy="32.2" r="2.9" fill="#bad54e"/>
<circle cx="71.5" cy="29.5" r="2.1" fill="#b8d54f"/>
<circle cx="72.2" cy="33.4" r="2.5" fill="#97cd5f"/>
<ellipse cx="78" cy="24" rx="8" ry="10" fill="#57a4de"/>
<circle cx="83.1" cy="24.7" r="2.6" fill="#bcd64d"/>
<circle cx="81.5" cy="15.1" r="2.8" fill="#7cc39d"/>
<circle cx="75.8" cy="24.5" r="3.1" fill="#d1da43"/>
<circle cx="78.1" cy="24.7" r="2.7" fill="#c4d74a"/>
<circle cx="82.7" cy="21.2" r="2.4" fill="#8fca70"/>
<circle cx="77.6" cy="20.0" r="2.0" fill="#85c787"/>
<circle cx="77.6" cy="17.2" r="3.0" fill="#b2d352"/>
<circle cx="73.1" cy="21.6" r="2.7" fill="#7ac3a1"/>
<circle cx="82.0" cy="32.3" r="2.0" fill="#bed64c"/>
<circle cx="80.2" cy="29.4" r="2.5" fill="#7ac3a2"/>
<circle cx="77.8" cy="25.7" r="2.8" fill="#8cc976"/>
<circle cx="75.9" cy="15.3" r="3.1" fill="#76c1aa"/>
<circle cx="75.2" cy="31.0" r="2.0" fill="#a5d058"/>
<ellipse cx="26" cy="25" rx="9" ry="10" fill="#f1c030"/>
<circle cx="27.0" cy="23.7" r="2.5" fill="#f39526"/>
<circle cx="28.0" cy="18.2" r="2.0" fill="#f39f28"/>
<circle cx="31.6" cy="30.0" r="2.3" fill="#f3bd2f"/>
<circle cx="24.2" cy="21.5" r="2.4" fill="#f07922"/>
<circle cx="20.2" cy="28.4" r="2.6" fill="#ef7021"/>
<circle cx="24.8" cy="32.3" r="2.5" fill="#f5b32c"/>
<circle cx="25.7" cy="26.0" r="2.6" fill="#f5b12b"/>
<circle cx="25.6" cy="15.1" r="2.6" fill="#f4a529"/>
<circle cx="18.7" cy="30.2" r="2.4" fill="#f4a228"/>
<circle cx="29.2" cy="19.2" r="3.0" fill="#f4a82a"/>
<circle cx="24.2" cy="27.7" r="2.9" fill="#f4aa2a"/>
<circle cx="30.5" cy="18.3" r="3.0" fill="#f28923"/>
<circle cx="25.8" cy="25.4" r="2.3" fill="#f3a028"/>
<circle cx="31.5" cy="28.6" r="2.9" fill="#f4ad2b"/>
<circle cx="26.8" cy="15.5" r="2.4" fill="#f4ae2b"/>
<circle cx="18.6" cy="25.0" r="2.5" fill="#efc432"/>
<circle cx="25.1" cy="21.4" r="2.2" fill="#f4a729"/>
<circle cx="31.3" cy="18.2" r="2.4" fill="#f4aa2a"/>
<ellipse cx="14" cy="47" rx="9" ry="11" fill="#ebcc35"/>
<circle cx="21.3" cy="51.5" r="2.9" fill="#f4b02b"/>
<circle cx="8.0" cy="43.1" r="3.2" fill="#f39b27"/>
<circle cx="16.1" cy="39.3" r="2.8" fill="#eec632"/>
<circle cx="19.5" cy="52.5" r="3.0" fill="#f5b42c"/>
<circle cx="19.1" cy="42.4" r="2.6" fill="#f39c27"/>
<circle cx="11.6" cy="39.1" r="2.3" fill="#edc733"/>
<circle cx="22.0" cy="51.4" r="2.5" fill="#f4ac2a"/>
<circle cx="15.1" cy="38.4" r="2.3" fill="#f4ac2a"/>
<circle cx="8.2" cy="40.1" r="2.9" fill="#f17f22"/>
<circle cx="10.0" cy="47.1" r="3.1" fill="#f4a228"/>
<circle cx="12.9" cy="51.5" r="2.9" fill="#f4b02b"/>
<circle cx="20.8" cy="42.7" r="2.8" fill="#f5b52c"/>
<circle cx="13.4" cy="51.5" r="3.1" fill="#f28923"/>
<circle cx="10.2" cy="53.8" r="2.4" fill="#f39a27"/>
<circle cx="7.6" cy="47.5" r="2.0" fill="#f1c130"/>
<circle cx="21.6" cy="43.6" r="2.9" fill="#f5b12b"/>
<circle cx="8.1" cy="47.7" r="2.4" fill="#f28923"/>
<circle cx="19.8" cy="54.4" r="2.1" fill="#f4a629"/>
<circle cx="17.0" cy="52.9" r="2.6" fill="#f4a92a"/>
<circle cx="22.4" cy="46.0" r="2.0" fill="#e8d237"/>
<ellipse cx="32" cy="50" rx="9" ry="9" fill="#bcd64d"/>
<circle cx="31.2" cy="47.7" r="2.1" fill="#e1dd3c"/>
<circle cx="28.5" cy="46.3" r="3.1" fill="#edc733"/>
<circle cx="35.0" cy="48.2" r="2.6" fill="#ecca34"/>
<circle cx="26.7" cy="45.3" r="2.4" fill="#e9cf36"/>
<circle cx="27.9" cy="54.7" r="2.9" fill="#e5d739"/>
<circle cx="26.3" cy="45.5" r="2.8" fill="#f1c030"/>
<circle cx="30.9" cy="53.5" r="3.0" fill="#eacd35"/>
<circle cx="39.0" cy="53.8" r="2.5" fill="#cad947"/>
<circle cx="24.0" cy="49.9" r="2.1" fill="#e2dc3b"/>
<circle cx="33.4" cy="50.5" r="2.7" fill="#dcdd3e"/>
<circle cx="25.5" cy="52.6" r="2.6" fill="#c1d74b"/>
<circle cx="29.2" cy="46.1" r="3.1" fill="#f1c030"/>
<circle cx="33.2" cy="55.4" r="2.8" fill="#add254"/>
<circle cx="33.7" cy="42.8" r="2.1" fill="#e5d739"/>
<circle cx="35.6" cy="48.1" r="3.2" fill="#ebcc35"/>
<circle cx="35.9" cy="50.2" r="2.9" fill="#e4d839"/>
<ellipse cx="46" cy="60" rx="9" ry="8" fill="#dadc3f"/>
<circle cx="49.1" cy="66.0" r="2.2" fill="#eacd35"/>
<circle cx="40.0" cy="61.7" r="2.3" fill="#e7d338"/>
<circle cx="44.1" cy="61.2" r="2.9" fill="#e0de3c"/>
<circle cx="45.8" cy="61.6" r="2.8" fill="#e6d538"/>
<circle cx="45.7" cy="54.2" r="2.4" fill="#e6d538"/>
<circle cx="50.6" cy="60.8" r="2.6" fill="#eace35"/>
<circle cx="47.8" cy="58.5" r="3.1" fill="#edc733"/>
<circle cx="41.2" cy="64.3" r="2.1" fill="#ebcb34"/>
<circle cx="48.5" cy="59.4" r="2.7" fill="#d4db42"/>
<circle cx="51.2" cy="56.9" r="2.8" fill="#e6d538"/>
<circle cx="45.2" cy="63.2" r="2.6" fill="#e6d438"/>
<circle cx="47.3" cy="67.0" r="2.2" fill="#eace36"/>
<circle cx="45.0" cy="57.6" r="2.7" fill="#f4ad2b"/>
<circle cx="45.1" cy="63.3" r="2.1" fill="#e0de3c"/>
<ellipse cx="64" cy="48" rx="10" ry="6" fill="#549ddd"/>
<circle cx="59.0" cy="43.8" r="3.1" fill="#8eca72"/>
<circle cx="73.8" cy="48.9" r="2.8" fill="#73c0b1"/>
<circle cx="62.7" cy="44.6" r="3.2" fill="#8cc976"/>
<circle cx="58.7" cy="46.9" r="2.4" fill="#7bc39f"/>
<circle cx="59.9" cy="46.4" r="2.5" fill="#72c0b4"/>
<circle cx="70.3" cy="49.6" r="3.0" fill="#c8d848"/>
<circle cx="66.2" cy="51.6" r="2.1" fill="#94cc63"/>
<circle cx="66.6" cy="46.0" r="3.1" fill="#c1d74b"/>
<circle cx="58.0" cy="44.1" r="2.1" fill="#6fbfbb"/>
<circle cx="67.4" cy="50.2" r="2.6" fill="#9dcf5c"/>
<ellipse cx="83" cy="54" rx="10" ry="9" fill="#5aabdf"/>
<circle cx="79.3" cy="51.4" r="2.2" fill="#bed64c"/>
<circle cx="80.2" cy="49.1" r="2.7" fill="#84c68a"/>
<circle cx="79.4" cy="60.8" r="2.9" fill="#e2dd3c"/>
<circle cx="90.7" cy="57.8" r="2.9" fill="#9bce5d"/>
<circle cx="92.3" cy="54.9" r="2.4" fill="#88c880"/>
<circle cx="78.8" cy="46.8" r="2.0" fill="#a6d157"/>
<circle cx="75.6" cy="57.1" r="3.0" fill="#dedd3d"/>
<circle cx="74.2" cy="55.8" r="2.7" fill="#8eca71"/>
<circle cx="80.0" cy="54.1" r="2.6" fill="#84c68a"/>
<circle cx="77.7" cy="52.8" r="2.1" fill="#d3db43"/>
<circle cx="84.7" cy="54.1" r="2.2" fill="#7fc595"/>
<circle cx="79.0" cy="61.5" r="3.1" fill="#c9d947"/>
<circle cx="83.3" cy="62.3" r="2.7" fill="#83c68d"/>
<circle cx="83.0" cy="55.7" r="3.0" fill="#b2d352"/>
<ellipse cx="23" cy="71" rx="10" ry="11" fill="#f3bd2e"/>
<circle cx="26.7" cy="69.0" r="2.9" fill="#eb531f"/>
<circle cx="20.5" cy="78.3" r="2.9" fill="#f4a329"/>
<circle cx="23.1" cy="62.7" r="2.8" fill="#f07922"/>
<circle cx="30.0" cy="65.5" r="3.1" fill="#eb511f"/>
<circle cx="16.3" cy="75.9" r="3.0" fill="#f28b24"/>
<circle cx="23.4" cy="79.2" r="3.1" fill="#f1c030"/>
<circle cx="28.4" cy="75.3" r="2.3" fill="#ec5c20"/>
<circle cx="32.4" cy="69.3" r="2.8" fill="#f4a92a"/>
<circle cx="30.1" cy="64.5" r="2.8" fill="#f28423"/>
<circle cx="32.8" cy="71.1" r="2.7" fill="#ed6321"/>
<circle cx="15.7" cy="70.8" r="2.0" fill="#f2bf2f"/>
<circle cx="20.4" cy="80.3" r="2.4" fill="#eb5620"/>
<circle cx="23.3" cy="76.4" r="3.0" fill="#f17f22"/>
<circle cx="18.1" cy="70.3" r="3.1" fill="#f5b82d"/>
<circle cx="28.4" cy="62.8" r="2.7" fill="#f5b42c"/>
<circle cx="26.2" cy="62.3" r="2.4" fill="#f3bd2e"/>
<circle cx="19.3" cy="63.1" r="2.5" fill="#f39526"/>
<circle cx="19.4" cy="73.9" r="3.1" fill="#f39927"/>
<circle cx="23.7" cy="61.2" r="2.2" fill="#f28523"/>
<circle cx="21.1" cy="60.5" r="2.9" fill="#eb541f"/>
<circle cx="14.1" cy="74.9" r="2.6" fill="#ed6621"/>
<circle cx="24.9" cy="65.9" r="2.6" fill="#f4ba2e"/>
<ellipse cx="53" cy="76" rx="9" ry="9" fill="#dadc3f"/>
<circle cx="50.2" cy="76.5" r="2.1" fill="#e3db3b"/>
<circle cx="47.0" cy="80.7" r="2.4" fill="#d2db43"/>
<circle cx="44.5" cy="77.4" r="3.1" fill="#eec733"/>
<circle cx="51.1" cy="80.7" r="2.1" fill="#f5b62c"/>
<circle cx="57.1" cy="71.5" r="2.6" fill="#f4ab2a"/>
<circle cx="49.8" cy="73.1" r="3.2" fill="#f4bb2e"/>
<circle cx="48.4" cy="77.7" r="3.0" fill="#f4a629"/>
<circle cx="46.1" cy="79.4" r="2.7" fill="#f5b12b"/>
<circle cx="47.9" cy="72.7" r="2.1" fill="#f5b62c"/>
<circle cx="51.3" cy="75.5" r="2.0" fill="#eec632"/>
<circle cx="47.8" cy="83.2" r="2.2" fill="#ebcc35"/>
<circle cx="44.4" cy="76.8" r="2.3" fill="#eec632"/>
<circle cx="60.2" cy="75.5" r="2.0" fill="#f4a429"/>
<circle cx="58.2" cy="72.7" r="2.0" fill="#dddd3e"/>
<circle cx="57.5" cy="73.1" r="3.1" fill="#efc532"/>
<circle cx="55.0" cy="73.6" r="2.5" fill="#f3bc2e"/>
<ellipse cx="70" cy="66" rx="9" ry="9" fill="#bcd64d"/>
<circle cx="63.2" cy="63.9" r="2.2" fill="#e3da3a"/>
<circle cx="64.1" cy="60.2" r="2.4" fill="#c2d74a"/>
<circle cx="75.1" cy="66.1" r="2.7" fill="#b0d353"/>
<circle cx="71.6" cy="61.4" r="2.4" fill="#efc431"/>
<circle cx="63.7" cy="71.1" r="2.6" fill="#c8d848"/>
<circle cx="72.0" cy="64.1" r="2.7" fill="#dbdd3f"/>
<circle cx="62.9" cy="70.8" r="2.7" fill="#b2d352"/>
<circle cx="65.2" cy="61.9" r="2.7" fill="#c3d74a"/>
<circle cx="73.9" cy="63.9" r="2.7" fill="#d7dc41"/>
<circle cx="65.5" cy="58.7" r="2.4" fill="#f5b42c"/>
<circle cx="73.3" cy="60.6" r="3.0" fill="#b0d353"/>
<circle cx="66.5" cy="62.8" r="3.0" fill="#e9cf36"/>
<circle cx="65.0" cy="72.0" r="3.1" fill="#d2db43"/>
<circle cx="71.3" cy="74.6" r="2.3" fill="#e1de3c"/>
<circle cx="70.9" cy="71.1" r="2.7" fill="#c8d848"/>
<circle cx="69.2" cy="74.4" r="2.6" fill="#ceda45"/>
<ellipse cx="44" cy="88" rx="10" ry="7" fill="#e7d338"/>
<circle cx="47.5" cy="87.9" r="2.7" fill="#f1c030"/>
<circle cx="35.4" cy="90.9" r="3.1" fill="#f39726"/>
<circle cx="39.8" cy="83.8" r="2.4" fill="#e7d438"/>
<circle cx="39.3" cy="83.7" r="2.1" fill="#f28e24"/>
<circle cx="44.6" cy="89.0" r="2.6" fill="#f2bf2f"/>
<circle cx="48.2" cy="92.9" r="2.1" fill="#f3bd2f"/>
<circle cx="47.6" cy="88.6" r="2.3" fill="#f39325"/>
<circle cx="44.3" cy="81.3" r="3.0" fill="#f28e24"/>
<circle cx="51.3" cy="89.7" r="2.7" fill="#f4a529"/>
<circle cx="43.1" cy="91.5" r="2.3" fill="#f1c030"/>
<circle cx="50.5" cy="90.4" r="3.0" fill="#efc532"/>
<circle cx="48.6" cy="85.6" r="2.9" fill="#f0c231"/>
<circle cx="42.5" cy="87.1" r="3.1" fill="#f4ae2b"/>
<circle cx="51.2" cy="89.4" r="2.7" fill="#f4ab2a"/>
<path d="M8,36 C24,40 40,46 54,52 C66,58 76,64 88,70" fill="none" stroke="#353898" stroke-width="3.6"/>
</g>
<rect width="100" height="100" filter="url(#sb)"/>
<use href="#gaps"/>
<rect width="100" height="100" filter="url(#sp)"/>
<rect y="50" width="100" height="50" filter="url(#sp2)"/>
</g>
<use href="#blob" fill="none" stroke="#9090dd" stroke-width="2.4" stroke-opacity="0.85"/>
</g>
<rect x="369.60" y="440.90" width="2.4" height="31.70" fill="url(#jet)"/>
<rect x="372.90" y="440.35" width="4.4" height="1.5" fill="#a4a4a4"/>
<rect x="372.90" y="448.12" width="4.4" height="1.5" fill="#a4a4a4"/>
<rect x="372.90" y="455.90" width="4.4" height="1.5" fill="#a4a4a4"/>
<rect x="372.90" y="463.68" width="4.4" height="1.5" fill="#a4a4a4"/>
<rect x="372.90" y="471.45" width="1.6" height="1.5" fill="#a4a4a4"/>
<text x="349.9" y="435.9" font-size="7.9" text-anchor="start" fill="#111" font-weight="normal" textLength="13.100000000000023" lengthAdjust="spacingAndGlyphs" stroke="#111" stroke-width="0.12">2B4</text>
<line x1="344.4" y1="484.0" x2="344.4" y2="508.3" stroke="#000" stroke-width="1.05"/>
<line x1="343.9" y1="507.8" x2="368.9" y2="507.8" stroke="#000" stroke-width="1.05"/>
<line x1="342.59999999999997" y1="489.3" x2="344.4" y2="489.3" stroke="#000" stroke-width="0.8"/>
<text x="339.09999999999997" y="491.1" font-size="5.2" text-anchor="end" fill="#222" font-weight="normal" textLength="8.9" lengthAdjust="spacingAndGlyphs" >100</text>
<line x1="342.59999999999997" y1="499.0" x2="344.4" y2="499.0" stroke="#000" stroke-width="0.8"/>
<text x="339.09999999999997" y="500.8" font-size="5.2" text-anchor="end" fill="#222" font-weight="normal" textLength="6.4" lengthAdjust="spacingAndGlyphs" >50</text>
<line x1="342.59999999999997" y1="507.8" x2="344.4" y2="507.8" stroke="#000" stroke-width="0.8"/>
<text x="339.09999999999997" y="509.6" font-size="5.2" text-anchor="end" fill="#222" font-weight="normal" textLength="3.5" lengthAdjust="spacingAndGlyphs" >0</text>
<line x1="351.5" y1="507.8" x2="351.5" y2="510.6" stroke="#000" stroke-width="0.8"/>
<line x1="362.29999999999995" y1="507.8" x2="362.29999999999995" y2="510.6" stroke="#000" stroke-width="0.8"/>
<line x1="351.5" y1="489.5" x2="351.5" y2="491.2" stroke="#000" stroke-width="0.9"/>
<line x1="349.7" y1="489.5" x2="353.3" y2="489.5" stroke="#000" stroke-width="0.9"/>
<rect x="348.00" y="491.20" width="7.00" height="16.60" fill="#2b4a8b" stroke="#1a3570" stroke-width="0.35"/>
<line x1="362.29999999999995" y1="489.5" x2="362.29999999999995" y2="490.9" stroke="#000" stroke-width="0.9"/>
<line x1="360.49999999999994" y1="489.5" x2="364.09999999999997" y2="489.5" stroke="#000" stroke-width="0.9"/>
<rect x="358.80" y="490.90" width="7.00" height="16.90" fill="#b0002c" stroke="#9a0026" stroke-width="0.35"/>
<line x1="350.94999999999993" y1="486.6" x2="361.65" y2="486.6" stroke="#3a3a3a" stroke-width="1.15"/>
<text x="355.99999999999994" y="484.40000000000003" font-size="4.8" text-anchor="middle" fill="#333" font-weight="normal" textLength="7.2" lengthAdjust="spacingAndGlyphs" >NS</text>
<rect x="386.5" y="439.5" width="27.30000000000001" height="33.0" fill="#fff" stroke="#a8a8a8" stroke-width="0.7"/>
<g transform="translate(387.00,440.00) scale(0.2630,0.3200)">
<g clip-path="url(#bc)">
<rect width="100" height="100" fill="#353898"/>
<g filter="url(#bl)">
<circle cx="78" cy="72" r="3.2" fill="#e1331d"/>
<circle cx="65" cy="78" r="2.8" fill="#e83e1e"/>
<circle cx="50" cy="80" r="2.5" fill="#eb5620"/>
<circle cx="86" cy="62" r="2.2" fill="#f28723"/>
<circle cx="30" cy="55" r="2" fill="#f28723"/>
</g>
<rect width="100" height="100" filter="url(#sb)"/>
<use href="#gaps"/>
<rect width="100" height="100" filter="url(#sp)"/>
<rect y="50" width="100" height="50" filter="url(#sp2)"/>
</g>
<use href="#blob" fill="none" stroke="#9090dd" stroke-width="2.4" stroke-opacity="0.85"/>
</g>
<rect x="413.90" y="439.90" width="2.4" height="32.20" fill="url(#jet)"/>
<rect x="417.20" y="439.35" width="4.4" height="1.5" fill="#a4a4a4"/>
<rect x="417.20" y="447.25" width="4.4" height="1.5" fill="#a4a4a4"/>
<rect x="417.20" y="455.15" width="4.4" height="1.5" fill="#a4a4a4"/>
<rect x="417.20" y="463.05" width="4.4" height="1.5" fill="#a4a4a4"/>
<rect x="417.20" y="470.95" width="1.6" height="1.5" fill="#a4a4a4"/>
<text x="386.9" y="435.9" font-size="7.9" text-anchor="start" fill="#111" font-weight="normal" textLength="28.600000000000023" lengthAdjust="spacingAndGlyphs" stroke="#111" stroke-width="0.12">KIR3DL1</text>
<line x1="389.5" y1="484.0" x2="389.5" y2="508.3" stroke="#000" stroke-width="1.05"/>
<line x1="389.0" y1="507.8" x2="414.0" y2="507.8" stroke="#000" stroke-width="1.05"/>
<line x1="387.7" y1="487.4" x2="389.5" y2="487.4" stroke="#000" stroke-width="0.8"/>
<text x="384.2" y="489.2" font-size="5.2" text-anchor="end" fill="#222" font-weight="normal" textLength="8.9" lengthAdjust="spacingAndGlyphs" >100</text>
<line x1="387.7" y1="497.8" x2="389.5" y2="497.8" stroke="#000" stroke-width="0.8"/>
<text x="384.2" y="499.6" font-size="5.2" text-anchor="end" fill="#222" font-weight="normal" textLength="6.4" lengthAdjust="spacingAndGlyphs" >50</text>
<line x1="387.7" y1="507.8" x2="389.5" y2="507.8" stroke="#000" stroke-width="0.8"/>
<text x="384.2" y="509.6" font-size="5.2" text-anchor="end" fill="#222" font-weight="normal" textLength="3.5" lengthAdjust="spacingAndGlyphs" >0</text>
<line x1="396.6" y1="507.8" x2="396.6" y2="510.6" stroke="#000" stroke-width="0.8"/>
<line x1="407.4" y1="507.8" x2="407.4" y2="510.6" stroke="#000" stroke-width="0.8"/>
<line x1="396.6" y1="503.0" x2="396.6" y2="505.5" stroke="#000" stroke-width="0.9"/>
<line x1="394.8" y1="503.0" x2="398.40000000000003" y2="503.0" stroke="#000" stroke-width="0.9"/>
<rect x="393.10" y="505.50" width="7.00" height="2.30" fill="#2b4a8b" stroke="#1a3570" stroke-width="0.35"/>
<line x1="407.4" y1="505.1" x2="407.4" y2="506.0" stroke="#000" stroke-width="0.9"/>
<line x1="405.59999999999997" y1="505.1" x2="409.2" y2="505.1" stroke="#000" stroke-width="0.9"/>
<rect x="403.90" y="506.00" width="7.00" height="1.80" fill="#b0002c" stroke="#9a0026" stroke-width="0.35"/>
<line x1="396.04999999999995" y1="486.6" x2="406.75" y2="486.6" stroke="#3a3a3a" stroke-width="1.15"/>
<circle cx="401.40" cy="483.60" r="0.72" fill="#2a2a2a"/>
<rect x="431.7" y="440.0" width="28.100000000000023" height="33.0" fill="#fff" stroke="#a8a8a8" stroke-width="0.7"/>
<g transform="translate(432.20,440.50) scale(0.2710,0.3200)">
<g clip-path="url(#bc)">
<rect width="100" height="100" fill="#373c9d"/>
<g filter="url(#bl)">
<ellipse cx="52" cy="13" rx="22" ry="8" fill="#ea4a1f"/>
<circle cx="70.0" cy="13.5" r="3.1" fill="#96000f"/>
<circle cx="44.8" cy="10.5" r="2.2" fill="#ed5f20"/>
<circle cx="42.2" cy="9.9" r="2.0" fill="#df2f1d"/>
<circle cx="55.6" cy="10.8" r="2.1" fill="#cb181a"/>
<circle cx="63.4" cy="19.5" r="2.2" fill="#eb511f"/>
<circle cx="51.7" cy="5.3" r="3.0" fill="#cd191b"/>
<circle cx="33.6" cy="11.7" r="2.8" fill="#ec5c20"/>
<circle cx="46.4" cy="19.8" r="2.3" fill="#9a0210"/>
<circle cx="39.9" cy="13.7" r="3.2" fill="#c81619"/>
<circle cx="45.6" cy="20.0" r="2.1" fill="#d31c1c"/>
<circle cx="35.2" cy="11.6" r="2.6" fill="#cd191b"/>
<circle cx="36.8" cy="17.4" r="2.1" fill="#9c0310"/>
<circle cx="56.7" cy="5.2" r="2.3" fill="#a00511"/>
<circle cx="46.2" cy="13.9" r="2.7" fill="#bc1117"/>
<circle cx="48.0" cy="10.1" r="2.5" fill="#c9171a"/>
<circle cx="43.7" cy="15.3" r="2.7" fill="#a60712"/>
<circle cx="69.7" cy="8.7" r="2.2" fill="#e9451f"/>
<circle cx="46.5" cy="19.0" r="2.0" fill="#e2331d"/>
<circle cx="59.2" cy="16.6" r="2.6" fill="#ca181a"/>
<circle cx="72.0" cy="15.0" r="2.4" fill="#96000f"/>
<circle cx="47.5" cy="11.3" r="2.9" fill="#c8171a"/>
<circle cx="59.7" cy="19.5" r="2.7" fill="#c21418"/>
<circle cx="51.1" cy="16.8" r="2.3" fill="#e63b1e"/>
<circle cx="38.9" cy="12.8" r="2.7" fill="#dd2b1d"/>
<circle cx="47.6" cy="8.7" r="2.9" fill="#c21418"/>
<circle cx="44.2" cy="8.6" r="3.0" fill="#ae0b14"/>
<circle cx="55.4" cy="13.0" r="2.5" fill="#d61f1c"/>
<circle cx="64.6" cy="14.3" r="3.2" fill="#96000f"/>
<circle cx="52.8" cy="18.7" r="2.1" fill="#96000f"/>
<circle cx="61.6" cy="7.6" r="2.5" fill="#96000f"/>
<circle cx="52.1" cy="18.2" r="2.3" fill="#bb1117"/>
<circle cx="45.6" cy="6.7" r="2.7" fill="#98010f"/>
<circle cx="44.8" cy="15.4" r="2.6" fill="#e4371e"/>
<circle cx="62.3" cy="16.2" r="2.5" fill="#ad0b14"/>
<circle cx="47.4" cy="13.5" r="2.2" fill="#a70812"/>
<ellipse cx="60" cy="33" rx="20" ry="8" fill="#f5b42c"/>
<circle cx="62.1" cy="36.1" r="2.6" fill="#eb5820"/>
<circle cx="48.4" cy="36.9" r="2.9" fill="#ed6321"/>
<circle cx="68.9" cy="38.1" r="3.0" fill="#f39626"/>
<circle cx="69.9" cy="39.3" r="3.0" fill="#ec5d20"/>
<circle cx="75.3" cy="32.3" r="2.5" fill="#f5b72d"/>
<circle cx="47.3" cy="35.0" r="2.3" fill="#e5391e"/>
<circle cx="53.0" cy="39.0" r="3.1" fill="#ef7222"/>
<circle cx="63.5" cy="37.7" r="2.6" fill="#f28d24"/>
<circle cx="70.0" cy="36.2" r="2.9" fill="#f5b82d"/>
<circle cx="52.4" cy="39.8" r="2.1" fill="#f28e24"/>
<circle cx="64.5" cy="29.9" r="2.1" fill="#ef7422"/>
<circle cx="55.8" cy="39.4" r="3.2" fill="#f28b24"/>
<circle cx="68.7" cy="30.1" r="2.3" fill="#e9481f"/>
<circle cx="60.6" cy="35.1" r="3.1" fill="#f28423"/>
<circle cx="73.1" cy="38.5" r="2.8" fill="#f28b24"/>
<circle cx="62.7" cy="33.5" r="2.9" fill="#e8401e"/>
<circle cx="74.6" cy="28.6" r="2.2" fill="#ef7021"/>
<circle cx="62.6" cy="28.7" r="3.0" fill="#f39626"/>
<circle cx="50.0" cy="27.9" r="2.5" fill="#f4b02b"/>
<circle cx="48.1" cy="31.1" r="2.5" fill="#f39c27"/>
<circle cx="79.2" cy="32.0" r="2.2" fill="#f18123"/>
<circle cx="44.5" cy="29.1" r="2.9" fill="#f39526"/>
<circle cx="67.0" cy="37.5" r="2.9" fill="#f5b52c"/>
<circle cx="70.2" cy="36.8" r="2.5" fill="#e63a1e"/>
<circle cx="60.1" cy="39.0" r="2.9" fill="#f39c27"/>
<circle cx="58.6" cy="34.3" r="2.2" fill="#f4bb2e"/>
<circle cx="40.8" cy="33.6" r="3.1" fill="#f4ae2b"/>
<circle cx="75.6" cy="29.9" r="2.6" fill="#f28b24"/>
<circle cx="74.3" cy="36.4" r="2.3" fill="#f4aa2a"/>
<circle cx="78.0" cy="34.8" r="2.2" fill="#f5b12b"/>
<circle cx="69.3" cy="27.4" r="2.5" fill="#ee6921"/>
<circle cx="70.8" cy="39.0" r="3.2" fill="#f5b82d"/>
<ellipse cx="78" cy="24" rx="8" ry="10" fill="#f4aa2a"/>
<circle cx="78.6" cy="31.1" r="3.1" fill="#f4b12b"/>
<circle cx="78.3" cy="30.1" r="2.3" fill="#f4ab2a"/>
<circle cx="79.8" cy="24.2" r="2.0" fill="#ec5d20"/>
<circle cx="73.9" cy="24.3" r="3.2" fill="#f4a429"/>
<circle cx="73.4" cy="25.6" r="2.7" fill="#e73c1e"/>
<circle cx="75.4" cy="25.8" r="2.8" fill="#e63b1e"/>
<circle cx="80.5" cy="15.4" r="2.2" fill="#eb5520"/>
<circle cx="75.2" cy="16.6" r="3.1" fill="#f39125"/>
<circle cx="78.9" cy="15.9" r="3.1" fill="#f39c27"/>
<circle cx="86.0" cy="24.4" r="3.2" fill="#f4a329"/>
<circle cx="81.8" cy="18.9" r="2.4" fill="#f4aa2a"/>
<circle cx="72.4" cy="24.6" r="3.0" fill="#e4361e"/>
<circle cx="80.9" cy="33.3" r="2.5" fill="#ef7422"/>
<circle cx="84.7" cy="26.8" r="3.1" fill="#f07822"/>
<circle cx="73.2" cy="31.2" r="3.2" fill="#f4a92a"/>
<circle cx="82.2" cy="28.7" r="2.8" fill="#e3351d"/>
<ellipse cx="26" cy="25" rx="9" ry="10" fill="#f3bd2e"/>
<circle cx="26.1" cy="16.8" r="3.1" fill="#f5b82d"/>
<circle cx="22.3" cy="17.1" r="2.6" fill="#f4ad2b"/>
<circle cx="22.7" cy="27.2" r="3.0" fill="#f28523"/>
<circle cx="21.9" cy="33.7" r="2.9" fill="#f4a329"/>
<circle cx="27.5" cy="21.8" r="2.4" fill="#f28f25"/>
<circle cx="27.4" cy="34.0" r="3.1" fill="#f5b62c"/>
<circle cx="34.6" cy="28.0" r="3.1" fill="#ef7222"/>
<circle cx="19.5" cy="28.0" r="3.2" fill="#f39426"/>
<circle cx="28.1" cy="15.7" r="2.7" fill="#f5ba2d"/>
<circle cx="18.7" cy="20.9" r="2.4" fill="#f39a27"/>
<circle cx="19.7" cy="23.0" r="3.0" fill="#f4a629"/>
<circle cx="32.3" cy="18.5" r="2.3" fill="#f5b72d"/>
<circle cx="22.1" cy="20.2" r="2.2" fill="#f28623"/>
<circle cx="17.4" cy="22.9" r="2.2" fill="#f28623"/>
<circle cx="19.0" cy="22.3" r="2.3" fill="#f28523"/>
<circle cx="31.4" cy="25.4" r="2.3" fill="#f4a729"/>
<circle cx="24.9" cy="33.2" r="2.8" fill="#f39c27"/>
<circle cx="29.2" cy="15.8" r="2.9" fill="#f5b92d"/>
<ellipse cx="14" cy="47" rx="9" ry="11" fill="#ebcc35"/>
<circle cx="10.0" cy="46.5" r="2.7" fill="#f28b24"/>
<circle cx="12.5" cy="38.7" r="2.6" fill="#e7d337"/>
<circle cx="16.8" cy="50.6" r="2.1" fill="#f4ae2b"/>
<circle cx="12.4" cy="43.6" r="2.8" fill="#f39526"/>
<circle cx="17.2" cy="49.3" r="2.9" fill="#f5b82d"/>
<circle cx="15.8" cy="41.5" r="2.2" fill="#f0c331"/>
<circle cx="12.5" cy="50.7" r="2.3" fill="#f39225"/>
<circle cx="9.4" cy="51.0" r="2.1" fill="#f39325"/>
<circle cx="19.4" cy="49.2" r="2.7" fill="#e9d036"/>
<circle cx="15.5" cy="55.0" r="3.0" fill="#f4bc2e"/>
<circle cx="13.1" cy="52.5" r="3.0" fill="#edc733"/>
<circle cx="20.6" cy="42.5" r="2.0" fill="#f4a028"/>
<circle cx="10.2" cy="55.0" r="3.1" fill="#f4ba2e"/>
<circle cx="19.0" cy="39.0" r="2.2" fill="#f4a729"/>
<circle cx="7.1" cy="42.2" r="3.1" fill="#f5b12b"/>
<circle cx="7.0" cy="47.4" r="2.7" fill="#f39d27"/>
<circle cx="14.4" cy="47.6" r="2.5" fill="#e8d137"/>
<circle cx="10.1" cy="48.4" r="2.2" fill="#f4ac2a"/>
<circle cx="14.5" cy="46.0" r="2.8" fill="#ebcb34"/>
<circle cx="5.9" cy="47.4" r="2.5" fill="#f4a228"/>
<ellipse cx="32" cy="50" rx="9" ry="9" fill="#78c2a5"/>
<circle cx="29.5" cy="56.9" r="2.2" fill="#e4d93a"/>
<circle cx="25.5" cy="52.1" r="2.0" fill="#f1c130"/>
<circle cx="26.6" cy="48.9" r="2.1" fill="#f4bb2e"/>
<circle cx="38.7" cy="52.5" r="3.1" fill="#e5d639"/>
<circle cx="28.0" cy="57.5" r="2.6" fill="#f5b12b"/>
<circle cx="39.6" cy="47.5" r="2.4" fill="#f4b02b"/>
<circle cx="28.1" cy="46.8" r="3.1" fill="#f5b62c"/>
<circle cx="26.3" cy="49.2" r="3.0" fill="#f5b72d"/>
<circle cx="28.3" cy="48.3" r="3.0" fill="#f3bc2e"/>
<circle cx="36.8" cy="44.2" r="2.3" fill="#f5b92d"/>
<circle cx="38.5" cy="51.1" r="2.6" fill="#e1de3c"/>
<circle cx="33.5" cy="42.1" r="3.1" fill="#e4d93a"/>
<circle cx="27.5" cy="50.9" r="2.7" fill="#f5ba2d"/>
<circle cx="28.3" cy="56.9" r="2.7" fill="#ceda45"/>
<circle cx="28.2" cy="47.9" r="2.1" fill="#e9cf36"/>
<ellipse cx="46" cy="60" rx="9" ry="8" fill="#59a9df"/>
<circle cx="54.7" cy="59.7" r="2.6" fill="#f5b92d"/>
<circle cx="44.0" cy="64.0" r="2.9" fill="#ecca34"/>
<circle cx="51.5" cy="65.8" r="2.8" fill="#edc833"/>
<circle cx="50.4" cy="61.1" r="2.7" fill="#b4d451"/>
<circle cx="40.5" cy="65.0" r="2.7" fill="#e3db3b"/>
<circle cx="43.6" cy="62.8" r="2.2" fill="#ccd946"/>
<circle cx="49.2" cy="63.5" r="2.8" fill="#c0d74b"/>
<circle cx="49.1" cy="53.5" r="2.7" fill="#c7d848"/>
<circle cx="43.3" cy="58.2" r="2.9" fill="#bfd64c"/>
<circle cx="38.1" cy="57.1" r="3.1" fill="#e9d036"/>
<ellipse cx="64" cy="48" rx="10" ry="6" fill="#3d51b2"/>
<circle cx="58.7" cy="47.0" r="2.8" fill="#6ebfbd"/>
<circle cx="66.3" cy="46.5" r="3.1" fill="#79c3a3"/>
<circle cx="60.1" cy="48.7" r="2.5" fill="#6fbfbb"/>
<circle cx="65.8" cy="47.4" r="2.4" fill="#5fb8e1"/>
<circle cx="64.9" cy="43.3" r="3.0" fill="#4980d8"/>
<ellipse cx="83" cy="54" rx="10" ry="9" fill="#4981d8"/>
<circle cx="82.7" cy="59.7" r="2.7" fill="#88c87f"/>
<circle cx="74.9" cy="53.2" r="2.9" fill="#e5d739"/>
<circle cx="80.5" cy="55.4" r="2.1" fill="#cfda45"/>
<circle cx="85.0" cy="55.4" r="2.3" fill="#e8d237"/>
<circle cx="79.5" cy="49.6" r="2.8" fill="#d2db43"/>
<circle cx="90.7" cy="50.1" r="3.1" fill="#93cc65"/>
<circle cx="85.4" cy="59.3" r="3.2" fill="#a7d157"/>
<circle cx="74.5" cy="52.7" r="3.0" fill="#c5d849"/>
<circle cx="88.0" cy="57.1" r="2.3" fill="#8cc976"/>
<circle cx="78.9" cy="53.2" r="2.3" fill="#8bc979"/>
<circle cx="77.7" cy="59.5" r="2.2" fill="#b8d54f"/>
<ellipse cx="88" cy="46" rx="4" ry="5" fill="#e7d338"/>
<circle cx="90.9" cy="45.5" r="2.7" fill="#e9cf36"/>
<circle cx="89.0" cy="46.9" r="2.5" fill="#f39225"/>
<circle cx="87.1" cy="46.8" r="2.2" fill="#ecca34"/>
<circle cx="87.9" cy="43.8" r="2.2" fill="#f39325"/>
<ellipse cx="23" cy="71" rx="10" ry="11" fill="#59a9df"/>
<circle cx="13.5" cy="74.0" r="2.4" fill="#eec732"/>
<circle cx="30.8" cy="67.7" r="2.3" fill="#e7d338"/>
<circle cx="16.7" cy="69.4" r="2.9" fill="#e3db3b"/>
<circle cx="17.0" cy="63.7" r="2.2" fill="#e5d739"/>
<circle cx="27.5" cy="76.1" r="2.1" fill="#eacd35"/>
<circle cx="13.7" cy="71.8" r="2.6" fill="#c6d848"/>
<circle cx="13.3" cy="71.3" r="3.1" fill="#d2db43"/>
<circle cx="29.3" cy="71.9" r="2.5" fill="#f5ba2d"/>
<circle cx="20.4" cy="69.1" r="2.6" fill="#b6d450"/>
<circle cx="23.8" cy="72.0" r="2.3" fill="#f1c130"/>
<circle cx="26.9" cy="71.2" r="2.2" fill="#f0c230"/>
<circle cx="31.1" cy="76.7" r="2.4" fill="#e9d036"/>
<circle cx="26.4" cy="70.0" r="2.1" fill="#b1d352"/>
<circle cx="17.4" cy="68.5" r="2.5" fill="#cfda45"/>
<circle cx="30.8" cy="75.9" r="3.2" fill="#eec632"/>
<ellipse cx="53" cy="76" rx="9" ry="9" fill="#4c88da"/>
<circle cx="57.1" cy="83.8" r="2.1" fill="#e9cf36"/>
<circle cx="44.7" cy="74.4" r="2.5" fill="#c4d749"/>
<circle cx="57.6" cy="71.8" r="2.1" fill="#ecc934"/>
<circle cx="59.6" cy="71.7" r="2.2" fill="#e2dc3b"/>
<circle cx="47.9" cy="68.8" r="3.1" fill="#b9d54f"/>
<circle cx="49.1" cy="79.3" r="2.8" fill="#c2d74a"/>
<circle cx="55.7" cy="82.6" r="2.6" fill="#edc733"/>
<circle cx="56.4" cy="79.5" r="3.2" fill="#ebcb34"/>
<circle cx="59.1" cy="75.1" r="2.9" fill="#d3db42"/>
<circle cx="52.2" cy="68.1" r="2.2" fill="#e2dc3b"/>
<ellipse cx="70" cy="66" rx="9" ry="9" fill="#3d51b2"/>
<circle cx="73.8" cy="67.9" r="2.6" fill="#56a1dd"/>
<circle cx="69.2" cy="66.7" r="2.8" fill="#79c3a3"/>
<circle cx="73.2" cy="58.7" r="3.2" fill="#64bbd6"/>
<circle cx="70.8" cy="70.8" r="2.5" fill="#5cb1e0"/>
<circle cx="70.3" cy="69.6" r="2.7" fill="#6dbec0"/>
<circle cx="67.3" cy="70.6" r="2.6" fill="#64bbd4"/>
<ellipse cx="44" cy="88" rx="10" ry="7" fill="#436bcb"/>
<circle cx="36.5" cy="90.2" r="3.0" fill="#aed254"/>
<circle cx="48.4" cy="88.8" r="2.6" fill="#96cd60"/>
<circle cx="48.1" cy="88.6" r="3.1" fill="#c0d74b"/>
<circle cx="42.2" cy="90.0" r="3.0" fill="#aad255"/>
<circle cx="42.8" cy="89.3" r="2.6" fill="#b3d452"/>
<circle cx="49.1" cy="92.3" r="2.7" fill="#81c591"/>
<circle cx="46.7" cy="88.3" r="2.8" fill="#7cc49b"/>
</g>
<rect width="100" height="100" filter="url(#sb)"/>
<use href="#gaps"/>
<rect width="100" height="100" filter="url(#sp)"/>
<rect y="50" width="100" height="50" filter="url(#sp2)"/>
</g>
<use href="#blob" fill="none" stroke="#9090dd" stroke-width="2.4" stroke-opacity="0.85"/>
</g>
<rect x="459.90" y="440.40" width="2.4" height="32.20" fill="url(#jet)"/>
<rect x="463.20" y="439.85" width="4.4" height="1.5" fill="#a4a4a4"/>
<rect x="463.20" y="447.75" width="4.4" height="1.5" fill="#a4a4a4"/>
<rect x="463.20" y="455.65" width="4.4" height="1.5" fill="#a4a4a4"/>
<rect x="463.20" y="463.55" width="4.4" height="1.5" fill="#a4a4a4"/>
<rect x="463.20" y="471.45" width="1.6" height="1.5" fill="#a4a4a4"/>
<text x="433.4" y="435.9" font-size="7.9" text-anchor="start" fill="#111" font-weight="normal" textLength="23.100000000000023" lengthAdjust="spacingAndGlyphs" stroke="#111" stroke-width="0.12">NKG2A</text>
<line x1="433.9" y1="484.0" x2="433.9" y2="508.3" stroke="#000" stroke-width="1.05"/>
<line x1="433.4" y1="507.8" x2="458.4" y2="507.8" stroke="#000" stroke-width="1.05"/>
<line x1="432.09999999999997" y1="487.8" x2="433.9" y2="487.8" stroke="#000" stroke-width="0.8"/>
<text x="428.59999999999997" y="489.6" font-size="5.2" text-anchor="end" fill="#222" font-weight="normal" textLength="8.9" lengthAdjust="spacingAndGlyphs" >100</text>
<line x1="432.09999999999997" y1="497.8" x2="433.9" y2="497.8" stroke="#000" stroke-width="0.8"/>
<text x="428.59999999999997" y="499.6" font-size="5.2" text-anchor="end" fill="#222" font-weight="normal" textLength="6.4" lengthAdjust="spacingAndGlyphs" >50</text>
<line x1="432.09999999999997" y1="507.8" x2="433.9" y2="507.8" stroke="#000" stroke-width="0.8"/>
<text x="428.59999999999997" y="509.6" font-size="5.2" text-anchor="end" fill="#222" font-weight="normal" textLength="3.5" lengthAdjust="spacingAndGlyphs" >0</text>
<line x1="441.0" y1="507.8" x2="441.0" y2="510.6" stroke="#000" stroke-width="0.8"/>
<line x1="451.79999999999995" y1="507.8" x2="451.79999999999995" y2="510.6" stroke="#000" stroke-width="0.8"/>
<line x1="441.0" y1="489.1" x2="441.0" y2="492.6" stroke="#000" stroke-width="0.9"/>
<line x1="439.2" y1="489.1" x2="442.8" y2="489.1" stroke="#000" stroke-width="0.9"/>
<rect x="437.50" y="492.60" width="7.00" height="15.20" fill="#2b4a8b" stroke="#1a3570" stroke-width="0.35"/>
<line x1="451.79999999999995" y1="489.5" x2="451.79999999999995" y2="490.9" stroke="#000" stroke-width="0.9"/>
<line x1="449.99999999999994" y1="489.5" x2="453.59999999999997" y2="489.5" stroke="#000" stroke-width="0.9"/>
<rect x="448.30" y="490.90" width="7.00" height="16.90" fill="#b0002c" stroke="#9a0026" stroke-width="0.35"/>
<line x1="440.44999999999993" y1="486.6" x2="451.15" y2="486.6" stroke="#3a3a3a" stroke-width="1.15"/>
<circle cx="444.80" cy="483.60" r="0.72" fill="#2a2a2a"/>
<circle cx="446.80" cy="483.60" r="0.72" fill="#2a2a2a"/>
<g transform="translate(13.4,313.5) rotate(-90)"><text x="0" y="0" font-size="7.4" font-weight="bold" fill="#222" textLength="24.8" lengthAdjust="spacingAndGlyphs">% total NK</text></g>
<g transform="translate(13.4,410.8) rotate(-90)"><text x="0" y="0" font-size="7.4" font-weight="bold" fill="#222" textLength="24.8" lengthAdjust="spacingAndGlyphs">% total NK</text></g>
<g transform="translate(13.6,507.0) rotate(-90)"><text x="0" y="0" font-size="7.4" font-weight="bold" fill="#222" textLength="23.6" lengthAdjust="spacingAndGlyphs">% total NK</text></g>
<rect x="26.0" y="172.7" width="46.2" height="43.6" fill="#fff" stroke="#d4d4d4" stroke-width="0.8"/>
<rect x="73.8" y="172.7" width="46.2" height="42.8" fill="#fff" stroke="#d4d4d4" stroke-width="0.8"/>
<filter id="osp" x="0" y="0" width="100%" height="100%" color-interpolation-filters="sRGB"><feTurbulence type="fractalNoise" baseFrequency="1.5" numOctaves="2" seed="5" result="n"/><feColorMatrix in="n" type="matrix" values="0 0 0 0 0  0 0 0 0 0  0 0 0 0 0  -5 0 0 0 3.9" result="m"/><feComposite in="SourceGraphic" in2="m" operator="in"/></filter>
<path d="M41.0,177.5 C42.0,176.9 43.5,175.8 45.0,175.5 C46.5,175.2 48.9,175.1 50.0,175.5 C51.1,175.9 50.8,177.3 51.5,178.0 C52.2,178.7 51.9,179.2 54.0,179.5 C56.1,179.8 61.8,179.4 64.0,180.0 C66.2,180.6 66.1,181.3 67.0,183.0 C67.9,184.7 68.9,188.2 69.5,190.0 C70.1,191.8 70.8,192.7 70.5,194.0 C70.2,195.3 68.9,196.7 68.0,198.0 C67.1,199.3 65.7,200.7 65.0,202.0 C64.3,203.3 64.7,204.9 64.0,206.0 C63.3,207.1 62.0,208.1 61.0,208.5 C60.0,208.9 58.8,208.2 58.0,208.5 C57.2,208.8 57.3,209.2 56.0,210.0 C54.7,210.8 51.7,212.8 50.0,213.0 C48.3,213.2 47.8,211.5 46.0,211.0 C44.2,210.5 41.0,210.8 39.0,210.0 C37.0,209.2 35.3,207.7 34.0,206.0 C32.7,204.3 31.8,202.2 31.0,200.0 C30.2,197.8 29.2,195.0 29.0,193.0 C28.8,191.0 29.2,189.5 30.0,188.0 C30.8,186.5 33.0,185.2 34.0,184.0 C35.0,182.8 35.2,181.8 36.0,181.0 C36.8,180.2 38.2,179.6 39.0,179.0 C39.8,178.4 40.0,178.1 41.0,177.5Z" fill="#fff" stroke="#a4a4e4" stroke-width="0.6"/>
<path d="M88.0,178.0 C86.3,178.8 83.7,179.5 82.0,181.0 C80.3,182.5 79.0,185.5 78.0,187.0 C77.0,188.5 76.2,188.8 76.0,190.0 C75.8,191.2 76.7,192.7 77.0,194.0 C77.3,195.3 77.3,196.7 78.0,198.0 C78.7,199.3 80.2,200.7 81.0,202.0 C81.8,203.3 82.0,204.8 83.0,206.0 C84.0,207.2 85.5,208.0 87.0,209.0 C88.5,210.0 90.3,211.4 92.0,212.0 C93.7,212.6 95.3,212.8 97.0,212.5 C98.7,212.2 100.7,211.1 102.0,210.0 C103.3,208.9 104.0,206.5 105.0,206.0 C106.0,205.5 106.8,207.2 108.0,207.0 C109.2,206.8 111.0,206.2 112.0,205.0 C113.0,203.8 113.3,201.7 114.0,200.0 C114.7,198.3 115.6,196.7 116.0,195.0 C116.4,193.3 116.7,191.7 116.5,190.0 C116.3,188.3 115.8,186.5 115.0,185.0 C114.2,183.5 113.0,182.2 112.0,181.0 C111.0,179.8 110.2,178.8 109.0,178.0 C107.8,177.2 107.0,176.4 105.0,176.0 C103.0,175.6 99.2,175.4 97.0,175.5 C94.8,175.6 93.5,176.1 92.0,176.5 C90.5,176.9 89.7,177.2 88.0,178.0Z" fill="#fff" stroke="#a4a4e4" stroke-width="0.6"/>
<g filter="url(#osp)">
<g fill="#4f74cc">
<ellipse cx="37.8" cy="182.9" rx="2.6" ry="2.6"/>
<ellipse cx="54.3" cy="180.2" rx="2.8" ry="1.4"/>
<ellipse cx="30.4" cy="189.8" rx="1.8" ry="1.8"/>
<ellipse cx="34.6" cy="190.2" rx="3.2" ry="3.8"/>
<ellipse cx="37.6" cy="193.0" rx="2.2" ry="2.8"/>
<ellipse cx="30.8" cy="194.2" rx="1.9" ry="2.1"/>
<ellipse cx="41.8" cy="188.4" rx="1.1" ry="2.0"/>
<ellipse cx="39.4" cy="196.0" rx="2.2" ry="2.2"/>
<ellipse cx="44.0" cy="198.6" rx="5.2" ry="5.0"/>
<ellipse cx="51.6" cy="201.8" rx="4.4" ry="5.2"/>
<ellipse cx="39.3" cy="207.0" rx="4.2" ry="3.4"/>
<ellipse cx="51.0" cy="209.2" rx="5.4" ry="3.4"/>
<ellipse cx="34.8" cy="202.2" rx="1.7" ry="1.7"/>
<ellipse cx="47.4" cy="205.6" rx="1.8" ry="1.8"/>
<ellipse cx="32.5" cy="197.8" rx="1.7" ry="1.5"/>
<ellipse cx="45.2" cy="192.5" rx="1.6" ry="1.6"/>
<ellipse cx="56.5" cy="196" rx="1.4" ry="1.8"/>
<path d="M100.0,184.4 C101.2,183.2 104.0,182.5 106.2,182.3 C108.4,182.1 111.6,182.1 113.2,183.0 C114.8,183.9 115.4,186.2 116.0,187.9 C116.6,189.6 116.9,191.8 116.6,193.4 C116.2,195.0 114.9,196.7 113.9,197.6 C112.9,198.5 111.9,199.0 110.4,199.0 C108.9,199.0 106.3,198.4 104.8,197.6 C103.3,196.8 102.3,195.5 101.4,194.1 C100.5,192.7 99.5,190.9 99.3,189.3 C99.1,187.7 98.8,185.6 100.0,184.4Z"/>
<ellipse cx="93" cy="179.6" rx="5.0" ry="3.0"/>
<ellipse cx="95.8" cy="189.2" rx="3.8" ry="3.5"/>
<ellipse cx="108" cy="203.6" rx="4.2" ry="3.4"/>
<ellipse cx="99.5" cy="186" rx="1.8" ry="1.5"/>
<ellipse cx="103.5" cy="199.5" rx="1.5" ry="1.3"/>
<ellipse cx="91" cy="184.5" rx="1.5" ry="1.2"/>
<ellipse cx="88.5" cy="187.5" rx="1.0" ry="1.0"/>
</g>
</g>
<g fill="#9db0e6">
<circle cx="58" cy="185" r="0.4"/>
<circle cx="62" cy="190" r="0.4"/>
<circle cx="56" cy="195" r="0.4"/>
<circle cx="60" cy="200" r="0.4"/>
<circle cx="64" cy="195" r="0.4"/>
<circle cx="55" cy="188" r="0.4"/>
<circle cx="60" cy="204" r="0.4"/>
<circle cx="66" cy="188" r="0.4"/>
<circle cx="48" cy="183" r="0.4"/>
<circle cx="57" cy="181" r="0.4"/>
<circle cx="85" cy="192" r="0.4"/>
<circle cx="88" cy="198" r="0.4"/>
<circle cx="92" cy="203" r="0.4"/>
<circle cx="96" cy="207" r="0.4"/>
<circle cx="84" cy="200" r="0.4"/>
<circle cx="90" cy="195" r="0.4"/>
<circle cx="80" cy="190" r="0.4"/>
<circle cx="86" cy="205" r="0.4"/>
<circle cx="98" cy="202" r="0.4"/>
<circle cx="94" cy="197" r="0.4"/>
<circle cx="82" cy="195" r="0.4"/>
</g>
<text x="28.3" y="214.0" font-size="6.2" text-anchor="start" fill="#111" font-weight="bold" textLength="9.3" lengthAdjust="spacingAndGlyphs" stroke="#111" stroke-width="0.25">CR</text>
<text x="40.2" y="216.9" font-size="5.2" text-anchor="start" fill="#222" font-weight="bold" textLength="18.3" lengthAdjust="spacingAndGlyphs" stroke="#111" stroke-width="0.25">95.26%</text>
<text x="94.5" y="176.6" font-size="6.0" text-anchor="start" fill="#111" font-weight="bold" textLength="24.5" lengthAdjust="spacingAndGlyphs" stroke="#111" stroke-width="0.25">Relapse</text>
<text x="102.2" y="182.8" font-size="5.0" text-anchor="start" fill="#222" font-weight="bold" textLength="11.8" lengthAdjust="spacingAndGlyphs" stroke="#111" stroke-width="0.25">94.64</text>
<text x="114.2" y="182.8" font-size="3.4" text-anchor="start" fill="#222" font-weight="bold" textLength="2.6" lengthAdjust="spacingAndGlyphs" >%</text>
<line x1="491.6" y1="462.8" x2="491.6" y2="446.2" stroke="#222" stroke-width="0.9"/>
<path d="M490.0,446.8 L491.6,443.6 L493.2,446.8 Z" fill="#222"/>
<line x1="491.2" y1="462.8" x2="511.6" y2="462.8" stroke="#222" stroke-width="0.9"/>
<path d="M511.2,461.2 L514.2,462.8 L511.2,464.4 Z" fill="#222"/>
<g transform="translate(486.6,461.4) rotate(-90)"><text x="0" y="0" font-size="6.6" font-weight="bold" fill="#222" textLength="13.6" lengthAdjust="spacingAndGlyphs">tSNE2</text></g>
<text x="494.5" y="472.0" font-size="6.6" text-anchor="start" fill="#222" font-weight="bold" textLength="13.5" lengthAdjust="spacingAndGlyphs" >tSNE1</text>
<rect x="475.9" y="490.0" width="9.0" height="5.6" fill="#2b4a8b"/>
<rect x="475.9" y="498.3" width="9.0" height="5.5" fill="#b0002c"/>
<text x="488.0" y="494.8" font-size="5.6" text-anchor="start" fill="#333" font-weight="normal" textLength="7.8" lengthAdjust="spacingAndGlyphs" >CR</text>
<text x="488.0" y="502.9" font-size="5.6" text-anchor="start" fill="#333" font-weight="normal" textLength="17.6" lengthAdjust="spacingAndGlyphs" >Relapse</text>
<rect x="0.5" y="0.5" width="519" height="517" fill="none" stroke="#000" stroke-width="1.2"/>
</svg></body></html>
